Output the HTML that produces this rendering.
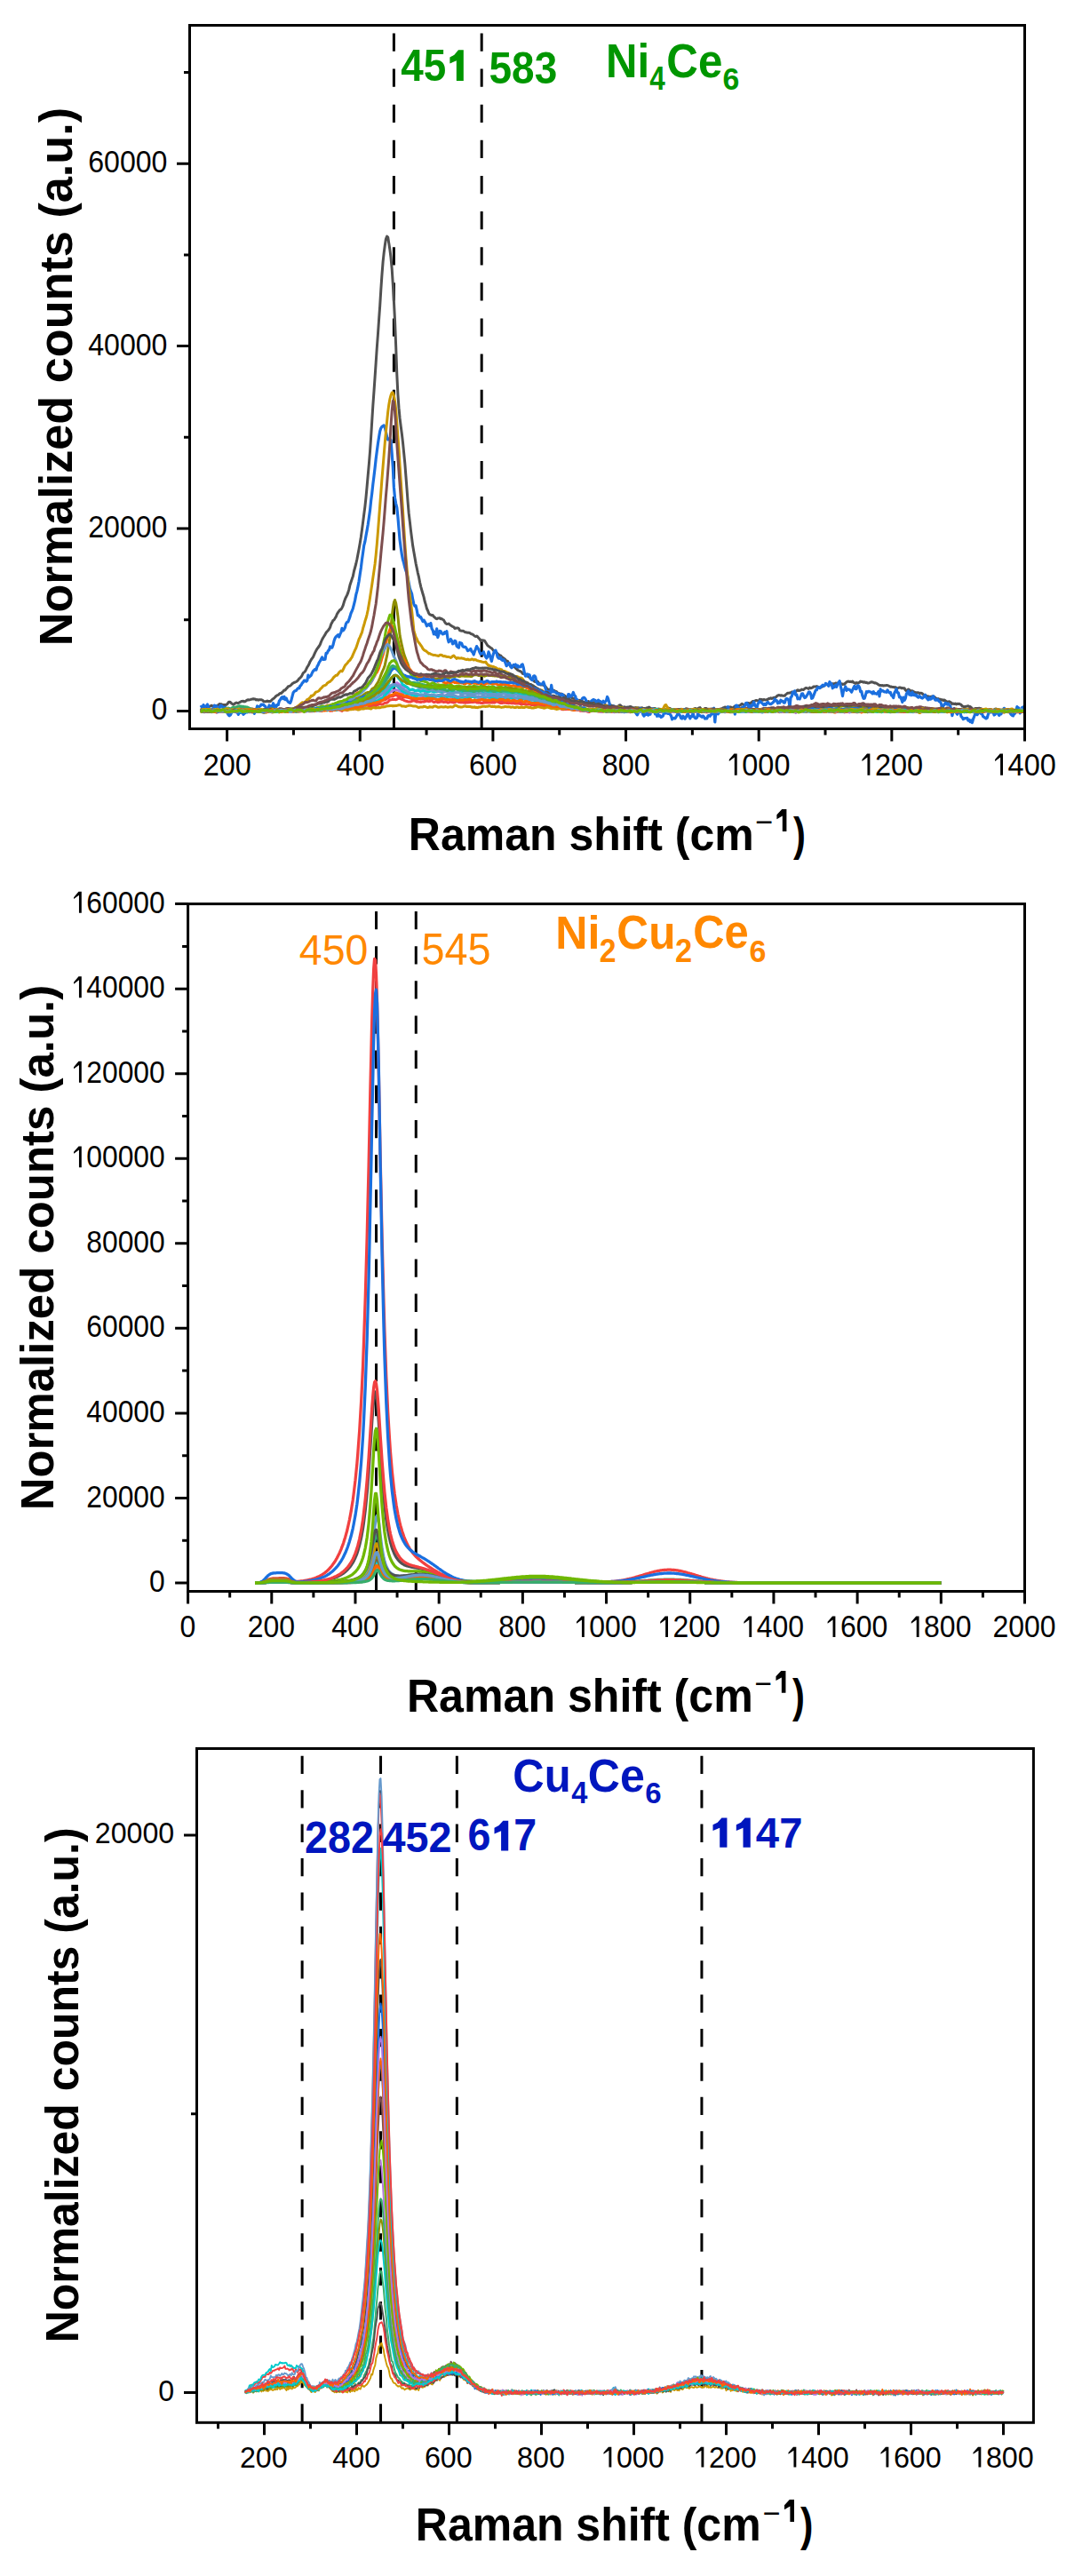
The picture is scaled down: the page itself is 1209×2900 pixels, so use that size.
<!DOCTYPE html><html><head><meta charset="utf-8"><style>html,body{margin:0;padding:0;background:#fff}svg{display:block}text{font-family:"Liberation Sans",sans-serif}</style></head><body>
<svg width="1209" height="2900" viewBox="0 0 1209 2900">
<rect width="1209" height="2900" fill="#fff"/>
<path d="M443.41 820.1V799.8M443.41 779.97V759.67M443.41 739.85V719.55M443.41 699.72V679.42M443.41 659.59V639.29M443.41 619.47V599.17M443.41 579.34V559.04M443.41 539.22V518.92M443.41 499.09V478.79M443.41 458.96V438.66M443.41 418.84V398.54M443.41 378.71V358.41M443.41 338.58V318.28M443.41 298.46V278.16M443.41 258.33V238.03M443.41 218.21V197.91M443.41 178.08V157.78M443.41 137.95V117.65M443.41 97.83V77.53M443.41 57.7V37.4M542.18 820.1V799.8M542.18 779.97V759.67M542.18 739.85V719.55M542.18 699.72V679.42M542.18 659.59V639.29M542.18 619.47V599.17M542.18 579.34V559.04M542.18 539.22V518.92M542.18 499.09V478.79M542.18 458.96V438.66M542.18 418.84V398.54M542.18 378.71V358.41M542.18 338.58V318.28M542.18 298.46V278.16M542.18 258.33V238.03M542.18 218.21V197.91M542.18 178.08V157.78M542.18 137.95V117.65M542.18 97.83V77.53M542.18 57.7V37.4" stroke="#000" stroke-width="3" fill="none"/>
<path d="M423.53 1790.1V1769.8M423.53 1750.95V1730.65M423.53 1711.81V1691.51M423.53 1672.66V1652.36M423.53 1633.51V1613.21M423.53 1594.36V1574.06M423.53 1555.22V1534.92M423.53 1516.07V1495.77M423.53 1476.92V1456.62M423.53 1437.77V1417.47M423.53 1398.63V1378.33M423.53 1359.48V1339.18M423.53 1320.33V1300.03M423.53 1281.18V1260.88M423.53 1242.04V1221.74M423.53 1202.89V1182.59M423.53 1163.74V1143.44M423.53 1124.59V1104.29M423.53 1085.45V1065.15M423.53 1046.3V1026M468.27 1790.1V1769.8M468.27 1750.95V1730.65M468.27 1711.81V1691.51M468.27 1672.66V1652.36M468.27 1633.51V1613.21M468.27 1594.36V1574.06M468.27 1555.22V1534.92M468.27 1516.07V1495.77M468.27 1476.92V1456.62M468.27 1437.77V1417.47M468.27 1398.63V1378.33M468.27 1359.48V1339.18M468.27 1320.33V1300.03M468.27 1281.18V1260.88M468.27 1242.04V1221.74M468.27 1202.89V1182.59M468.27 1163.74V1143.44M468.27 1124.59V1104.29M468.27 1085.45V1065.15M468.27 1046.3V1026" stroke="#000" stroke-width="3" fill="none"/>
<path d="M340.14 2726.6V2706.3M340.14 2688.21V2667.91M340.14 2649.81V2629.51M340.14 2611.42V2591.12M340.14 2573.02V2552.72M340.14 2534.63V2514.33M340.14 2496.23V2475.93M340.14 2457.84V2437.54M340.14 2419.44V2399.14M340.14 2381.05V2360.75M340.14 2342.65V2322.35M340.14 2304.26V2283.96M340.14 2265.86V2245.56M340.14 2227.47V2207.17M340.14 2189.07V2168.77M340.14 2150.68V2130.38M340.14 2112.28V2091.98M340.14 2073.89V2053.59M340.14 2035.49V2015.19M340.14 1997.1V1976.8M428.54 2726.6V2706.3M428.54 2688.21V2667.91M428.54 2649.81V2629.51M428.54 2611.42V2591.12M428.54 2573.02V2552.72M428.54 2534.63V2514.33M428.54 2496.23V2475.93M428.54 2457.84V2437.54M428.54 2419.44V2399.14M428.54 2381.05V2360.75M428.54 2342.65V2322.35M428.54 2304.26V2283.96M428.54 2265.86V2245.56M428.54 2227.47V2207.17M428.54 2189.07V2168.77M428.54 2150.68V2130.38M428.54 2112.28V2091.98M428.54 2073.89V2053.59M428.54 2035.49V2015.19M428.54 1997.1V1976.8M514.34 2726.6V2706.3M514.34 2688.21V2667.91M514.34 2649.81V2629.51M514.34 2611.42V2591.12M514.34 2573.02V2552.72M514.34 2534.63V2514.33M514.34 2496.23V2475.93M514.34 2457.84V2437.54M514.34 2419.44V2399.14M514.34 2381.05V2360.75M514.34 2342.65V2322.35M514.34 2304.26V2283.96M514.34 2265.86V2245.56M514.34 2227.47V2207.17M514.34 2189.07V2168.77M514.34 2150.68V2130.38M514.34 2112.28V2091.98M514.34 2073.89V2053.59M514.34 2035.49V2015.19M514.34 1997.1V1976.8M789.94 2726.6V2706.3M789.94 2688.21V2667.91M789.94 2649.81V2629.51M789.94 2611.42V2591.12M789.94 2573.02V2552.72M789.94 2534.63V2514.33M789.94 2496.23V2475.93M789.94 2457.84V2437.54M789.94 2419.44V2399.14M789.94 2381.05V2360.75M789.94 2342.65V2322.35M789.94 2304.26V2283.96M789.94 2265.86V2245.56M789.94 2227.47V2207.17M789.94 2189.07V2168.77M789.94 2150.68V2130.38M789.94 2112.28V2091.98M789.94 2073.89V2053.59M789.94 2035.49V2015.19M789.94 1997.1V1976.8" stroke="#000" stroke-width="3" fill="none"/>
<path d="M2257 7975l11 2 11-7 11 3 12-2 11 2 11-5 11-6 11 0 12-9 11-4 11-7 11 4 12 4 11-4 11-2 11 2 12-5 11-4 11-12 11 2 11 0 12 11 11-2 11 0 11-2 12-2 11-7 11-18 11-5 11 3 12 13 11 7 11 7 11-7 12-10 11-5 11 5 11 0 11-6 12-7 11-6 11-1 11-3 12 7 11-3 11-9 11-7 11-2 12 1 11-3 11-4 11-2 12-3 11 4 11 0 11 9 11-5 12 7 11-5 11 1 11 0 12 3 11 12 11 5 11 0 11-1 12-6 11 7 11-3 11 3 12-12 11-12 11-8 11-7 11-13 12-12 11-7 11-4 11-10 12-9 11 1 11-13 11-8 11-15 12 0 11-15 11-10 11-17 12-1 11-7 11-8 11-13 12-8 11-6 11-4 11-5 11-7 12-14 11-14 11-9 11-12 12-20 11-22 11-9 11-11 11-21 12-25 11-16 11-22 11-26 12-20 11-16 11-15 11-25 11-24 12-24 11-19 11-14 11-15 12-21 11-29 11-25 11-20 11-17 12-19 11-21 11-14 11-12 12-15 11-19 11-35 11-20 11-23 12-6 11-20 11-17 11-29 12-19 11-15 11-14 11-4 11-19 12-25 11-39 11-31 11-25 12-23 11-28 11-37 11-49 11-32 12-37 11-32 11-54 11-40 12-45 11-50 11-57 11-59 11-62 12-74 11-81 11-83 11-86 12-92 11-103 11-119 11-125 12-133 11-136 11-161 11-178 11-176 12-167 11-159 11-162 11-167 12-160 11-160 11-153 11-179 11-162 12-153 11-102 11-84 11-72 12-29 11 10 11 68 11 72 11 87 12 129 11 172 11 191 11 211 12 302 11 313 11 221 11 155 11 117 12 96 11 83 11 94 11 112 12 123 11 141 11 143 11 147 11 131 12 100 11 97 11 85 11 85 12 69 11 63 11 64 11 52 11 54 12 49 11 58 11 48 11 40 12 42 11 36 11 51 11 34 11 44 12 25 11 29 11 14 11 4 12 6 11-2 11 15 11 9 12 13 11 4 11-8 11 1 11-2 12 9 11-1 11 8 11 7 12 22 11 15 11 8 11-2 11-3 12 11 11 7 11 9 11 6 12 5 11 15 11-1 11-4 11 0 12 6 11 22 11 4 11 1 12 1 11 2 11 10 11 2 11 4 12 2 11-1 11 2 11 9 12 5 11 3 11 10 11 8 11 7 12-5 11 7 11 15 11 11 12 18 11 2 11-2 11-3 11 5 12 19 11 17 11 18 11 7 12 9 11 8 11 6 11 13 11 13 12 16 11 3 11 4 11 13 12 8 11 9 11 2 11 14 11 8 12 10 11 7 11 11 11 13 12 0 11 21 11 13 11 22 12-3 11 5 11 4 11 4 11 12 12 10 11 13 11 6 11 4 12 6 11 6 11 17 11 3 11 3 12-1 11 15 11 10 11 6 12 8 11 10 11 8 11 8 11 7 12 14 11 3 11 1 11-6 12 14 11 12 11 13 11-2 11 1 12 6 11 4 11 11 11 13 12 17 11 4 11-2 11-1 11 2 12 0 11 13 11-1 11 14 12-3 11 16 11 0 11 9 11-2 12 3 11 5 11 6 11 6 12 9 11 6 11 11 11-1 11-9 12-6 11 7 11 15 11 2 12 2 11 7 11 11 11 6 12 0 11-4 11-2 11 5 11 8 12 7 11 2 11 6 11-9 12-1 11-6 11 6 11 3 11 2 12 4 11 0 11-5 11 3 12 4 11 9 11-5 11-3 11 7 12 12 11 10 11 2 11-4 12-6 11 8 11 3 11 9 11-11 12-3 11 0 11 6 11 9 12-4 11 6 11 2 11 5 11-11 12-14 11-2 11 12 11 10 12 5 11-6 11 6 11-2 11 3 12-5 11-1 11-4 11 3 12 8 11 2 11 3 11-4 11-1 12 3 11-2 11 10 11-8 12 2 11-3 11 12 11-6 11 6 12-9 11 2 11-9 11-3 12 11 11 4 11 7 11-6 12-2 11 0 11 6 11 5 11-5 12 1 11 0 11 11 11-10 12 8 11-3 11 6 11-7 11-11 12-7 11 5 11 1 11 11 12 4 11 16 11-6 11-10 11 3 12-1 11 4 11-12 11 4 12-5 11 1 11 3 11-2 11 1 12-8 11 1 11 5 11 4 12 8 11 0 11-1 11-5 11-10 12-4 11 1 11 9 11-8 12-9 11-3 11 16 11 11 11-2 12-9 11-7 11-1 11 6 12 2 11 3 11-2 11 0 11-4 12 8 11 0 11 3 11-4 12-1 11 2 11-3 11 0 11-5 12-2 11-7 11-3 11-6 12 2 11 2 11 3 11-5 12-3 11 1 11 11 11-5 11-6 12-12 11 1 11-4 11-2 12 1 11-4 11-7 11-11 11 5 12 7 11 7 11-9 11-11 12-9 11 4 11 1 11-5 11-8 12-10 11 4 11-9 11-5 12 1 11 3 11 5 11-21 11 3 12-2 11 9 11-8 11 3 12 1 11-3 11-1 11-11 11 0 12-6 11 7 11-6 11-4 12-3 11-3 11-10 11-10 11-3 12 1 11 5 11-5 11 6 12-1 11 1 11-14 11-8 11-9 12 1 11-4 11-2 11-6 12-2 11 3 11 3 11-7 12-13 11-8 11 8 11-3 11-2 12-9 11 3 11 0 11-10 12-9 11 0 11 5 11 4 11-13 12 7 11-4 11-4 11-11 12 2 11 0 11-5 11 3 11 8 12 4 11-1 11-7 11-4 12-8 11-5 11-12 11-3 11 9 12 0 11-1 11-14 11 6 12-4 11 4 11-4 11-6 11 1 12-2 11 2 11-2 11 8 12-1 11 8 11-4 11 3 11-15 12-11 11-6 11-1 11 4 12-2 11 4 11-7 11 14 11 3 12 7 11-9 11 7 11-6 12-3 11-13 11 6 11-1 11 7 12-5 11 7 11-1 11 6 12 1 11-4 11-5 11-4 12 2 11 5 11 5 11-2 11 6 12 7 11 8 11 7 11 0 12 2 11-1 11 4 11-2 11-1 12-1 11 0 11 3 11 7 12 6 11-2 11 5 11-1 11 5 12-3 11 9 11 2 11-3 12-4 11-1 11 8 11-1 11 1 12 1 11 21 11 8 11-9 12-7 11 7 11 8 11 5 11-3 12 7 11 7 11 5 11 1 12-1 11 1 11 8 11-3 11-1 12 7 11 9 11 9 11 1 12 5 11 6 11 2 11 2 11 1 12-2 11-2 11 2 11 2 12 12 11 6 11 8 11-4 11 9 12-3 11 9 11-4 11 8 12-5 11 8 11 8 11 7 12-2 11-3 11 5 11 9 11 12 12-4 11 6 11-6 11 9 12-6 11 2 11-2 11 6 11 5 12 16 11 2 11 8 11-6 12-2 11-2 11-3 11 8 11 1 12 8 11 12 11 6 11 2 12-9 11-1 11 1 11-1 11-1 12 3 11 2 11 12 11 1 12 6 11-13 11 2 11 7 11 6 12-9 11-4 11 2 11 8 12 0 11-6 11-8 11-2 11 7 12 1 11 2 11-1 11 10 12 2 11 0 11 0 11-3 11 1 12-3 11 4 11 1 11 2 12-2 11-1 11-3 11 5 12 8 11 2 11-3 11-13 11 3 12 4 11-3 11-2 11-3 12 9" stroke="#515151" stroke-width="30.0" fill="none" stroke-linejoin="round" transform="scale(.1)"/>
<path d="M2257 8004l11 3 11-4 11-2 12 2 11 3 11 2 11-11 11-4 12 3 11 1 11 4 11-1 12 4 11 2 11-12 11-3 12-5 11 13 11 7 11-1 11-5 12-3 11 1 11-1 11-3 12 5 11-2 11-3 11-11 11 4 12 6 11 5 11-5 11-17 12-14 11-2 11 11 11 9 11-2 12-7 11-2 11-3 11 5 12 9 11 9 11 2 11-14 11-1 12 2 11 8 11-2 11-4 12 3 11 2 11 0 11 5 11 3 12 0 11-3 11 0 11 2 12 3 11 5 11 0 11 2 11-5 12-1 11 5 11 5 11 7 12-5 11-1 11-2 11-4 11-1 12-2 11 5 11 2 11-4 12 6 11-7 11 7 11-13 11 15 12 0 11 1 11-10 11-5 12 6 11 2 11 6 11-5 12-4 11-2 11 3 11 2 11-1 12 3 11-1 11 0 11-1 12 1 11-6 11 0 11-3 11 0 12-5 11 1 11 1 11 7 12 5 11 4 11-4 11-5 11-8 12-7 11-1 11 6 11 9 12-2 11 5 11-8 11 2 11-7 12 9 11-7 11-1 11-12 12 4 11 8 11 9 11 4 11-12 12-1 11-2 11 2 11-4 12-5 11 3 11 8 11 5 11 6 12-13 11-9 11-8 11 2 12-1 11-4 11-1 11-2 11 0 12 9 11 11 11-5 11-12 12-2 11 2 11 4 11-9 11 8 12-8 11-3 11-15 11-3 12-7 11-5 11 1 11 1 12 6 11-4 11-1 11 0 11-6 12-6 11 3 11 7 11 0 12-8 11-14 11-6 11-11 11-3 12-9 11-1 11-4 11-2 12-10 11-6 11-10 11-6 11-2 12-1 11 0 11-6 11-8 12-3 11 7 11 7 11 2 11-3 12 6 11 1 11 7 11-4 12 4 11-3 11 5 11 1 11 2 12 6 11 2 11 4 11-2 12 4 11 3 11 5 11-2 11-6 12-3 11 0 11 4 11-3 12 2 11-3 11 12 11 1 11-1 12-14 11-3 11 7 11 3 12 3 11-7 11-1 11-4 12 9 11 1 11 4 11-1 11 5 12 0 11-2 11-5 11-3 12-10 11 5 11-1 11 15 11 0 12 9 11-7 11-1 11-4 12 5 11-2 11 2 11-1 11-5 12-1 11 4 11 12 11-3 12-2 11-1 11 7 11 0 11 1 12-10 11 1 11-3 11 8 12 6 11 5 11 1 11-6 11-1 12-7 11-1 11-9 11 2 12 2 11-4 11 4 11 6 11 17 12 1 11-10 11-8 11-6 12 4 11-1 11 3 11 3 11 1 12 2 11-8 11-3 11-2 12 7 11 2 11 0 11-3 11 0 12 2 11-4 11 3 11 1 12 4 11 1 11 4 11 2 12 5 11-1 11-3 11-6 11-2 12 3 11-2 11 5 11-2 12 4 11 2 11 6 11 0 11-2 12-2 11-7 11-1 11 1 12 10 11 5 11 3 11 2 11 2 12 1 11 4 11-2 11 8 12-6 11 3 11-7 11 12 11 6 12 4 11-1 11-5 11 5 12 4 11 3 11-4 11-5 11 4 12 3 11 8 11-3 11-1 12-5 11 12 11 3 11 9 11-6 12 3 11-5 11 4 11 5 12 10 11 5 11-2 11 1 11-5 12 5 11 0 11 1 11-3 12 2 11 6 11 4 11-5 12 3 11 3 11 3 11-4 11-3 12 2 11-3 11 2 11 2 12 12 11 4 11 6 11-6 11-3 12-12 11-1 11 8 11 6 12 0 11 2 11 2 11 0 11-7 12 4 11 4 11 0 11-14 12 0 11 3 11 7 11-3 11-5 12-4 11 1 11 7 11 5 12 0 11-8 11-3 11 2 11 1 12 0 11-2 11-1 11 3 12-1 11 4 11-3 11-9 11-2 12 7 11 11 11 3 11-5 12 0 11-11 11-2 11-7 11 12 12 3 11-1 11 4 11-2 12 13 11-11 11 5 11-4 11 6 12 1 11-10 11 0 11-12 12 12 11 4 11 5 11-3 12-15 11 4 11 6 11 13 11-5 12-7 11 0 11 2 11 0 12-6 11 1 11 1 11 14 11 1 12-1 11-10 11-2 11-5 12 1 11 4 11 5 11-2 11 0 12-3 11-5 11-2 11 7 12 6 11-7 11-1 11 3 11 6 12-3 11-3 11-2 11-3 12-7 11 1 11 1 11 7 11-13 12 7 11 2 11 10 11 2 12 0 11-3 11 0 11-1 11-4 12-3 11 4 11 15 11-1 12 2 11-11 11-6 11-8 11 5 12 3 11 4 11 1 11 4 12-2 11-3 11-4 11-7 11-3 12-1 11 10 11-3 11 2 12-6 11 7 11 1 11 11 12-1 11 4 11-5 11-8 11 3 12-3 11 6 11-7 11-4 12 5 11 4 11 6 11-9 11-5 12-1 11 4 11 7 11-3 12-8 11-5 11 4 11 9 11 3 12 4 11-10 11-2 11-5 12-2 11-1 11-6 11 7 11-4 12 5 11 2 11 3 11-3 12-5 11 0 11 4 11 5 11-1 12 1 11 0 11-1 11-4 12-3 11 4 11 7 11 1 11-3 12-4 11 0 11-3 11-1 12-1 11 7 11-1 11 5 11 1 12-2 11 7 11-5 11-2 12-12 11 6 11 1 11 8 12-2 11-5 11-7 11-8 11 9 12 8 11 7 11-9 11-11 12-6 11 5 11 3 11 4 11-11 12 0 11-8 11 11 11-5 12 10 11 1 11 4 11-2 11-1 12 2 11 0 11-7 11-5 12 3 11-1 11 4 11-5 11 7 12-3 11-3 11 1 11 3 12 7 11-8 11 3 11-2 11 9 12-3 11-6 11-2 11 1 12 4 11-6 11-1 11 5 11-1 12 0 11-13 11 7 11 3 12 8 11 3 11-1 11-5 11-7 12 7 11 0 11 1 11-11 12 4 11 1 11 3 11 0 11 4 12-3 11-1 11-5 11 3 12 2 11 2 11 6 11-2 12-1 11-4 11 7 11-3 11 0 12-6 11 6 11 1 11 2 12 3 11 0 11-9 11-8 11-9 12 10 11 11 11 12 11 8 12-11 11-9 11-9 11 2 11 3 12 1 11-1 11 5 11 2 12 3 11 3 11 2 11-2 11-7 12 5 11-1 11 0 11-11 12 3 11 0 11 7 11 1 11 6 12-3 11-5 11-9 11-2 12 6 11 3 11-1 11-8 11 0 12 10 11 7 11 4 11-6 12 0 11-1 11-1 11-5 11-1 12-3 11 5 11-3 11 6 12-4 11 6 11-10 11 0 11-3 12 7 11 4 11 1 11 4 12 2 11 4 11-10 11-7 12 0 11 7 11 11 11-4 11-5 12-11 11 6 11 0 11 7 12-2 11 4 11 3 11-5 11-1 12-7 11 4 11 7 11 7 12-3 11-1 11-1 11 0 11-1 12-5 11 0 11-2 11 3 12 3 11-1 11 1 11-1 11-2 12 2 11 4 11-8 11 1 12-3 11 3 11-7 11 2 11-3 12-2 11-2 11 12 11 4 12-1 11-3 11 5 11 1 11-1 12-6 11 5 11 9 11 0 12-4 11-11 11 3 11-8 11 0 12 1 11 5 11 2 11-4 12 2 11 7 11 2 11-2 12-5 11 4 11-2 11 5 11-2 12-2 11-2 11-3 11 3 12-4" stroke="#F14040" stroke-width="30.0" fill="none" stroke-linejoin="round" transform="scale(.1)"/>
<path d="M2257 7962l11-9 11 11 11-28 12 16 11 4 11-9 11-17 11 29 12 30 11 23 11 3 11-37 12 7 11-44 11 17 11-11 12 22 11 8 11-6 11-28 11 0 12 12 11 23 11-14 11-1 12 17 11 49 11 19 11 10 11-8 12-25 11-22 11-8 11 16 12-14 11 21 11-1 11 27 11-22 12 2 11-2 11-10 11 31 12-12 11-5 11-23 11 16 11-23 12-4 11-13 11 38 11-6 12 3 11 19 11-46 11 0 11-38 12 37 11-32 11-5 11-19 12 3 11-3 11 16 11 4 11 36 12-14 11 1 11-34 11 27 12-17 11 7 11-39 11 40 11-15 12 13 11-22 11 2 11-42 12-16 11-19 11-10 11 18 11-23 12 34 11-17 11 25 11 17 12 8 11 4 11-27 11-44 12-45 11-14 11-7 11-3 11-16 12-12 11 2 11-27 11-7 12-24 11-10 11-19 11-1 11 12 12-9 11-62 11 22 11-11 12-10 11-27 11-20 11-10 11-11 12 8 11-38 11-17 11-28 12-17 11-21 11-22 11 26 11-2 12-1 11-69 11 0 11-25 12-10 11-39 11 12 11 1 11-29 12-49 11-30 11-17 11-9 12-12 11 24 11-29 11-22 11-45 12 24 11-12 11-21 11-44 12-18 11-1 11-30 11-31 11-39 12-24 11-31 11-43 11-45 12-65 11-41 11-52 11-58 11-76 12-78 11-90 11-77 11-81 12-46 11-64 11-60 11-63 12-82 11-78 11-108 11-85 11-102 12-94 11-93 11-101 11-85 12-90 11-71 11-65 11-33 11-17 12-8 11-7 11 23 11 49 12 57 11 32 11-9 11 1 11 13 12 151 11 152 11 226 11 118 12 69 11 43 11 105 11 132 11 130 12 90 11 73 11 57 11 38 12 49 11 37 11 29 11 52 11 57 12 63 11 31 11 28 11 64 12 53 11 22 11-4 11 49 11 60 12-2 11 22 11-2 11 24 12 26 11-16 11 18 11 19 11 30 12-14 11-7 11 17 11-28 12 62 11 17 11 43 11-23 12 30 11-66 11 97 11-33 11-39 12 4 11 20 11 12 11-4 12-19 11 11 11-21 11 82 11 39 12-16 11-17 11 19 11 35 12-8 11-28 11 6 11 55 11 10 12 7 11-57 11 5 11 3 12 36 11 5 11-1 11 4 11 15 12 26 11-6 11-5 11-11 12 28 11 10 11 27 11-35 11-27 12-32 11 20 11 14 11 32 12 22 11-7 11-3 11-15 11 32 12 25 11 14 11-19 11-53 12 32 11 41 11 33 11-50 11-38 12-29 11-6 11 30 11 44 12 16 11 2 11-11 11 25 11 7 12-8 11 15 11 26 11 30 12-12 11-16 11-3 11 38 12 14 11-12 11-22 11 4 11-9 12 27 11-15 11 21 11-7 12 3 11-23 11-5 11 38 11 60 12 33 11-2 11-19 11 4 12 3 11 43 11 13 11 3 11-43 12-5 11 15 11 52 11 20 12 9 11-8 11 6 11 0 11 0 12-24 11 32 11 39 11 36 12 12 11-12 11 15 11 1 11-87 12 75 11-9 11 9 11 2 12 12 11 5 11 0 11 13 11 19 12-22 11-2 11 17 11 21 12 46 11-24 11-2 11-59 11 2 12 24 11-6 11-11 11-30 12 35 11 8 11 49 11-10 12 43 11-9 11 31 11-48 11-28 12-12 11 1 11 14 11 23 12 27 11 29 11-30 11-10 11-14 12-9 11-9 11 4 11 5 12 20 11-8 11-15 11 11 11 3 12 30 11-18 11-14 11 16 12-9 11-13 11-42 11 23 11 40 12 51 11 2 11-3 11-11 12 45 11 12 11 7 11-2 11-24 12 21 11 6 11 1 11 1 12-9 11 3 11-15 11 9 11 6 12 6 11 0 11-15 11-14 12 11 11 1 11-4 11 20 11 18 12 18 11-21 11-34 11-18 12 2 11 30 11 40 11 13 11-22 12 5 11-24 11 32 11-22 12 12 11-39 11-9 11-16 12 21 11 40 11-19 11 43 11-22 12 20 11-5 11 18 11-6 12-12 11-39 11 12 11 0 11-9 12 13 11-32 11 42 11 13 12 43 11-15 11 3 11 2 11-18 12-19 11-27 11 17 11 14 12 30 11 4 11-28 11 17 11 13 12-20 11-23 11-13 11 29 12 23 11-25 11 4 11-41 11 42 12 14 11 5 11-9 11-46 12 24 11 1 11 7 11 9 11-14 12 13 11 19 11-4 11 1 12-29 11-6 11 9 11-16 11-8 12-56 11-9 11 157 11-123 12 9 11 23 11-19 11 0 11-19 12 4 11-13 11-11 11 16 12-16 11 1 11-25 11 18 12 13 11-1 11 4 11-3 11 0 12 52 11-96 11-3 11 19 12 12 11 3 11 11 11-19 11-6 12-4 11-12 11-30 11-2 12 24 11 40 11-33 11 16 11-22 12 4 11-40 11 35 11 16 12 18 11-46 11-15 11-16 11 6 12 13 11 11 11 11 11-11 12 11 11-20 11-11 11 13 11 8 12 2 11-8 11-9 11-10 12-30 11 19 11-2 11 31 11-15 12 9 11-30 11 11 11 1 12 18 11-1 11-36 11-11 11 5 12 16 11 78 11-113 11-8 12-49 11 14 11-29 11 45 12-2 11 47 11-5 11 6 11-29 12-29 11-3 11 28 11 19 12-5 11-18 11-16 11-24 11-1 12 20 11 52 11-5 11-29 12-30 11-29 11-2 11-28 11-1 12 7 11-11 11-11 11-11 12 11 11-7 11-22 11 6 11 4 12 19 11-48 11 15 11 9 12 48 11-20 11 7 11-24 11 23 12-34 11-12 11-22 11 55 12 51 11 64 11-66 11-9 11-31 12 44 11-15 11 2 11 2 12 12 11 17 11-25 11-24 11-19 12 32 11 0 11-36 11-1 12 22 11 45 11-3 11 50 11 30 12-1 11-35 11-40 11 7 12-11 11 3 11 5 11 3 12 15 11-23 11 22 11-3 11 8 12-8 11-21 11 55 11-80 12 22 11-6 11 6 11 8 11-1 12 5 11-24 11 18 11 11 12-4 11 34 11 7 11 21 11-53 12-24 11-23 11 40 11 2 12 50 11-2 11 24 11 35 11-54 12 32 11-18 11-51 11-19 12-15 11 42 11-15 11 20 11-35 12 33 11-10 11 15 11-8 12 23 11 7 11-16 11 8 11 12 12 5 11-10 11-18 11-10 12 31 11 12 11 13 11-26 11 19 12-4 11-22 11-10 11 27 12 18 11 1 11-10 11 12 11 12 12 7 11 20 11 66 11-46 12-8 11-22 11 3 11 15 12-11 11 16 11 10 11 45 11 66 12-54 11-28 11 38 11 11 12 18 11-25 11 0 11 3 11 46 12 11 11 19 11-7 11-3 12 0 11-3 11 28 11-8 11 24 12-17 11 25 11-39 11-29 12-32 11 4 11 7 11-13 11-17 12-6 11 25 11 4 11 28 12 7 11 7 11 8 11-7 11-38 12-26 11-2 11 4 11-14 12 10 11 34 11-7 11-22 11-16 12 32 11 17 11-18 11 2 12-28 11-14 11-23 11 9 11 17 12-3 11 1 11 3 11 25 12 18 11 10 11 6 11-20 12-9 11-32 11-42 11 10 11 8 12 55 11-22 11-41 11 2 12-18" stroke="#1A6FDF" stroke-width="32.0" fill="none" stroke-linejoin="round" transform="scale(.1)"/>
<path d="M2257 8007l11 0 11-5 11-2 12 2 11-3 11 6 11-7 11 2 12-2 11 3 11 0 11-1 12 2 11-2 11 0 11 1 12-1 11-1 11 0 11 2 11 5 12-5 11-5 11-15 11-3 12-3 11 0 11-4 11 5 11 3 12-2 11-10 11-5 11 1 12 3 11-3 11-8 11-5 11-2 12 5 11-1 11 4 11-2 12 4 11 0 11 3 11 0 11 7 12 5 11 4 11 3 11 5 12 3 11-2 11 3 11 1 11 2 12 6 11-1 11 3 11-2 12 4 11-3 11 0 11 2 11 0 12-7 11-7 11 4 11 7 12 9 11 1 11 0 11-4 11-5 12 1 11-4 11 7 11-2 12 9 11-5 11-2 11-4 11 10 12 1 11-1 11 0 11-8 12 0 11-12 11 7 11-2 12-1 11-9 11 5 11-2 11 10 12-4 11 7 11-3 11 5 12 0 11 2 11-5 11-3 11-4 12-1 11-4 11-1 11-3 12 0 11 0 11 1 11 1 11 0 12-4 11 3 11-1 11 3 12-2 11-2 11 0 11 5 11-4 12-2 11-10 11 5 11-4 12 5 11-9 11 0 11-4 11 12 12 4 11-1 11-8 11-7 12-2 11-6 11-3 11-3 11 3 12 0 11-5 11-3 11-5 12-2 11-4 11-7 11-4 11 1 12 1 11-4 11-6 11-8 12 2 11 2 11 5 11-5 11-10 12-18 11-9 11-8 11-1 12 2 11-3 11-3 11-16 12-4 11-2 11-1 11-8 11-11 12-8 11-9 11-6 11-7 12-15 11-10 11-14 11-2 11-9 12-15 11-19 11-25 11-18 12-20 11-14 11-23 11-21 11-29 12-15 11-17 11-5 11-4 12 5 11 2 11 16 11 17 11 21 12 15 11 7 11 16 11 6 12 14 11 12 11 13 11 5 11 6 12 7 11 8 11 1 11-2 12 1 11 1 11 7 11-2 11-2 12 3 11 6 11 8 11-1 12 3 11 2 11 6 11 2 11-1 12-6 11-3 11 2 11 6 12 7 11-3 11-1 11-6 12 1 11-1 11 3 11 3 11 6 12 2 11-2 11-9 11 0 12 1 11-2 11-1 11 2 11 10 12 1 11 6 11-2 11 5 12-4 11 4 11-6 11 0 11 0 12 4 11-1 11 0 11 0 12 5 11 2 11-2 11 1 11-3 12 1 11-8 11 3 11 3 12 4 11-1 11 5 11-3 11-2 12-8 11 6 11 0 11 1 12-7 11-1 11-5 11 9 11 5 12 5 11-1 11-8 11-2 12 2 11 5 11-4 11-2 11-2 12 11 11 1 11 2 11-3 12-2 11-1 11-3 11 5 11 2 12 2 11-5 11-3 11 3 12 3 11 7 11-2 11 3 12 0 11 4 11-4 11 1 11 4 12 2 11 4 11 1 11 10 12-2 11-1 11 2 11 3 11 1 12 0 11 6 11 5 11-1 12 3 11 1 11 5 11-5 11 8 12 1 11 5 11-2 11 7 12 1 11 7 11 5 11 10 11 8 12 3 11 2 11 0 11 6 12 2 11 4 11 5 11 4 11-2 12 6 11 8 11 9 11 4 12 0 11 8 11 6 11 10 11-1 12 7 11 1 11 13 11-4 12 3 11-4 11 0 11 5 11 2 12 8 11 0 11 8 11 2 12 7 11-4 11 3 11 2 12 5 11 3 11 2 11-4 11 6 12 6 11 14 11 0 11-2 12-5 11-2 11 0 11 3 11 6 12-1 11-3 11-1 11 1 12 7 11 0 11 3 11-4 11 4 12 1 11 0 11-5 11-1 12 10 11 4 11 3 11-5 11 5 12-4 11-3 11-1 11 5 12 0 11-8 11-4 11 4 11 4 12 2 11-6 11-1 11 3 12 1 11-1 11-6 11 0 11-3 12 10 11 6 11 7 11-3 12-5 11-4 11-4 11 4 11-4 12-1 11 3 11 6 11 5 12-8 11-5 11-8 11 7 11 2 12 5 11-3 11 1 11 6 12-2 11 1 11-2 11-3 12 0 11-4 11 6 11 3 11 2 12-3 11-2 11-3 11-4 12-6 11 2 11 7 11 1 11 3 12 1 11-2 11-6 11-4 12 6 11-8 11-8 11 0 11 5 12 11 11-2 11-2 11-5 12 2 11 3 11-5 11-3 11-3 12 6 11 3 11 8 11 5 12 4 11 0 11 0 11-7 11 1 12-3 11 8 11-13 11 3 12-7 11 3 11-1 11 0 11 5 12-3 11 2 11-5 11-2 12-2 11 2 11 3 11 2 11 4 12-1 11 3 11 0 11 0 12-1 11-2 11 4 11-4 11 2 12-5 11 3 11 6 11 8 12-13 11-2 11-5 11 16 12-9 11-5 11-7 11 7 11-1 12 5 11-7 11 3 11 5 12 4 11 2 11-15 11 4 11-2 12 8 11-1 11 1 11-1 12-4 11-1 11 1 11 1 11 1 12 0 11 0 11-6 11-3 12-2 11 0 11 4 11-2 11 4 12-2 11 5 11-4 11 2 12-4 11 3 11 0 11 0 11 1 12-5 11 3 11-1 11 0 12 2 11-4 11 3 11-5 11 2 12 3 11-5 11-2 11-4 12 2 11-2 11 1 11 5 11 7 12 5 11-2 11-7 11 0 12-1 11 1 11-3 11 0 12 5 11-2 11 1 11-2 11 2 12-3 11-5 11 2 11-1 12 6 11 2 11 4 11-4 11-6 12-3 11 6 11-4 11-2 12-8 11 9 11 1 11 3 11-4 12 2 11 3 11-5 11-3 12-8 11-1 11 8 11 4 11 5 12-2 11-3 11-9 11-1 12 1 11 7 11-3 11 1 11-2 12 2 11 2 11-3 11-2 12-1 11 10 11-2 11-1 11-6 12-4 11 8 11-2 11 10 12-3 11 9 11-7 11-3 11-5 12 3 11 6 11 0 11 0 12-4 11-2 11 6 11-3 11 1 12-5 11-4 11-1 11 3 12 3 11 4 11-7 11 2 12-4 11 4 11 4 11 0 11 3 12-10 11-5 11-6 11 7 12 4 11 2 11 3 11 3 11-1 12-3 11-4 11 10 11 3 12 3 11-3 11-2 11 1 11 2 12-5 11-4 11 0 11 0 12 0 11-4 11 14 11-3 11 1 12-11 11-1 11 4 11-1 12 3 11-5 11 13 11-3 11-1 12-8 11 9 11 0 11 0 12-8 11 5 11 8 11 7 11 0 12-7 11-1 11-3 11-3 12-5 11 0 11 9 11 5 11 1 12-4 11 1 11-1 11 7 12-2 11-1 11-8 11 2 11-1 12 7 11 0 11 1 11-4 12 1 11-2 11 0 11 2 12 5 11-2 11 1 11-1 11 2 12-3 11-2 11-3 11 0 12 1 11 0 11 3 11 0 11 6 12-6 11 0 11 1 11 5 12-2 11-4 11 3 11-3 11 1 12-6 11 6 11 3 11 5 12-1 11-2 11-4 11-1 11-1 12 2 11 3 11-2 11 1 12-7 11 5 11-12 11 5 11 3 12 6 11 2 11-4 11 1 12 0 11 9 11-2 11 1 11-10 12 0 11 0 11 3 11 0 12 1 11-4 11 4 11 0 11 3 12-6 11 2 11-5 11 10 12-4 11 4 11-9 11 0 12-7 11-6 11 2 11 5 11 11 12 2 11 2 11-6 11-4 12-1" stroke="#37AD6B" stroke-width="32.0" fill="none" stroke-linejoin="round" transform="scale(.1)"/>
<path d="M2257 8001l11 4 11 2 11 3 12 2 11-7 11 1 11-5 11 3 12 3 11 0 11 6 11-3 12-1 11-10 11 0 11-4 12 5 11 4 11 2 11 0 11-3 12-1 11 4 11-1 11 1 12-6 11 1 11 1 11 2 11-3 12 1 11 7 11 3 11-6 12-3 11-1 11 2 11-2 11 3 12 2 11 0 11 0 11 0 12 4 11 2 11 3 11-4 11-5 12-1 11-4 11-2 11-2 12 0 11-3 11-2 11 5 11 2 12-1 11-3 11 3 11 2 12 1 11 5 11-4 11 1 11-12 12 5 11 2 11 4 11-1 12-5 11 4 11 2 11 4 11 1 12-3 11 2 11-3 11-2 12-1 11 2 11 5 11-2 11-1 12-4 11-4 11 2 11 0 12 5 11 1 11 5 11 4 12-4 11 2 11-6 11-8 11-3 12 7 11 6 11 1 11-7 12 1 11-4 11-7 11-1 11-1 12 7 11 3 11 2 11 3 12-5 11-2 11-6 11 2 11-8 12 2 11-2 11 8 11-4 12 2 11-3 11 7 11-3 11-5 12-9 11 4 11 2 11 5 12 1 11 5 11-6 11-5 11-1 12 1 11-3 11-4 11-1 12 1 11-6 11-2 11-3 11 1 12-2 11-1 11-2 11 1 12-1 11 5 11 1 11 0 11-8 12-14 11-2 11-1 11 9 12-5 11-3 11-9 11 0 11-5 12-2 11-7 11 2 11 0 12-4 11-9 11-7 11-3 12-3 11-2 11-9 11-12 11-7 12-6 11 7 11-8 11-4 12-13 11-6 11-9 11 0 11-7 12-4 11-13 11-9 11-16 12-9 11-14 11-8 11-19 11-7 12-12 11-4 11 1 11-3 12-4 11-14 11 8 11 8 11 7 12 7 11 8 11 8 11 1 12-1 11 4 11 5 11 11 11 9 12 3 11-1 11 0 11-1 12 5 11 3 11 8 11-7 11 0 12-6 11 3 11-1 11 4 12 6 11 3 11 5 11 0 11-2 12-6 11-3 11 0 11-1 12 3 11 2 11 0 11 2 12 5 11 1 11-1 11-7 11 5 12 5 11 5 11 0 11-2 12-4 11-3 11 1 11 10 11 2 12-5 11-6 11-3 11 1 12 0 11 9 11-2 11 3 11-8 12 9 11 1 11-1 11 0 12-3 11 5 11-9 11-1 11-4 12 5 11 6 11-2 11 2 12-5 11 6 11 3 11-1 11 1 12 0 11 7 11 6 11-3 12-4 11-3 11-2 11 0 11-4 12 0 11 0 11 4 11 3 12 3 11-4 11-2 11-6 11-2 12 3 11 4 11-1 11-2 12-2 11 6 11-6 11 2 11-1 12 10 11 3 11 2 11-5 12 3 11-3 11 3 11-4 12 0 11-1 11 1 11 0 11 5 12 1 11 4 11-7 11 4 12-1 11 12 11-3 11 3 11-4 12 3 11 7 11 4 11 4 12 0 11 3 11 0 11 1 11 2 12 5 11-1 11-4 11 0 12 5 11 13 11 8 11 7 11 2 12-2 11 2 11-3 11 6 12 2 11 8 11 8 11 5 11 0 12-3 11 2 11 4 11 5 12 3 11-2 11 3 11 10 11 17 12 6 11-3 11-6 11 1 12 4 11 4 11 6 11 3 11 4 12 0 11 5 11 2 11-2 12 0 11 11 11 8 11 3 12-6 11 1 11 1 11 0 11-3 12 0 11 7 11 9 11 0 12 0 11-3 11 4 11-2 11 0 12 3 11 3 11 1 11-2 12 2 11-4 11 4 11-7 11 11 12-6 11 8 11-7 11 3 12-8 11 5 11 0 11 2 11-3 12 3 11-3 11 6 11 3 12 8 11-10 11-1 11-3 11 7 12-2 11-1 11-1 11 4 12-2 11-2 11-9 11 0 11 0 12 9 11 1 11-2 11-9 12-1 11-1 11 4 11-4 11-1 12 1 11 10 11-2 11 0 12-2 11 9 11 6 11-3 11-4 12-6 11-3 11 1 11 0 12 5 11 1 11 8 11 1 12-6 11-5 11-4 11 3 11-7 12-4 11 2 11 8 11 1 12-3 11-2 11 0 11-1 11 0 12-6 11 1 11 4 11 8 12 1 11-9 11 0 11 2 11 4 12 5 11-1 11 0 11-1 12 5 11 4 11 0 11-7 11-2 12-2 11 4 11-1 11 1 12-4 11 0 11-7 11 0 11 2 12 7 11 1 11-3 11-7 12 2 11 6 11 10 11 2 11-4 12-4 11-2 11-1 11-1 12 4 11 0 11 1 11-4 11 1 12 5 11-2 11 0 11-5 12 1 11-2 11-1 11-1 11 3 12 5 11-1 11-1 11-10 12 6 11-3 11 7 11-4 12 3 11-1 11-5 11-1 11 7 12 4 11-3 11-8 11 4 12 0 11 0 11-1 11 1 11 1 12-4 11 1 11 1 11-4 12-7 11 4 11 0 11 7 11-7 12 11 11-1 11 5 11-6 12-1 11-3 11 1 11 0 11-1 12 0 11 1 11 5 11 3 12 1 11-3 11-5 11-2 11-4 12-1 11-1 11 5 11 4 12 6 11-2 11 0 11-1 11 0 12 2 11-4 11 8 11-2 12-2 11-4 11 0 11 7 11-3 12 1 11-6 11 0 11-4 12 1 11-1 11-3 11 4 12 2 11 10 11-4 11-4 11-4 12 4 11 6 11-2 11 1 12 3 11 0 11-1 11-4 11 4 12 1 11-2 11-6 11-3 12-4 11 2 11-3 11 6 11 3 12-1 11 0 11-5 11 3 12 1 11-5 11-1 11-1 11 5 12 5 11-1 11-7 11-1 12-1 11 12 11-2 11-2 11 0 12 2 11 0 11-4 11-4 12 2 11 4 11 7 11 8 11-6 12-1 11 0 11 3 11-4 12-6 11 4 11-4 11 3 11-5 12 4 11 0 11-1 11-1 12-7 11-4 11-6 11 1 11 4 12 7 11 7 11 1 11 1 12-4 11 3 11-3 11 0 12-8 11-2 11 1 11 6 11-2 12 2 11 0 11 6 11-3 12 2 11-3 11-1 11-3 11 5 12-1 11 2 11-3 11 3 12-5 11-2 11 3 11 3 11 0 12-5 11 1 11-5 11 4 12 2 11 1 11-7 11-2 11 0 12 4 11 0 11 9 11-5 12-4 11 2 11 4 11 6 11-4 12 4 11-4 11-3 11-1 12 3 11 1 11-3 11 6 11 3 12 2 11-2 11-5 11 1 12-5 11 1 11-3 11 1 11-3 12 3 11 5 11 3 11-2 12-3 11-3 11-2 11-6 11 4 12 3 11 3 11-6 11 1 12 0 11 4 11-1 11-1 12-3 11-3 11 5 11 2 11 8 12-4 11 4 11-4 11-1 12-3 11-2 11 5 11-9 11 4 12 0 11 8 11-11 11 0 12-1 11 5 11 5 11-3 11 2 12-11 11-2 11-1 11 1 12 7 11 5 11 4 11-3 11-2 12-2 11-2 11-6 11 2 12 3 11 4 11-1 11-4 11-3 12 3 11-1 11 1 11-6 12 7 11 5 11 0 11-5 11-2 12 4 11-4 11 1 11 0 12 4 11-3 11-2 11 5 11 10 12-1 11 1 11-7 11 4 12-5 11 3 11 5 11-4 12-2 11-6 11-1 11-2 11-4 12 6 11 2 11 1 11 2 12 0" stroke="#B177DE" stroke-width="30.0" fill="none" stroke-linejoin="round" transform="scale(.1)"/>
<path d="M2257 7998l11 1 11 5 11-2 12-1 11-4 11 2 11 0 11 15 12-1 11-4 11-11 11 4 12-1 11 2 11-8 11 1 12-10 11 5 11 2 11 4 11 6 12 4 11-3 11-4 11 0 12 4 11-9 11-4 11 3 11 6 12-2 11 6 11-1 11 0 12-10 11-2 11-1 11-3 11 5 12 3 11 3 11 0 11 3 12 9 11 1 11 4 11-5 11-1 12-10 11 9 11 3 11 8 12-6 11-2 11-6 11 0 11 6 12 3 11 2 11-4 11-1 12 8 11 3 11 3 11-5 11 2 12-5 11-8 11-12 11 7 12 13 11 4 11-3 11-5 11 0 12-2 11 2 11 1 11 6 12-11 11 5 11-1 11-2 11-10 12-7 11 7 11 0 11-3 12-7 11 3 11 4 11 0 12-12 11-9 11-7 11-1 11-14 12-9 11-7 11-12 11-8 12-12 11 2 11-1 11-8 11-9 12-16 11 3 11-17 11-7 12-21 11 2 11-9 11-7 11-18 12-12 11-1 11-6 11-7 12-16 11-10 11-11 11-15 11-4 12-4 11-5 11-17 11-8 12-9 11-2 11-13 11-9 11-17 12-15 11-8 11-10 11 1 12-15 11-17 11-12 11-8 11 8 12-20 11-24 11-22 11-13 12-11 11-15 11-15 11-7 11-19 12-17 11-27 11-25 11-25 12-24 11-33 11-33 11-34 11-21 12-30 11-26 11-45 11-35 12-45 11-32 11-43 11-50 12-70 11-69 11-73 11-72 11-76 12-82 11-76 11-104 11-120 12-146 11-144 11-144 11-143 11-150 12-146 11-133 11-135 11-122 12-118 11-109 11-82 11-61 11-43 12-30 11 1 11 33 11 60 12 101 11 149 11 146 11 154 11 174 12 177 11 167 11 167 11 180 12 189 11 151 11 128 11 111 11 110 12 91 11 79 11 89 11 100 12 121 11 40 11 34 11 19 11 28 12 17 11 12 11 17 11 14 12 23 11 13 11 9 11 3 11 10 12 9 11 13 11-3 11 8 12 4 11 4 11 3 11-1 12 3 11 2 11 4 11 2 11-10 12-2 11 1 11 10 11 4 12-2 11 4 11 4 11 1 11 1 12 3 11 5 11-6 11-12 12-6 11 14 11 9 11 12 11-10 12 4 11 0 11 2 11-3 12 5 11 1 11 6 11 2 11 4 12-6 11 7 11 0 11 0 12-7 11 3 11 7 11-4 11 1 12 6 11 5 11 3 11 3 12 2 11 5 11 2 11 1 11 0 12-3 11 18 11 11 11 14 12-2 11 7 11 0 11 7 11-1 12 6 11 3 11 8 11 6 12 9 11-6 11 6 11 1 11 13 12 3 11 2 11 3 11 10 12 1 11 5 11 9 11 19 12 10 11 2 11 4 11 4 11 0 12-7 11 2 11 6 11 7 12-2 11 4 11 9 11 17 11 16 12 8 11 2 11 1 11 12 12 9 11 9 11 7 11 18 11 4 12 6 11-7 11 11 11 3 12 12 11-4 11 0 11 3 11 6 12 16 11 2 11 14 11 0 12 9 11 0 11 11 11 5 11 1 12 6 11 3 11 16 11 5 12 1 11 1 11-13 11 12 11 0 12 2 11 3 11 2 11 7 12-6 11 0 11 3 11 6 11 12 12 6 11-7 11 0 11-2 12 10 11-1 11 4 11-4 12-3 11 7 11 12 11 10 11 0 12-4 11-3 11 4 11 3 12 6 11-5 11 3 11-3 11-2 12 1 11 1 11 7 11 1 12-1 11-2 11 3 11 7 11 10 12 6 11-1 11-2 11-11 12 5 11 0 11 8 11 2 11 5 12 2 11 9 11 6 11 6 12-4 11-6 11-4 11-7 11-9 12 10 11 0 11 7 11-6 12 6 11 13 11-1 11-5 11-2 12 2 11 7 11-7 11-2 12 4 11 1 11 3 11-11 11-2 12-2 11 14 11 9 11 4 12-1 11-3 11 3 11-2 11 3 12-1 11-4 11-2 11-4 12 8 11 5 11 2 11 4 12-4 11 5 11-6 11-1 11-3 12 3 11 5 11-3 11-2 12-17 11-27 11-19 11-1 11 21 12 22 11 18 11 14 11-6 12 5 11-5 11 5 11-9 11 3 12-1 11 2 11 0 11-10 12-6 11 1 11 14 11 2 11-10 12-3 11-1 11 5 11-5 12 5 11 4 11 4 11-4 11-3 12-4 11-2 11 0 11 10 12 0 11-3 11-2 11 3 11 8 12-3 11 1 11 3 11 0 12 1 11-6 11-5 11-3 11-5 12 6 11-4 11 7 11-5 12 12 11-4 11 8 11-1 11-1 12-5 11-9 11 3 11 0 12 2 11 1 11 0 11-9 12 3 11 7 11 13 11-1 11-8 12-9 11-7 11 3 11 1 12-3 11-3 11-3 11 12 11-1 12 2 11 1 11 3 11 1 12-1 11-4 11-1 11-5 11 4 12 5 11 0 11-5 11 5 12 0 11 4 11-2 11 6 11 2 12 4 11-6 11 0 11-3 12 1 11 3 11-2 11-4 11-1 12 8 11 4 11 1 11-7 12-5 11-4 11-7 11 12 11 4 12 7 11-9 11-1 11 4 12 0 11 0 11-9 11 0 11-11 12 1 11-4 11 15 11-1 12 6 11 3 11 5 11 4 12-11 11-2 11-1 11 5 11-4 12-2 11-2 11 3 11-4 12 3 11-1 11 3 11-5 11-4 12-1 11 7 11 0 11-4 12-11 11 1 11 11 11 6 11 0 12-10 11 0 11 3 11 8 12-3 11 10 11-4 11-2 11-4 12-6 11-4 11-8 11 8 12 10 11 7 11-5 11 3 11-6 12 7 11-6 11 6 11-4 12 5 11-10 11 1 11-2 11 0 12 3 11 4 11 5 11 0 12-12 11-1 11-5 11 8 11 14 12-4 11-1 11-5 11 10 12 0 11-14 11-6 11-1 11 3 12 6 11 4 11 1 11 2 12-3 11-2 11 4 11 1 12 4 11-10 11-9 11 5 11-8 12 5 11-16 11 9 11 2 12 11 11-4 11 5 11 3 11 3 12-7 11 3 11 0 11 6 12-7 11-5 11 4 11 5 11 5 12-2 11-10 11-8 11-8 12 4 11 12 11 7 11 0 11-10 12-3 11 1 11-1 11-9 12 6 11 5 11 5 11 2 11 3 12 3 11-5 11-4 11 2 12 5 11 8 11 7 11-1 11-8 12-10 11-7 11-3 11 6 12 4 11 5 11-12 11-3 11 1 12 6 11 4 11 8 11-1 12-2 11-10 11 7 11 2 11-1 12-6 11-7 11 6 11 0 12 1 11-6 11 0 11 2 12 4 11 0 11 2 11-2 11 4 12 0 11 7 11-6 11 1 12-5 11 1 11 0 11 7 11-7 12 5 11 2 11 4 11-8 12-7 11 3 11 7 11-8 11 6 12-15 11 15 11-3 11 10 12-4 11-7 11 3 11 0 11 8 12-8 11-1 11-3 11 5 12-5 11-5 11 3 11 3 11 0 12-5 11 2 11-1 11 6 12-2 11 6 11-5 11 3 11-6 12 2 11-7 11 6 11-6 12 9 11 6 11 9 11-8 11-11 12-6 11 5 11 0 11 6 12-9 11-5 11-6 11 9 12 10 11-1 11-4 11 1 11-1 12-2 11-6 11 1 11 3 12 2" stroke="#CC9900" stroke-width="30.0" fill="none" stroke-linejoin="round" transform="scale(.1)"/>
<path d="M2257 8004l11 2 11-4 11 4 12-2 11 1 11-11 11 1 11-2 12 3 11-4 11-1 11 9 12-1 11 6 11-6 11 3 12 2 11 7 11-2 11-1 11-2 12 2 11 2 11-1 11-1 12-5 11 3 11 1 11 0 11-2 12 1 11 1 11-7 11 3 12 6 11 4 11-2 11-4 11-2 12 4 11-2 11 5 11-7 12 1 11-6 11 0 11 0 11 4 12 3 11-5 11-7 11-7 12 4 11 9 11-1 11 3 11-5 12 4 11 1 11-4 11 9 12-5 11 2 11-5 11 2 11-2 12-5 11-1 11 5 11-1 12-1 11-4 11 1 11 8 11 2 12 6 11-2 11 2 11-5 12-1 11-2 11-1 11-1 11 1 12 0 11-1 11 2 11 6 12-1 11-3 11 2 11 0 12-3 11-2 11 7 11 5 11-2 12-2 11-2 11-6 11 5 12-1 11 0 11-1 11-1 11 4 12-6 11-2 11-5 11-5 12-4 11 5 11 9 11 8 11-4 12-10 11-4 11 2 11-1 12 0 11-4 11 4 11 0 11-2 12-2 11 8 11 3 11-2 12-13 11-7 11-3 11-2 11 0 12-2 11 1 11 0 11 5 12 7 11-3 11 0 11-7 11-2 12-4 11-5 11 0 11-2 12-1 11-4 11-4 11-2 11 3 12-5 11-2 11-3 11-3 12-7 11-4 11 0 11 6 11-3 12-4 11-3 11-7 11-8 12-6 11-4 11-6 11-9 12-5 11-4 11-2 11-7 11-9 12-6 11 3 11 2 11-6 12-14 11-13 11-13 11-14 11-7 12-10 11-1 11-13 11-13 12-20 11-17 11-26 11-25 11-22 12-10 11-11 11-10 11-10 12 1 11 7 11 19 11 15 11 10 12 17 11 21 11 21 11 4 12 6 11 8 11 5 11 10 11 12 12 13 11-2 11-5 11-1 12 9 11 8 11-1 11-5 11 0 12 5 11 7 11 1 11-3 12-3 11-2 11 3 11 1 11 5 12 4 11 1 11-5 11-6 12 2 11 4 11 4 11 1 12-3 11 0 11-2 11 0 11-1 12 0 11 5 11-2 11-3 12-5 11-1 11 4 11 4 11 3 12 2 11-1 11-3 11 3 12-4 11 7 11 3 11 1 11-2 12-6 11 2 11-3 11 0 12 1 11 4 11 0 11 1 11-2 12 8 11-1 11 1 11-8 12 3 11 1 11 0 11-11 11-1 12-1 11 10 11-5 11 2 12-1 11 7 11 3 11 2 11 2 12-1 11-6 11 0 11-8 12 2 11 1 11 6 11-1 11-2 12-1 11 3 11 3 11 2 12-5 11-1 11 0 11 10 11 1 12 0 11-3 11-5 11-1 12 1 11 4 11 2 11-1 12 1 11 8 11-2 11 0 11-4 12 7 11-3 11 2 11-1 12 12 11 2 11 3 11-6 11-1 12 2 11 0 11 5 11 2 12 5 11 7 11 8 11-3 11 3 12-2 11 6 11 0 11-2 12 10 11 1 11 4 11-9 11-1 12 8 11 7 11 6 11 5 12 8 11 1 11 1 11 4 11 9 12 6 11 5 11 1 11-2 12-4 11 9 11 8 11 6 11-2 12 1 11 8 11 4 11 7 12-5 11 0 11 2 11 4 11 7 12-1 11 5 11 1 11 0 12 8 11 2 11 7 11 2 12 6 11 0 11-4 11 0 11 1 12 0 11-3 11 3 11 3 12 2 11 2 11 3 11 6 11-2 12-6 11 3 11 3 11 2 12-10 11-1 11 5 11 2 11-5 12-4 11 1 11 1 11 6 12 0 11 1 11-7 11 1 11 6 12 4 11 5 11 0 11 2 12-3 11-1 11-2 11 1 11-1 12 2 11-3 11 0 11-5 12 2 11 2 11 1 11-1 11 0 12 1 11 2 11 0 11 1 12 1 11 2 11-6 11 0 11-3 12 7 11-3 11-3 11-1 12 0 11 4 11-5 11 1 11 0 12 3 11 5 11-3 11-5 12-4 11 1 11 5 11-7 12 4 11-1 11 0 11-3 11 0 12 4 11 3 11 1 11 2 12-6 11-1 11-3 11 9 11-1 12-5 11-5 11 0 11 2 12 1 11 3 11 2 11-3 11 0 12 5 11 3 11-2 11-4 12 0 11 4 11 2 11 2 11-4 12-3 11-3 11-1 11 2 12 4 11 2 11 4 11 0 11-3 12-6 11 1 11-2 11 8 12-4 11 3 11-6 11 1 11 1 12-7 11 3 11-1 11 6 12 4 11-1 11 5 11-9 11 1 12-4 11 9 11-6 11 4 12-1 11 8 11 1 11 0 11-1 12-9 11-7 11 2 11 5 12 1 11-7 11 1 11 3 12 3 11-3 11 0 11-5 11 1 12-4 11 4 11-11 11-1 12 7 11 8 11 10 11-9 11 3 12 0 11 6 11 1 11-10 12-3 11-3 11 6 11 2 11 6 12-1 11-1 11-4 11 2 12 0 11 1 11-3 11 1 11 1 12 3 11 0 11-1 11 1 12-6 11-3 11-4 11 1 11 7 12 2 11 4 11-4 11-4 12-4 11 5 11 2 11-1 11-3 12-2 11 8 11 0 11 2 12 1 11-3 11-4 11-8 11 3 12 4 11 4 11-2 11-2 12-6 11 2 11-2 11 5 12 2 11 3 11 2 11 0 11-2 12-5 11 0 11 5 11 3 12-1 11-4 11 0 11 2 11 4 12-2 11-9 11-4 11 5 12 8 11 1 11-3 11-3 11-5 12 2 11 4 11 5 11-3 12-3 11-3 11 1 11-3 11 2 12-1 11 8 11 3 11 2 12-7 11-1 11 2 11 4 11-7 12 2 11-3 11 5 11-9 12-1 11 1 11 2 11-2 11 0 12 7 11 7 11-1 11-2 12-3 11-4 11-3 11-6 11 4 12 4 11 5 11-3 11 1 12-1 11-2 11-5 11-3 11 8 12-1 11 10 11 1 11 6 12-8 11-6 11-8 11 6 12 5 11 2 11-1 11 0 11 0 12-5 11-2 11 2 11 1 12 1 11 3 11 0 11-7 11 0 12-1 11 3 11-4 11 3 12 4 11-1 11 0 11 4 11 1 12 2 11-6 11-5 11-4 12 6 11 7 11 4 11-8 11 8 12-5 11 3 11-9 11 1 12-6 11 5 11 3 11 5 11-6 12 0 11-2 11 0 11 0 12 7 11-2 11-5 11-9 11 0 12 1 11 8 11-1 11 2 12-4 11-1 11 1 11 1 11 7 12 5 11 0 11-8 11-11 12 0 11 5 11 1 11 1 11 2 12 9 11-8 11 0 11-3 12 5 11 1 11-9 11-3 12-9 11 13 11 2 11 6 11-2 12 2 11-6 11-7 11 2 12-5 11 0 11 0 11 13 11 5 12-2 11-1 11 0 11-3 12 0 11-2 11 5 11-2 11-3 12-2 11-3 11 4 11-3 12 2 11-4 11 8 11-4 11 2 12-1 11 5 11 8 11-2 12-3 11-4 11-4 11 7 11-1 12 7 11-5 11-3 11-3 12-6 11 3 11 2 11 6 11 3 12 1 11-1 11-7 11 0 12 3 11 8 11 1 11-2 11-5 12-5 11 0 11-3 11 7 12-1 11 1 11-4 11-1 12 2 11 0 11 1 11 1 11-1 12-1 11 1 11-2 11-2 12-3" stroke="#00CBCC" stroke-width="30.0" fill="none" stroke-linejoin="round" transform="scale(.1)"/>
<path d="M2257 7999l11-4 11 12 11 4 12 4 11-3 11-1 11 4 11-3 12-1 11 0 11-1 11-1 12-3 11-1 11-4 11 1 12 2 11 4 11 3 11-3 11-2 12-7 11 0 11 2 11 1 12 2 11-2 11 2 11-2 11 2 12-1 11 0 11-3 11 3 12 1 11 5 11-5 11 9 11-1 12 8 11-10 11-4 11-5 12 6 11-4 11-2 11 3 11 4 12 10 11-6 11-1 11-7 12 3 11 4 11-3 11-6 11-4 12 9 11-1 11 2 11-3 12-3 11 1 11-7 11 7 11-2 12 1 11-2 11 0 11 0 12 0 11 4 11-1 11-1 11-6 12 3 11-6 11-4 11-8 12-3 11-1 11 4 11 10 11-2 12-3 11-9 11-2 11 0 12 5 11 1 11 0 11-2 12-2 11-3 11-8 11 1 11-5 12-3 11-10 11-5 11-9 12-2 11-9 11-7 11-10 11-2 12 2 11-4 11-5 11-6 12-4 11-3 11-3 11 4 11 3 12-2 11-16 11-11 11-3 12 4 11 2 11-6 11-3 11-6 12 1 11-4 11-1 11-5 12-5 11-13 11-9 11-10 11-1 12-5 11-1 11-7 11-6 12-3 11-8 11-5 11-15 11-6 12-8 11-4 11-10 11-21 12-11 11-13 11-9 11-16 11-15 12-17 11-13 11-23 11-21 12-23 11-20 11-19 11-22 11-17 12-23 11-31 11-33 11-37 12-34 11-34 11-29 11-37 12-35 11-33 11-37 11-48 11-62 12-62 11-67 11-64 11-92 12-106 11-128 11-111 11-125 11-115 12-121 11-127 11-140 11-146 12-138 11-145 11-146 11-167 11-194 12-172 11-110 11 9 11 105 12 177 11 189 11 160 11 148 11 149 12 156 11 145 11 160 11 146 12 151 11 133 11 146 11 136 11 124 12 103 11 94 11 84 11 67 12 58 11 63 11 60 11 56 11 34 12 43 11 28 11 22 11 8 12 14 11 13 11 5 11 9 11 8 12 17 11 3 11 2 11-1 12-1 11 8 11 2 11 5 12 7 11-2 11 0 11-6 11 1 12 0 11 7 11 3 11-6 12-8 11-1 11 15 11 7 11 9 12-10 11-8 11 4 11 1 12 10 11-4 11 4 11-5 11-5 12-2 11-7 11 1 11 3 12 6 11-10 11-7 11-8 11 6 12 3 11-2 11 2 11 6 12 10 11-10 11-2 11-3 11 9 12-8 11 1 11 0 11 2 12 1 11-1 11-2 11-5 11 1 12 3 11 2 11 3 11 6 12-2 11 6 11 5 11 2 11-7 12-2 11 8 11 13 11 1 12-1 11-4 11 4 11 7 11 7 12 5 11 0 11 6 11 8 12 3 11-7 11-9 11 3 12 10 11 12 11 6 11 7 11 17 12 5 11 4 11-6 11 10 12 4 11 5 11 6 11 7 11 3 12-2 11 9 11 4 11 3 12-2 11 6 11 10 11 5 11 9 12 2 11 7 11 9 11 8 12 3 11-1 11 11 11 6 11 17 12-4 11 5 11 1 11 18 12-2 11-3 11-1 11 11 11 6 12 2 11 3 11 2 11 7 12 4 11 3 11 4 11 1 11 2 12 3 11 0 11 3 11-6 12 12 11 7 11 7 11 2 11 2 12 8 11-7 11 0 11-7 12 4 11 4 11 0 11 17 12 3 11 12 11-6 11 5 11-3 12-5 11-3 11 3 11 17 12 5 11 2 11-3 11-2 11 4 12-2 11 8 11-2 11-2 12-6 11-5 11 7 11 1 11 14 12-3 11 3 11-2 11 0 12 8 11 1 11 4 11 1 11 4 12-2 11-1 11 2 11 6 12 2 11 0 11-2 11 3 11 3 12 2 11-2 11-9 11 6 12 2 11 2 11-6 11 1 11 7 12 0 11-2 11 1 11 5 12 2 11-6 11 8 11 1 11 0 12-3 11 0 11 2 11-1 12 2 11 6 11-4 11 1 11 1 12 1 11-3 11-7 11 2 12 2 11 7 11-5 11-5 12 1 11 13 11-3 11 5 11-1 12 9 11-13 11-10 11 0 12 4 11 5 11-4 11 4 11-6 12 3 11 0 11 12 11-1 12-4 11-2 11 7 11 4 11-2 12-2 11-2 11-1 11 2 12-7 11 1 11 1 11 5 11 2 12-4 11 2 11-7 11 5 12 8 11-1 11-3 11-13 11 2 12 1 11 5 11 6 11 2 12 1 11-4 11 2 11-3 11-2 12-9 11 7 11 0 11 6 12-4 11-2 11-3 11-4 11 1 12-4 11 5 11 6 11 2 12-5 11-1 11-1 11 5 11-2 12 1 11-4 11-4 11 0 12 0 11 5 11-4 11-2 12-2 11-4 11 1 11-1 11 7 12-2 11-2 11 1 11-1 12-4 11-8 11 0 11 4 11 7 12-1 11-6 11-10 11 2 12 8 11 10 11-3 11-6 11-1 12 5 11 8 11-5 11 1 12-9 11 3 11 1 11 6 11-4 12-8 11-3 11-2 11 0 12-2 11 4 11-2 11-4 11 2 12-4 11-2 11-1 11 1 12 9 11-3 11-4 11-8 11 1 12 1 11 1 11-3 11 1 12-6 11 9 11 1 11 3 11-10 12-4 11 1 11 0 11 0 12 3 11-2 11-4 11-7 12-3 11 3 11 4 11 7 11-2 12 1 11-4 11 0 11-5 12-4 11-2 11 3 11 2 11-4 12-4 11-4 11 1 11-6 12-5 11-10 11 6 11 2 11 12 12-4 11 0 11-4 11-3 12 0 11 4 11-1 11 0 11-9 12 7 11 2 11 6 11 1 12-5 11-7 11 2 11 2 11 2 12-4 11-1 11 3 11-6 12 2 11-4 11 16 11 0 11 1 12-9 11-1 11 3 11-4 12 3 11-2 11-2 11-7 11-1 12 10 11 11 11-1 11-5 12-5 11 3 11-6 11-4 11 0 12 8 11 5 11 0 11 0 12-1 11 4 11-3 11 0 12 3 11-6 11 0 11-1 11 14 12 2 11 1 11-9 11-1 12 1 11 13 11 0 11 4 11-7 12 3 11 5 11 3 11-4 12-5 11 7 11 13 11-2 11-8 12-8 11 0 11 5 11 5 12 3 11-2 11 4 11-3 11-3 12-3 11 2 11 9 11 0 12 4 11-1 11-1 11-2 11-1 12 9 11 1 11-7 11-6 12 0 11 2 11-6 11-1 11 2 12 7 11 0 11 3 11-3 12 4 11 0 11 4 11-1 11 3 12-1 11 1 11 4 11 1 12 4 11-8 11 12 11-5 11-3 12-8 11-3 11 8 11 2 12 5 11-4 11-7 11-5 12 0 11 5 11 13 11 6 11-5 12-1 11-4 11 4 11 1 12 1 11 3 11-6 11 2 11 0 12 4 11 7 11-7 11 1 12-6 11 8 11-2 11 2 11-3 12-1 11 0 11 4 11-1 12 2 11-4 11-3 11-6 11 0 12 11 11 1 11 1 11-10 12 5 11 2 11 0 11 1 11-5 12 4 11 6 11 6 11 3 12-3 11 5 11-1 11-1 11-4 12 4 11-3 11-4 11-6 12-2 11 3 11 4 11 0 11-6 12 0 11 7 11 4 11-3 12-2 11-3 11 4 11-2 12 3 11-7 11 4 11 0 11 3 12-4 11-1 11 5 11 4 12 4" stroke="#7D4E4E" stroke-width="30.0" fill="none" stroke-linejoin="round" transform="scale(.1)"/>
<path d="M2257 8009l11 3 11-5 11-2 12 1 11-3 11-1 11 0 11 10 12 1 11-9 11-5 11-3 12-1 11-3 11 4 11 9 12 4 11-6 11-4 11 1 11 5 12 1 11-7 11 1 11-7 12 3 11-3 11 9 11-1 11 0 12-5 11 3 11 0 11 6 12 1 11-6 11-4 11-1 11 5 12-1 11-11 11 3 11-3 12 8 11-3 11 2 11-9 11 5 12-1 11 5 11 1 11 3 12 5 11 1 11-3 11 7 11-2 12 5 11-10 11-4 11-6 12-3 11-2 11 6 11 2 11 2 12-2 11 2 11-7 11-9 12-4 11 5 11 5 11 0 11 1 12 2 11 6 11-1 11 0 12-3 11 0 11 0 11 4 11-2 12 0 11-3 11 4 11 3 12-3 11-8 11-5 11-2 12-3 11 4 11 0 11 7 11-7 12 1 11 0 11 3 11 0 12-1 11 1 11 0 11-8 11 2 12-2 11 8 11 1 11 0 12-6 11 0 11-1 11 0 11-4 12 5 11 8 11 0 11-5 12-9 11-4 11 2 11-6 11 9 12-4 11 5 11-11 11-3 12-8 11-4 11-4 11 4 11-1 12 8 11-7 11 3 11-12 12-3 11-6 11 2 11-3 11-2 12 0 11-4 11-3 11-9 12 1 11-3 11-9 11-9 11-11 12 3 11-3 11-1 11-11 12-7 11-5 11 0 11-3 11-8 12-6 11-6 11-7 11-9 12-8 11-9 11-4 11-2 12 2 11-9 11-13 11-18 11-7 12-7 11-9 11-19 11-17 12-18 11-24 11-26 11-32 11-27 12-27 11-24 11-32 11-55 12-52 11-63 11-63 11-74 11-111 12-130 11-90 11-67 11-29 12 34 11 69 11 81 11 113 11 102 12 60 11 53 11 47 11 44 12 36 11 28 11 29 11 26 11 36 12 29 11 31 11 25 11 11 12-1 11-2 11 5 11 10 11 5 12-1 11-7 11-1 11 5 12 6 11 3 11 5 11 7 11 2 12-1 11 5 11 5 11-3 12-10 11-7 11 3 11 4 12 3 11-3 11-1 11-4 11 2 12 5 11 0 11-6 11-8 12-2 11-3 11 6 11 1 11 5 12-11 11-1 11-7 11 1 12 2 11 0 11-9 11-4 11 3 12 6 11 2 11-8 11-1 12-1 11 3 11 2 11-3 11 3 12-2 11 1 11 0 11 2 12 2 11-9 11-7 11-3 11 1 12 0 11 2 11 6 11-1 12 0 11-6 11 9 11-2 11 6 12-6 11-2 11-5 11 0 12 5 11 1 11 1 11 2 11 0 12 2 11-3 11 3 11 3 12 1 11 0 11-1 11 7 11-1 12 5 11-5 11 8 11 2 12 5 11-2 11 3 11 8 12 4 11 1 11 5 11 12 11 11 12 4 11 8 11 8 11 4 12 4 11 6 11 3 11 1 11-2 12 10 11 9 11 11 11 9 12 10 11 4 11 2 11-3 11 1 12 7 11 10 11 7 11-5 12-5 11 7 11 9 11 4 11 4 12 7 11 5 11 3 11 5 12 3 11 3 11 1 11 7 11-2 12 0 11 4 11 7 11 5 12 3 11 10 11 4 11 8 11 1 12 4 11-1 11 0 11 4 12 1 11-2 11 7 11 1 11 2 12 1 11 7 11 8 11 0 12 4 11 3 11 4 11 0 12-3 11 4 11 0 11 4 11 0 12 4 11 7 11 4 11 2 12-2 11 1 11-1 11 2 11 0 12 6 11-2 11 0 11 0 12 8 11-2 11 7 11-4 11 10 12 1 11 12 11-2 11-5 12-7 11 3 11 6 11 0 11 1 12 1 11 3 11 1 11 0 12-4 11 4 11-9 11 1 11-1 12 1 11 1 11-4 11 5 12 7 11 11 11 0 11-1 11-4 12-5 11-1 11 4 11 7 12 1 11 0 11 0 11 3 11 2 12 0 11-2 11 4 11 1 12 4 11-6 11 7 11 2 11-6 12-6 11-2 11 6 11 5 12 0 11 3 11-2 11 3 12-3 11-1 11-2 11 0 11 1 12 1 11 5 11-2 11-2 12-4 11 0 11 2 11 1 11 6 12 0 11-1 11 0 11-7 12 1 11-5 11 6 11-1 11 4 12 0 11-3 11 2 11-1 12 0 11 0 11-4 11-1 11-4 12-3 11 4 11-1 11 6 12 3 11 4 11-7 11-2 11-6 12 10 11-6 11 4 11-3 12 9 11 0 11-4 11-8 11-1 12 4 11-4 11 0 11 0 12-1 11 3 11-4 11 4 11 2 12 4 11 3 11 1 11-3 12-4 11 0 11-1 11 5 11-6 12 4 11 1 11 3 11-9 12-1 11 5 11 9 11-5 12-8 11-3 11 1 11 7 11-2 12 1 11-2 11-2 11-4 12 0 11 2 11 9 11 1 11-3 12-3 11 0 11 0 11 4 12-1 11 1 11-6 11 0 11 6 12-3 11 1 11-5 11 1 12-3 11-2 11 0 11 3 11 3 12-2 11-3 11 5 11-2 12 5 11 0 11-1 11-10 11-6 12 5 11 0 11 3 11-3 12 5 11-6 11-1 11 0 11-3 12-1 11-3 11 3 11 2 12 3 11-1 11 0 11-6 11 0 12-1 11 1 11-4 11-4 12 0 11 4 11-3 11-1 12 1 11 3 11 5 11-3 11-2 12-5 11-2 11-1 11-4 12 1 11 5 11 5 11 0 11-6 12-5 11-3 11 4 11 6 12 0 11-2 11-6 11 2 11-1 12 2 11-7 11-5 11-3 12 2 11 0 11 6 11-2 11 2 12-10 11-1 11-4 11 6 12-6 11 1 11-3 11 10 11 0 12 7 11-6 11 0 11-7 12 0 11 0 11-2 11 6 11 0 12 5 11 2 11 1 11-2 12 1 11 1 11 4 11-9 11 3 12-3 11 0 11 2 11 4 12 5 11-3 11-9 11 0 11 5 12 3 11 0 11-8 11 0 12 3 11 6 11 1 11-1 12-2 11-1 11 3 11 0 11-1 12 1 11 5 11 1 11-5 12-7 11-2 11 2 11 7 11 5 12 2 11-4 11-1 11-2 12 0 11 3 11 0 11 6 11-5 12 4 11-2 11 8 11-1 12 0 11 5 11-5 11-2 11-5 12 6 11-2 11-3 11 0 12 1 11 10 11-1 11 4 11-5 12 6 11 0 11 3 11-4 12 3 11-7 11 7 11-3 11 4 12-2 11-2 11-4 11 0 12 4 11 0 11-3 11 1 11 8 12 2 11-3 11-5 11-1 12 5 11 6 11 4 11-4 11-2 12-8 11-5 11-4 11 5 12 8 11 8 11 5 11-6 12-5 11-1 11 4 11 7 11-3 12 2 11-4 11 1 11-2 12 0 11-5 11 8 11 0 11-1 12-2 11 2 11 5 11-2 12-3 11-3 11-3 11 1 11 4 12 1 11-1 11 1 11 2 12 7 11-3 11-1 11-2 11 4 12 3 11-4 11-1 11-5 12 4 11 1 11 0 11 1 11-6 12 9 11-2 11 5 11-5 12 0 11 4 11-7 11 2 11-13 12 4 11-2 11 12 11-2 12-1 11-9 11 10 11 8 11 5 12-6 11-8 11-5 11 5 12 6 11 2 11 0 11-3 12-4 11-2 11-1 11 6 11-2 12 0 11 0 11 0 11-4 12 2" stroke="#8E8E00" stroke-width="30.0" fill="none" stroke-linejoin="round" transform="scale(.1)"/>
<path d="M2257 8003l11-5 11 3 11-3 12 8 11-2 11-1 11 0 11 5 12-4 11-1 11-2 11-4 12-2 11-4 11 8 11 1 12 5 11-2 11-1 11 0 11 2 12-4 11-4 11-1 11 8 12 3 11-2 11-5 11-2 11-1 12 5 11 2 11 2 11-7 12 1 11-3 11 8 11-5 11-2 12-2 11 2 11 2 11 1 12 3 11 3 11-4 11-4 11 1 12 5 11 0 11-1 11-1 12-1 11-2 11-4 11 2 11 0 12 6 11 8 11 0 11 4 12-10 11-4 11-7 11-2 11-4 12 7 11 4 11 4 11-5 12 0 11-1 11-3 11 4 11-1 12 4 11-5 11 2 11 3 12-5 11 0 11-7 11 2 11 3 12-1 11 0 11 6 11 6 12-1 11-4 11-7 11 4 12-6 11 7 11-2 11 2 11-7 12-1 11-1 11-1 11-1 12 1 11-4 11 0 11 0 11 1 12 4 11-6 11 2 11-6 12 2 11-4 11 1 11 0 11-1 12-1 11-3 11 0 11-3 12 0 11 1 11-2 11 0 11-2 12-12 11-7 11-9 11 5 12-5 11 0 11-5 11-2 11-3 12 3 11-6 11-2 11-7 12-2 11-5 11-5 11-7 11 0 12 2 11 0 11 0 11-11 12-11 11-17 11-3 11-2 11 3 12-11 11-9 11-9 11-10 12-4 11-17 11-1 11-4 11-4 12-13 11-13 11-2 11-7 12-7 11-17 11-13 11-11 12-4 11-6 11-14 11-18 11-22 12-22 11-17 11-23 11-12 12-26 11-25 11-34 11-34 11-36 12-38 11-42 11-45 11-44 12-50 11-40 11-39 11-30 11-24 12-14 11 5 11 17 11 26 12 36 11 38 11 40 11 41 11 48 12 44 11 35 11 21 11 21 12 18 11 24 11 19 11 24 11 13 12 19 11 10 11 16 11 7 12 7 11 5 11 4 11 11 11 13 12 11 11 12 11 5 11-1 12-9 11 3 11 1 11 1 11-4 12 2 11 8 11 8 11 7 12-1 11-1 11 2 11 3 12 6 11 0 11 10 11-6 11 0 12-13 11 9 11 8 11 12 12 3 11 7 11-5 11-3 11-6 12 9 11 0 11-6 11-6 12-1 11 11 11-2 11 3 11-3 12 3 11 1 11-1 11 2 12 1 11 6 11 4 11-4 11-7 12-3 11 4 11 6 11-1 12-5 11-2 11 3 11 1 11-1 12 4 11 5 11-1 11-7 12-1 11 3 11 5 11 4 11 2 12-4 11-9 11 0 11 0 12 0 11 2 11 2 11 6 11-3 12-1 11-2 11 6 11 5 12 3 11 2 11-9 11 3 11-2 12 4 11-3 11-3 11 3 12 7 11 3 11 3 11 3 12 2 11-4 11-1 11 3 11 7 12-4 11 7 11-2 11 4 12-4 11 7 11 3 11-4 11-1 12 3 11 7 11 7 11-1 12 6 11-9 11 0 11 1 11 10 12 13 11 4 11 3 11 7 12 11 11 5 11 2 11-1 11 6 12 2 11 6 11 4 11 0 12-1 11 8 11 10 11 10 11 8 12 11 11 6 11-2 11-2 12 7 11 4 11 8 11 4 11 4 12 10 11 11 11 2 11-1 12-6 11 11 11 6 11 11 11 10 12 1 11 3 11-2 11 3 12 1 11 2 11-1 11 2 12 3 11 8 11-2 11-1 11 4 12 6 11 6 11 2 11 6 12-5 11-2 11 6 11 3 11-3 12-6 11 5 11 6 11-2 12 3 11-1 11 9 11-5 11 5 12-3 11 3 11-6 11 1 12 4 11-2 11 0 11 1 11 7 12-4 11-5 11-5 11 1 12 4 11 2 11-1 11 2 11 4 12 2 11-9 11-1 11 0 12 5 11-2 11-2 11 3 11 11 12 0 11 3 11-10 11 1 12-9 11 4 11 1 11 0 11-6 12-3 11 5 11 4 11 5 12-3 11-5 11-3 11-1 11-2 12 0 11 5 11 1 11 6 12 1 11 5 11-2 11-4 12-1 11 1 11 2 11-2 11-4 12-2 11 5 11 1 11 3 12 1 11-3 11-5 11-4 11-2 12 3 11-3 11 3 11 0 12 1 11-3 11-3 11 7 11 3 12 10 11-3 11 1 11-4 12-7 11 2 11-5 11 3 11-4 12-2 11 5 11 3 11 4 12-8 11-2 11 1 11 8 11 7 12 2 11-5 11-6 11-7 12-1 11-2 11 10 11 0 11 4 12-3 11-3 11-1 11-2 12 4 11 4 11 5 11-6 11-4 12-6 11 6 11 1 11 1 12 4 11-3 11 0 11-6 11-4 12 3 11 1 11 6 11-10 12 1 11-4 11 8 11-3 12 6 11 2 11 12 11-2 11-3 12-8 11 3 11-2 11 1 12 1 11-7 11-7 11-5 11 5 12 5 11-1 11 4 11 1 12-3 11-3 11 2 11 9 11 1 12 6 11-3 11-5 11-8 12-1 11 4 11 1 11 4 11 6 12-6 11-5 11 1 11 1 12 3 11-11 11 6 11 1 11 0 12 1 11 6 11 1 11-1 12-8 11 3 11-2 11-5 11-4 12 0 11 5 11 6 11-5 12 7 11 0 11 7 11-7 11-4 12 1 11-6 11-3 11 4 12 10 11 8 11-11 11-1 12 0 11 6 11 3 11-5 11-4 12 0 11-1 11 1 11-1 12-1 11 3 11-4 11 2 11-1 12-2 11-4 11 0 11 15 12 2 11 1 11-12 11 1 11-1 12 3 11-5 11-6 11-5 12 8 11 6 11 4 11 3 11-5 12 5 11-10 11 5 11-5 12 9 11 7 11 4 11-1 11-4 12-1 11-5 11-7 11 1 12 6 11 4 11 0 11-1 11 2 12-8 11-5 11 6 11-3 12 6 11-8 11 9 11-7 11-1 12-7 11 3 11 1 11 0 12 7 11 4 11 9 11-6 11-2 12-2 11-3 11-4 11-1 12 7 11-5 11-3 11-3 12 7 11 0 11 0 11-2 11 0 12 0 11-2 11 2 11-6 12 3 11 0 11 0 11 2 11-3 12 0 11 0 11 3 11 2 12-4 11 5 11 1 11-1 11-5 12-2 11 5 11 0 11 5 12-4 11-1 11 1 11 2 11-4 12 5 11-3 11-2 11-3 12 3 11 4 11-4 11-7 11 1 12 3 11 7 11 0 11 0 12 1 11 3 11-8 11-4 11 2 12 4 11 11 11-4 11-1 12-10 11-2 11 2 11 3 11 2 12 2 11 2 11 0 11 2 12-7 11-7 11-11 11-7 11 9 12 9 11 6 11 2 11-4 12 4 11-4 11 4 11-7 12-3 11-4 11 9 11 0 11 4 12 0 11 3 11-5 11 1 12-2 11 4 11-4 11 1 11 0 12 2 11-2 11 7 11-5 12 7 11-12 11 7 11-8 11 9 12-10 11 4 11-5 11 7 12-3 11 0 11-3 11 3 11 3 12-3 11 1 11-5 11 5 12-1 11-5 11 0 11 1 11 5 12 3 11 2 11-3 11 2 12-8 11 4 11-6 11 4 11 1 12-5 11 2 11 2 11 6 12-6 11 1 11 3 11 2 11-7 12-4 11 4 11 3 11 4 12-3 11 1 11-4 11 3 12-3 11 1 11 2 11-2 11-1 12-2 11 6 11-4 11-2 12 0" stroke="#FB6501" stroke-width="30.0" fill="none" stroke-linejoin="round" transform="scale(.1)"/>
<path d="M2257 8002l11 1 11 2 11 0 12 3 11-1 11 1 11-5 11-3 12-1 11 1 11 4 11-4 12 0 11 3 11 9 11 0 12-7 11-7 11 3 11 4 11 7 12-5 11 4 11-8 11 5 12-8 11 4 11 2 11 0 11 0 12-3 11 5 11-4 11-1 12-4 11-1 11 5 11 1 11 3 12-8 11 0 11-1 11 1 12-2 11-3 11 7 11-3 11 3 12-5 11 1 11 6 11-2 12 3 11-9 11 4 11-2 11 8 12 2 11-2 11-2 11-4 12 3 11 0 11 2 11 0 11-5 12 0 11 1 11-2 11-6 12-2 11 7 11 3 11 1 11-7 12 1 11 0 11 5 11 2 12-2 11 3 11-4 11-3 11-5 12 3 11 1 11 2 11 1 12 1 11-4 11-5 11 0 12 4 11 0 11-3 11-3 11-4 12-1 11-3 11 3 11 0 12 2 11-3 11 0 11-8 11 4 12-2 11 8 11-6 11-1 12-7 11 1 11 1 11 2 11-2 12 3 11-6 11 2 11-13 12 1 11-9 11 2 11 5 11 4 12-5 11-3 11-6 11 3 12-2 11-4 11-1 11-3 11 1 12-6 11-3 11-1 11-1 12-2 11-12 11-7 11-4 11 2 12-1 11-9 11-3 11-2 12-11 11-3 11-6 11 10 11-9 12-5 11-6 11-8 11-12 12-10 11-1 11-4 11-5 11-12 12-8 11-8 11-12 11-9 12-15 11-6 11-16 11-12 12-19 11-10 11-17 11-15 11-19 12-26 11-32 11-34 11-27 12-24 11-33 11-38 11-35 11-27 12-27 11-20 11-21 11-23 12-20 11-2 11 11 11 17 11 20 12 30 11 30 11 27 11 22 12 26 11 28 11 31 11 21 11 17 12 19 11 23 11 21 11 14 12 10 11 10 11 16 11 14 11 13 12 5 11 10 11 12 11 8 12 4 11 2 11 6 11 6 11 3 12 7 11 5 11 2 11 1 12-3 11 4 11 4 11 7 11 7 12 0 11-1 11 0 11 1 12 6 11-1 11 1 11-4 12 8 11 4 11 7 11-6 11 1 12-7 11 4 11 3 11 4 12-3 11 0 11 6 11 7 11 4 12 2 11 7 11-1 11 2 12-6 11-2 11-6 11 1 11 2 12 0 11 3 11 6 11 8 12 0 11-7 11-6 11 2 11-1 12 2 11-4 11 6 11 2 12 8 11-2 11 0 11-8 11-2 12 2 11-1 11 1 11-2 12-2 11 5 11 4 11 5 11-7 12-5 11 5 11 7 11-2 12-3 11 0 11 6 11-7 11-5 12 1 11 11 11 3 11-4 12-5 11 2 11 2 11-2 11-2 12-4 11 1 11 5 11 5 12 4 11-1 11 1 11 3 12 2 11 0 11-1 11-4 11-4 12 2 11 5 11 6 11 3 12 0 11 6 11-1 11 4 11-1 12 1 11-1 11-3 11 3 12 7 11 1 11 0 11 3 11-3 12 12 11-4 11 11 11-3 12 5 11 1 11 0 11 4 11 2 12 3 11 2 11 10 11 8 12 4 11 0 11-1 11 2 11 2 12 7 11 8 11 2 11-4 12 4 11-4 11 9 11-1 11 10 12 6 11 1 11 2 11 1 12 5 11-3 11 2 11 3 11 3 12 4 11 0 11-1 11-1 12 10 11 6 11 3 11-7 12 3 11 0 11 8 11-1 11 1 12-2 11 3 11 1 11 2 12 2 11 7 11 3 11 2 11-7 12-4 11 2 11 5 11 6 12-4 11-1 11-4 11 4 11 2 12-4 11 1 11-5 11 4 12-6 11 4 11 3 11 0 11 1 12 0 11 3 11-1 11 0 12 0 11 0 11-1 11 3 11 2 12-4 11-5 11-4 11 9 12 0 11 10 11-7 11 3 11-5 12 1 11 0 11 2 11 2 12-4 11-6 11 1 11 5 11 4 12 1 11 1 11-1 11-2 12-8 11 4 11-6 11 1 11-2 12 4 11 11 11-2 11 1 12-5 11-4 11 7 11-4 12 4 11-8 11 7 11-2 11 2 12-5 11 0 11 1 11 8 12 2 11-3 11-8 11 3 11 3 12-1 11-3 11-2 11-3 12 2 11-3 11 4 11-1 11-1 12-2 11-4 11 0 11 1 12 2 11 1 11-1 11 0 11 1 12 1 11 1 11 3 11-2 12-2 11 4 11 0 11 5 11-4 12 1 11 0 11-3 11 4 12 1 11-4 11 0 11 0 11 6 12-7 11 1 11-4 11 7 12-5 11 3 11-5 11 3 11-6 12 4 11 2 11 5 11-3 12-6 11-3 11 3 11-2 11 0 12 2 11 6 11 4 11-2 12-1 11-1 11-1 11-1 12-4 11-4 11 11 11 4 11 6 12-7 11 0 11 1 11-4 12-6 11 1 11 0 11 10 11-5 12-3 11-9 11 4 11 7 12 4 11-6 11-3 11-2 11 2 12 4 11 7 11 3 11-1 12-7 11-2 11-11 11 2 11 2 12 5 11-1 11-7 11-2 12-2 11 3 11 10 11-1 11 1 12-6 11 1 11 0 11 5 12 4 11 3 11-5 11-2 11-3 12 4 11 1 11 3 11-1 12 2 11-4 11 1 11-4 11-2 12-2 11 0 11 1 11 3 12 0 11 2 11 2 11 2 12-5 11-5 11-2 11 4 11 1 12 2 11 3 11-4 11-6 12 1 11 3 11 4 11 1 11 0 12-2 11-7 11-6 11 4 12 3 11 4 11-2 11-3 11 2 12 6 11 6 11 5 11-5 12-6 11-7 11 2 11 9 11 2 12 1 11-4 11 0 11-9 12 0 11 2 11 11 11-4 11 1 12 1 11 4 11-3 11-2 12-1 11 5 11-7 11 4 11-5 12 6 11-1 11-2 11-1 12-1 11-2 11-10 11-2 11 3 12 7 11 6 11 3 11 4 12-5 11-3 11-2 11-6 11 0 12-3 11 5 11 0 11 1 12 6 11 0 11-2 11-9 12 1 11-1 11 2 11 0 11 9 12 2 11 1 11-9 11 0 12 3 11 4 11 0 11-8 11 6 12 0 11 8 11-7 11 4 12-6 11-2 11-8 11-1 11 3 12 12 11 4 11 0 11-7 12 1 11 1 11-2 11-3 11 0 12 1 11 4 11-3 11-1 12-1 11 4 11 2 11 0 11-9 12 0 11 1 11 9 11 6 12 1 11-4 11-4 11-3 11-3 12-5 11 4 11 5 11-1 12 0 11 0 11 4 11-6 11 4 12-5 11 1 11-10 11 2 12-4 11 2 11 4 11 11 11 2 12-4 11-5 11-3 11-2 12 8 11 3 11 4 11-9 12 2 11-3 11 1 11-6 11 5 12 1 11 8 11 1 11 0 12-2 11-4 11-2 11-2 11 1 12 5 11 1 11 1 11-1 12-4 11-2 11 0 11 4 11 2 12-3 11-6 11 1 11 2 12 3 11-2 11-5 11 3 11 3 12 3 11-3 11 4 11-1 12-4 11-6 11 2 11 7 11 5 12-1 11-1 11 0 11 4 12-3 11-5 11-4 11-1 11 2 12-5 11 3 11 0 11 8 12 0 11 1 11-2 11-4 11-4 12-4 11 3 11 5 11 3 12-2 11 0 11 0 11 3 12-5 11-1 11-2 11 1 11 1 12 1 11 6 11 1 11-1 12-4" stroke="#6699CC" stroke-width="30.0" fill="none" stroke-linejoin="round" transform="scale(.1)"/>
<path d="M2257 8000l11 0 11-2 11 0 12-1 11 7 11-7 11-6 11-3 12 5 11 7 11-6 11 7 12-1 11 5 11-4 11-3 12-2 11 9 11 2 11 4 11-12 12 2 11 3 11 5 11 3 12-8 11 3 11-5 11 6 11-7 12 1 11-7 11 5 11-7 12 3 11-2 11 6 11-4 11 6 12 4 11 2 11-2 11-2 12 1 11-3 11 5 11 1 11 1 12-4 11-2 11-3 11-7 12 3 11 5 11-4 11-4 11-5 12 10 11 4 11 0 11 6 12 2 11 2 11-3 11-6 11 1 12 0 11 2 11-1 11-5 12-2 11 5 11 1 11 0 11-5 12-3 11-7 11 2 11 2 12 6 11 0 11-5 11 2 11-6 12 4 11 0 11 2 11-2 12-4 11 0 11-3 11 6 12-1 11 2 11-5 11 4 11-2 12-2 11-4 11-1 11 1 12 1 11-1 11 1 11-2 11-1 12-4 11-7 11-3 11 2 12 6 11 1 11 2 11-1 11 5 12-8 11-8 11-4 11 1 12 1 11-10 11-6 11 1 11 2 12 6 11-5 11-1 11-7 12 0 11-1 11-10 11-5 11-4 12 0 11-8 11-2 11-6 12-5 11-6 11-1 11 0 11-5 12-4 11-9 11 2 11-7 12-1 11-15 11-6 11-6 11-2 12-1 11-4 11-5 11-11 12-9 11-4 11-5 11-6 11-12 12-11 11-15 11-12 11-6 12 0 11-8 11-13 11-23 12-15 11-15 11-14 11-18 11-17 12-14 11-22 11-27 11-33 12-34 11-35 11-38 11-40 11-54 12-51 11-58 11-50 11-65 12-53 11-53 11-39 11-32 11-1 12 16 11 40 11 34 11 51 12 55 11 57 11 51 11 48 11 45 12 42 11 33 11 38 11 27 12 26 11 21 11 11 11 15 11 12 12 26 11 18 11 12 11 6 12 13 11 11 11 5 11 7 11-3 12 10 11 5 11 13 11 0 12-1 11 4 11 5 11 2 11 2 12 11 11 8 11 1 11-2 12-7 11-2 11 0 11 11 12 8 11 4 11-2 11-1 11 5 12 0 11-1 11-1 11 5 12 6 11 6 11 2 11-4 11-2 12-11 11 2 11-1 11 10 12 5 11 0 11 0 11-6 11 0 12-4 11 5 11 6 11 0 12 3 11-3 11 2 11 0 11 2 12 6 11-4 11-6 11-1 12 0 11 0 11-8 11 1 11 8 12 9 11 6 11-3 11-9 12-6 11 2 11 3 11 6 11 5 12 4 11-5 11-7 11-2 12 3 11-4 11-1 11 1 11 12 12 3 11-1 11-2 11-3 12 3 11-9 11 3 11-4 11 11 12-1 11 1 11-2 11 6 12 0 11-1 11-1 11 7 12 1 11 1 11-2 11 8 11-2 12 1 11 0 11 1 11 3 12-3 11-2 11 3 11 6 11 7 12 4 11 5 11 3 11-1 12 2 11 4 11 8 11 3 11-1 12 3 11 6 11 4 11-1 12 4 11 6 11 12 11-7 11 6 12 2 11 11 11 2 11-2 12 8 11 3 11 6 11 0 11-1 12 5 11 9 11 8 11 7 12-1 11 4 11 2 11 12 11 10 12 6 11-1 11 6 11 4 12 3 11-1 11 0 11 3 11-3 12 8 11 3 11 16 11 3 12 2 11-4 11 2 11 9 12-4 11-3 11-2 11 6 11 6 12 6 11 2 11 3 11 0 12-1 11 0 11 2 11 2 11 2 12-4 11 3 11 0 11 1 12 3 11-5 11 1 11 5 11 4 12 5 11-8 11-1 11-4 12 2 11 1 11-2 11-2 11 4 12 2 11 8 11 0 11 1 12-7 11-3 11 3 11 5 11 8 12-3 11-7 11-7 11 2 12 4 11 1 11 2 11 3 11 0 12-6 11-1 11 1 11 7 12-2 11 2 11-10 11 0 11 6 12 1 11-1 11-9 11 4 12 3 11 3 11 2 11-1 11-4 12-8 11-2 11-1 11 3 12 3 11 6 11 5 11-7 12 1 11-4 11 7 11-12 11 6 12 1 11 9 11 0 11-6 12-4 11-7 11-4 11 6 11 2 12 7 11 0 11-1 11-7 12 0 11-6 11 6 11-1 11 10 12-2 11-2 11-3 11 5 12 0 11 1 11-2 11 5 11-2 12-2 11-8 11 4 11 3 12 2 11-8 11-2 11-2 11 3 12 1 11 3 11 1 11 7 12-2 11 0 11 0 11-3 11 1 12-6 11 3 11-1 11 1 12-2 11 2 11 4 11 0 11-4 12-2 11 0 11 5 11-2 12 2 11-4 11-1 11 3 11 4 12 4 11-4 11-5 11-1 12 2 11-3 11 2 11-2 12 2 11 2 11-2 11 0 11-5 12 6 11-2 11 3 11-4 12 3 11-4 11 1 11 1 11 2 12-1 11 1 11 3 11 0 12-4 11 0 11 5 11-1 11 1 12-3 11 6 11-5 11 0 12-3 11 2 11 2 11-5 11-2 12-5 11 11 11 2 11 3 12-6 11 0 11-3 11 4 11-1 12 0 11-2 11 1 11 0 12 5 11-5 11 2 11-10 11 0 12-7 11 5 11 3 11 4 12 6 11 2 11 3 11-9 11-6 12 3 11 11 11 2 11 1 12-3 11 3 11-2 11-1 12-1 11-6 11 0 11-1 11 2 12-4 11 1 11 3 11 2 12 4 11-2 11-4 11-6 11 9 12 2 11 0 11-8 11-1 12 0 11 0 11 2 11 6 11-4 12 6 11-4 11 4 11-7 12 2 11-1 11 3 11 2 11-5 12-2 11-7 11 3 11-2 12 3 11 3 11-3 11 2 11 1 12 1 11-1 11-2 11 3 12 1 11-2 11-4 11 3 11 3 12 6 11-6 11 3 11 2 12 6 11 0 11-12 11-2 11-5 12 9 11-3 11-1 11-5 12-3 11 1 11 3 11 3 11 2 12 1 11-5 11 3 11 2 12 8 11-6 11-2 11-3 12 6 11-5 11 0 11-3 11 0 12 3 11-4 11 2 11 1 12 4 11 2 11-1 11 2 11-3 12-11 11-7 11 2 11 8 12 8 11-1 11 2 11-3 11 2 12-4 11-2 11 7 11 4 12-1 11-10 11-4 11 0 11 7 12 2 11 3 11-6 11-1 12 2 11 0 11 0 11-3 11 7 12 0 11 0 11-9 11 0 12 7 11 8 11-3 11-8 11-3 12 6 11 0 11 0 11-2 12 8 11 6 11-1 11-10 11-6 12 4 11 1 11 2 11 3 12 5 11-3 11-4 11-1 11 0 12-2 11-5 11 0 11-2 12 1 11 1 11-1 11 6 12-1 11 3 11-5 11-2 11 1 12 6 11 6 11 1 11-1 12-3 11-1 11-7 11-4 11-8 12 4 11 1 11 7 11-2 12 0 11 0 11 2 11-4 11-5 12 1 11 11 11 13 11 1 12-6 11-8 11-1 11-2 11 2 12 3 11-3 11-9 11-2 12 4 11 4 11-1 11 0 11 3 12-4 11 3 11-2 11 8 12-4 11 1 11-4 11 1 11 6 12 2 11 2 11-5 11-2 12 1 11 0 11-1 11-10 11 0 12 0 11 6 11 2 11 2 12-1 11-1 11 1 11 2 12-6 11 2 11 1 11 4 11-5 12-6 11-5 11 4 11 2 12 7" stroke="#6FB802" stroke-width="30.0" fill="none" stroke-linejoin="round" transform="scale(.1)"/>
<path d="M2257 7994l11 2 11 7 11 3 12-5 11 2 11-3 11 5 11-5 12 0 11-3 11-1 11 2 12 0 11-1 11 2 11 2 12 8 11-7 11 1 11-7 11 4 12-3 11 4 11 0 11-2 12-1 11 2 11 4 11 4 11-5 12-3 11-5 11-3 11-2 12 1 11 1 11 5 11-1 11 4 12-1 11 4 11-1 11 4 12-8 11 0 11-3 11 9 11 0 12-2 11 1 11-3 11 3 12-13 11-1 11-4 11 5 11-2 12 6 11-4 11 0 11 1 12 4 11 2 11-10 11 2 11 0 12 2 11 0 11-5 11-1 12 2 11 4 11 1 11-7 11 4 12 4 11-2 11-3 11-9 12 6 11 1 11 1 11-1 11 0 12 7 11-1 11-6 11-10 12 5 11-1 11 7 11-3 12 3 11-5 11 0 11 0 11-2 12-4 11-5 11-4 11-2 12 2 11-2 11-1 11-3 11 7 12-3 11-7 11-12 11 1 12-1 11 6 11-6 11-4 11-5 12-4 11-4 11-9 11 1 12 0 11-3 11-5 11-3 11 1 12-7 11-3 11 1 11-3 12-13 11-10 11-6 11 3 11-2 12 3 11-4 11-5 11-9 12-3 11-6 11 4 11-5 11-4 12-10 11-7 11-2 11-6 12 6 11-7 11-4 11-8 11 4 12 0 11-7 11-17 11-5 12-8 11-3 11-12 11-4 11-8 12-3 11-6 11-10 11-14 12-13 11-19 11-21 11-25 12-11 11-14 11-12 11-22 11-21 12-26 11-29 11-26 11-29 12-22 11-37 11-35 11-27 11-17 12-26 11-35 11-34 11-23 12-14 11-16 11-11 11-7 11 9 12 18 11 23 11 15 11 24 12 32 11 53 11 38 11 43 11 32 12 34 11 19 11 18 11 15 12 12 11 13 11 7 11 9 11 4 12 11 11 2 11 7 11 5 12 14 11 1 11-3 11-6 11 5 12 0 11 1 11-7 11 5 12 4 11 5 11-5 11 0 11-3 12 3 11-2 11 5 11-3 12-5 11-2 11-5 11 2 12-2 11 3 11 2 11 1 11 6 12 2 11 0 11-10 11 3 12-12 11-7 11-4 11 10 11 5 12-3 11-8 11 4 11 1 12-4 11-3 11 0 11-2 11-8 12-7 11 3 11-5 11-2 12-7 11 7 11 1 11 0 11-10 12-3 11 1 11 4 11-9 12-4 11-4 11-1 11-4 11-5 12 5 11 0 11 3 11-1 12 0 11 0 11-2 11 3 11-2 12-2 11 0 11 4 11 4 12 0 11 2 11 3 11 3 11 4 12-1 11 3 11 3 11 4 12 4 11 5 11 6 11-2 11 1 12 0 11 8 11 7 11 4 12 4 11 0 11 2 11-1 12 5 11 3 11 13 11 2 11 8 12 9 11 12 11 7 11-2 12 9 11 5 11 9 11 0 11 7 12 4 11 6 11 7 11 7 12 8 11-1 11 5 11 8 11 5 12 10 11 4 11 11 11 3 12 7 11 7 11 9 11 3 11 7 12 6 11 10 11-3 11 2 12-4 11 12 11 11 11 13 11 6 12-3 11 0 11 1 11 10 12-3 11 6 11 0 11 10 11-1 12 3 11 1 11-5 11-1 12 3 11 14 11 2 11-1 11 1 12 5 11 15 11 4 11 0 12 1 11-3 11 2 11 2 12 4 11 1 11-9 11 1 11 2 12 12 11 4 11 5 11-3 12-1 11 0 11 1 11-2 11 3 12 4 11 5 11 4 11 1 12-1 11-2 11-2 11 2 11 1 12 9 11 5 11 6 11 1 12 8 11-2 11 2 11-4 11 6 12-6 11-3 11-5 11 6 12 0 11 3 11 2 11 3 11 9 12 4 11 1 11 3 11-3 12 1 11-4 11-1 11 0 11-4 12 2 11 1 11 3 11 6 12 3 11 2 11-3 11 1 11-2 12 1 11 3 11 2 11 7 12 3 11-1 11-1 11-4 11 7 12-5 11 0 11-6 11 1 12-2 11 7 11-3 11 5 12-5 11 6 11-5 11 2 11-1 12 1 11 1 11 1 11-2 12-2 11-1 11 6 11-2 11 3 12-1 11 7 11-1 11 0 12-4 11-2 11-3 11 6 11-6 12 1 11-7 11 9 11-2 12 4 11-2 11 2 11-4 11-2 12 3 11 6 11-3 11-5 12-6 11 3 11 1 11 7 11 1 12-1 11-6 11-3 11 2 12 1 11 5 11 1 11-4 11 2 12-3 11 9 11-11 11 3 12-6 11 7 11-3 11 2 11-5 12-4 11-3 11 7 11 4 12 2 11-2 11 2 11-5 11 2 12-2 11 2 11-3 11 0 12 1 11 1 11 7 11 8 12-1 11-8 11-5 11 1 11-2 12-6 11 4 11 3 11 3 12-7 11 2 11 2 11-5 11 8 12 1 11 2 11-7 11-4 12 6 11-2 11 3 11 1 11 5 12-5 11-3 11-6 11 2 12 0 11 6 11 0 11-3 11 0 12 2 11 5 11 2 11-3 12-4 11-7 11 0 11 1 11-4 12-3 11-2 11 5 11 1 12 2 11 0 11 0 11 4 11 0 12-3 11-7 11 1 11 2 12 1 11-6 11 4 11 1 11-4 12-10 11-4 11 4 11 3 12-5 11-2 11 5 11 2 12 0 11-4 11 1 11-2 11-1 12-1 11-4 11-2 11-1 12 1 11 2 11-4 11-1 11-4 12 1 11 1 11 5 11 7 12 1 11-8 11-7 11-4 11 4 12 5 11 2 11 4 11-3 12-2 11-4 11 1 11 0 11-4 12-5 11 6 11-1 11 1 12-7 11-2 11-2 11-3 11 1 12 2 11 6 11-4 11-8 12-1 11 4 11 5 11-3 11 5 12-1 11 2 11-6 11 4 12-4 11 2 11-7 11 0 11 1 12 2 11 2 11 0 11 10 12 4 11-2 11-13 11-4 11-2 12 7 11 1 11 6 11 4 12 7 11 2 11-2 11-9 12 1 11 0 11 6 11 2 11 2 12 7 11-8 11-2 11-3 12 5 11 5 11 0 11-3 11 3 12 0 11 6 11-6 11 0 12-6 11 6 11 9 11 2 11-2 12-10 11 3 11-1 11 1 12 2 11 10 11 1 11-2 11-4 12 6 11-4 11-1 11-3 12 8 11 4 11 0 11 2 11-6 12 3 11-7 11 3 11 2 12-2 11 1 11 0 11 3 11-1 12-1 11 9 11 7 11-2 12-4 11-7 11 6 11-2 11 7 12-2 11-3 11-5 11 0 12 5 11 1 11-6 11-1 11-1 12 8 11-1 11 0 11 1 12 7 11 2 11-5 11-3 12 1 11 0 11-1 11 5 11-1 12-1 11-4 11 6 11-1 12 0 11-5 11 0 11-3 11 5 12 3 11 1 11-4 11 0 12 2 11 4 11 1 11-3 11 5 12-3 11 6 11-3 11 3 12-11 11 1 11-4 11 7 11 1 12 0 11 2 11 3 11 8 12-1 11-5 11 0 11 1 11 1 12-6 11 3 11-1 11 2 12-4 11-2 11-7 11 7 11 2 12 9 11-1 11 6 11 0 12-4 11-4 11-2 11 0 11-2 12 1 11-1 11 1 11 2 12 5 11 5 11-2 11-1 12-7 11 3 11 0 11 3 11-2 12-7 11 0 11 2 11 5 12-2" stroke="#515151" stroke-width="30.0" fill="none" stroke-linejoin="round" transform="scale(.1)"/>
<path d="M2257 8003l11 2 11 1 11-1 12-3 11 5 11-1 11 1 11-7 12 2 11-1 11 4 11-7 12 6 11 2 11 9 11 4 12-1 11-7 11-11 11-5 11 5 12 4 11 4 11 3 11 3 12-3 11-4 11-9 11 7 11 0 12 8 11-8 11-1 11-1 12 8 11-4 11 0 11-2 11 4 12 0 11-6 11-5 11-1 12 4 11 3 11-4 11-1 11 5 12 2 11 6 11-3 11-1 12-7 11 6 11 0 11 7 11-8 12 0 11-5 11-1 11 0 12 3 11 4 11-1 11 3 11 0 12 0 11-2 11-4 11-3 12-4 11 3 11 5 11-1 11-1 12-4 11 4 11-1 11 0 12 0 11 2 11 3 11-2 11-3 12 1 11-3 11 2 11-3 12 2 11 3 11 1 11-1 12-5 11 4 11 1 11 1 11-2 12-2 11 0 11 1 11-1 12 0 11 3 11-3 11 2 11-3 12 3 11 2 11 4 11-1 12 0 11-10 11-5 11 0 11 4 12 1 11-3 11 1 11 4 12 3 11-3 11-3 11-3 11 2 12-4 11-1 11-4 11 8 12 3 11 6 11-6 11-2 11-6 12 1 11-4 11 4 11-3 12 3 11-1 11 5 11 3 11 3 12-5 11-6 11 0 11 4 12 4 11-7 11-2 11-2 11-1 12-2 11-5 11-2 11-1 12 5 11 2 11-9 11-3 11-6 12 6 11-1 11-2 11-3 12 2 11 6 11 0 11-6 12-9 11-7 11-4 11 0 11 2 12 3 11-1 11-3 11-10 12-3 11-7 11 1 11-1 11 2 12-2 11-7 11-6 11-3 12 1 11-9 11-14 11-11 11 1 12-3 11 0 11-1 11 1 12 1 11-4 11-7 11-4 11 1 12 6 11 5 11 2 11 7 12 5 11 4 11 3 11 4 11 1 12 1 11-2 11-5 11-4 12-5 11 6 11 5 11 6 11-5 12 5 11-1 11 5 11-4 12-4 11 4 11-4 11-2 11-4 12 1 11 5 11-2 11-6 12-1 11 9 11 7 11-1 12-3 11 0 11 6 11-1 11-3 12-5 11 2 11 0 11 6 12-6 11 2 11 0 11 8 11 0 12-6 11-5 11 5 11 1 12 5 11-4 11-5 11-4 11 0 12 9 11-1 11 3 11-3 12 2 11 4 11-1 11 2 11-7 12 6 11-5 11 2 11-2 12 0 11 0 11-5 11 1 11-3 12 10 11-2 11 5 11-5 12 7 11 2 11 0 11-4 11-2 12 1 11 0 11-3 11 1 12 2 11 0 11-3 11 1 11 1 12 1 11-9 11-1 11-1 12 7 11 5 11 3 11 1 11-2 12-3 11 2 11-5 11 6 12 2 11 2 11-2 11-1 12 2 11 1 11-2 11 3 11-2 12 4 11-3 11 3 11-2 12 8 11-1 11 2 11-4 11 3 12 1 11 3 11-3 11 1 12-1 11 4 11 2 11-2 11 2 12-2 11 7 11 3 11 7 12-3 11 3 11 2 11 5 11-6 12-1 11-4 11 4 11 0 12 0 11 0 11 2 11 8 11 0 12-3 11 0 11 5 11 2 12 3 11 0 11 4 11 0 11 5 12 9 11 1 11 3 11-6 12 2 11-1 11-2 11-2 11 3 12 3 11 4 11 2 11 3 12 0 11-6 11-1 11-2 12 5 11 4 11 9 11-2 11 1 12 2 11 0 11-2 11-1 12 9 11 3 11-5 11-6 11-4 12-6 11 0 11 5 11 8 12-5 11-1 11-3 11 3 11-2 12 1 11-3 11 1 11 1 12 8 11 3 11 1 11-6 11 0 12 0 11 3 11 6 11 0 12-5 11-4 11-2 11 8 11-3 12 4 11-6 11-1 11-1 12 0 11-3 11 1 11 1 11-1 12-2 11 4 11 4 11 6 12-10 11 0 11 0 11 8 11-1 12-6 11-1 11 2 11 5 12-3 11-5 11-4 11 2 11 4 12 2 11 2 11-1 11-3 12-2 11 4 11-2 11 5 12-6 11 3 11-4 11 5 11 0 12 3 11-2 11 5 11-6 12 0 11-7 11 3 11 0 11 4 12 2 11 3 11 2 11-5 12 0 11-4 11 5 11-3 11-3 12-2 11-2 11 3 11-2 12 8 11 4 11-3 11-8 11-9 12 5 11 1 11 10 11 1 12 5 11-2 11-3 11-7 11-3 12 4 11 0 11 0 11 1 12-1 11 1 11-6 11 5 11 2 12 1 11 3 11-2 11-1 12-6 11 0 11 4 11 3 11-5 12-2 11-2 11 7 11 0 12-2 11 4 11-4 11 0 11-6 12 10 11-4 11-3 11-4 12 12 11-1 11 4 11-5 12 4 11-1 11 2 11 1 11-6 12-4 11-5 11 6 11-3 12 2 11-6 11 4 11 0 11 6 12-4 11 1 11-1 11 4 12 0 11 4 11-1 11 4 11-5 12 0 11-10 11-2 11 5 12 5 11 5 11-1 11 3 11-6 12-8 11-4 11 7 11 4 12 0 11 3 11 2 11-5 11-4 12 2 11 11 11-8 11-6 12-6 11 1 11 5 11 7 11 2 12 3 11-7 11 0 11-6 12-2 11 0 11 5 11 6 11-1 12-2 11-4 11 3 11-3 12 5 11-1 11 6 11-1 12-2 11-3 11 1 11-1 11-4 12 0 11 2 11 1 11-1 12 3 11 2 11-7 11-2 11 0 12 12 11-1 11-3 11-5 12-1 11 2 11-6 11 2 11 1 12-5 11-5 11 3 11 12 12 4 11-4 11-5 11 2 11-3 12 9 11 2 11 3 11-10 12-5 11 4 11-3 11-2 11-4 12 3 11 8 11 4 11 5 12-4 11 3 11-4 11 2 11-4 12 7 11 1 11 0 11-9 12 1 11-2 11-5 11-3 11 4 12 13 11 4 11 0 11-5 12-6 11-7 11 1 11 1 11 1 12-5 11 0 11 4 11 6 12 4 11-1 11-8 11-8 12-1 11-1 11-1 11 4 11 4 12 11 11-4 11 0 11-7 12 0 11 5 11 0 11 5 11-8 12 4 11-1 11 3 11-8 12-2 11 6 11 7 11-1 11-6 12 1 11-2 11 4 11-1 12 4 11 1 11 1 11 0 11 4 12-3 11 3 11-8 11 2 12-6 11 0 11-5 11 2 11 4 12 0 11-1 11-3 11 0 12 1 11 1 11 3 11 0 11-1 12-3 11-3 11 1 11 3 12-2 11-1 11-1 11 8 11-1 12 6 11 0 11 2 11-5 12-2 11-4 11-4 11 2 11 11 12 3 11-5 11-11 11-4 12 1 11 2 11 6 11 4 12 4 11-6 11-4 11-2 11-4 12 4 11 1 11 8 11 5 12-3 11 0 11-8 11 0 11-3 12 7 11 2 11 3 11-6 12 2 11 2 11-2 11 1 11-4 12 7 11-6 11 2 11-3 12 6 11 4 11-6 11-3 11-10 12 3 11 3 11 6 11 0 12-3 11 0 11 1 11-3 11-5 12-4 11 2 11 5 11 6 12 7 11-5 11-5 11 3 11 4 12 6 11-10 11 5 11-1 12 6 11-7 11-3 11-10 11 7 12 6 11 6 11-9 11-3 12-7 11 4 11-3 11 9 12 6 11 4 11-1 11 0 11-4 12-8 11-3 11 2 11 1 12-3" stroke="#F14040" stroke-width="30.0" fill="none" stroke-linejoin="round" transform="scale(.1)"/>
<path d="M2257 8002l11-2 11-4 11-1 12 1 11 7 11 0 11 5 11-4 12 2 11-13 11-2 11-1 12 11 11 3 11 6 11 6 12 0 11-5 11-6 11 1 11 1 12-7 11 1 11-7 11 8 12-2 11 7 11-5 11-5 11-4 12-1 11 3 11 3 11 4 12 5 11-7 11 0 11-2 11 12 12 0 11 1 11-7 11-5 12-1 11-1 11 1 11-3 11 3 12 4 11-2 11 6 11-3 12 3 11 2 11 4 11-1 11-10 12-1 11 3 11 2 11 0 12 7 11 5 11 1 11-8 11-5 12-8 11-2 11 2 11 7 12 3 11 1 11 2 11-5 11 0 12-3 11 0 11 2 11-2 12-4 11-3 11 1 11 1 11-5 12 0 11 4 11 2 11 4 12 2 11 3 11-5 11 1 12-3 11 6 11 0 11 3 11-8 12-9 11 2 11 0 11 6 12-7 11 2 11-4 11 8 11-6 12-2 11-5 11 2 11 7 12-2 11 1 11 4 11-5 11-4 12-16 11 2 11 1 11 1 12 5 11-3 11 4 11-14 11 1 12-6 11 7 11 8 11-2 12-7 11-16 11 4 11-2 11 5 12-1 11-1 11-8 11-11 12 3 11-1 11 2 11-9 11 3 12-1 11 2 11-9 11-12 12-7 11-7 11 4 11 0 11 1 12-2 11-5 11-6 11-6 12-2 11 5 11-1 11-9 11-17 12-8 11-5 11-5 11-9 12-2 11-2 11-5 11-7 12-5 11-4 11-10 11-14 11-7 12-6 11-4 11-14 11-7 12-13 11-12 11-16 11-10 11-6 12-13 11-16 11-24 11-22 12-16 11-8 11-10 11-20 11-13 12-18 11-4 11-11 11 2 12 6 11 10 11 10 11 12 11 10 12 8 11 8 11 9 11 5 12 3 11 8 11 3 11 7 11-4 12 8 11-3 11 5 11 7 12 2 11 5 11 3 11 10 11-3 12-2 11-2 11 7 11-7 12-3 11-7 11 6 11-1 11 5 12-3 11 5 11 0 11 3 12-1 11-3 11 9 11 5 12 6 11-2 11-3 11-1 11-2 12 5 11-2 11-1 11-7 12-7 11 2 11 3 11 2 11 6 12 5 11 2 11-8 11-9 12-3 11-1 11 4 11 6 11 1 12 9 11 1 11 10 11-5 12 9 11-6 11 0 11-13 11 7 12 1 11 1 11 1 11 0 12 10 11-12 11 3 11-7 11 5 12 4 11 2 11 7 11-8 12-7 11 3 11 2 11 10 11-9 12-2 11-7 11-1 11 7 12 8 11 2 11-7 11-1 11 1 12 1 11-2 11-5 11 6 12-1 11 4 11-4 11 3 11 3 12-3 11 2 11-2 11 5 12 1 11 1 11 1 11-6 12 5 11 0 11 5 11-4 11 6 12 3 11 9 11-1 11-1 12-6 11 11 11 7 11 7 11 1 12-6 11 3 11 3 11 1 12 3 11 4 11 17 11 8 11-2 12-4 11 4 11 6 11 10 12 0 11 2 11 9 11 4 11 9 12 4 11 0 11 8 11 3 12 17 11-3 11 4 11 5 11 9 12 9 11 1 11 10 11 2 12 7 11-1 11 8 11 4 11 4 12 3 11 7 11 5 11 3 12 9 11 11 11 9 11 3 11 2 12 4 11-3 11 2 11 3 12 5 11 6 11 5 11 12 12 4 11 0 11-2 11 1 11-1 12-4 11 0 11 10 11 12 12 2 11 3 11-3 11 4 11-2 12 2 11-4 11 1 11-6 12 6 11-5 11 9 11-1 11 7 12 0 11-5 11-1 11 0 12 12 11-1 11-5 11-6 11 5 12 4 11 4 11 0 11 0 12-6 11-4 11 2 11 9 11-3 12-4 11-4 11 5 11 3 12 0 11 8 11-1 11-6 11-11 12 0 11 5 11 0 11-4 12 3 11 3 11 3 11-6 11 0 12-1 11 1 11-2 11 0 12-1 11 4 11 1 11 3 11-11 12 6 11 4 11 12 11-3 12-4 11-1 11-3 11 1 12-3 11-3 11-1 11 2 11 4 12 0 11-1 11-2 11 1 12-1 11 3 11 3 11-2 11 0 12-1 11 2 11-9 11-6 12 1 11 10 11 2 11 1 11-7 12 4 11-6 11-3 11-2 12 2 11 4 11-9 11-6 11 5 12 3 11 5 11-4 11 2 12 7 11 4 11 2 11 1 11-5 12-1 11-9 11 5 11-4 12 3 11-4 11 4 11 1 11 3 12 3 11-4 11 5 11-6 12 2 11-8 11 0 11 1 11 0 12 1 11 0 11-2 11-1 12 0 11 2 11 5 11-1 11 1 12 2 11 1 11-2 11-1 12 4 11 2 11-2 11-1 12 0 11 1 11-4 11-3 11-4 12-1 11 7 11-3 11 1 12-9 11 6 11-1 11 9 11-3 12 5 11-4 11-5 11-7 12 4 11 3 11 6 11-3 11 4 12-3 11 0 11 5 11-4 12 0 11-5 11 3 11-6 11 0 12-1 11 5 11-4 11 4 12-1 11-2 11 3 11 3 11 3 12-3 11 3 11 0 11 2 12-7 11-2 11-5 11 0 11 1 12 4 11-1 11-1 11-1 12-3 11 3 11-5 11 1 11-4 12 4 11 3 11 2 11 4 12-3 11-8 11-2 11 1 12 4 11-4 11-1 11 2 11 1 12 2 11-3 11 7 11-4 12-1 11-12 11 4 11 6 11 1 12-2 11-7 11-1 11 5 12 6 11 3 11-4 11-3 11 0 12 1 11 6 11-2 11 8 12-12 11 6 11-14 11 3 11-10 12 3 11 4 11 4 11-3 12 2 11 1 11 2 11-1 11-7 12 7 11 0 11 6 11-2 12-1 11 0 11-2 11-2 11-1 12-2 11 1 11 1 11 0 12-1 11-2 11-5 11 4 11-4 12 3 11-5 11 7 11 2 12 2 11 0 11-2 11 5 11 2 12 0 11-5 11 3 11 1 12 1 11-8 11 2 11 1 12 6 11 1 11 1 11-4 11 6 12-1 11-1 11 2 11-2 12 2 11-9 11 2 11 3 11-2 12 1 11 4 11 0 11 5 12-2 11 1 11-2 11-4 11 1 12-1 11 0 11 6 11-6 12-1 11-3 11 6 11-1 11 1 12 5 11-2 11-7 11-7 12 2 11 3 11-1 11 3 11 0 12 5 11 2 11 2 11 0 12 5 11 1 11-8 11-4 11-3 12 1 11-5 11 2 11 10 12 11 11 6 11-4 11-7 11-2 12 1 11-2 11 2 11-3 12 1 11 2 11 1 11 2 11-7 12-1 11 7 11-4 11 1 12-10 11 3 11 4 11 4 12 3 11-10 11 5 11-6 11 4 12-4 11 9 11 4 11-3 12 0 11-1 11 0 11-5 11 2 12 0 11 0 11 5 11 6 12 7 11-4 11-6 11-6 11-4 12 5 11-2 11 7 11 3 12 1 11-4 11-9 11 0 11-4 12 6 11 5 11 9 11-3 12-2 11-3 11 1 11-1 11-5 12 1 11 3 11 3 11-3 12-8 11-4 11 10 11 12 11 6 12 0 11-8 11 1 11-4 12 3 11-4 11-3 11-1 11-2 12 3 11 0 11 9 11 0 12-3 11-4 11 0 11 0 12 0 11-7 11-3 11-9 11 4 12 5 11 9 11-6 11-1 12-2" stroke="#1A6FDF" stroke-width="32.0" fill="none" stroke-linejoin="round" transform="scale(.1)"/>
<path d="M2257 7997l11 0 11 17 11 1 12 1 11-10 11-5 11 1 11 2 12 1 11-2 11-3 11-3 12 2 11 1 11 1 11-2 12-4 11 5 11-3 11 3 11-2 12 5 11-3 11 6 11-6 12 4 11-5 11-1 11 5 11-2 12 3 11-3 11 0 11 1 12-7 11 4 11-5 11 1 11-2 12 6 11 5 11 5 11 0 12 1 11-5 11 3 11-4 11 3 12-7 11-1 11 1 11 2 12 1 11 0 11 1 11 1 11 1 12 3 11-1 11 3 11-6 12-1 11-4 11 0 11 4 11-3 12-8 11-4 11 2 11 9 12 6 11 2 11 0 11-2 11-2 12-5 11 2 11 2 11 3 12 0 11 0 11-1 11-5 11-4 12 4 11 0 11-2 11-1 12 1 11 3 11-1 11 1 12-2 11 1 11-7 11-1 11-2 12-2 11 1 11 5 11 3 12-2 11-7 11 2 11 3 11 3 12 3 11-10 11-2 11-5 12 2 11-1 11 0 11 5 11 2 12-3 11-4 11-5 11 1 12-1 11-4 11-8 11-1 11-2 12 7 11 4 11-3 11-1 12-7 11 2 11-2 11-1 11-6 12-8 11 0 11 4 11 7 12 1 11-2 11-8 11-7 11-3 12-6 11 1 11-6 11 4 12-5 11-1 11-8 11-2 11-2 12 0 11-7 11-9 11-6 12-2 11 1 11-6 11-9 11-8 12-1 11 1 11 1 11-6 12-5 11-7 11-12 11-10 12-9 11 2 11-10 11-4 11-11 12-5 11-10 11-8 11-12 12-17 11-13 11-14 11-5 11-18 12-13 11-26 11-18 11-25 12-18 11-21 11-21 11-20 11-23 12-12 11-3 11 4 11 6 12 3 11 12 11 13 11 20 11 16 12 18 11 15 11 21 11 13 12 14 11 4 11 21 11 8 11 10 12 0 11 6 11 8 11 6 12 3 11 1 11-1 11 3 11 5 12 4 11 5 11-2 11-3 12 1 11 5 11 0 11 3 11 2 12 8 11 7 11-5 11-3 12-8 11 3 11 5 11 6 12 5 11-2 11-3 11-4 11 6 12-2 11 5 11-2 11 6 12 0 11 7 11 5 11 1 11-9 12-2 11-2 11 7 11 0 12-2 11-8 11-2 11 3 11 5 12 2 11 2 11-3 11 2 12 4 11 2 11 0 11-4 11 5 12-2 11 2 11-1 11-1 12 1 11 5 11 6 11-1 11-11 12-3 11 3 11 7 11-4 12-5 11-2 11 1 11-3 11 5 12-2 11 3 11-1 11 2 12-2 11-2 11-1 11 10 11 4 12 2 11-6 11-6 11 0 12-2 11 7 11 6 11 0 11-5 12-4 11 4 11-3 11 3 12-1 11 1 11 1 11 4 12 6 11 5 11-4 11-3 11-10 12 5 11 3 11 5 11-4 12 2 11 2 11 9 11 2 11 3 12-3 11 1 11 6 11 8 12 4 11 0 11-1 11 0 11 5 12 3 11 9 11 0 11 4 12 4 11 10 11 4 11 4 11-4 12 2 11-2 11 2 11 10 12 11 11 8 11-1 11-2 11 3 12 3 11 7 11-1 11 6 12 2 11 9 11 2 11-2 11 2 12 1 11 9 11 3 11 4 12-2 11 8 11 8 11 6 11-2 12 3 11 3 11 0 11 5 12 7 11 8 11-5 11-1 12 0 11-1 11 3 11 6 11 2 12 5 11-4 11 2 11-4 12 5 11 4 11 4 11-7 11 0 12-1 11 5 11 1 11-2 12 1 11 4 11 5 11 4 11 2 12-1 11-1 11-4 11 0 12-4 11-1 11 3 11 1 11 3 12-6 11 4 11-6 11 7 12-3 11 2 11-3 11 0 11-1 12 0 11 3 11 0 11 0 12 2 11 4 11 1 11 1 11 3 12-2 11-2 11-12 11 1 12-4 11 5 11 0 11 4 11 7 12 3 11 3 11-1 11 2 12-5 11 2 11-9 11 3 11-7 12 4 11-4 11 2 11 1 12 1 11-3 11-3 11 0 12 7 11 5 11 0 11-8 11-6 12 2 11 2 11 6 11 1 12 1 11-4 11-3 11 7 11-2 12 7 11-10 11 0 11-16 12 8 11 5 11 9 11-6 11 0 12-3 11 3 11-1 11 3 12-4 11-1 11 5 11-1 11 5 12-2 11 4 11-2 11-4 12-4 11 3 11 2 11-1 11-7 12-1 11 5 11 1 11 2 12 2 11 9 11-3 11-7 11-13 12-3 11 3 11 6 11 3 12-1 11 3 11 1 11 3 11-6 12-1 11 5 11 7 11 2 12-8 11-2 11 0 11 1 11-1 12 3 11-1 11-5 11 0 12-1 11 3 11 0 11 3 12 3 11-2 11-3 11-2 11 6 12 1 11 0 11-4 11-3 12 2 11 0 11 2 11-6 11 2 12 0 11 9 11-1 11 2 12-2 11-3 11-2 11-1 11 1 12 3 11-2 11 1 11-6 12 2 11-2 11 0 11-2 11-1 12-2 11 3 11 5 11 4 12-3 11-8 11 4 11-1 11 3 12 4 11-3 11 1 11-3 12 5 11 2 11-6 11 0 11-5 12 6 11-4 11 5 11-2 12-1 11-1 11 1 11 0 11-6 12-1 11 4 11 7 11 3 12 2 11-3 11-2 11-3 12 1 11-4 11-3 11 0 11 6 12 4 11-2 11-9 11 1 12 3 11 8 11-2 11-1 11-5 12-2 11-1 11 1 11 4 12-2 11 6 11 2 11-3 11 1 12 0 11 3 11-1 11-2 12 4 11-7 11-1 11-7 11 4 12 4 11 4 11 6 11-7 12 7 11-9 11 2 11-11 11 2 12 0 11 6 11 3 11 3 12 0 11-1 11-9 11-3 11 2 12 3 11 1 11 0 11 3 12 3 11-4 11 1 11-5 11 5 12-1 11 7 11-9 11 4 12-10 11 6 11-6 11 8 11 0 12-1 11 2 11-3 11 9 12-10 11-2 11 1 11 7 12 0 11-12 11-1 11 9 11 3 12 2 11-5 11 5 11 2 12 6 11-6 11-4 11-7 11 7 12-1 11 3 11 2 11 5 12 2 11-5 11 1 11-10 11 1 12-3 11 7 11-5 11 5 12-1 11 0 11-10 11-1 11 6 12-4 11 3 11-7 11 9 12 4 11 5 11-1 11 2 11 1 12-9 11-7 11-1 11 7 12 0 11 0 11 0 11 0 11-1 12 0 11-1 11 6 11 4 12 3 11-3 11-7 11-5 11 1 12-2 11-1 11 1 11 4 12-1 11-5 11 4 11 2 11 5 12 2 11-1 11 4 11-4 12-1 11-8 11 0 11 2 12 1 11-4 11-1 11-1 11 5 12 2 11 4 11-5 11-3 12-2 11 0 11 3 11 0 11 1 12 0 11-8 11 6 11-3 12 10 11-6 11 6 11 2 11-2 12-3 11-10 11 7 11 2 12 1 11 0 11-3 11 6 11-1 12 7 11-1 11-1 11-9 12-4 11 0 11 3 11 3 11-7 12 2 11-2 11 6 11 1 12 1 11-3 11-5 11 5 11 2 12-1 11-2 11-1 11 6 12 3 11 3 11-4 11-7 11-3 12 2 11-1 11-1 11-5 12 3 11 6 11 5 11 5 12 1 11 2 11-6 11-3 11-5 12 0 11-1 11 2 11 2 12 2" stroke="#37AD6B" stroke-width="32.0" fill="none" stroke-linejoin="round" transform="scale(.1)"/>
<path d="M2257 7998l11 5 11 4 11 5 12-2 11-1 11-1 11-1 11-4 12-2 11-4 11 1 11 0 12 10 11-1 11 5 11-15 12 5 11-4 11 11 11 1 11 0 12-5 11-8 11-2 11-3 12-1 11 7 11-1 11 8 11-5 12 5 11-5 11-2 11-2 12 4 11 8 11 1 11-1 11-6 12-1 11-6 11-3 11 0 12 8 11 6 11-3 11-3 11-4 12 9 11 3 11-2 11-6 12 1 11 1 11 2 11 0 11-4 12-3 11-2 11 6 11-2 12 5 11-2 11 7 11 2 11 2 12 3 11-5 11 3 11-6 12 0 11 1 11 1 11 1 11-9 12-5 11-5 11 2 11-3 12 1 11 2 11 2 11-1 11 3 12 0 11 1 11-7 11 0 12 2 11 4 11 3 11 2 12 3 11 1 11-3 11-1 11 1 12-1 11-1 11 2 11 1 12 1 11 1 11 0 11 3 11-1 12-2 11-3 11-6 11 0 12-7 11 3 11-1 11 3 11 3 12 0 11 1 11-5 11 5 12-3 11 2 11-7 11 0 11-4 12 1 11-6 11 4 11-2 12 1 11-3 11 1 11-2 11 5 12-2 11 5 11-7 11-1 12-4 11 2 11 4 11 4 11 0 12-5 11-1 11-11 11 0 12-3 11 3 11-5 11-5 11 3 12 1 11-4 11-6 11 4 12-1 11-5 11-6 11 6 11 5 12-5 11-8 11-4 11 6 12-1 11-1 11-12 11-9 12-3 11-6 11-5 11-9 11 2 12-4 11 0 11-5 11 3 12-3 11-3 11-14 11-9 11-10 12-1 11-5 11-4 11-7 12-14 11-11 11-16 11-6 11-8 12-6 11-4 11-8 11 3 12-5 11 4 11 1 11 5 11 8 12 12 11 10 11 1 11-6 12 5 11 5 11 6 11 2 11 9 12-1 11-3 11-3 11 5 12 7 11-1 11 3 11-3 11-2 12 1 11-1 11 6 11 3 12 0 11-5 11 4 11 4 11 6 12-7 11-1 11-3 11 9 12 1 11 0 11 1 11-3 12-2 11-9 11-1 11 7 11 4 12 0 11-4 11-6 11 2 12 0 11 6 11-3 11-2 11 1 12 3 11 6 11-4 11 3 12-7 11-1 11-3 11 9 11 6 12 2 11-6 11-2 11-2 12 3 11 5 11 7 11-5 11-6 12-3 11 4 11-1 11-1 12-2 11 2 11-2 11 0 11-1 12 2 11 8 11 4 11 3 12 0 11-2 11-2 11-3 11 2 12-1 11-3 11-5 11 0 12 2 11 14 11 0 11-5 11-8 12-1 11 4 11 1 11-6 12 3 11 1 11 5 11 8 11-3 12-2 11-2 11 10 11 4 12-6 11-12 11 2 11 3 12 6 11-6 11 1 11 2 11 7 12-5 11-5 11-7 11-1 12 2 11 10 11 4 11 0 11-3 12 6 11 6 11 5 11-4 12 0 11 2 11 2 11 2 11 2 12 1 11 3 11 1 11 8 12 2 11 0 11 6 11 5 11 5 12-6 11 5 11-5 11 5 12 1 11 9 11 0 11 0 11 4 12 4 11 2 11 0 11 6 12 3 11-9 11 0 11 3 11 21 12 2 11 2 11-3 11 3 12 6 11-1 11 2 11 2 11 6 12 1 11-2 11-7 11 3 12 2 11 12 11 0 11 4 12-3 11 6 11 1 11 5 11-7 12 2 11-5 11 7 11 1 12 5 11 3 11-4 11-3 11-8 12 3 11 6 11 8 11-1 12 1 11-7 11 0 11-1 11 15 12-1 11 3 11-17 11-1 12-2 11 6 11-4 11-2 11-1 12 12 11 4 11 6 11-7 12 2 11 2 11 2 11-3 11-7 12-6 11-5 11 1 11 5 12 9 11-3 11 3 11-4 11 4 12 0 11 0 11-3 11-8 12-6 11 0 11 6 11 4 11 6 12 6 11 0 11-2 11-6 12 5 11-7 11-2 11-7 11 5 12 0 11 3 11-4 11 7 12 1 11 7 11-7 11 1 12-3 11 4 11 1 11-1 11-5 12-4 11 6 11 5 11-1 12-3 11-5 11 2 11-6 11 6 12-1 11 2 11-4 11 4 12 5 11 3 11 0 11-1 11 0 12-2 11 0 11 0 11-3 12-5 11-2 11-1 11-1 11 1 12-2 11-1 11-4 11 7 12 3 11 4 11-3 11 2 11 2 12 6 11 0 11 0 11-5 12-4 11-3 11 2 11 3 11 2 12 2 11-2 11 0 11-4 12 4 11 2 11 1 11-12 11-3 12 3 11 4 11 0 11-2 12 9 11-3 11 1 11-1 11 3 12-5 11-5 11 3 11 9 12-2 11-4 11-12 11 3 12-1 11 6 11 2 11 0 11 0 12-5 11 2 11 1 11 1 12 2 11 0 11 4 11 2 11-3 12 1 11-7 11 0 11 4 12 7 11 3 11-3 11-4 11-1 12-3 11 4 11 1 11-3 12-4 11-2 11 2 11 4 11-1 12 2 11-1 11 0 11-5 12-3 11 1 11 0 11-1 11-7 12 1 11 1 11 8 11 5 12-3 11 2 11-8 11 11 11-5 12 4 11-5 11 8 11 5 12-1 11-9 11-2 11-2 11 3 12-4 11 2 11 0 11 4 12-11 11 10 11 7 11 11 12-7 11-6 11-5 11-5 11 1 12 4 11 3 11 1 11-8 12-4 11-2 11 3 11 6 11-1 12 2 11 2 11 0 11 2 12-5 11 3 11 0 11 0 11-8 12-4 11 1 11 9 11 4 12 0 11-4 11-2 11-3 11-5 12 2 11 6 11 9 11-1 12-5 11-9 11 3 11 3 11 6 12-9 11-6 11-2 11 6 12 8 11 0 11-6 11-2 11 0 12 6 11 4 11 4 11 7 12-8 11-2 11-5 11 0 11 2 12-1 11 5 11-4 11-1 12 3 11-2 11-5 11-6 11 4 12 4 11 5 11 0 11-3 12-5 11 3 11 8 11 2 12-8 11-6 11-1 11 1 11 4 12-1 11 3 11 2 11-1 12 3 11-3 11-2 11 0 11-4 12-1 11-7 11 5 11 5 12 3 11 0 11 2 11-2 11-5 12 2 11-4 11 8 11-2 12 6 11-3 11-3 11-6 11-2 12-4 11 7 11 0 11 9 12 3 11-6 11-5 11-6 11 5 12-3 11 7 11 2 11-5 12-8 11 2 11 7 11 5 11-2 12 0 11-2 11 3 11 6 12-1 11-3 11-8 11-2 11 2 12-2 11 4 11-4 11 1 12 2 11 0 11 1 11-3 11 3 12 1 11 3 11 4 11 0 12-5 11-3 11-3 11 8 12-6 11 1 11-3 11 5 11-1 12-1 11-1 11 5 11-1 12 1 11 0 11-1 11-1 11-8 12 5 11-5 11 4 11 0 12 1 11 0 11-5 11 5 11 9 12 4 11-2 11-10 11-5 12-4 11 1 11 3 11 5 11 1 12 2 11-3 11 3 11-4 12 2 11 1 11 4 11-3 11 0 12-6 11 5 11-2 11 5 12 0 11 1 11-2 11-5 11 0 12 5 11 4 11 1 11-9 12 1 11-1 11-1 11 0 11-6 12 3 11-6 11 3 11 10 12 3 11 2 11-9 11-4 12 3 11 11 11 6 11-9 11-8 12-3 11 4 11 1 11-1 12 3" stroke="#B177DE" stroke-width="30.0" fill="none" stroke-linejoin="round" transform="scale(.1)"/>
<path d="M2257 7992l11-1 11-3 11-3 12 1 11-2 11 1 11-1 11 0 12 0 11 4 11 5 11 1 12-6 11 0 11 0 11-1 12-5 11 3 11 6 11 4 11-4 12-1 11 3 11-5 11-2 12-8 11 4 11-1 11 8 11 1 12 1 11-5 11 3 11 3 12 1 11-4 11-5 11-1 11 6 12 4 11 1 11-2 11 2 12-3 11 0 11-3 11 0 11 0 12 1 11 3 11-4 11 1 12 2 11 0 11 4 11-7 11 1 12-7 11 3 11 1 11-1 12 8 11 1 11 4 11-1 11 2 12-2 11-5 11-1 11 1 12-3 11-3 11 0 11 5 11 2 12-4 11-1 11 0 11 0 12 3 11-1 11 3 11-1 11 0 12-3 11-2 11 2 11-1 12-1 11 0 11 3 11-1 12-2 11 5 11 3 11 2 11-8 12 1 11-7 11 3 11-2 12 4 11-4 11 3 11 1 11 5 12-4 11 1 11-1 11-1 12-1 11-3 11 2 11 0 11 1 12 1 11-2 11 3 11 2 12 1 11-3 11-3 11-1 11 2 12-5 11 3 11-3 11 5 12 0 11 3 11-3 11 0 11-1 12 1 11-3 11 0 11 1 12-1 11-2 11 4 11 3 11 2 12 0 11-1 11-3 11 2 12 1 11 3 11-6 11 0 11 1 12-3 11-1 11-7 11 3 12 1 11 6 11 4 11-2 11-4 12-7 11 1 11 0 11 1 12-7 11-3 11 0 11 1 12 4 11 1 11 4 11-9 11-4 12-3 11 5 11 2 11-3 12-1 11-2 11 2 11-3 11-4 12-1 11-2 11 0 11-6 12-2 11-1 11-1 11-2 11 0 12 0 11 4 11-5 11 3 12-4 11 2 11-5 11-3 11 0 12 5 11 9 11-1 11 1 12 2 11 2 11-6 11-3 11-4 12 1 11 0 11 3 11 3 12 1 11-1 11 1 11 5 11 6 12 4 11-4 11 0 11-2 12 0 11-7 11 2 11 3 11 6 12 1 11-1 11-7 11 5 12-1 11 3 11-11 11-3 12 0 11 8 11 5 11 1 11-2 12-3 11 0 11 1 11 2 12-3 11-2 11 3 11 4 11-2 12-3 11 0 11 2 11-1 12-7 11-8 11-4 11 7 11 5 12 6 11 0 11 2 11-1 12-2 11-4 11-4 11 2 11 4 12 1 11-2 11 0 11 2 12 6 11-2 11 3 11-5 11 8 12-3 11 4 11-6 11 0 12-1 11-5 11-2 11-1 11 0 12 2 11-1 11 0 11-5 12 0 11 3 11 5 11-3 11 3 12-3 11 6 11-1 11 0 12-5 11 5 11 3 11 3 11-3 12 0 11-6 11-1 11 3 12 0 11 1 11-1 11 5 12 0 11-4 11 4 11 2 11 1 12-5 11-1 11 6 11-1 12 1 11-7 11 7 11-1 11 2 12-9 11 1 11 3 11 3 12 2 11-2 11 6 11 0 11 0 12-5 11 0 11-3 11-4 12-2 11 4 11 2 11 2 11 2 12 5 11 1 11-4 11-4 12-3 11 3 11 5 11 3 11 2 12 0 11-1 11 4 11 2 12 6 11-2 11-2 11-4 11-3 12 1 11 4 11 2 11-3 12-2 11-1 11 1 11 0 11 2 12 7 11 3 11 3 11-2 12 0 11-5 11-4 11 2 12 0 11 2 11 2 11 1 11 2 12 0 11 0 11-1 11-6 12 1 11 0 11-1 11-2 11 5 12 1 11 3 11-2 11-1 12-5 11-5 11 10 11 0 11 9 12-8 11 6 11-5 11-1 12-6 11 2 11 9 11 4 11 0 12-6 11-4 11 1 11-2 12 4 11 0 11 1 11-4 11-4 12 2 11 1 11 4 11-6 12 0 11-3 11 7 11 3 11 0 12 0 11-2 11 3 11 0 12-3 11 0 11 0 11 4 11-3 12 1 11-1 11 1 11-2 12-2 11 0 11-1 11 2 11 2 12 2 11 0 11 2 11-5 12-4 11 0 11 4 11 0 12-2 11-5 11 5 11 0 11 9 12-6 11 2 11-6 11 1 12-1 11 1 11 4 11-3 11-5 12-1 11 0 11 5 11 5 12 5 11 0 11-6 11-2 11 0 12 2 11 2 11 4 11-3 12-3 11-6 11 5 11 3 11 2 12-2 11-4 11-1 11 0 12 2 11 3 11-6 11 1 11-4 12 3 11 5 11-1 11-1 12-3 11 3 11 2 11-4 11 0 12-1 11 1 11 1 11 2 12 2 11-6 11-2 11 2 11 3 12 5 11-2 11 0 11-4 12 1 11 0 11 2 11-5 11 3 12-3 11 5 11 1 11 1 12 3 11-1 11 4 11-2 12-6 11-6 11 0 11 2 11 7 12-1 11 2 11-7 11-1 12-1 11 2 11 2 11-4 11 1 12-2 11 2 11-4 11 4 12 2 11 6 11-2 11-2 11 2 12-2 11 2 11-6 11 1 12-1 11 2 11-2 11-1 11-2 12 10 11 1 11 2 11-9 12 0 11-3 11 3 11 0 11 2 12 3 11-1 11 2 11-4 12-1 11-5 11-1 11 1 11 3 12 4 11-1 11-1 11 0 12-1 11 4 11-2 11 3 11-1 12 3 11-1 11 1 11-3 12-1 11-9 11 4 11 1 12 5 11-7 11-1 11-1 11 5 12-2 11 3 11 2 11 2 12-1 11-3 11 2 11 3 11 1 12 0 11-1 11 2 11-2 12-2 11 0 11 2 11 2 11 0 12-2 11-6 11-1 11 4 12 1 11-1 11-4 11 3 11 1 12-5 11 1 11-1 11 5 12-1 11 0 11 0 11 2 11 1 12-3 11-3 11 0 11 3 12 2 11 1 11 1 11-1 11-3 12-2 11 5 11-2 11 0 12-4 11-2 11-2 11 4 11 0 12 3 11-3 11 7 11-5 12 0 11-4 11 1 11-1 11 6 12-1 11 1 11-2 11 5 12 0 11-2 11-1 11-2 12-5 11-3 11 1 11-1 11 2 12-5 11 5 11 4 11 2 12 1 11-4 11 4 11-1 11-2 12 0 11 3 11 1 11-2 12-2 11 0 11 0 11 3 11 6 12 3 11-6 11-1 11-5 12 4 11-5 11 4 11 0 11 2 12 1 11 1 11 1 11-1 12-1 11 1 11 0 11 0 11-5 12-2 11-1 11 1 11 4 12 1 11-1 11-4 11-5 11-3 12-3 11 5 11 6 11 5 12-4 11-2 11-1 11 6 11 1 12 0 11-5 11-7 11 3 12 7 11 4 11-5 11-3 11 2 12 0 11 2 11-1 11 2 12-3 11-2 11 1 11-1 12 1 11-6 11 4 11 1 11 7 12-2 11-2 11-8 11-2 12 6 11 8 11 1 11-1 11-5 12 1 11-2 11-3 11 4 12 0 11 2 11-7 11 2 11 5 12 5 11 2 11 0 11-5 12-2 11 1 11 4 11-2 11-1 12-1 11-2 11-4 11 1 12-1 11-2 11-2 11 7 11 2 12 2 11-7 11 4 11 1 12 4 11-1 11-5 11-1 11 0 12 4 11 2 11 0 11 3 12-5 11 2 11-2 11 2 11-7 12-2 11 0 11 5 11-4 12-3 11-3 11 9 11 5 12 4 11-1 11 1 11 1 11 1 12-1 11-3 11 2 11-1 12-1" stroke="#CC9900" stroke-width="30.0" fill="none" stroke-linejoin="round" transform="scale(.1)"/>
<path d="M2257 8001l11 2 11 7 11-8 12-4 11-4 11 5 11 2 11-3 12 2 11 7 11 4 11-4 12-7 11 0 11 1 11-1 12-4 11-4 11 0 11 5 11 6 12 5 11 5 11 2 11-3 12-3 11-5 11-2 11 6 11 7 12 3 11-14 11-4 11-4 12 7 11 0 11 0 11 7 11 1 12 7 11-7 11-10 11-3 12 5 11 10 11-2 11-3 11-4 12 2 11 1 11-2 11-6 12-4 11 6 11 0 11-8 11 0 12 2 11 10 11-5 11 2 12-2 11 3 11 0 11 4 11-3 12 0 11 1 11 1 11 1 12-3 11-1 11-2 11 8 11 1 12 3 11-5 11-3 11-5 12-2 11-2 11-1 11-1 11 1 12-2 11 4 11 7 11 8 12-2 11-3 11-7 11 0 12-4 11-1 11-6 11 4 11 6 12 1 11-2 11-2 11 1 12 0 11 2 11 1 11 0 11-2 12 0 11 3 11-1 11 3 12-5 11-1 11-1 11-1 11 2 12 1 11-1 11 1 11-7 12 0 11-2 11 6 11-4 11-2 12-2 11 8 11 2 11-8 12-4 11-4 11 7 11 2 11-3 12 4 11 0 11 5 11-4 12-5 11-2 11-9 11-2 11 0 12-1 11 1 11-4 11-2 12-1 11-3 11 6 11-3 11-1 12-10 11 2 11-6 11 2 12-5 11 7 11-2 11 0 11-8 12 1 11 3 11-6 11-6 12-9 11-4 11-1 11-7 12-3 11-6 11 0 11-7 11-5 12-6 11 4 11-5 11 0 12-6 11-6 11-8 11-4 11-3 12-7 11-16 11-11 11-16 12-10 11-11 11-15 11-13 11-15 12-6 11-10 11-6 11-6 12-1 11 4 11 10 11 9 11 11 12 6 11 19 11 4 11 11 12-3 11 13 11 3 11 3 11-4 12 2 11 4 11 12 11 5 12 4 11 1 11 1 11 0 11-7 12 0 11-3 11-4 11 0 12 3 11 6 11-4 11 9 11 1 12 6 11-2 11 6 11 0 12-5 11-1 11 3 11 3 12-6 11-1 11-2 11 1 11-3 12 5 11 7 11-4 11-4 12-2 11 3 11 4 11 1 11-4 12-3 11-2 11 3 11 4 12 0 11 6 11 6 11 1 11-1 12-5 11 4 11 0 11-1 12-1 11 1 11 4 11-1 11-4 12-1 11-4 11 7 11-1 12-7 11 1 11-5 11 11 11-5 12 2 11-5 11 1 11 3 12-4 11-3 11-3 11 9 11 6 12 0 11-7 11-1 11 5 12 2 11 0 11-5 11 6 11-1 12 4 11-2 11 2 11-3 12 1 11-3 11 2 11-4 11 3 12 0 11 1 11-2 11 1 12 6 11 3 11-5 11-1 12-1 11 8 11-2 11-2 11-7 12 7 11 0 11 6 11-3 12 4 11-3 11 6 11 2 11 1 12-8 11 2 11 3 11 3 12 2 11 4 11 5 11-3 11 2 12 1 11 7 11 1 11-3 12-1 11 1 11 9 11 6 11 2 12-3 11 3 11 6 11 7 12 2 11-1 11 4 11-1 11 0 12 4 11 5 11 8 11 2 12-3 11-3 11 2 11 9 11 6 12-2 11-3 11 2 11 10 12 10 11 3 11-2 11-6 11-2 12 4 11 4 11 3 11 2 12-1 11 12 11-2 11 3 12-7 11 3 11 2 11 6 11 6 12-4 11-3 11 0 11 7 12 1 11 3 11 2 11 0 11 1 12 1 11-3 11-1 11-4 12-1 11-5 11 3 11 3 11 6 12 0 11 1 11 2 11 0 12 1 11-2 11-4 11 0 11-2 12 3 11 1 11 1 11 1 12-2 11 0 11-1 11 3 11 2 12-3 11 0 11 1 11 6 12-2 11-3 11-7 11 1 11 0 12-1 11-3 11 1 11 4 12 1 11-1 11 1 11-1 11 1 12-3 11 4 11-4 11 2 12 0 11 6 11-5 11-3 11-5 12 6 11 2 11 4 11-2 12 0 11-2 11 4 11-7 12 4 11-16 11 6 11-7 11 12 12-2 11 3 11 3 11 6 12 5 11-6 11-2 11-3 11 2 12-1 11 0 11 3 11 3 12-1 11-4 11-3 11 0 11-1 12-1 11-2 11 7 11 0 12 11 11-9 11 0 11-7 11 3 12 0 11 1 11 0 11 0 12 5 11-1 11 1 11-9 11 0 12 6 11-2 11 5 11 3 12 3 11-3 11-9 11-1 11-4 12-2 11 6 11 3 11 1 12-3 11 1 11 2 11-3 11 3 12 6 11 3 11 0 11-6 12-2 11 0 11-1 11 6 11-1 12 2 11 0 11-4 11 1 12-2 11 1 11-2 11-2 12-4 11-3 11-1 11 3 11-2 12 1 11 0 11 0 11 5 12 3 11 7 11-3 11 0 11-6 12 5 11-2 11 2 11-5 12 1 11-2 11-1 11-2 11 7 12 0 11 1 11-3 11 2 12 5 11-5 11 4 11-7 11 3 12-2 11 1 11-1 11-2 12 1 11 0 11 1 11 3 11 1 12 3 11 1 11-2 11-7 12-3 11 1 11 2 11 2 11 0 12-1 11-2 11 2 11-6 12-2 11-3 11 7 11 0 11 5 12 0 11 2 11-2 11-6 12 2 11-3 11 4 11-2 12-4 11 2 11 5 11 3 11-3 12 0 11 1 11 5 11-4 12-2 11 0 11 0 11 0 11-2 12 0 11 2 11-3 11-5 12-4 11 8 11 7 11 9 11 0 12-2 11 2 11-7 11-5 12-2 11-5 11-2 11 1 11 7 12 5 11-3 11-3 11-1 12 1 11 1 11-2 11 3 11 0 12 5 11-2 11 1 11-3 12 5 11 4 11-5 11-6 11-2 12 4 11-6 11-5 11 4 12 8 11 9 11 0 11-5 11-10 12-3 11 7 11 11 11 0 12-4 11-6 11 0 11-5 11 0 12-1 11 4 11-5 11 1 12 2 11 3 11-1 11 3 12 2 11 0 11 0 11 4 11 2 12-1 11-7 11-5 11 6 12 2 11 4 11-8 11-2 11 2 12 8 11 1 11-2 11-10 12 0 11 1 11 0 11 2 11-2 12 4 11-2 11 1 11-1 12 1 11-4 11-1 11 4 11 0 12-7 11-4 11 3 11 4 12 1 11-1 11 3 11 6 11 3 12-1 11-12 11-1 11 3 12 5 11 0 11 0 11-4 11-1 12 0 11 4 11-2 11 2 12 5 11 4 11-3 11-2 11 1 12 2 11-8 11-2 11-6 12 7 11 0 11 9 11 0 11 1 12-6 11-2 11 7 11-1 12-1 11-8 11 0 11 3 12-2 11 2 11 0 11 4 11-3 12-3 11 1 11-1 11 0 12 2 11 0 11 4 11-8 11-3 12 1 11 10 11 8 11-3 12-6 11-1 11-5 11-1 11-3 12 9 11 0 11 3 11-6 12 1 11-4 11 4 11-2 11 9 12-5 11 2 11-10 11 1 12-1 11 6 11 0 11 1 11-2 12 1 11 0 11 2 11-1 12-2 11-6 11-1 11 8 11 6 12 6 11-3 11-3 11-6 12 0 11 1 11-1 11-1 11 4 12 2 11 2 11-6 11-2 12-5 11 3 11 3 11 4 12-5 11-3 11-2 11 1 11-1 12 1 11 0 11-1 11 0 12 1" stroke="#00CBCC" stroke-width="30.0" fill="none" stroke-linejoin="round" transform="scale(.1)"/>
<path d="M2257 7999l11 3 11 4 11 5 12-4 11 2 11-4 11 3 11-8 12-3 11-1 11 1 11 4 12-2 11 3 11-3 11 0 12 3 11-4 11 1 11-4 11 4 12 0 11-7 11 1 11 4 12 9 11 8 11-4 11 0 11-8 12 4 11-4 11-6 11 1 12-2 11 4 11-4 11 2 11-1 12-2 11 2 11 10 11 2 12 0 11-11 11 2 11-2 11 11 12-3 11 0 11-11 11 0 12-1 11 2 11 7 11-2 11 1 12-7 11 1 11 2 11 2 12 1 11-3 11-5 11-1 11 0 12 5 11-4 11-3 11-5 12 8 11 2 11 6 11-3 11 3 12 0 11-3 11-7 11-2 12-3 11 5 11-2 11 2 11-2 12 1 11 4 11 2 11 6 12 5 11-1 11-9 11-9 12-2 11 2 11 1 11-2 11-4 12-3 11-3 11-4 11 1 12 3 11-5 11-3 11-5 11-1 12-5 11-8 11-2 11-7 12-1 11-5 11 0 11-1 11-3 12-2 11-10 11-3 11-6 12-4 11-3 11-3 11-1 11-5 12-6 11-3 11-7 11-4 12-7 11-1 11-7 11 0 11-12 12-3 11-14 11 1 11-10 12 0 11-11 11-7 11-2 11-1 12-6 11-12 11-9 11-10 12-12 11-13 11-10 11-4 11-17 12-9 11-14 11-5 11-11 12-12 11-13 11-11 11-16 11-15 12-16 11-9 11-13 11-15 12-27 11-24 11-24 11-15 12-21 11-25 11-29 11-16 11-24 12-16 11-41 11-24 11-34 12-24 11-36 11-31 11-30 11-22 12-23 11-19 11-13 11-16 12-1 11-2 11 13 11 16 11 18 12 20 11 23 11 39 11 44 12 45 11 41 11 46 11 27 11 30 12 18 11 31 11 25 11 20 12 20 11 19 11 14 11 10 11 10 12 9 11 10 11 6 11 12 12 4 11 6 11-2 11 7 11 2 12 11 11-1 11-1 11-4 12-1 11 4 11 0 11 5 11 3 12 2 11-3 11 4 11 3 12 6 11-6 11-1 11-3 12-2 11-2 11 1 11 6 11 5 12 1 11-7 11-1 11-1 12 7 11-5 11-4 11 0 11 0 12 3 11-3 11 2 11-3 12-3 11-9 11 2 11 0 11 6 12-2 11-6 11-7 11-2 12 6 11 2 11-6 11-4 11 0 12 7 11 4 11-6 11-1 12-1 11 10 11-5 11-1 11-11 12 7 11 3 11 8 11-8 12-4 11 1 11 1 11 9 11-7 12 0 11-3 11 7 11 9 12-3 11-2 11-1 11-2 11 5 12-2 11 5 11 0 11 3 12 5 11 6 11 7 11 3 11-2 12-5 11 1 11 5 11 8 12 4 11 6 11 6 11 3 12-3 11-2 11 3 11 9 11 6 12 5 11 4 11 3 11 6 12 1 11 11 11 5 11 8 11 4 12 5 11 4 11 1 11 5 12 8 11 15 11 3 11-3 11 3 12 6 11 5 11 3 11 8 12 7 11 6 11 7 11 8 11 13 12 4 11 2 11-4 11 2 12 7 11 4 11 5 11 5 11 6 12 1 11 3 11-2 11 6 12-2 11 5 11 4 11 5 11 6 12-3 11 0 11 4 11 11 12 8 11-2 11-4 11 7 11 9 12 10 11-1 11 1 11 2 12 3 11-3 11-5 11 5 12 2 11 10 11 0 11 2 11-4 12 4 11 6 11-3 11 1 12 7 11 5 11 4 11-5 11 4 12-3 11 5 11-3 11-1 12-3 11 2 11 2 11 3 11 3 12 0 11 1 11 5 11 10 12-1 11-6 11-7 11 2 11 7 12 2 11-1 11-7 11-2 12 3 11 2 11-1 11 8 11 7 12 11 11 1 11-2 11-4 12-6 11 0 11 0 11-1 11 2 12 3 11-5 11-1 11-1 12 6 11 5 11 0 11 1 11 1 12 4 11-6 11 1 11-6 12 12 11-1 11 3 11 2 11-6 12 0 11-3 11 0 11 5 12-4 11 6 11-3 11 5 12 2 11 3 11-3 11-1 11 0 12 5 11 5 11-4 11-3 12-2 11 5 11 0 11-2 11 0 12 1 11-3 11-1 11-3 12-2 11 0 11 1 11 4 11-2 12-5 11-2 11 1 11 1 12 4 11 2 11 0 11-3 11-3 12 2 11-5 11 1 11 2 12 9 11-1 11 0 11-3 11 6 12 3 11-4 11-1 11-4 12 5 11 2 11 0 11-2 11-6 12-2 11-3 11-2 11 1 12 4 11 2 11-4 11-2 11-1 12 3 11-1 11 9 11 4 12 2 11-8 11 1 11-5 11-1 12-2 11 4 11 6 11-1 12-1 11-2 11 2 11-1 12-5 11-1 11 1 11 8 11-2 12-1 11-3 11 2 11 0 12 6 11 1 11 4 11-8 11 3 12-5 11 3 11 0 11-5 12 2 11-3 11 1 11-6 11-3 12-3 11 2 11 8 11 3 12 3 11-6 11 1 11-5 11 5 12-1 11 4 11-1 11 1 12-1 11-4 11-2 11 3 11-2 12 0 11 1 11-5 11 3 12-7 11 6 11-2 11 1 11 0 12 0 11 3 11-6 11 0 12-8 11-1 11-9 11 3 11 4 12 4 11-1 11-7 11-4 12 0 11 3 11-6 11 2 12-2 11 10 11-8 11 0 11-6 12-2 11 5 11 4 11 10 12-4 11 0 11-5 11-9 11-5 12-5 11-1 11-2 11 1 12 0 11-2 11 2 11 9 11 2 12-4 11-4 11-5 11-6 12-6 11 8 11 6 11 5 11-11 12-4 11-3 11 2 11 2 12 3 11 0 11 1 11-3 11-4 12-3 11-3 11 2 11 1 12 0 11 2 11-4 11 2 11-4 12 0 11 0 11 5 11-4 12 0 11-2 11 6 11 0 11 5 12 2 11 2 11-6 11-8 12 0 11 3 11 5 11 1 11 3 12 5 11-7 11-3 11 1 12 5 11 2 11-2 11 7 12 1 11 0 11-7 11 0 11 3 12 4 11-2 11-9 11 2 12 0 11 6 11-1 11 13 11 2 12 2 11-6 11 1 11 2 12 2 11-1 11-5 11-5 11 2 12 3 11 2 11-1 11-4 12 1 11 1 11 6 11 0 11-3 12-5 11 3 11 12 11 8 12 1 11-2 11 1 11-4 11 1 12 3 11 6 11-3 11-10 12-1 11-1 11 5 11 7 11 7 12 6 11-3 11 0 11-6 12-1 11-6 11 1 11 0 11 7 12 5 11 0 11 0 11-1 12 5 11-6 11-2 11-3 11 0 12-1 11 0 11 1 11 1 12 0 11 1 11 3 11 3 12 2 11-2 11-1 11-1 11-1 12-3 11-1 11 6 11 3 12 0 11-4 11 2 11-3 11 5 12 1 11 4 11-4 11 2 12 2 11 5 11-2 11-7 11-8 12 1 11 6 11 4 11 4 12-2 11-2 11-5 11 8 11 9 12-2 11-4 11-4 11 0 12-1 11 1 11 3 11 6 11-4 12-5 11-4 11 3 11 6 12-3 11 2 11-1 11 4 11-3 12-2 11-3 11 6 11-8 12 1 11 1 11 4 11 5 11-7 12 1 11-9 11 5 11 7 12 5 11-4 11-5 11 1 12-2 11-2 11 3 11 4 11 7 12-2 11 6 11 0 11 2 12-5" stroke="#7D4E4E" stroke-width="30.0" fill="none" stroke-linejoin="round" transform="scale(.1)"/>
<path d="M2257 8009l11-1 11-4 11 4 12-3 11-2 11-3 11 7 11-4 12 2 11-2 11 7 11-6 12 3 11-1 11 1 11-3 12-6 11 0 11-5 11 5 11 1 12 3 11-3 11-3 11-1 12 0 11 0 11 5 11 0 11 6 12-6 11 3 11 1 11 2 12-2 11 1 11 1 11-3 11-4 12 4 11 4 11 4 11-1 12-3 11-5 11-7 11 5 11 2 12 7 11-5 11 3 11-1 12 6 11-4 11-4 11-4 11-2 12 1 11 2 11-3 11 3 12-1 11 2 11-2 11-2 11 8 12 2 11 4 11-6 11-2 12-4 11 4 11 0 11 0 11 1 12 2 11-2 11-2 11-9 12 0 11-3 11 7 11 1 11 1 12 4 11 2 11 2 11-7 12-1 11 6 11 2 11 0 12-9 11 0 11 2 11 6 11 3 12-1 11-5 11 0 11-3 12-2 11-1 11 1 11-1 11-4 12-3 11 6 11 2 11 2 12-8 11 7 11-1 11 2 11-9 12 0 11 1 11 0 11 3 12-2 11 4 11-2 11-3 11-7 12-5 11-1 11-1 11-1 12 4 11 2 11-4 11-1 11-6 12 1 11-8 11 3 11-3 12 5 11-3 11-4 11-8 11-4 12-1 11 1 11-1 11-1 12 3 11 0 11 9 11-7 11-4 12-10 11-3 11-5 11-7 12-3 11-7 11 3 11-7 11-4 12-8 11-6 11-1 11-12 12-5 11-7 11 2 11-3 12-5 11-6 11-6 11-9 11-6 12-3 11-9 11-9 11-12 12-2 11-6 11-11 11-14 11-11 12-6 11-9 11-16 11-14 12-17 11-15 11-15 11-12 11-14 12-16 11-10 11-9 11-1 12-3 11 6 11 6 11 12 11 13 12 11 11 12 11 4 11 4 12 6 11 9 11 9 11-1 11 5 12 0 11 5 11-2 11 0 12 4 11 8 11 4 11-1 11 1 12 3 11 2 11-3 11 1 12 6 11 2 11 4 11-8 11-2 12-1 11 8 11 0 11-1 12-1 11 4 11 4 11 4 12 2 11-3 11-2 11-6 11 2 12 0 11 2 11 1 11-6 12-2 11 2 11 3 11 3 11 2 12 10 11 5 11-6 11-7 12-2 11 3 11 6 11-2 11-3 12-4 11 1 11 5 11 1 12-2 11-1 11 1 11-1 11-1 12 3 11-1 11 1 11 2 12 1 11-5 11-6 11 5 11 7 12 3 11 4 11-4 11-3 12-3 11-3 11-1 11-7 11 3 12-1 11 3 11 5 11 4 12 5 11 0 11 1 11 0 11 1 12-2 11-2 11-3 11 1 12 4 11 0 11 4 11-5 11 0 12-2 11-3 11 1 11 0 12 4 11 1 11-1 11-5 12 1 11 6 11 8 11 2 11-3 12 3 11 5 11 13 11 1 12-2 11-5 11 2 11 2 11 4 12 1 11 6 11 1 11-4 12-2 11 2 11 10 11 4 11 0 12 5 11 3 11 8 11-2 12 2 11 5 11 13 11 3 11-1 12 0 11 2 11 12 11 6 12 14 11-2 11 2 11-3 11 14 12 2 11 6 11-9 11 5 12 9 11 4 11 5 11-4 11 12 12 3 11 5 11-1 11 2 12 10 11 8 11 9 11-1 11 8 12-4 11 6 11-4 11 11 12-6 11-1 11 5 11 14 12 7 11 2 11-2 11 0 11 0 12 3 11 6 11-2 11-3 12-1 11 5 11 8 11 2 11-7 12-1 11 4 11 6 11-1 12-2 11 0 11 0 11 3 11-3 12-2 11-3 11 3 11 5 12 4 11 0 11-1 11-2 11-4 12 0 11-4 11-2 11-4 12 5 11 4 11 4 11-1 11 0 12 4 11 0 11 1 11-6 12-1 11 0 11 3 11-3 11 2 12 1 11 3 11 0 11 2 12-2 11-4 11-5 11 2 11 3 12-2 11 3 11 0 11-1 12 0 11-2 11 9 11-5 11-3 12-8 11 1 11 8 11 5 12 4 11-4 11-2 11-6 12 2 11-3 11 2 11 0 11 3 12 0 11 6 11-8 11 4 12-9 11 1 11 3 11 4 11 3 12 0 11-3 11 4 11-5 12 1 11-3 11 3 11 0 11 6 12-4 11 5 11-5 11 3 12-9 11 0 11-3 11 6 11 0 12-2 11-3 11-4 11 2 12-4 11 9 11 2 11 6 11-3 12-3 11 0 11 3 11 3 12 3 11-4 11-1 11 7 11-3 12 3 11-10 11 2 11-2 12-3 11-4 11 8 11-4 11 5 12-9 11 8 11 2 11 1 12-1 11-3 11-3 11-2 11 2 12-1 11 0 11 0 11 2 12-1 11-1 11 2 11 9 12 6 11 1 11-7 11-8 11 3 12 2 11 3 11-1 11 1 12-3 11-4 11-7 11 6 11-2 12 1 11-9 11 2 11-1 12 3 11 0 11 8 11 5 11 2 12-3 11-4 11-5 11 3 12 0 11 2 11-6 11 5 11 5 12 1 11-3 11-3 11-3 12 2 11 4 11 6 11-6 11-4 12-4 11 3 11-7 11 4 12 0 11 6 11-2 11 0 11 6 12-2 11 5 11-8 11 2 12 1 11 4 11-2 11-3 11 5 12 3 11-2 11-6 11-2 12-3 11-4 11-2 11 4 12-3 11 8 11 4 11 9 11-4 12-5 11 0 11-1 11-2 12-4 11-1 11-1 11-2 11 3 12 4 11 9 11 0 11 2 12-4 11 3 11-2 11-1 11-2 12 1 11-2 11-5 11 1 12 3 11 3 11-4 11-4 11 0 12 3 11 2 11 0 11-2 12 5 11 1 11-4 11-5 11 1 12 2 11 0 11-3 11 3 12-6 11 1 11 3 11 4 11-3 12 0 11 3 11-3 11-5 12-5 11 5 11 2 11 8 11 6 12-3 11 0 11-6 11 5 12-3 11 2 11-8 11 0 11 0 12 5 11 8 11-4 11 3 12-11 11 5 11-6 11 10 12-1 11 1 11-9 11-1 11 1 12 4 11-4 11-2 11-8 12 6 11 0 11 1 11-4 11 3 12 3 11 2 11 2 11 0 12-4 11-1 11 7 11 1 11 6 12-9 11-1 11-3 11 1 12 0 11-2 11 7 11 0 11-2 12-3 11 0 11 3 11-5 12-2 11 0 11 5 11 2 11-2 12 4 11-1 11 1 11-9 12 8 11-3 11 2 11-5 11 3 12 6 11 0 11-6 11-5 12 1 11 5 11 3 11-2 11-7 12-9 11 3 11 7 11 14 12 0 11-6 11-10 11-1 11 6 12-1 11-2 11-12 11 0 12-1 11 13 11 9 11 9 12-8 11-5 11-1 11 6 11-2 12 2 11-4 11 0 11-11 12 1 11 7 11 2 11-1 11-5 12 6 11 0 11 2 11-1 12 3 11-6 11-4 11 3 11 3 12 4 11-5 11-1 11-1 12-3 11-2 11 2 11 4 11 7 12 2 11 4 11 0 11-1 12-6 11-4 11-1 11 4 11 0 12-3 11-7 11 0 11 0 12 9 11 1 11 0 11-2 11 1 12-5 11-5 11-3 11 4 12 2 11 2 11 4 11 1 11-5 12 1 11-1 11 7 11 3 12 0 11-3 11-5 11-2 12-1 11 4 11 0 11 6 11-4 12 0 11-9 11 2 11 1 12 4" stroke="#8E8E00" stroke-width="30.0" fill="none" stroke-linejoin="round" transform="scale(.1)"/>
<path d="M2257 8009l11-3 11 2 11-7 12 6 11-3 11 0 11-3 11-5 12 1 11-3 11 13 11-2 12 7 11-2 11 5 11-3 12-9 11-2 11-2 11 8 11-1 12 6 11-3 11-1 11-1 12 7 11 4 11-5 11-3 11 3 12-1 11 2 11-8 11-2 12 1 11 0 11 2 11-8 11-3 12-3 11 1 11 3 11 5 12 1 11-3 11-2 11-2 11-1 12-3 11-3 11 4 11 4 12-2 11-4 11-1 11 7 11 5 12 2 11-2 11-4 11-2 12 5 11 3 11 1 11-3 11 5 12 3 11-3 11-9 11 0 12-4 11 0 11-3 11 4 11 4 12 5 11 1 11-2 11 2 12 1 11 7 11-4 11-3 11-5 12-2 11 10 11 4 11 2 12-11 11-5 11 3 11 3 12 8 11-6 11-2 11-6 11 2 12 3 11 6 11-6 11 3 12-1 11 1 11-2 11-6 11-1 12-7 11-1 11 3 11 0 12 0 11-1 11 4 11 2 11 5 12-5 11-2 11-10 11 9 12 5 11 6 11-2 11-4 11 0 12-2 11-1 11-7 11-4 12 2 11 4 11 2 11-8 11 5 12 1 11 3 11-5 11-6 12 2 11-3 11 0 11-9 11-5 12 3 11 1 11 5 11-2 12-1 11 0 11-6 11 5 11-7 12 1 11-6 11-1 11 3 12 0 11-3 11-5 11-5 11 4 12 0 11-4 11-7 11-5 12 1 11-6 11 0 11-4 12 1 11-5 11 2 11-7 11-5 12-4 11 1 11 0 11-8 12-1 11-5 11-1 11-9 11-5 12-3 11-8 11-14 11-7 12-3 11-2 11-8 11-11 11-1 12-4 11-2 11-11 11-7 12-3 11 0 11 5 11 7 11 5 12 1 11 1 11 6 11 9 12 3 11 0 11-3 11 7 11 5 12 5 11 6 11-1 11 4 12-2 11 4 11 3 11 1 11-3 12 0 11-1 11 8 11-7 12-4 11 3 11 3 11 5 11-8 12-1 11-1 11 1 11 5 12-4 11 1 11 1 11 7 12 3 11 1 11 1 11 3 11-6 12-7 11-3 11-1 11 8 12 1 11 6 11-5 11 3 11-1 12 3 11 0 11 3 11-2 12 2 11-4 11 7 11 1 11 4 12-1 11-7 11 0 11-1 12 5 11-4 11-4 11 0 11 2 12-1 11-5 11-1 11 3 12 11 11 3 11-4 11-6 11 4 12 5 11 0 11-7 11-1 12-2 11-3 11 1 11 3 11 5 12-2 11 1 11-2 11 6 12 0 11 0 11-9 11-2 11-1 12 5 11 2 11 4 11-2 12-4 11-6 11 1 11-2 11 0 12 5 11 7 11 6 11-6 12-7 11 2 11 5 11 7 12 0 11-7 11-3 11 3 11 10 12 6 11-6 11-1 11-11 12-2 11 4 11 11 11 10 11-4 12-12 11-1 11 5 11 11 12 2 11 6 11 2 11 3 11-3 12 1 11-1 11 0 11 4 12-2 11 1 11-5 11 7 11 4 12 1 11-1 11 6 11 4 12 5 11-2 11 4 11 5 11 4 12 5 11 0 11-1 11-4 12-2 11 1 11 5 11 4 11 7 12-1 11 2 11-2 11 3 12-3 11 5 11 4 11 10 11 1 12-1 11-1 11 6 11 6 12 0 11-5 11 0 11 0 12 2 11-1 11 1 11-1 11 6 12 3 11-1 11-4 11-4 12 6 11-1 11 4 11 0 11 2 12-3 11 2 11 1 11 5 12-1 11 1 11-1 11-1 11-3 12 2 11 6 11-1 11-8 12-2 11 6 11 3 11-3 11 0 12 5 11 5 11-5 11-2 12 0 11 2 11-3 11-6 11 1 12 6 11-1 11 2 11-2 12 3 11-1 11-9 11-2 11 0 12 9 11-1 11-5 11-3 12-6 11 0 11 7 11 3 11 5 12-1 11 8 11 0 11-8 12-7 11-1 11 6 11 3 11 0 12-4 11 1 11 6 11 4 12-2 11-5 11-5 11 0 12 2 11 0 11-1 11 1 11 3 12 0 11-1 11-3 11 4 12-1 11 0 11-3 11-1 11-1 12 2 11 2 11 2 11 5 12-6 11-1 11-1 11 3 11-4 12-5 11 0 11 6 11-4 12-2 11-2 11 7 11 10 11 2 12-3 11-10 11-2 11 5 12 3 11 0 11-2 11-2 11 7 12-1 11 7 11-9 11 3 12 0 11 0 11-4 11-3 11-3 12 3 11 0 11 4 11-1 12 1 11-5 11 0 11-3 11 6 12 1 11 4 11 2 11-5 12 2 11-4 11 2 11 2 11-1 12 4 11-4 11 5 11-5 12 3 11 0 11 1 11-11 12-6 11-3 11 9 11 0 11 4 12-2 11-5 11-5 11-2 12 11 11 4 11-3 11-4 11-3 12 4 11-1 11 1 11-1 12 3 11-1 11-1 11-3 11 7 12-1 11 0 11-3 11 0 12 1 11 1 11 0 11 2 11 1 12-4 11 7 11 3 11 5 12-6 11-12 11-3 11-6 11 10 12 4 11 8 11 0 11-3 12-2 11-5 11 2 11 1 11 6 12 2 11-6 11-1 11 2 12 3 11-3 11-3 11-2 11 5 12 1 11 1 11-10 11-3 12 2 11 4 11 4 11-2 12 4 11 0 11 4 11-3 11-6 12-2 11-4 11 0 11-5 12 2 11 3 11 3 11 0 11 0 12 2 11 0 11-2 11-1 12 4 11 4 11 5 11-6 11 1 12-8 11 1 11 0 11 2 12 8 11 0 11 4 11-9 11 1 12-5 11 4 11 2 11 4 12-5 11-4 11-3 11 3 11 4 12-1 11 2 11-8 11 3 12-2 11 10 11 1 11 5 11-8 12-5 11-9 11 2 11 3 12 7 11 5 11 3 11-2 11-1 12-3 11-5 11 2 11-1 12 7 11-3 11 1 11-6 11 1 12-2 11-2 11-7 11-1 12 3 11 0 11-1 11 3 12 7 11 4 11-1 11-2 11-6 12 2 11-4 11 4 11-3 12 1 11 1 11 0 11 8 11 1 12 4 11-5 11-1 11-2 12 3 11 2 11-5 11-5 11-1 12 0 11 3 11 4 11 5 12 0 11-2 11 1 11-2 11 0 12-1 11-1 11 1 11 1 12 4 11-4 11-6 11-5 11 7 12 2 11 4 11-5 11 6 12-8 11-1 11-2 11 5 11-4 12 4 11-2 11 4 11 1 12 2 11-2 11-4 11 4 11 4 12-1 11-6 11-3 11-2 12 6 11 4 11-1 11-9 11-3 12 4 11 5 11-3 11-2 12 0 11 2 11 8 11-4 12 4 11-3 11 10 11-2 11 1 12-4 11 1 11-4 11-3 12 1 11-1 11 3 11-10 11 3 12-4 11 7 11-2 11-7 12-2 11 1 11 10 11 2 11-2 12-4 11 0 11 3 11 5 12 0 11-1 11 1 11 1 11-8 12 5 11-2 11 7 11-5 12 3 11 1 11-4 11-7 11 6 12 2 11 1 11-11 11-3 12 5 11 5 11 3 11-4 11-2 12-5 11 3 11 0 11 5 12 0 11 5 11 1 11-4 11-4 12 6 11 2 11-1 11-9 12-2 11 2 11 0 11 9 12-1 11 5 11-1 11 5 11-2 12-6 11 2 11-1 11 0 12-7" stroke="#FB6501" stroke-width="30.0" fill="none" stroke-linejoin="round" transform="scale(.1)"/>
<path d="M2257 8004l11 2 11-4 11 2 12-6 11-3 11 5 11 0 11-1 12 2 11-1 11 4 11-3 12 0 11 0 11-1 11 5 12 2 11-2 11-1 11 0 11 3 12 0 11-3 11-5 11 1 12 4 11 7 11-5 11-6 11 0 12 10 11 4 11-2 11-7 12-6 11-3 11 5 11 4 11-4 12-5 11 2 11 4 11 0 12 6 11-1 11 1 11-7 11 8 12-1 11 1 11-5 11 0 12 4 11-3 11 6 11-1 11 0 12-4 11-3 11-1 11 3 12 4 11-2 11-5 11-5 11 3 12 1 11 1 11 3 11 0 12 7 11-4 11-3 11-6 11-1 12 4 11-1 11 2 11-6 12 0 11-5 11 4 11 4 11-2 12 1 11-1 11 4 11 2 12 2 11 5 11 0 11-4 12-10 11-2 11-5 11 4 11 1 12 5 11 0 11-3 11 3 12-2 11 2 11-2 11-8 11-1 12 0 11 4 11 1 11-3 12 5 11 5 11-5 11-3 11-5 12 9 11 3 11-1 11-3 12 4 11 0 11-5 11-9 11-7 12 2 11 3 11 0 11 2 12-3 11 2 11-3 11 5 11-4 12 2 11-8 11 5 11-4 12-2 11 2 11 3 11-1 11-4 12-4 11-3 11-6 11-4 12-2 11 2 11-4 11-2 11-5 12 0 11-3 11-5 11-8 12 2 11 2 11 0 11-4 11-11 12-1 11-3 11 6 11-4 12-3 11-11 11-4 11-7 12-1 11 0 11-3 11-2 11-9 12-4 11-11 11-9 11-7 12-5 11-3 11-9 11-16 11-10 12 0 11-6 11-11 11-17 12-6 11-14 11-10 11-17 11-7 12-7 11-1 11-3 11 0 12 8 11 8 11-2 11 4 11 10 12 18 11 1 11 6 11 3 12 8 11 4 11 9 11 4 11 8 12 3 11 6 11-2 11-1 12 3 11 5 11 1 11 0 11 3 12 6 11 2 11-2 11 3 12 1 11-2 11-10 11-2 11 4 12 7 11 2 11 2 11 1 12-5 11 3 11-2 11 12 12-6 11 4 11-5 11 0 11-4 12-3 11-3 11 6 11 7 12 2 11-4 11-4 11 4 11-1 12 2 11-2 11 1 11-6 12 7 11 5 11 6 11 2 11 1 12 1 11-1 11-10 11 2 12-3 11 8 11 0 11 1 11-5 12-7 11 2 11 0 11 2 12 0 11 1 11 4 11-5 11 6 12 2 11 11 11-4 11-1 12-5 11 0 11-7 11-2 11 6 12 0 11 3 11-5 11 3 12-6 11 0 11-1 11 1 11-1 12 4 11 1 11 4 11 3 12-1 11-8 11 3 11 1 11 5 12-2 11 1 11 0 11 3 12-3 11 2 11-4 11-1 12 1 11 1 11 3 11 7 11 4 12-1 11-4 11-5 11 0 12 4 11-5 11 8 11-4 11 14 12-4 11 6 11 1 11 5 12 2 11 0 11 1 11 2 11 0 12-2 11 3 11 6 11-1 12 4 11 3 11 6 11 3 11-4 12 8 11 2 11 2 11 5 12-2 11 11 11-2 11 5 11-1 12 11 11 5 11 0 11-4 12-3 11 0 11 5 11 9 11 10 12 0 11 0 11-2 11 4 12 0 11 6 11 0 11 0 11 2 12 3 11 13 11-2 11-2 12-6 11 3 11 9 11 0 12 1 11-9 11 6 11 4 11 11 12 4 11 0 11-3 11-2 12 1 11-3 11 0 11 1 11 4 12-2 11-1 11 2 11-1 12 10 11-2 11-5 11-10 11-2 12 10 11 4 11 3 11-2 12 2 11-1 11-5 11 1 11 7 12 4 11-4 11-6 11-3 12 2 11 0 11 0 11-2 11-4 12 6 11 3 11 3 11-4 12 5 11 2 11 0 11-8 11-2 12 5 11-2 11-2 11-6 12 6 11 2 11 2 11-2 11 4 12 1 11 9 11-4 11 3 12-13 11-2 11-7 11 2 11 0 12 4 11 4 11 2 11 1 12 2 11-2 11-8 11-3 12 5 11 13 11 7 11 0 11-8 12-5 11 0 11 2 11 0 12-6 11-1 11-1 11 6 11 5 12 1 11-2 11-7 11-4 12 2 11 0 11 7 11-5 11 2 12 0 11 0 11 3 11-6 12 1 11 2 11 0 11-2 11-5 12 3 11 5 11-1 11-2 12-12 11 4 11 6 11 9 11-1 12 0 11 2 11 1 11-4 12-4 11 1 11-8 11 4 11-3 12 10 11-2 11 0 11 0 12 3 11-6 11-1 11-3 11 10 12-7 11 3 11-4 11 6 12-7 11 3 11-1 11 2 11-2 12 5 11 5 11 0 11-2 12-5 11-4 11-3 11-1 12 7 11 7 11 2 11-5 11-4 12 3 11 4 11-1 11-6 12 0 11-1 11 4 11 6 11-2 12 1 11-14 11-2 11-1 12 6 11 3 11-1 11-6 11-3 12 5 11 11 11 2 11-9 12-6 11 4 11 5 11 1 11 6 12 6 11 1 11-10 11-4 12-2 11 7 11-4 11 6 11-6 12 2 11-6 11 2 11 0 12 2 11-2 11-6 11-3 11 7 12 9 11-1 11-7 11-3 12 2 11 3 11 4 11 4 11-4 12-4 11-12 11-1 11 3 12 4 11-1 11 4 11 2 12 1 11-1 11 2 11 4 11-6 12 0 11-3 11 8 11-5 12-2 11-9 11 3 11 4 11 10 12-3 11-5 11-6 11 3 12 7 11-4 11 1 11-5 11 11 12-2 11 1 11-9 11-3 12 3 11 5 11 2 11-5 11 3 12 5 11-2 11-4 11-2 12 6 11-3 11-2 11 0 11-4 12-3 11-2 11 6 11 7 12-1 11 4 11-1 11 2 11-4 12-1 11-5 11 1 11-4 12 4 11 0 11 1 11 2 11 2 12 4 11-1 11-1 11-4 12 1 11-3 11-1 11 2 11-1 12 1 11-3 11 2 11 2 12 3 11 1 11-1 11 2 12-3 11-1 11-2 11 3 11-4 12-4 11-5 11 4 11 4 12 0 11-4 11-2 11 1 11-1 12 1 11 6 11 3 11 0 12-9 11 1 11 1 11 4 11 2 12 3 11 5 11 1 11-5 12-7 11 3 11 1 11 3 11-8 12-2 11 9 11-3 11 6 12 0 11 1 11-4 11-3 11 11 12 1 11-9 11-10 11 1 12 6 11 1 11-2 11 1 11 2 12 2 11 5 11 0 11 0 12-9 11-1 11 0 11 7 11 3 12-2 11-3 11-5 11-6 12-4 11 8 11 8 11 9 11-3 12-1 11-8 11 2 11 3 12-1 11-1 11-6 11-4 12 1 11-3 11 6 11-2 11 2 12 6 11-1 11 1 11-9 12-3 11 0 11 2 11 1 11-1 12-5 11 4 11-2 11 3 12-5 11 2 11 4 11 8 11 1 12 5 11-4 11 2 11-4 12 0 11-3 11-5 11-3 11 3 12 6 11 2 11-4 11 0 12-1 11-4 11-4 11 5 11 2 12-2 11-3 11 5 11 0 12-2 11 2 11 0 11 7 11-2 12 4 11-5 11-3 11-7 12-3 11 6 11 4 11-1 11-1 12 1 11 0 11-4 11 3 12 4 11 1 11-4 11 4 12-2 11 3 11 1 11 1 11-11 12-7 11-10 11 12 11 2 12 10" stroke="#6699CC" stroke-width="30.0" fill="none" stroke-linejoin="round" transform="scale(.1)"/>
<path d="M2257 8004l11 1 11 0 11-8 12-1 11 5 11 4 11-7 11-4 12 3 11 7 11 3 11 3 12 0 11-6 11-6 11 2 12 3 11-2 11-3 11 1 11 0 12-9 11 1 11 7 11 11 12 3 11 0 11 0 11-3 11-2 12 1 11 3 11-3 11-1 12-3 11 0 11 0 11-2 11-7 12 2 11 4 11 10 11-4 12 2 11-2 11 1 11-7 11 3 12 1 11 0 11-3 11 4 12-1 11 4 11-6 11 7 11-3 12 5 11-8 11 2 11-8 12 2 11-5 11 5 11-2 11-1 12-1 11 3 11 5 11 3 12-4 11 0 11 5 11 5 11 0 12-8 11-6 11 6 11 1 12 4 11-5 11 0 11 0 11 1 12 7 11-7 11-1 11-8 12-3 11-5 11-3 11 6 12 7 11 3 11 1 11-7 11-3 12-3 11 2 11 1 11 0 12 8 11 7 11 6 11-6 11-9 12-6 11-4 11 2 11-2 12 6 11-3 11 4 11-4 11 3 12-4 11 2 11 2 11-5 12 0 11-9 11 3 11-4 11 2 12-5 11-2 11-1 11 0 12 1 11-2 11 0 11-3 11-6 12 1 11-4 11 1 11-4 12-3 11 3 11-7 11-8 11-10 12 0 11 0 11-2 11-1 12 2 11-3 11-5 11-2 11-2 12-7 11-5 11-4 11-1 12 1 11-6 11-10 11-11 11 2 12 0 11-6 11-6 11-2 12-8 11-15 11-10 11-5 12-6 11-5 11-7 11-6 11-12 12-10 11-11 11-14 11-11 12-13 11-12 11-17 11-22 11-19 12-27 11-19 11-22 11-21 12-26 11-35 11-23 11-25 11-8 12-16 11 1 11-7 11 10 12 12 11 22 11 27 11 24 11 26 12 17 11 22 11 10 11 17 12 11 11 10 11 2 11 3 11 22 12 13 11 11 11-2 11 9 12 3 11 4 11-3 11 6 11-2 12 4 11-4 11 8 11 4 12 6 11-3 11 0 11 3 11 3 12 0 11 1 11 0 11 7 12 0 11-2 11-7 11 1 12 6 11 4 11 1 11 3 11-1 12 0 11-5 11-5 11 3 12-1 11 5 11-6 11-2 11 2 12 7 11 8 11 3 11-9 12 3 11-3 11 10 11 1 11 1 12-1 11-4 11 3 11-4 12-3 11 0 11 2 11 7 11 3 12 6 11-7 11-4 11-1 12 5 11 0 11-3 11 1 11 1 12 1 11 0 11-7 11-5 12-1 11 4 11 1 11-2 11-3 12 5 11 8 11 7 11-7 12-9 11-2 11 2 11 6 11 0 12 6 11-3 11 6 11 4 12 7 11-4 11-6 11-6 11 0 12-1 11 4 11 1 11 1 12 4 11 2 11 4 11-1 12 1 11 2 11-1 11 3 11-1 12 2 11-4 11 4 11 0 12 6 11 1 11 7 11-1 11-2 12 1 11 2 11 12 11 3 12 2 11 0 11 0 11 2 11 2 12 0 11 10 11 3 11 8 12-2 11 9 11-2 11 4 11-2 12 6 11 5 11 1 11 6 12 4 11 9 11-1 11 8 11 7 12 10 11 2 11-9 11-3 12 1 11 15 11 7 11 7 11-3 12 5 11-2 11 4 11 4 12 3 11 11 11 3 11 7 11 0 12 5 11-1 11 5 11 1 12 9 11-3 11 1 11 0 12 7 11 5 11 4 11 6 11 7 12-4 11 1 11-7 11 8 12-3 11 2 11 6 11 7 11 3 12-13 11 2 11 1 11 9 12-5 11 1 11 1 11-2 11-3 12-5 11 11 11 1 11 5 12-6 11 0 11-2 11-7 11 8 12-3 11 7 11-6 11 3 12 0 11 5 11 3 11-7 11-3 12-8 11 7 11-4 11 4 12-1 11 6 11-3 11 3 11 1 12-2 11-3 11-3 11 10 12 3 11-3 11-4 11 4 11 1 12 3 11-7 11-5 11-9 12 2 11 9 11 7 11-1 11-2 12-7 11 0 11-3 11 2 12-5 11 11 11 1 11 8 12-6 11 7 11-4 11 3 11-9 12-5 11-8 11 8 11 6 12 1 11-1 11-4 11 0 11-1 12 2 11 3 11-4 11-2 12 1 11-2 11 4 11 2 11 5 12-3 11 1 11-9 11 3 12 1 11 7 11-2 11-5 11-1 12 5 11 2 11-1 11-6 12 3 11-4 11 7 11-2 11 2 12-7 11-2 11 3 11 3 12 2 11-1 11-3 11-7 11 0 12 3 11 4 11-4 11 5 12 0 11 4 11-4 11 1 11 4 12-1 11-1 11-2 11-2 12-3 11-4 11 2 11 5 11 3 12 4 11-1 11-3 11-4 12-1 11 6 11-1 11-1 12-2 11 6 11 3 11 1 11-4 12-3 11-1 11 5 11 3 12 2 11-9 11-3 11-3 11-2 12 2 11 1 11 7 11-3 12 0 11-4 11 9 11-6 11 1 12-9 11 6 11 5 11 2 12 0 11-1 11 2 11-3 11-1 12 2 11 0 11-2 11-5 12 4 11 3 11 2 11-6 11 0 12 3 11 5 11 1 11-8 12 1 11-6 11 7 11-8 11-1 12-4 11 3 11 0 11 5 12 2 11 2 11-8 11 0 11 3 12-1 11 1 11-1 11 9 12-1 11 2 11-3 11 1 12 1 11 4 11 7 11-6 11-3 12-6 11 1 11-3 11-11 12-3 11 1 11 11 11-3 11 5 12 0 11 2 11-2 11-4 12 7 11-2 11 6 11-3 11 7 12-1 11 0 11-6 11-4 12-2 11 0 11 1 11 4 11-1 12 1 11-2 11-5 11 2 12 2 11 0 11-1 11-4 11-5 12-1 11 2 11 7 11 6 12-1 11 3 11-5 11 0 11 2 12 2 11-4 11-6 11-1 12-1 11 4 11 1 11 5 11-4 12 4 11-3 11 3 11-6 12-1 11-2 11-3 11 6 11 2 12 9 11-2 11-4 11-6 12-1 11 3 11 6 11 5 12-2 11 4 11-8 11 3 11-10 12 10 11-6 11 11 11-6 12 4 11-6 11-6 11-5 11 6 12 1 11 9 11-3 11-1 12-1 11 0 11 5 11 0 11-4 12 5 11-7 11 1 11-5 12 0 11 4 11-2 11 3 11-3 12 1 11 2 11 4 11 7 12-4 11-7 11-5 11 2 11 7 12-5 11 0 11-6 11 3 12 1 11 2 11 0 11-2 11 0 12 1 11 6 11-1 11 3 12-7 11 5 11 2 11 1 11-3 12-2 11 1 11-1 11 1 12-7 11-1 11 5 11 10 11-2 12-8 11-3 11 4 11 1 12 4 11-4 11 1 11-7 12 7 11 0 11-2 11-4 11 3 12 6 11-1 11-4 11-4 12-2 11-1 11 2 11 6 11 8 12-1 11-5 11-4 11-5 12 2 11 1 11 10 11 2 11 3 12-4 11-11 11-4 11-2 12 11 11 1 11 4 11-7 11 0 12-6 11 6 11-1 11 1 12-8 11-5 11 4 11 1 11 6 12-2 11 4 11-1 11 5 12-2 11 3 11-7 11 8 11-2 12 2 11-5 11-1 11-3 12-1 11-2 11 5 11 3 11 3 12 0 11-5 11-3 11-4 12 0 11 3 11 6 11-3 12-4 11 2 11-4 11 5 11-9 12 10 11-3 11 3 11-6 12 2" stroke="#6FB802" stroke-width="30.0" fill="none" stroke-linejoin="round" transform="scale(.1)"/>
<path d="M2870 17820l9 0 9 0 10 0 9-1 10 0 9 0 9-1 10-1 9-2 10-1 9-2 10-2 9-3 9-2 10-2 9-2 10-1 9-2 9-1 10 0 9-1 10 0 9-1 10 0 9 0 9 0 10 0 9 0 10 0 9 0 10 0 9 0 9 0 10 0 9 0 10 1 9 0 9 1 10 1 9 2 10 2 9 1 10 3 9 2 9 2 10 1 9 2 10 1 9 1 9 0 10 1 9 0 10 0 9-1 10 0 9 0 9 0 10-1 9 0 10 0 9-1 9 0 10-1 9 0 10-1 9 0 10-1 9 0 9-1 10-1 9 0 10-1 9-1 10-1 9-1 9-1 10-1 9-1 10-2 9-1 9-1 10-2 9-2 10-1 9-2 10-2 9-2 9-2 10-3 9-2 10-3 9-3 9-3 10-3 9-3 10-4 9-4 10-4 9-4 9-5 10-5 9-5 10-5 9-6 10-6 9-7 9-7 10-8 9-8 10-9 9-9 9-11 10-11 9-12 10-13 9-14 10-15 9-17 9-19 10-21 9-22 10-25 9-28 9-31 10-35 9-39 10-43 9-49 10-56 9-63 9-70 10-81 9-90 10-102 9-113 10-125 9-136 9-143 10-147 9-143 10-129 9-104 9-68 10-24 9 26 10 74 9 113 10 138 9 151 9 154 10 147 9 137 10 125 9 111 9 99 10 86 9 76 10 67 9 57 10 51 9 44 9 39 10 34 9 30 10 26 9 23 9 21 10 18 9 16 10 14 9 13 10 11 9 9 9 9 10 8 9 7 10 6 9 5 10 5 9 4 9 3 10 4 9 2 10 3 9 2 9 2 10 2 9 2 10 2 9 1 10 2 9 1 9 2 10 1 9 2 10 1 9 2 9 2 10 2 9 2 10 2 9 2 10 3 9 2 9 3 10 3 9 2 10 3 9 4 10 3 9 3 9 4 10 3 9 4 10 4 9 3 9 4 10 4 9 4 10 4 9 4 10 3 9 4 9 4 10 4 9 3 10 4 9 4 9 3 10 3 9 4 10 3 9 3 10 3 9 2 9 3 10 3 9 2 10 2 9 3 9 2 10 2 9 1 10 2 9 2 10 1 9 2 9 1 10 1 9 1 10 1 9 1 10 1 9 1 9 0 10 1 9 0 10 1 9 0 9 1 10 0 9 0 10 1 9 0 10 0 9 0 9 0 10 0 9 0 10 0 9 0 9 0 10 0 9 0 10 0 9 0 10 0 9 0 9 0 10 0 9 0 10-1 9 0 10 0 9 0 9 0 10 0 9-1 10 0 9 0 9 0 10 0 9-1 10 0 9 0 10 0 9 0 9-1 10 0 9 0 10 0 9 0 9 0 10-1 9 0 10 0 9 0 10 0 9-1 9 0 10 0 9 0 10 0 9 0 10-1 9 0 9 0 10 0 9 0 10 0 9 0 9 0 10-1 9 0 10 0 9 0 10 0 9 0 9 0 10 0 9 0 10 0 9 0 9 0 10 0 9 0 10 0 9 0 10 0 9 0 9 0 10 0 9 0 10 0 9 0 9 0 10 0 9 0 10 0 9 0 10 0 9 0 9 1 10 0 9 0 10 0 9 0 10 0 9 0 9 1 10 0 9 0 10 0 9 0 9 0 10 1 9 0 10 0 9 0 10 0 9 0 9 1 10 0 9 0 10 0 9 0 9 1 10 0 9 0 10 0 9 0 10 1 9 0 9 0 10 0 9 0 10 1 9 0 10 0 9 0 9 0 10 1 9 0 10 0 9 0 9 0 10 0 9 1 10 0 9 0 10 0 9 0 9 0 10 0 9 1 10 0 9 0 9 0 10 0 9 0 10 0 9 0 10 0 9 0 9 0 10 0 9 0 10 1 9 0 10 0 9 0 9 0 10-1 9 0 10 0 9 0 9 0 10 0 9 0 10 0 9 0 10 0 9 0 9-1 10 0 9 0 10 0 9 0 9-1 10 0 9 0 10 0 9-1 10 0 9 0 9 0 10-1 9 0 10 0 9-1 9 0 10-1 9 0 10 0 9-1 10 0 9-1 9 0 10 0 9-1 10 0 9-1 10 0 9-1 9 0 10-1 9 0 10 0 9-1 9 0 10-1 9 0 10-1 9 0 10 0 9-1 9 0 10-1 9 0 10 0 9-1 9 0 10 0 9 0 10-1 9 0 10 0 9 0 9 0 10-1 9 0 10 0 9 0 10 0 9 0 9 0 10 0 9 0 10 0 9 0 9 1 10 0 9 0 10 0 9 0 10 1 9 0 9 0 10 0 9 1 10 0 9 0 9 1 10 0 9 1 10 0 9 0 10 1 9 0 9 1 10 0 9 1 10 0 9 1 9 0 10 1 9 0 10 0 9 1 10 0 9 1 9 0 10 1 9 0 10 1 9 0 10 0 9 1 9 0 10 1 9 0 10 0 9 1 9 0 10 0 9 1 10 0 9 0 10 1 9 0 9 0 10 1 9 0 10 0 9 0 9 1 10 0 9 0 10 0 9 0 10 1 9 0 9 0 10 0 9 0 10 0 9 0 10 1 9 0 9 0 10 0 9 0 10 0 9 0 9 0 10 0 9 0 10 0 9 0 10 0 9 0 9 1 10 0 9 0 10 0 9 0 9 0 10 0 9 0 10 0 9 0 10 0 9 0 9 0 10 0 9 0 10 0 9 0 10 0 9 0 9 0 10 0 9 0 10 0 9 0 9 0 10 0 9 0 10 0 9 0 10 0 9 0 9 0 10 0 9 0 10 0 9 0 9 0 10 0 9 0 10 0 9 0 10 0 9 0 9 0 10 0 9 0 10 0 9 0 9 0 10 0 9 0 10 0 9 0 10 0 9 0 9 0 10 0 9 0 10 0 9 0 10 0 9 0 9 0 10 0 9 0 10 0 9 0 9 0 10 0 9 0 10 0 9 0 10 0 9 0 9 0 10 0 9 0 10 0 9 0 9 0 10 0 9 0 10 0 9 0 10 0 9 0 9 0 10 0 9 0 10 0 9 0 10 0 9 0 9 0 10 0 9 0 10 0 9 0 9 0 10 0 9 0 10 0 9 0 10 0 9 0 9 0 10 0 9 0 10 0 9 0 9 0 10 0 9 0 10 0 9 0 10 0 9 0 9 0 10 0 9 0 10 0 9 0 9 0 10 0 9 0 10 0 9 0 10 0 9 0 9 0 10 0 9 0 10 0 9 0 10 0 9 0 9 0 10 0 9 0 10 0 9 0 9 0 10 0 9 0 10 0 9 0 10 0 9 0 9 0 10 0 9 0 10 0 9 0 9 0 10 0 9 0 10 0 9 0 10 0 9 0 9 0 10 0 9 0 10 0 9 0 10 0 9 0 9 0 10 0 9 0 10 0 9 0 9 0 10 0 9 0 10 0 9 0 10 0 9 0 9 0 10 0 9 0 10 0 9 0 9 0 10 0 9 0 10 0 9 0 10 0 9 0 9 0 10 0 9 0 10 0 9 0 10 0 9 0 9 0 10 0 9 0 10 0 9 0 9 0 10 0 9 0 10 0 9 0 10 0 9 0 9 0 10 0 9 0 10 0 9 0 9 0 10 0 9 0 10 0 9 0 10 0 9 0 9 0 10 0 9 0 10 0 9 0 9 0 10 0 9 0 10 0 9 0 10 0 9 0 9 0 10 0 9 0 10 0 9 0" stroke="#515151" stroke-width="33.0" fill="none" stroke-linejoin="round" transform="scale(.1)"/>
<path d="M2870 17819l9 0 9-1 10 0 9 0 10-1 9-1 9-1 10-2 9-3 10-4 9-4 10-4 9-4 9-5 10-4 9-4 10-3 9-3 9-2 10-1 9-2 10 0 9-1 10 0 9-1 9 0 10 0 9 0 10-1 9 0 10 0 9 0 9 0 10 0 9 0 10 1 9 1 9 2 10 2 9 2 10 4 9 3 10 4 9 4 9 3 10 4 9 2 10 2 9 2 9 0 10 0 9 0 10-1 9-1 10-1 9-1 9-1 10-1 9-2 10-1 9-2 9-2 10-2 9-2 10-2 9-2 10-2 9-3 9-3 10-3 9-3 10-3 9-4 10-3 9-5 9-4 10-4 9-5 10-6 9-5 9-6 10-6 9-7 10-7 9-8 10-8 9-9 9-9 10-9 9-11 10-11 9-11 9-13 10-13 9-13 10-15 9-16 10-16 9-18 9-19 10-19 9-21 10-23 9-24 10-25 9-27 9-30 10-31 9-33 10-36 9-38 9-42 10-45 9-48 10-53 9-58 10-62 9-68 9-75 10-82 9-91 10-99 9-111 9-122 10-136 9-152 10-169 9-188 10-211 9-236 9-262 10-292 9-324 10-354 9-386 10-411 9-429 9-435 10-421 9-383 10-319 9-227 9-113 10 17 9 165 10 296 9 392 10 452 9 477 9 475 10 455 9 422 10 385 9 346 9 309 10 274 9 242 10 213 9 189 10 167 9 148 9 131 10 116 9 104 10 93 9 83 9 74 10 67 9 61 10 55 9 49 10 45 9 42 9 37 10 34 9 32 10 29 9 26 10 25 9 22 9 21 10 20 9 18 10 16 9 16 9 15 10 13 9 13 10 12 9 11 10 11 9 10 9 10 10 9 9 9 10 8 9 9 9 7 10 8 9 7 10 7 9 7 10 7 9 7 9 6 10 7 9 6 10 6 9 6 10 6 9 6 9 6 10 6 9 6 10 5 9 6 9 5 10 6 9 5 10 5 9 6 10 5 9 4 9 5 10 5 9 4 10 5 9 4 9 4 10 4 9 4 10 4 9 3 10 4 9 3 9 3 10 3 9 3 10 2 9 3 9 2 10 3 9 2 10 2 9 1 10 2 9 2 9 1 10 1 9 2 10 1 9 1 10 1 9 1 9 1 10 0 9 1 10 0 9 1 9 0 10 1 9 0 10 0 9 1 10 0 9 0 9 0 10 0 9 0 10 0 9 0 9 0 10 0 9 0 10 0 9 0 10 0 9 0 9 0 10 0 9 0 10-1 9 0 10 0 9 0 9 0 10-1 9 0 10 0 9 0 9 0 10-1 9 0 10 0 9 0 10-1 9 0 9 0 10 0 9-1 10 0 9 0 9 0 10-1 9 0 10 0 9 0 10 0 9-1 9 0 10 0 9 0 10-1 9 0 10 0 9 0 9 0 10-1 9 0 10 0 9 0 9 0 10 0 9 0 10-1 9 0 10 0 9 0 9 0 10 0 9 0 10 0 9 0 9 0 10 0 9 0 10 0 9 0 10 0 9 0 9 0 10 0 9 0 10 0 9 0 9 0 10 0 9 0 10 0 9 1 10 0 9 0 9 0 10 0 9 0 10 1 9 0 10 0 9 0 9 0 10 0 9 1 10 0 9 0 9 0 10 1 9 0 10 0 9 0 10 1 9 0 9 0 10 0 9 1 10 0 9 0 9 0 10 1 9 0 10 0 9 0 10 1 9 0 9 0 10 0 9 1 10 0 9 0 10 0 9 1 9 0 10 0 9 0 10 0 9 0 9 1 10 0 9 0 10 0 9 0 10 0 9 0 9 0 10 0 9 0 10 0 9 0 9 0 10 0 9 0 10 0 9 0 10 0 9-1 9 0 10 0 9-1 10 0 9 0 10-1 9 0 9-1 10-1 9 0 10-1 9-1 9 0 10-1 9-1 10-1 9-1 10-1 9-2 9-1 10-1 9-2 10-1 9-1 9-2 10-2 9-1 10-2 9-2 10-2 9-2 9-2 10-2 9-3 10-2 9-2 9-3 10-2 9-3 10-2 9-3 10-3 9-2 9-3 10-3 9-3 10-2 9-3 10-3 9-3 9-3 10-3 9-3 10-3 9-2 9-3 10-3 9-3 10-2 9-3 10-2 9-3 9-2 10-3 9-2 10-2 9-2 9-2 10-1 9-2 10-2 9-1 10-1 9-1 9-1 10-1 9-1 10 0 9-1 10 0 9 0 9 0 10 0 9 1 10 0 9 1 9 1 10 1 9 1 10 1 9 1 10 2 9 2 9 1 10 2 9 2 10 2 9 3 9 2 10 2 9 3 10 2 9 3 10 3 9 2 9 3 10 3 9 3 10 3 9 2 9 3 10 3 9 3 10 3 9 3 10 3 9 3 9 2 10 3 9 3 10 3 9 2 10 3 9 2 9 3 10 2 9 3 10 2 9 2 9 3 10 2 9 2 10 2 9 2 10 2 9 1 9 2 10 2 9 1 10 2 9 1 9 2 10 1 9 1 10 1 9 2 10 1 9 1 9 1 10 1 9 0 10 1 9 1 10 1 9 0 9 1 10 1 9 0 10 1 9 0 9 1 10 0 9 1 10 0 9 0 10 1 9 0 9 0 10 0 9 1 10 0 9 0 9 0 10 0 9 1 10 0 9 0 10 0 9 0 9 0 10 0 9 0 10 0 9 0 10 0 9 1 9 0 10 0 9 0 10 0 9 0 9 0 10 0 9 0 10 0 9 0 10 0 9 0 9 0 10 0 9 0 10 0 9 0 9 0 10 0 9 0 10 0 9 0 10 0 9 0 9 0 10 0 9 0 10 0 9 0 9 0 10 0 9 0 10 0 9 0 10 0 9 0 9 0 10 0 9 0 10 0 9 0 10 0 9 0 9 0 10 0 9 0 10 0 9 0 9 0 10 0 9 0 10 0 9 0 10 0 9 0 9 0 10 0 9 0 10 0 9 0 9 0 10 0 9 0 10 0 9 0 10 0 9 0 9 0 10 0 9 0 10 0 9 0 10 0 9 0 9 0 10 0 9 0 10 0 9 0 9 0 10 0 9 0 10 0 9 0 10 0 9 0 9 0 10 0 9 0 10 0 9 0 9 0 10 0 9 0 10 0 9 0 10 0 9 0 9 0 10 0 9 0 10 0 9 0 9 0 10 0 9 0 10 0 9 0 10 0 9 0 9 0 10 0 9 0 10 0 9 0 10 0 9 0 9 0 10 0 9 0 10 0 9 0 9 0 10 0 9 0 10 0 9 0 10 0 9 0 9 0 10 0 9 0 10 0 9 0 9 0 10 0 9 0 10 0 9 0 10 0 9 0 9 0 10 0 9 0 10 0 9 0 10 0 9 0 9 0 10 0 9 0 10 0 9 0 9 0 10 0 9 0 10 0 9 0 10 0 9 0 9 0 10 0 9 0 10 0 9 0 9 0 10 0 9 0 10 0 9 0 10 0 9 0 9 0 10 0 9 0 10 0 9 0 10 0 9 0 9 0 10 0 9 0 10 0 9 0 9 0 10 0 9 0 10 0 9 0 10 0 9 0 9 0 10 0 9 0 10 0 9 0 9 0 10 0 9 0 10 0 9 0 10 0 9 0 9 0 10 0 9 0 10 0 9 0 9 0 10 0 9 0 10 0 9 0 10 0 9 0 9 0 10 0 9 0 10 0 9 0" stroke="#F14040" stroke-width="33.0" fill="none" stroke-linejoin="round" transform="scale(.1)"/>
<path d="M2870 17819l9 0 9 0 10-1 9 0 10-2 9-2 9-3 10-5 9-6 10-8 9-9 10-10 9-10 9-10 10-9 9-9 10-7 9-6 9-5 10-3 9-3 10-1 9-1 10-1 9 0 9-1 10 0 9 0 10 0 9 0 10 0 9 0 9 0 10 1 9 1 10 3 9 3 9 4 10 6 9 6 10 8 9 9 10 10 9 10 9 9 10 9 9 7 10 6 9 4 9 3 10 1 9 1 10 0 9 0 10-1 9 0 9-1 10-1 9-1 10-1 9-1 9-1 10-1 9-2 10-1 9-1 10-2 9-2 9-1 10-2 9-2 10-2 9-3 10-2 9-3 9-3 10-3 9-3 10-3 9-4 9-4 10-4 9-4 10-5 9-5 10-5 9-6 9-5 10-7 9-7 10-7 9-7 9-8 10-9 9-9 10-10 9-10 10-11 9-11 9-12 10-14 9-13 10-15 9-16 10-17 9-18 9-19 10-20 9-22 10-24 9-25 9-28 10-30 9-32 10-34 9-38 10-42 9-45 9-50 10-54 9-60 10-67 9-74 9-83 10-92 9-104 10-116 9-132 10-149 9-169 9-192 10-219 9-249 10-284 9-321 10-361 9-402 9-440 10-469 9-482 10-467 9-418 9-328 10-198 9-41 10 152 9 329 10 454 9 523 9 538 10 519 9 479 10 428 9 377 9 327 10 283 9 244 10 210 9 182 10 156 9 136 9 118 10 103 9 90 10 79 9 69 9 62 10 54 9 48 10 42 9 38 10 34 9 31 9 27 10 24 9 22 10 20 9 17 10 16 9 15 9 13 10 12 9 11 10 10 9 9 9 8 10 8 9 7 10 7 9 6 10 6 9 6 9 6 10 5 9 6 10 5 9 5 9 5 10 6 9 5 10 5 9 6 10 5 9 6 9 6 10 6 9 6 10 6 9 6 10 7 9 6 9 7 10 6 9 7 10 7 9 6 9 7 10 7 9 7 10 7 9 6 10 7 9 7 9 6 10 7 9 6 10 6 9 6 9 6 10 5 9 6 10 5 9 5 10 5 9 5 9 4 10 5 9 4 10 3 9 4 9 3 10 3 9 3 10 3 9 3 10 2 9 2 9 2 10 2 9 2 10 2 9 1 10 1 9 1 9 1 10 1 9 1 10 1 9 0 9 1 10 0 9 0 10 1 9 0 10 0 9 0 9 0 10 0 9-1 10 0 9 0 9 0 10-1 9 0 10 0 9-1 10 0 9-1 9 0 10-1 9 0 10-1 9 0 10-1 9 0 9-1 10 0 9-1 10-1 9 0 9-1 10-1 9 0 10-1 9-1 10 0 9-1 9-1 10 0 9-1 10 0 9-1 9-1 10 0 9-1 10-1 9 0 10-1 9 0 9-1 10-1 9 0 10-1 9 0 10-1 9 0 9-1 10 0 9-1 10 0 9-1 9 0 10 0 9-1 10 0 9 0 10-1 9 0 9 0 10 0 9 0 10-1 9 0 9 0 10 0 9 0 10 0 9 0 10 0 9 0 9 0 10 0 9 1 10 0 9 0 9 0 10 0 9 1 10 0 9 0 10 0 9 1 9 0 10 1 9 0 10 0 9 1 10 0 9 1 9 0 10 1 9 0 10 1 9 1 9 0 10 1 9 0 10 1 9 1 10 0 9 1 9 1 10 0 9 1 10 1 9 0 9 1 10 1 9 0 10 1 9 1 10 0 9 1 9 1 10 0 9 1 10 0 9 1 10 1 9 0 9 1 10 1 9 0 10 1 9 0 9 1 10 0 9 1 10 0 9 1 10 0 9 1 9 0 10 0 9 1 10 0 9 0 9 1 10 0 9 0 10 0 9 1 10 0 9 0 9 0 10 0 9 0 10 0 9 0 10 0 9 0 9-1 10 0 9 0 10 0 9-1 9 0 10-1 9 0 10-1 9 0 10-1 9-1 9 0 10-1 9-1 10-1 9-1 9-1 10-1 9-2 10-1 9-1 10-1 9-2 9-1 10-2 9-1 10-2 9-2 9-1 10-2 9-2 10-2 9-2 10-2 9-2 9-2 10-2 9-2 10-2 9-2 10-2 9-2 9-2 10-2 9-3 10-2 9-2 9-2 10-2 9-2 10-2 9-2 10-1 9-2 9-2 10-2 9-1 10-2 9-1 9-2 10-1 9-1 10-1 9-1 10-1 9-1 9-1 10-1 9 0 10 0 9-1 10 0 9 0 9 0 10 0 9 1 10 0 9 1 9 0 10 1 9 1 10 1 9 1 10 1 9 1 9 1 10 2 9 1 10 2 9 1 9 2 10 2 9 2 10 2 9 2 10 2 9 2 9 2 10 2 9 2 10 2 9 2 9 2 10 2 9 2 10 3 9 2 10 2 9 2 9 2 10 2 9 2 10 2 9 2 10 2 9 2 9 2 10 2 9 1 10 2 9 2 9 1 10 2 9 2 10 1 9 2 10 1 9 1 9 2 10 1 9 1 10 1 9 1 9 1 10 1 9 1 10 1 9 1 10 1 9 0 9 1 10 1 9 0 10 1 9 1 10 0 9 1 9 0 10 1 9 0 10 0 9 1 9 0 10 0 9 1 10 0 9 0 10 0 9 1 9 0 10 0 9 0 10 0 9 1 9 0 10 0 9 0 10 0 9 0 10 0 9 0 9 0 10 0 9 0 10 1 9 0 10 0 9 0 9 0 10 0 9 0 10 0 9 0 9 0 10 0 9 0 10 0 9 0 10 0 9 0 9 0 10 0 9 0 10 0 9 0 9 0 10 0 9 0 10 0 9 0 10 0 9 0 9 0 10 0 9 0 10 0 9 0 9 0 10 0 9 0 10 0 9 0 10 0 9 0 9 0 10 0 9 0 10 0 9 0 10 0 9 0 9 0 10 0 9 0 10 0 9 0 9 0 10 0 9 0 10 0 9 0 10 0 9 0 9 0 10 0 9 0 10 0 9 0 9 0 10 0 9 0 10 0 9 0 10 0 9 0 9 0 10 0 9 0 10 0 9 0 10 0 9 0 9 0 10 0 9 0 10 0 9 0 9 0 10 0 9 0 10 0 9 0 10 0 9 0 9 0 10 0 9 0 10 0 9 0 9 0 10 0 9 0 10 0 9 0 10 0 9 0 9 0 10 0 9 0 10 0 9 0 9 0 10 0 9 0 10 0 9 0 10 0 9 0 9 0 10 0 9 0 10 0 9 0 10 0 9 0 9 0 10 0 9 0 10 0 9 0 9 0 10 0 9 0 10 0 9 0 10 0 9 0 9 0 10 0 9 0 10 0 9 0 9 0 10 0 9 0 10 0 9 0 10 0 9 0 9 0 10 0 9 0 10 0 9 0 10 0 9 0 9 0 10 0 9 0 10 0 9 0 9 0 10 0 9 0 10 0 9 0 10 0 9 0 9 0 10 0 9 0 10 0 9 0 9 0 10 0 9 0 10 0 9 0 10 0 9 0 9 0 10 0 9 0 10 0 9 0 10 0 9 0 9 0 10 0 9 0 10 0 9 0 9 0 10 0 9 0 10 0 9 0 10 0 9 0 9 0 10 0 9 0 10 0 9 0 9 0 10 0 9 0 10 0 9 0 10 0 9 0 9 0 10 0 9 0 10 0 9 0 9 0 10 0 9 0 10 0 9 0 10 0 9 0 9 0 10 0 9 0 10 0 9 0" stroke="#1A6FDF" stroke-width="33.0" fill="none" stroke-linejoin="round" transform="scale(.1)"/>
<path d="M2870 17820l9 0 9 0 10 0 9 0 10 0 9-1 9 0 10-1 9-1 10-2 9-1 10-2 9-2 9-1 10-2 9-2 10-1 9-1 9-1 10 0 9-1 10 0 9 0 10 0 9 0 9 0 10 0 9 0 10 0 9 0 10 0 9 0 9 0 10 0 9 0 10 1 9 0 9 1 10 1 9 1 10 2 9 1 10 2 9 2 9 2 10 1 9 1 10 1 9 1 9 1 10 0 9 0 10 1 9 0 10 0 9 0 9 0 10-1 9 0 10 0 9 0 9 0 10 0 9 0 10 0 9 0 10 0 9 0 9 0 10 0 9 0 10 0 9 0 10 0 9 0 9-1 10 0 9 0 10 0 9 0 9 0 10 0 9 0 10-1 9 0 10 0 9 0 9 0 10-1 9 0 10 0 9 0 9-1 10 0 9 0 10-1 9 0 10 0 9-1 9 0 10-1 9 0 10-1 9 0 10-1 9-1 9 0 10-1 9-1 10-1 9-1 9-1 10-1 9-1 10-1 9-2 10-1 9-2 9-2 10-2 9-2 10-3 9-3 9-3 10-4 9-4 10-5 9-5 10-6 9-8 9-9 10-10 9-12 10-15 9-17 10-22 9-26 9-31 10-38 9-46 10-52 9-58 9-58 10-48 9-29 10 0 9 27 10 48 9 57 9 57 10 51 9 45 10 37 9 30 9 25 10 20 9 17 10 13 9 11 10 9 9 8 9 6 10 5 9 4 10 3 9 2 9 2 10 2 9 1 10 1 9 0 10 0 9 0 9 0 10-1 9 0 10-1 9-1 10-1 9-1 9-1 10-1 9-1 10-2 9-1 9-1 10-1 9-1 10-1 9-1 10-1 9-1 9 0 10-1 9 0 10-1 9 0 9 0 10 0 9 0 10 1 9 0 10 1 9 0 9 1 10 1 9 1 10 2 9 1 10 1 9 2 9 2 10 1 9 2 10 2 9 2 9 2 10 2 9 2 10 2 9 2 10 2 9 2 9 2 10 2 9 3 10 2 9 2 9 1 10 2 9 2 10 2 9 2 10 1 9 2 9 1 10 2 9 1 10 2 9 1 9 1 10 1 9 1 10 1 9 1 10 1 9 1 9 0 10 1 9 1 10 0 9 1 10 0 9 0 9 1 10 0 9 0 10 1 9 0 9 0 10 0 9 0 10 0 9 0 10 0 9 0 9 0 10 0 9 0 10 0 9 0 9 0 10 0 9 0 10 0 9 0 10 0 9-1 9 0 10 0 9 0 10 0 9 0 10-1 9 0 9 0 10 0 9 0 10-1 9 0 9 0 10 0 9 0 10-1 9 0 10 0 9 0 9 0 10-1 9 0 10 0 9 0 9 0 10-1 9 0 10 0 9 0 10 0 9 0 9-1 10 0 9 0 10 0 9 0 10 0 9-1 9 0 10 0 9 0 10 0 9 0 9 0 10-1 9 0 10 0 9 0 10 0 9 0 9 0 10 0 9 0 10 0 9 0 9 0 10 0 9 0 10 0 9 0 10 0 9 0 9 0 10 0 9 0 10 0 9 0 9 0 10 0 9 0 10 0 9 0 10 0 9 0 9 1 10 0 9 0 10 0 9 0 10 0 9 0 9 1 10 0 9 0 10 0 9 0 9 0 10 1 9 0 10 0 9 0 10 0 9 0 9 1 10 0 9 0 10 0 9 0 9 1 10 0 9 0 10 0 9 0 10 1 9 0 9 0 10 0 9 0 10 1 9 0 10 0 9 0 9 0 10 1 9 0 10 0 9 0 9 0 10 0 9 1 10 0 9 0 10 0 9 0 9 0 10 0 9 0 10 0 9 1 9 0 10 0 9 0 10 0 9 0 10 0 9 0 9 0 10 0 9 0 10 0 9 0 10 0 9 0 9 0 10 0 9-1 10 0 9 0 9 0 10 0 9 0 10-1 9 0 10 0 9 0 9-1 10 0 9 0 10-1 9 0 9 0 10-1 9 0 10-1 9 0 10 0 9-1 9-1 10 0 9-1 10 0 9-1 9 0 10-1 9-1 10 0 9-1 10-1 9 0 9-1 10-1 9 0 10-1 9-1 10-1 9 0 9-1 10-1 9-1 10 0 9-1 9-1 10 0 9-1 10-1 9 0 10-1 9-1 9 0 10-1 9-1 10 0 9-1 9 0 10-1 9 0 10 0 9-1 10 0 9 0 9-1 10 0 9 0 10 0 9 0 10 0 9 0 9 0 10 0 9 0 10 0 9 0 9 0 10 1 9 0 10 0 9 1 10 0 9 1 9 0 10 0 9 1 10 1 9 0 9 1 10 0 9 1 10 1 9 0 10 1 9 1 9 0 10 1 9 1 10 1 9 0 9 1 10 1 9 1 10 0 9 1 10 1 9 1 9 0 10 1 9 1 10 0 9 1 10 1 9 0 9 1 10 1 9 0 10 1 9 0 9 1 10 1 9 0 10 1 9 0 10 1 9 0 9 1 10 0 9 0 10 1 9 0 9 0 10 1 9 0 10 0 9 1 10 0 9 0 9 1 10 0 9 0 10 0 9 0 10 1 9 0 9 0 10 0 9 0 10 0 9 1 9 0 10 0 9 0 10 0 9 0 10 0 9 0 9 0 10 0 9 0 10 0 9 0 9 1 10 0 9 0 10 0 9 0 10 0 9 0 9 0 10 0 9 0 10 0 9 0 10 0 9 0 9 0 10 0 9 0 10 0 9 0 9 0 10 0 9 0 10 0 9 0 10 0 9 0 9 0 10 0 9 0 10 0 9 0 9 0 10 0 9 0 10 0 9 0 10 0 9 0 9 0 10 0 9 0 10 0 9 0 9 0 10 0 9 0 10 0 9 0 10 0 9 0 9 0 10 0 9 0 10 0 9 0 10 0 9 0 9 0 10 0 9 0 10 0 9 0 9 0 10 0 9 0 10 0 9 0 10 0 9 0 9 0 10 0 9 0 10 0 9 0 9 0 10 0 9 0 10 0 9 0 10 0 9 0 9 0 10 0 9 0 10 0 9 0 10 0 9 0 9 0 10 0 9 0 10 0 9 0 9 0 10 0 9 0 10 0 9 0 10 0 9 0 9 0 10 0 9 0 10 0 9 0 9 0 10 0 9 0 10 0 9 0 10 0 9 0 9 0 10 0 9 0 10 0 9 0 9 0 10 0 9 0 10 0 9 0 10 0 9 0 9 0 10 0 9 0 10 0 9 0 10 0 9 0 9 0 10 0 9 0 10 0 9 0 9 0 10 0 9 0 10 0 9 0 10 0 9 0 9 0 10 0 9 0 10 0 9 0 9 0 10 0 9 0 10 0 9 0 10 0 9 0 9 0 10 0 9 0 10 0 9 0 10 0 9 0 9 0 10 0 9 0 10 0 9 0 9 0 10 0 9 0 10 0 9 0 10 0 9 0 9 0 10 0 9 0 10 0 9 0 9 0 10 0 9 0 10 0 9 0 10 0 9 0 9 0 10 0 9 0 10 0 9 0 10 0 9 0 9 0 10 0 9 0 10 0 9 0 9 0 10 0 9 0 10 0 9 0 10 0 9 0 9 0 10 0 9 0 10 0 9 0 9 0 10 0 9 0 10 0 9 0 10 0 9 0 9 0 10 0 9 0 10 0 9 0 9 0 10 0 9 0 10 0 9 0 10 0 9 0 9 0 10 0 9 0 10 0 9 0" stroke="#37AD6B" stroke-width="33.0" fill="none" stroke-linejoin="round" transform="scale(.1)"/>
<path d="M2870 17820l9 0 9 0 10 0 9 0 10 0 9 0 9-1 10 0 9-1 10 0 9-1 10-1 9-1 9-1 10-1 9 0 10-1 9 0 9-1 10 0 9 0 10 0 9 0 10-1 9 0 9 0 10 0 9 0 10 0 9 0 10 0 9 0 9 0 10 1 9 0 10 0 9 0 9 1 10 0 9 1 10 0 9 1 10 1 9 1 9 1 10 1 9 0 10 1 9 0 9 1 10 0 9 0 10 0 9 0 10 0 9 0 9 0 10 0 9 0 10 0 9 0 9 0 10 0 9 0 10 0 9 0 10 0 9 0 9 0 10 0 9 0 10 0 9 0 10 0 9 0 9 0 10 0 9 0 10 0 9-1 9 0 10 0 9 0 10 0 9 0 10 0 9 0 9 0 10 0 9 0 10 0 9 0 9 0 10 0 9 0 10 0 9-1 10 0 9 0 9 0 10 0 9 0 10 0 9 0 10-1 9 0 9 0 10 0 9 0 10-1 9 0 9 0 10 0 9-1 10 0 9 0 10-1 9 0 9-1 10 0 9-1 10 0 9-1 9-1 10-1 9-1 10-1 9-2 10-2 9-1 9-3 10-3 9-3 10-4 9-4 10-6 9-7 9-9 10-11 9-13 10-16 9-19 9-20 10-18 9-13 10-3 9 8 10 15 9 19 9 19 10 17 9 14 10 12 9 9 9 7 10 6 9 4 10 4 9 2 10 3 9 1 9 1 10 1 9 1 10 0 9 0 9 0 10 0 9 0 10-1 9 0 10-1 9-1 9 0 10-1 9-1 10-1 9-1 10-1 9-1 9-1 10-1 9-1 10-1 9-1 9-1 10-1 9-1 10-1 9 0 10-1 9-1 9 0 10-1 9 0 10 0 9-1 9 0 10 0 9 0 10 0 9 0 10 1 9 0 9 1 10 0 9 1 10 0 9 1 10 1 9 1 9 1 10 1 9 1 10 1 9 1 9 2 10 1 9 1 10 1 9 2 10 1 9 1 9 1 10 2 9 1 10 1 9 1 9 2 10 1 9 1 10 1 9 1 10 1 9 1 9 1 10 1 9 1 10 1 9 0 9 1 10 1 9 0 10 1 9 1 10 0 9 1 9 0 10 0 9 1 10 0 9 0 10 1 9 0 9 0 10 0 9 0 10 1 9 0 9 0 10 0 9 0 10 0 9 0 10 0 9 0 9 0 10 0 9 0 10 0 9 0 9 0 10 0 9 0 10 0 9-1 10 0 9 0 9 0 10 0 9 0 10 0 9 0 10 0 9-1 9 0 10 0 9 0 10 0 9 0 9 0 10 0 9-1 10 0 9 0 10 0 9 0 9 0 10 0 9 0 10-1 9 0 9 0 10 0 9 0 10 0 9 0 10-1 9 0 9 0 10 0 9 0 10 0 9 0 10 0 9 0 9-1 10 0 9 0 10 0 9 0 9 0 10 0 9 0 10 0 9 0 10 0 9 0 9 0 10 0 9 0 10 0 9-1 9 0 10 0 9 0 10 0 9 0 10 0 9 0 9 0 10 0 9 1 10 0 9 0 9 0 10 0 9 0 10 0 9 0 10 0 9 0 9 0 10 0 9 0 10 0 9 0 10 0 9 1 9 0 10 0 9 0 10 0 9 0 9 0 10 0 9 0 10 1 9 0 10 0 9 0 9 0 10 0 9 0 10 1 9 0 9 0 10 0 9 0 10 0 9 0 10 0 9 1 9 0 10 0 9 0 10 0 9 0 10 0 9 0 9 1 10 0 9 0 10 0 9 0 9 0 10 0 9 0 10 1 9 0 10 0 9 0 9 0 10 0 9 0 10 0 9 0 9 0 10 0 9 0 10 0 9 1 10 0 9 0 9 0 10 0 9 0 10 0 9 0 10 0 9 0 9 0 10 0 9 0 10 0 9 0 9 0 10 0 9 0 10 0 9-1 10 0 9 0 9 0 10 0 9 0 10 0 9 0 9 0 10 0 9-1 10 0 9 0 10 0 9 0 9 0 10-1 9 0 10 0 9 0 9-1 10 0 9 0 10 0 9 0 10-1 9 0 9 0 10 0 9-1 10 0 9 0 10-1 9 0 9 0 10 0 9-1 10 0 9 0 9 0 10-1 9 0 10 0 9 0 10-1 9 0 9 0 10 0 9-1 10 0 9 0 9 0 10 0 9 0 10-1 9 0 10 0 9 0 9 0 10 0 9 0 10 0 9 0 10 0 9 0 9 0 10 0 9 0 10 0 9 0 9 0 10 0 9 0 10 0 9 0 10 1 9 0 9 0 10 0 9 0 10 0 9 1 9 0 10 0 9 0 10 1 9 0 10 0 9 0 9 1 10 0 9 0 10 0 9 1 9 0 10 0 9 1 10 0 9 0 10 0 9 1 9 0 10 0 9 1 10 0 9 0 10 0 9 1 9 0 10 0 9 0 10 0 9 1 9 0 10 0 9 0 10 0 9 1 10 0 9 0 9 0 10 0 9 1 10 0 9 0 9 0 10 0 9 0 10 0 9 0 10 1 9 0 9 0 10 0 9 0 10 0 9 0 10 0 9 0 9 0 10 0 9 0 10 0 9 0 9 0 10 1 9 0 10 0 9 0 10 0 9 0 9 0 10 0 9 0 10 0 9 0 9 0 10 0 9 0 10 0 9 0 10 0 9 0 9 0 10 0 9 0 10 0 9 0 10 0 9 0 9 0 10 0 9 0 10 0 9 0 9 0 10 0 9 0 10 0 9 0 10 0 9 0 9 0 10 0 9 0 10 0 9 0 9 0 10 0 9 0 10 0 9 0 10 0 9 0 9 0 10 0 9 0 10 0 9 0 9 0 10 0 9 0 10 0 9 0 10 0 9 0 9 0 10 0 9 0 10 0 9 0 10 0 9 0 9 0 10 0 9 0 10 0 9 0 9 0 10 0 9 0 10 0 9 0 10 0 9 0 9 0 10 0 9 0 10 0 9 0 9 0 10 0 9 0 10 0 9 0 10 0 9 0 9 0 10 0 9 0 10 0 9 0 10 0 9 0 9 0 10 0 9 0 10 0 9 0 9 0 10 0 9 0 10 0 9 0 10 0 9 0 9 0 10 0 9 0 10 0 9 0 9 0 10 0 9 0 10 0 9 0 10 0 9 0 9 0 10 0 9 0 10 0 9 0 9 0 10 0 9 0 10 0 9 0 10 0 9 0 9 0 10 0 9 0 10 0 9 0 10 0 9 0 9 0 10 0 9 0 10 0 9 0 9 0 10 0 9 0 10 0 9 0 10 0 9 0 9 0 10 0 9 0 10 0 9 0 9 0 10 0 9 0 10 0 9 0 10 0 9 0 9 0 10 0 9 0 10 0 9 0 10 0 9 0 9 0 10 0 9 0 10 0 9 0 9 0 10 0 9 0 10 0 9 0 10 0 9 0 9 0 10 0 9 0 10 0 9 0 9 0 10 0 9 0 10 0 9 0 10 0 9 0 9 0 10 0 9 0 10 0 9 0 10 0 9 0 9 0 10 0 9 0 10 0 9 0 9 0 10 0 9 0 10 0 9 0 10 0 9 0 9 0 10 0 9 0 10 0 9 0 9 0 10 0 9 0 10 0 9 0 10 0 9 0 9 0 10 0 9 0 10 0 9 0 9 0 10 0 9 0 10 0 9 0 10 0 9 0 9 0 10 0 9 0 10 0 9 0" stroke="#B177DE" stroke-width="33.0" fill="none" stroke-linejoin="round" transform="scale(.1)"/>
<path d="M2870 17820l9 0 9 0 10 0 9 0 10 0 9 0 9-1 10 0 9-1 10 0 9-1 10-1 9-1 9-1 10-1 9 0 10-1 9 0 9-1 10 0 9 0 10 0 9-1 10 0 9 0 9 0 10 0 9 0 10 0 9 0 10 0 9 0 9 0 10 0 9 1 10 0 9 0 9 1 10 0 9 1 10 0 9 1 10 1 9 1 9 1 10 0 9 1 10 1 9 0 9 0 10 0 9 1 10 0 9 0 10 0 9 0 9 0 10 0 9 0 10 0 9-1 9 0 10 0 9 0 10 0 9 0 10 0 9 0 9 0 10 0 9 0 10 0 9 0 10 0 9 0 9 0 10 0 9 0 10-1 9 0 9 0 10 0 9 0 10 0 9 0 10 0 9-1 9 0 10 0 9 0 10 0 9-1 9 0 10 0 9 0 10-1 9 0 10 0 9-1 9 0 10 0 9-1 10 0 9-1 10 0 9-1 9 0 10-1 9 0 10-1 9-1 9-1 10-1 9-1 10-1 9-1 10-1 9-1 9-2 10-2 9-2 10-2 9-2 9-3 10-3 9-3 10-4 9-5 10-5 9-6 9-7 10-8 9-10 10-12 9-15 10-17 9-21 9-26 10-31 9-37 10-43 9-47 9-47 10-39 9-24 10 0 9 23 10 38 9 47 9 46 10 42 9 36 10 30 9 25 9 20 10 16 9 13 10 11 9 9 10 7 9 6 9 5 10 3 9 3 10 3 9 2 9 1 10 1 9 1 10 0 9 0 10 0 9 0 9-1 10 0 9-1 10-1 9-1 10-1 9-1 9-1 10-1 9-2 10-1 9-1 9-1 10-1 9-1 10-1 9-1 10-1 9-1 9 0 10-1 9-1 10 0 9 0 9 0 10 0 9 0 10 0 9 1 10 0 9 1 9 1 10 0 9 1 10 2 9 1 10 1 9 2 9 1 10 2 9 1 10 2 9 2 9 2 10 2 9 2 10 2 9 2 10 1 9 2 9 2 10 2 9 2 10 2 9 2 9 2 10 2 9 1 10 2 9 2 10 1 9 2 9 1 10 2 9 1 10 1 9 1 9 1 10 1 9 1 10 1 9 1 10 1 9 1 9 0 10 1 9 1 10 0 9 1 10 0 9 0 9 1 10 0 9 0 10 1 9 0 9 0 10 0 9 0 10 0 9 1 10 0 9 0 9 0 10 0 9 0 10 0 9 0 9 0 10 0 9-1 10 0 9 0 10 0 9 0 9 0 10 0 9 0 10 0 9 0 10 0 9-1 9 0 10 0 9 0 10 0 9 0 9 0 10 0 9-1 10 0 9 0 10 0 9 0 9 0 10 0 9 0 10-1 9 0 9 0 10 0 9 0 10 0 9 0 10-1 9 0 9 0 10 0 9 0 10 0 9 0 10 0 9 0 9-1 10 0 9 0 10 0 9 0 9 0 10 0 9 0 10 0 9 0 10 0 9 0 9 0 10 0 9 0 10 0 9-1 9 0 10 0 9 0 10 0 9 0 10 0 9 0 9 0 10 0 9 1 10 0 9 0 9 0 10 0 9 0 10 0 9 0 10 0 9 0 9 0 10 0 9 0 10 0 9 0 10 0 9 1 9 0 10 0 9 0 10 0 9 0 9 0 10 0 9 0 10 1 9 0 10 0 9 0 9 0 10 0 9 0 10 1 9 0 9 0 10 0 9 0 10 0 9 0 10 0 9 1 9 0 10 0 9 0 10 0 9 0 10 0 9 0 9 1 10 0 9 0 10 0 9 0 9 0 10 0 9 0 10 1 9 0 10 0 9 0 9 0 10 0 9 0 10 0 9 0 9 0 10 0 9 0 10 0 9 1 10 0 9 0 9 0 10 0 9 0 10 0 9 0 10 0 9 0 9 0 10 0 9 0 10 0 9 0 9 0 10 0 9 0 10 0 9-1 10 0 9 0 9 0 10 0 9 0 10 0 9 0 9 0 10 0 9-1 10 0 9 0 10 0 9 0 9 0 10-1 9 0 10 0 9 0 9-1 10 0 9 0 10 0 9 0 10-1 9 0 9 0 10 0 9-1 10 0 9 0 10-1 9 0 9 0 10 0 9-1 10 0 9 0 9 0 10-1 9 0 10 0 9 0 10-1 9 0 9 0 10 0 9-1 10 0 9 0 9 0 10 0 9 0 10-1 9 0 10 0 9 0 9 0 10 0 9 0 10 0 9 0 10 0 9 0 9 0 10 0 9 0 10 0 9 0 9 0 10 0 9 0 10 0 9 0 10 1 9 0 9 0 10 0 9 0 10 0 9 1 9 0 10 0 9 0 10 1 9 0 10 0 9 0 9 1 10 0 9 0 10 0 9 1 9 0 10 0 9 1 10 0 9 0 10 0 9 1 9 0 10 0 9 1 10 0 9 0 10 0 9 1 9 0 10 0 9 0 10 0 9 1 9 0 10 0 9 0 10 0 9 1 10 0 9 0 9 0 10 0 9 1 10 0 9 0 9 0 10 0 9 0 10 0 9 0 10 1 9 0 9 0 10 0 9 0 10 0 9 0 10 0 9 0 9 0 10 0 9 0 10 0 9 0 9 0 10 1 9 0 10 0 9 0 10 0 9 0 9 0 10 0 9 0 10 0 9 0 9 0 10 0 9 0 10 0 9 0 10 0 9 0 9 0 10 0 9 0 10 0 9 0 10 0 9 0 9 0 10 0 9 0 10 0 9 0 9 0 10 0 9 0 10 0 9 0 10 0 9 0 9 0 10 0 9 0 10 0 9 0 9 0 10 0 9 0 10 0 9 0 10 0 9 0 9 0 10 0 9 0 10 0 9 0 9 0 10 0 9 0 10 0 9 0 10 0 9 0 9 0 10 0 9 0 10 0 9 0 10 0 9 0 9 0 10 0 9 0 10 0 9 0 9 0 10 0 9 0 10 0 9 0 10 0 9 0 9 0 10 0 9 0 10 0 9 0 9 0 10 0 9 0 10 0 9 0 10 0 9 0 9 0 10 0 9 0 10 0 9 0 10 0 9 0 9 0 10 0 9 0 10 0 9 0 9 0 10 0 9 0 10 0 9 0 10 0 9 0 9 0 10 0 9 0 10 0 9 0 9 0 10 0 9 0 10 0 9 0 10 0 9 0 9 0 10 0 9 0 10 0 9 0 9 0 10 0 9 0 10 0 9 0 10 0 9 0 9 0 10 0 9 0 10 0 9 0 10 0 9 0 9 0 10 0 9 0 10 0 9 0 9 0 10 0 9 0 10 0 9 0 10 0 9 0 9 0 10 0 9 0 10 0 9 0 9 0 10 0 9 0 10 0 9 0 10 0 9 0 9 0 10 0 9 0 10 0 9 0 10 0 9 0 9 0 10 0 9 0 10 0 9 0 9 0 10 0 9 0 10 0 9 0 10 0 9 0 9 0 10 0 9 0 10 0 9 0 9 0 10 0 9 0 10 0 9 0 10 0 9 0 9 0 10 0 9 0 10 0 9 0 10 0 9 0 9 0 10 0 9 0 10 0 9 0 9 0 10 0 9 0 10 0 9 0 10 0 9 0 9 0 10 0 9 0 10 0 9 0 9 0 10 0 9 0 10 0 9 0 10 0 9 0 9 0 10 0 9 0 10 0 9 0 9 0 10 0 9 0 10 0 9 0 10 0 9 0 9 0 10 0 9 0 10 0 9 0" stroke="#CC9900" stroke-width="33.0" fill="none" stroke-linejoin="round" transform="scale(.1)"/>
<path d="M2870 17820l9 0 9 0 10 0 9 0 10 0 9 0 9-1 10 0 9-1 10 0 9-1 10-1 9-1 9-1 10-1 9 0 10-1 9 0 9-1 10 0 9 0 10 0 9-1 10 0 9 0 9 0 10 0 9 0 10 0 9 0 10 0 9 0 9 0 10 1 9 0 10 0 9 0 9 1 10 0 9 1 10 0 9 1 10 1 9 1 9 1 10 1 9 0 10 1 9 0 9 0 10 1 9 0 10 0 9 0 10 0 9 0 9 0 10 0 9 0 10 0 9 0 9 0 10 0 9 0 10 0 9 0 10 0 9 0 9 0 10 0 9 0 10 0 9 0 10-1 9 0 9 0 10 0 9 0 10 0 9 0 9 0 10 0 9 0 10 0 9 0 10 0 9 0 9 0 10 0 9 0 10-1 9 0 9 0 10 0 9 0 10 0 9 0 10 0 9 0 9-1 10 0 9 0 10 0 9 0 10-1 9 0 9 0 10 0 9-1 10 0 9 0 9-1 10 0 9-1 10 0 9-1 10 0 9-1 9 0 10-1 9-1 10-1 9-1 9-1 10-2 9-1 10-2 9-2 10-3 9-2 9-4 10-4 9-4 10-6 9-7 10-8 9-10 9-13 10-15 9-19 10-23 9-27 9-28 10-26 9-18 10-5 9 11 10 23 9 27 9 27 10 24 9 20 10 17 9 13 9 11 10 8 9 7 10 5 9 4 10 3 9 3 9 2 10 1 9 1 10 1 9 0 9 1 10 0 9-1 10 0 9-1 10 0 9-1 9-1 10-1 9-1 10-1 9-1 10-1 9-1 9-1 10-1 9-2 10-1 9-1 9-1 10-1 9-1 10-1 9-1 10-1 9 0 9-1 10-1 9 0 10 0 9-1 9 0 10 0 9 0 10 0 9 0 10 1 9 0 9 1 10 1 9 0 10 1 9 1 10 1 9 1 9 1 10 2 9 1 10 1 9 2 9 1 10 2 9 1 10 2 9 1 10 2 9 1 9 2 10 1 9 2 10 1 9 2 9 1 10 2 9 1 10 1 9 2 10 1 9 1 9 1 10 1 9 1 10 1 9 1 9 1 10 1 9 1 10 1 9 0 10 1 9 0 9 1 10 0 9 1 10 0 9 1 10 0 9 0 9 1 10 0 9 0 10 0 9 0 9 1 10 0 9 0 10 0 9 0 10 0 9 0 9 0 10 0 9 0 10 0 9 0 9 0 10 0 9 0 10 0 9-1 10 0 9 0 9 0 10 0 9 0 10 0 9 0 10 0 9-1 9 0 10 0 9 0 10 0 9 0 9 0 10 0 9-1 10 0 9 0 10 0 9 0 9 0 10 0 9 0 10-1 9 0 9 0 10 0 9 0 10 0 9 0 10-1 9 0 9 0 10 0 9 0 10 0 9 0 10 0 9 0 9-1 10 0 9 0 10 0 9 0 9 0 10 0 9 0 10 0 9 0 10 0 9 0 9 0 10 0 9 0 10 0 9-1 9 0 10 0 9 0 10 0 9 0 10 0 9 0 9 0 10 0 9 1 10 0 9 0 9 0 10 0 9 0 10 0 9 0 10 0 9 0 9 0 10 0 9 0 10 0 9 0 10 0 9 1 9 0 10 0 9 0 10 0 9 0 9 0 10 0 9 0 10 1 9 0 10 0 9 0 9 0 10 0 9 0 10 1 9 0 9 0 10 0 9 0 10 0 9 0 10 0 9 1 9 0 10 0 9 0 10 0 9 0 10 0 9 0 9 1 10 0 9 0 10 0 9 0 9 0 10 0 9 0 10 1 9 0 10 0 9 0 9 0 10 0 9 0 10 0 9 0 9 0 10 0 9 0 10 0 9 1 10 0 9 0 9 0 10 0 9 0 10 0 9 0 10 0 9 0 9 0 10 0 9 0 10 0 9 0 9 0 10 0 9 0 10 0 9-1 10 0 9 0 9 0 10 0 9 0 10 0 9 0 9 0 10 0 9-1 10 0 9 0 10 0 9 0 9 0 10-1 9 0 10 0 9 0 9-1 10 0 9 0 10 0 9 0 10-1 9 0 9 0 10 0 9-1 10 0 9 0 10-1 9 0 9 0 10 0 9-1 10 0 9 0 9 0 10-1 9 0 10 0 9 0 10-1 9 0 9 0 10 0 9-1 10 0 9 0 9 0 10 0 9 0 10-1 9 0 10 0 9 0 9 0 10 0 9 0 10 0 9 0 10 0 9 0 9 0 10 0 9 0 10 0 9 0 9 0 10 0 9 0 10 0 9 0 10 1 9 0 9 0 10 0 9 0 10 0 9 1 9 0 10 0 9 0 10 1 9 0 10 0 9 0 9 1 10 0 9 0 10 0 9 1 9 0 10 0 9 1 10 0 9 0 10 0 9 1 9 0 10 0 9 1 10 0 9 0 10 0 9 1 9 0 10 0 9 0 10 0 9 1 9 0 10 0 9 0 10 0 9 1 10 0 9 0 9 0 10 0 9 1 10 0 9 0 9 0 10 0 9 0 10 0 9 0 10 1 9 0 9 0 10 0 9 0 10 0 9 0 10 0 9 0 9 0 10 0 9 0 10 0 9 0 9 0 10 1 9 0 10 0 9 0 10 0 9 0 9 0 10 0 9 0 10 0 9 0 9 0 10 0 9 0 10 0 9 0 10 0 9 0 9 0 10 0 9 0 10 0 9 0 10 0 9 0 9 0 10 0 9 0 10 0 9 0 9 0 10 0 9 0 10 0 9 0 10 0 9 0 9 0 10 0 9 0 10 0 9 0 9 0 10 0 9 0 10 0 9 0 10 0 9 0 9 0 10 0 9 0 10 0 9 0 9 0 10 0 9 0 10 0 9 0 10 0 9 0 9 0 10 0 9 0 10 0 9 0 10 0 9 0 9 0 10 0 9 0 10 0 9 0 9 0 10 0 9 0 10 0 9 0 10 0 9 0 9 0 10 0 9 0 10 0 9 0 9 0 10 0 9 0 10 0 9 0 10 0 9 0 9 0 10 0 9 0 10 0 9 0 10 0 9 0 9 0 10 0 9 0 10 0 9 0 9 0 10 0 9 0 10 0 9 0 10 0 9 0 9 0 10 0 9 0 10 0 9 0 9 0 10 0 9 0 10 0 9 0 10 0 9 0 9 0 10 0 9 0 10 0 9 0 9 0 10 0 9 0 10 0 9 0 10 0 9 0 9 0 10 0 9 0 10 0 9 0 10 0 9 0 9 0 10 0 9 0 10 0 9 0 9 0 10 0 9 0 10 0 9 0 10 0 9 0 9 0 10 0 9 0 10 0 9 0 9 0 10 0 9 0 10 0 9 0 10 0 9 0 9 0 10 0 9 0 10 0 9 0 10 0 9 0 9 0 10 0 9 0 10 0 9 0 9 0 10 0 9 0 10 0 9 0 10 0 9 0 9 0 10 0 9 0 10 0 9 0 9 0 10 0 9 0 10 0 9 0 10 0 9 0 9 0 10 0 9 0 10 0 9 0 10 0 9 0 9 0 10 0 9 0 10 0 9 0 9 0 10 0 9 0 10 0 9 0 10 0 9 0 9 0 10 0 9 0 10 0 9 0 9 0 10 0 9 0 10 0 9 0 10 0 9 0 9 0 10 0 9 0 10 0 9 0 9 0 10 0 9 0 10 0 9 0 10 0 9 0 9 0 10 0 9 0 10 0 9 0" stroke="#00CBCC" stroke-width="33.0" fill="none" stroke-linejoin="round" transform="scale(.1)"/>
<path d="M2870 17820l9 0 9 0 10 0 9 0 10 0 9 0 9-1 10 0 9-1 10 0 9-1 10-1 9-1 9-1 10-1 9 0 10-1 9 0 9-1 10 0 9 0 10 0 9-1 10 0 9 0 9 0 10 0 9 0 10 0 9 0 10 0 9 0 9 0 10 1 9 0 10 0 9 0 9 1 10 0 9 1 10 0 9 1 10 1 9 1 9 1 10 1 9 0 10 1 9 0 9 0 10 1 9 0 10 0 9 0 10 0 9 0 9 0 10 0 9 0 10 0 9 0 9 0 10 0 9 0 10 0 9 0 10 0 9 0 9-1 10 0 9 0 10 0 9 0 10 0 9 0 9 0 10 0 9 0 10 0 9 0 9 0 10 0 9 0 10 0 9 0 10 0 9-1 9 0 10 0 9 0 10 0 9 0 9 0 10 0 9-1 10 0 9 0 10 0 9 0 9-1 10 0 9 0 10 0 9-1 10 0 9 0 9-1 10 0 9 0 10-1 9 0 9-1 10 0 9-1 10-1 9 0 10-1 9-1 9-1 10-1 9-1 10-1 9-2 9-1 10-2 9-2 10-3 9-3 10-3 9-4 9-4 10-5 9-6 10-8 9-8 10-11 9-13 9-16 10-19 9-23 10-26 9-29 9-29 10-24 9-14 10-1 9 14 10 23 9 28 9 29 10 25 9 22 10 18 9 15 9 12 10 10 9 8 10 6 9 5 10 4 9 3 9 3 10 1 9 2 10 1 9 1 9 0 10 0 9 0 10 0 9-1 10-1 9 0 9-1 10-1 9-1 10-2 9-1 10-1 9-1 9-2 10-1 9-1 10-2 9-1 9-1 10-1 9-1 10-1 9-1 10-1 9-1 9-1 10-1 9 0 10-1 9 0 9 0 10 0 9 0 10 0 9 1 10 0 9 1 9 0 10 1 9 1 10 1 9 1 10 1 9 2 9 1 10 1 9 2 10 2 9 1 9 2 10 2 9 1 10 2 9 2 10 2 9 2 9 1 10 2 9 2 10 2 9 1 9 2 10 2 9 1 10 2 9 1 10 2 9 1 9 2 10 1 9 1 10 1 9 1 9 1 10 1 9 1 10 1 9 1 10 1 9 0 9 1 10 1 9 0 10 1 9 0 10 0 9 1 9 0 10 0 9 1 10 0 9 0 9 0 10 0 9 0 10 1 9 0 10 0 9 0 9 0 10 0 9 0 10 0 9 0 9 0 10 0 9 0 10-1 9 0 10 0 9 0 9 0 10 0 9 0 10 0 9 0 10 0 9-1 9 0 10 0 9 0 10 0 9 0 9 0 10 0 9-1 10 0 9 0 10 0 9 0 9 0 10 0 9 0 10-1 9 0 9 0 10 0 9 0 10 0 9 0 10-1 9 0 9 0 10 0 9 0 10 0 9 0 10 0 9 0 9-1 10 0 9 0 10 0 9 0 9 0 10 0 9 0 10 0 9 0 10 0 9 0 9 0 10 0 9 0 10 0 9-1 9 0 10 0 9 0 10 0 9 0 10 0 9 0 9 0 10 0 9 1 10 0 9 0 9 0 10 0 9 0 10 0 9 0 10 0 9 0 9 0 10 0 9 0 10 0 9 0 10 0 9 1 9 0 10 0 9 0 10 0 9 0 9 0 10 0 9 0 10 1 9 0 10 0 9 0 9 0 10 0 9 0 10 1 9 0 9 0 10 0 9 0 10 0 9 0 10 0 9 1 9 0 10 0 9 0 10 0 9 0 10 0 9 0 9 1 10 0 9 0 10 0 9 0 9 0 10 0 9 0 10 1 9 0 10 0 9 0 9 0 10 0 9 0 10 0 9 0 9 0 10 0 9 0 10 0 9 1 10 0 9 0 9 0 10 0 9 0 10 0 9 0 10 0 9 0 9 0 10 0 9 0 10 0 9 0 9 0 10 0 9 0 10 0 9-1 10 0 9 0 9 0 10 0 9 0 10 0 9 0 9 0 10 0 9-1 10 0 9 0 10 0 9 0 9 0 10-1 9 0 10 0 9 0 9-1 10 0 9 0 10 0 9 0 10-1 9 0 9 0 10 0 9-1 10 0 9 0 10-1 9 0 9 0 10 0 9-1 10 0 9 0 9 0 10-1 9 0 10 0 9 0 10-1 9 0 9 0 10 0 9-1 10 0 9 0 9 0 10 0 9 0 10-1 9 0 10 0 9 0 9 0 10 0 9 0 10 0 9 0 10 0 9 0 9 0 10 0 9 0 10 0 9 0 9 0 10 0 9 0 10 0 9 0 10 1 9 0 9 0 10 0 9 0 10 0 9 1 9 0 10 0 9 0 10 1 9 0 10 0 9 0 9 1 10 0 9 0 10 0 9 1 9 0 10 0 9 1 10 0 9 0 10 0 9 1 9 0 10 0 9 1 10 0 9 0 10 0 9 1 9 0 10 0 9 0 10 0 9 1 9 0 10 0 9 0 10 0 9 1 10 0 9 0 9 0 10 0 9 1 10 0 9 0 9 0 10 0 9 0 10 0 9 0 10 1 9 0 9 0 10 0 9 0 10 0 9 0 10 0 9 0 9 0 10 0 9 0 10 0 9 0 9 0 10 1 9 0 10 0 9 0 10 0 9 0 9 0 10 0 9 0 10 0 9 0 9 0 10 0 9 0 10 0 9 0 10 0 9 0 9 0 10 0 9 0 10 0 9 0 10 0 9 0 9 0 10 0 9 0 10 0 9 0 9 0 10 0 9 0 10 0 9 0 10 0 9 0 9 0 10 0 9 0 10 0 9 0 9 0 10 0 9 0 10 0 9 0 10 0 9 0 9 0 10 0 9 0 10 0 9 0 9 0 10 0 9 0 10 0 9 0 10 0 9 0 9 0 10 0 9 0 10 0 9 0 10 0 9 0 9 0 10 0 9 0 10 0 9 0 9 0 10 0 9 0 10 0 9 0 10 0 9 0 9 0 10 0 9 0 10 0 9 0 9 0 10 0 9 0 10 0 9 0 10 0 9 0 9 0 10 0 9 0 10 0 9 0 10 0 9 0 9 0 10 0 9 0 10 0 9 0 9 0 10 0 9 0 10 0 9 0 10 0 9 0 9 0 10 0 9 0 10 0 9 0 9 0 10 0 9 0 10 0 9 0 10 0 9 0 9 0 10 0 9 0 10 0 9 0 9 0 10 0 9 0 10 0 9 0 10 0 9 0 9 0 10 0 9 0 10 0 9 0 10 0 9 0 9 0 10 0 9 0 10 0 9 0 9 0 10 0 9 0 10 0 9 0 10 0 9 0 9 0 10 0 9 0 10 0 9 0 9 0 10 0 9 0 10 0 9 0 10 0 9 0 9 0 10 0 9 0 10 0 9 0 10 0 9 0 9 0 10 0 9 0 10 0 9 0 9 0 10 0 9 0 10 0 9 0 10 0 9 0 9 0 10 0 9 0 10 0 9 0 9 0 10 0 9 0 10 0 9 0 10 0 9 0 9 0 10 0 9 0 10 0 9 0 10 0 9 0 9 0 10 0 9 0 10 0 9 0 9 0 10 0 9 0 10 0 9 0 10 0 9 0 9 0 10 0 9 0 10 0 9 0 9 0 10 0 9 0 10 0 9 0 10 0 9 0 9 0 10 0 9 0 10 0 9 0 9 0 10 0 9 0 10 0 9 0 10 0 9 0 9 0 10 0 9 0 10 0 9 0" stroke="#7D4E4E" stroke-width="33.0" fill="none" stroke-linejoin="round" transform="scale(.1)"/>
<path d="M2870 17820l9 0 9 0 10 0 9 0 10 0 9 0 9-1 10 0 9-1 10 0 9-1 10-1 9-1 9-1 10-1 9 0 10-1 9 0 9-1 10 0 9 0 10 0 9-1 10 0 9 0 9 0 10 0 9 0 10 0 9 0 10 0 9 0 9 0 10 1 9 0 10 0 9 0 9 1 10 0 9 1 10 0 9 1 10 1 9 1 9 1 10 1 9 0 10 1 9 0 9 0 10 1 9 0 10 0 9 0 10 0 9 0 9 0 10 0 9 0 10 0 9 0 9 0 10 0 9 0 10 0 9 0 10-1 9 0 9 0 10 0 9 0 10 0 9 0 10 0 9 0 9 0 10 0 9 0 10 0 9 0 9 0 10 0 9 0 10 0 9-1 10 0 9 0 9 0 10 0 9 0 10 0 9 0 9-1 10 0 9 0 10 0 9 0 10-1 9 0 9 0 10 0 9-1 10 0 9 0 10-1 9 0 9 0 10-1 9 0 10-1 9 0 9-1 10 0 9-1 10-1 9 0 10-1 9-1 9-1 10-1 9-2 10-1 9-2 9-2 10-2 9-2 10-3 9-3 10-3 9-5 9-5 10-5 9-7 10-8 9-10 10-12 9-14 9-18 10-21 9-26 10-29 9-32 9-32 10-28 9-16 10 0 9 15 10 27 9 31 9 31 10 29 9 24 10 20 9 17 9 14 10 10 9 9 10 7 9 6 10 4 9 4 9 3 10 2 9 2 10 1 9 1 9 0 10 0 9 0 10 0 9-1 10 0 9-1 9-1 10-1 9-1 10-1 9-2 10-1 9-1 9-2 10-1 9-2 10-1 9-1 9-2 10-1 9-1 10-1 9-1 10-1 9-1 9-1 10-1 9 0 10-1 9 0 9 0 10 0 9 0 10 0 9 1 10 0 9 1 9 0 10 1 9 1 10 1 9 1 10 2 9 1 9 2 10 1 9 2 10 2 9 1 9 2 10 2 9 2 10 2 9 2 10 2 9 2 9 2 10 2 9 1 10 2 9 2 9 2 10 2 9 2 10 1 9 2 10 1 9 2 9 1 10 2 9 1 10 1 9 1 9 1 10 2 9 0 10 1 9 1 10 1 9 1 9 0 10 1 9 1 10 0 9 1 10 0 9 0 9 1 10 0 9 0 10 1 9 0 9 0 10 0 9 0 10 0 9 1 10 0 9 0 9 0 10 0 9 0 10 0 9 0 9 0 10 0 9 0 10-1 9 0 10 0 9 0 9 0 10 0 9 0 10 0 9 0 10 0 9-1 9 0 10 0 9 0 10 0 9 0 9 0 10 0 9-1 10 0 9 0 10 0 9 0 9 0 10 0 9 0 10-1 9 0 9 0 10 0 9 0 10 0 9 0 10-1 9 0 9 0 10 0 9 0 10 0 9 0 10 0 9 0 9-1 10 0 9 0 10 0 9 0 9 0 10 0 9 0 10 0 9 0 10 0 9 0 9 0 10 0 9 0 10 0 9-1 9 0 10 0 9 0 10 0 9 0 10 0 9 0 9 0 10 0 9 1 10 0 9 0 9 0 10 0 9 0 10 0 9 0 10 0 9 0 9 0 10 0 9 0 10 0 9 0 10 0 9 1 9 0 10 0 9 0 10 0 9 0 9 0 10 0 9 0 10 1 9 0 10 0 9 0 9 0 10 0 9 0 10 1 9 0 9 0 10 0 9 0 10 0 9 0 10 0 9 1 9 0 10 0 9 0 10 0 9 0 10 0 9 0 9 1 10 0 9 0 10 0 9 0 9 0 10 0 9 0 10 1 9 0 10 0 9 0 9 0 10 0 9 0 10 0 9 0 9 0 10 0 9 0 10 0 9 1 10 0 9 0 9 0 10 0 9 0 10 0 9 0 10 0 9 0 9 0 10 0 9 0 10 0 9 0 9 0 10 0 9 0 10 0 9-1 10 0 9 0 9 0 10 0 9 0 10 0 9 0 9 0 10 0 9-1 10 0 9 0 10 0 9 0 9 0 10-1 9 0 10 0 9 0 9-1 10 0 9 0 10 0 9 0 10-1 9 0 9 0 10 0 9-1 10 0 9 0 10-1 9 0 9 0 10 0 9-1 10 0 9 0 9 0 10-1 9 0 10 0 9 0 10-1 9 0 9 0 10 0 9-1 10 0 9 0 9 0 10 0 9 0 10-1 9 0 10 0 9 0 9 0 10 0 9 0 10 0 9 0 10 0 9 0 9 0 10 0 9 0 10 0 9 0 9 0 10 0 9 0 10 0 9 0 10 1 9 0 9 0 10 0 9 0 10 0 9 1 9 0 10 0 9 0 10 1 9 0 10 0 9 0 9 1 10 0 9 0 10 0 9 1 9 0 10 0 9 1 10 0 9 0 10 0 9 1 9 0 10 0 9 1 10 0 9 0 10 0 9 1 9 0 10 0 9 0 10 0 9 1 9 0 10 0 9 0 10 0 9 1 10 0 9 0 9 0 10 0 9 1 10 0 9 0 9 0 10 0 9 0 10 0 9 0 10 1 9 0 9 0 10 0 9 0 10 0 9 0 10 0 9 0 9 0 10 0 9 0 10 0 9 0 9 0 10 1 9 0 10 0 9 0 10 0 9 0 9 0 10 0 9 0 10 0 9 0 9 0 10 0 9 0 10 0 9 0 10 0 9 0 9 0 10 0 9 0 10 0 9 0 10 0 9 0 9 0 10 0 9 0 10 0 9 0 9 0 10 0 9 0 10 0 9 0 10 0 9 0 9 0 10 0 9 0 10 0 9 0 9 0 10 0 9 0 10 0 9 0 10 0 9 0 9 0 10 0 9 0 10 0 9 0 9 0 10 0 9 0 10 0 9 0 10 0 9 0 9 0 10 0 9 0 10 0 9 0 10 0 9 0 9 0 10 0 9 0 10 0 9 0 9 0 10 0 9 0 10 0 9 0 10 0 9 0 9 0 10 0 9 0 10 0 9 0 9 0 10 0 9 0 10 0 9 0 10 0 9 0 9 0 10 0 9 0 10 0 9 0 10 0 9 0 9 0 10 0 9 0 10 0 9 0 9 0 10 0 9 0 10 0 9 0 10 0 9 0 9 0 10 0 9 0 10 0 9 0 9 0 10 0 9 0 10 0 9 0 10 0 9 0 9 0 10 0 9 0 10 0 9 0 9 0 10 0 9 0 10 0 9 0 10 0 9 0 9 0 10 0 9 0 10 0 9 0 10 0 9 0 9 0 10 0 9 0 10 0 9 0 9 0 10 0 9 0 10 0 9 0 10 0 9 0 9 0 10 0 9 0 10 0 9 0 9 0 10 0 9 0 10 0 9 0 10 0 9 0 9 0 10 0 9 0 10 0 9 0 10 0 9 0 9 0 10 0 9 0 10 0 9 0 9 0 10 0 9 0 10 0 9 0 10 0 9 0 9 0 10 0 9 0 10 0 9 0 9 0 10 0 9 0 10 0 9 0 10 0 9 0 9 0 10 0 9 0 10 0 9 0 10 0 9 0 9 0 10 0 9 0 10 0 9 0 9 0 10 0 9 0 10 0 9 0 10 0 9 0 9 0 10 0 9 0 10 0 9 0 9 0 10 0 9 0 10 0 9 0 10 0 9 0 9 0 10 0 9 0 10 0 9 0 9 0 10 0 9 0 10 0 9 0 10 0 9 0 9 0 10 0 9 0 10 0 9 0" stroke="#8E8E00" stroke-width="33.0" fill="none" stroke-linejoin="round" transform="scale(.1)"/>
<path d="M2870 17820l9 0 9 0 10 0 9 0 10 0 9 0 9-1 10 0 9-1 10 0 9-1 10-1 9-1 9-1 10-1 9 0 10-1 9 0 9-1 10 0 9 0 10 0 9 0 10-1 9 0 9 0 10 0 9 0 10 0 9 0 10 0 9 0 9 0 10 1 9 0 10 0 9 0 9 1 10 0 9 1 10 0 9 1 10 1 9 1 9 1 10 1 9 0 10 1 9 0 9 0 10 1 9 0 10 0 9 0 10 0 9 0 9 0 10 0 9 0 10 0 9 0 9 0 10 0 9 0 10 0 9 0 10 0 9 0 9 0 10 0 9 0 10 0 9 0 10 0 9 0 9 0 10 0 9-1 10 0 9 0 9 0 10 0 9 0 10 0 9 0 10 0 9 0 9 0 10 0 9 0 10 0 9 0 9 0 10 0 9-1 10 0 9 0 10 0 9 0 9 0 10 0 9 0 10-1 9 0 10 0 9 0 9 0 10-1 9 0 10 0 9 0 9-1 10 0 9 0 10-1 9 0 10-1 9 0 9-1 10 0 9-1 10-1 9-1 9-1 10-1 9-1 10-1 9-2 10-2 9-2 9-3 10-3 9-4 10-4 9-5 10-7 9-8 9-10 10-13 9-15 10-18 9-22 9-22 10-21 9-15 10-3 9 9 10 17 9 22 9 21 10 20 9 16 10 13 9 10 9 8 10 7 9 5 10 4 9 3 10 2 9 2 9 2 10 1 9 0 10 1 9 0 9 0 10-1 9 0 10-1 9 0 10-1 9-1 9-1 10-1 9-1 10-1 9-2 10-1 9-1 9-1 10-2 9-1 10-1 9-1 9-1 10-1 9-1 10-1 9-1 10-1 9-1 9-1 10 0 9-1 10 0 9 0 9-1 10 0 9 0 10 1 9 0 10 0 9 1 9 0 10 1 9 0 10 1 9 1 10 1 9 1 9 2 10 1 9 1 10 1 9 2 9 1 10 2 9 1 10 2 9 1 10 2 9 1 9 2 10 2 9 1 10 2 9 1 9 1 10 2 9 1 10 2 9 1 10 1 9 1 9 1 10 1 9 1 10 1 9 1 9 1 10 1 9 1 10 1 9 0 10 1 9 0 9 1 10 0 9 1 10 0 9 1 10 0 9 0 9 1 10 0 9 0 10 0 9 0 9 1 10 0 9 0 10 0 9 0 10 0 9 0 9 0 10 0 9 0 10 0 9 0 9 0 10 0 9 0 10 0 9-1 10 0 9 0 9 0 10 0 9 0 10 0 9 0 10 0 9-1 9 0 10 0 9 0 10 0 9 0 9 0 10 0 9-1 10 0 9 0 10 0 9 0 9 0 10 0 9 0 10-1 9 0 9 0 10 0 9 0 10 0 9 0 10-1 9 0 9 0 10 0 9 0 10 0 9 0 10 0 9 0 9-1 10 0 9 0 10 0 9 0 9 0 10 0 9 0 10 0 9 0 10 0 9 0 9 0 10 0 9 0 10 0 9-1 9 0 10 0 9 0 10 0 9 0 10 0 9 0 9 0 10 0 9 1 10 0 9 0 9 0 10 0 9 0 10 0 9 0 10 0 9 0 9 0 10 0 9 0 10 0 9 0 10 0 9 1 9 0 10 0 9 0 10 0 9 0 9 0 10 0 9 0 10 1 9 0 10 0 9 0 9 0 10 0 9 0 10 1 9 0 9 0 10 0 9 0 10 0 9 0 10 0 9 1 9 0 10 0 9 0 10 0 9 0 10 0 9 0 9 1 10 0 9 0 10 0 9 0 9 0 10 0 9 0 10 1 9 0 10 0 9 0 9 0 10 0 9 0 10 0 9 0 9 0 10 0 9 0 10 0 9 1 10 0 9 0 9 0 10 0 9 0 10 0 9 0 10 0 9 0 9 0 10 0 9 0 10 0 9 0 9 0 10 0 9 0 10 0 9-1 10 0 9 0 9 0 10 0 9 0 10 0 9 0 9 0 10 0 9-1 10 0 9 0 10 0 9 0 9 0 10-1 9 0 10 0 9 0 9-1 10 0 9 0 10 0 9 0 10-1 9 0 9 0 10 0 9-1 10 0 9 0 10-1 9 0 9 0 10 0 9-1 10 0 9 0 9 0 10-1 9 0 10 0 9 0 10-1 9 0 9 0 10 0 9-1 10 0 9 0 9 0 10 0 9 0 10-1 9 0 10 0 9 0 9 0 10 0 9 0 10 0 9 0 10 0 9 0 9 0 10 0 9 0 10 0 9 0 9 0 10 0 9 0 10 0 9 0 10 1 9 0 9 0 10 0 9 0 10 0 9 1 9 0 10 0 9 0 10 1 9 0 10 0 9 0 9 1 10 0 9 0 10 0 9 1 9 0 10 0 9 1 10 0 9 0 10 0 9 1 9 0 10 0 9 1 10 0 9 0 10 0 9 1 9 0 10 0 9 0 10 0 9 1 9 0 10 0 9 0 10 0 9 1 10 0 9 0 9 0 10 0 9 1 10 0 9 0 9 0 10 0 9 0 10 0 9 0 10 1 9 0 9 0 10 0 9 0 10 0 9 0 10 0 9 0 9 0 10 0 9 0 10 0 9 0 9 0 10 1 9 0 10 0 9 0 10 0 9 0 9 0 10 0 9 0 10 0 9 0 9 0 10 0 9 0 10 0 9 0 10 0 9 0 9 0 10 0 9 0 10 0 9 0 10 0 9 0 9 0 10 0 9 0 10 0 9 0 9 0 10 0 9 0 10 0 9 0 10 0 9 0 9 0 10 0 9 0 10 0 9 0 9 0 10 0 9 0 10 0 9 0 10 0 9 0 9 0 10 0 9 0 10 0 9 0 9 0 10 0 9 0 10 0 9 0 10 0 9 0 9 0 10 0 9 0 10 0 9 0 10 0 9 0 9 0 10 0 9 0 10 0 9 0 9 0 10 0 9 0 10 0 9 0 10 0 9 0 9 0 10 0 9 0 10 0 9 0 9 0 10 0 9 0 10 0 9 0 10 0 9 0 9 0 10 0 9 0 10 0 9 0 10 0 9 0 9 0 10 0 9 0 10 0 9 0 9 0 10 0 9 0 10 0 9 0 10 0 9 0 9 0 10 0 9 0 10 0 9 0 9 0 10 0 9 0 10 0 9 0 10 0 9 0 9 0 10 0 9 0 10 0 9 0 9 0 10 0 9 0 10 0 9 0 10 0 9 0 9 0 10 0 9 0 10 0 9 0 10 0 9 0 9 0 10 0 9 0 10 0 9 0 9 0 10 0 9 0 10 0 9 0 10 0 9 0 9 0 10 0 9 0 10 0 9 0 9 0 10 0 9 0 10 0 9 0 10 0 9 0 9 0 10 0 9 0 10 0 9 0 10 0 9 0 9 0 10 0 9 0 10 0 9 0 9 0 10 0 9 0 10 0 9 0 10 0 9 0 9 0 10 0 9 0 10 0 9 0 9 0 10 0 9 0 10 0 9 0 10 0 9 0 9 0 10 0 9 0 10 0 9 0 10 0 9 0 9 0 10 0 9 0 10 0 9 0 9 0 10 0 9 0 10 0 9 0 10 0 9 0 9 0 10 0 9 0 10 0 9 0 9 0 10 0 9 0 10 0 9 0 10 0 9 0 9 0 10 0 9 0 10 0 9 0 9 0 10 0 9 0 10 0 9 0 10 0 9 0 9 0 10 0 9 0 10 0 9 0" stroke="#FB6501" stroke-width="33.0" fill="none" stroke-linejoin="round" transform="scale(.1)"/>
<path d="M2870 17820l9 0 9 0 10 0 9 0 10 0 9-1 9 0 10-1 9-1 10-1 9-1 10-1 9-1 9-2 10-1 9-1 10-1 9-1 9 0 10-1 9 0 10 0 9 0 10 0 9 0 9 0 10 0 9 0 10 0 9 0 10 0 9 0 9 0 10 0 9 0 10 0 9 1 9 0 10 1 9 1 10 1 9 1 10 1 9 2 9 1 10 1 9 1 10 1 9 1 9 0 10 0 9 0 10 0 9 0 10 0 9 0 9 0 10 0 9 0 10 0 9 0 9 0 10 0 9 0 10 0 9 0 10 0 9 0 9 0 10 0 9-1 10 0 9 0 10 0 9 0 9 0 10 0 9 0 10-1 9 0 9 0 10 0 9 0 10-1 9 0 10 0 9 0 9-1 10 0 9 0 10-1 9 0 9 0 10-1 9 0 10-1 9 0 10-1 9 0 9-1 10 0 9-1 10-1 9-1 10 0 9-1 9-1 10-1 9-1 10-1 9-2 9-1 10-1 9-2 10-2 9-2 10-2 9-2 9-2 10-3 9-3 10-4 9-3 9-5 10-5 9-5 10-6 9-7 10-9 9-9 9-12 10-13 9-15 10-19 9-22 10-27 9-33 9-40 10-48 9-58 10-68 9-78 9-81 10-76 9-56 10-20 9 19 10 55 9 75 9 80 10 76 9 68 10 56 9 47 9 39 10 31 9 26 10 20 9 18 10 14 9 11 9 10 10 7 9 7 10 5 9 4 9 4 10 3 9 2 10 1 9 1 10 1 9 1 9 0 10-1 9 0 10-1 9 0 10-1 9-1 9-1 10-1 9-1 10-2 9-1 9-1 10-1 9-1 10-1 9-1 10-1 9-1 9-1 10 0 9-1 10 0 9 0 9 0 10 0 9 0 10 1 9 0 10 1 9 1 9 1 10 1 9 2 10 1 9 2 10 1 9 2 9 2 10 2 9 3 10 2 9 2 9 3 10 2 9 2 10 3 9 2 10 3 9 2 9 3 10 2 9 3 10 2 9 3 9 2 10 2 9 2 10 3 9 2 10 2 9 1 9 2 10 2 9 2 10 1 9 2 9 1 10 2 9 1 10 1 9 1 10 1 9 1 9 1 10 1 9 0 10 1 9 1 10 0 9 1 9 0 10 0 9 1 10 0 9 0 9 1 10 0 9 0 10 0 9 0 10 0 9 0 9 0 10 0 9 0 10 0 9 0 9 0 10 0 9 0 10 0 9 0 10-1 9 0 9 0 10 0 9 0 10 0 9 0 10-1 9 0 9 0 10 0 9 0 10-1 9 0 9 0 10 0 9 0 10-1 9 0 10 0 9 0 9 0 10-1 9 0 10 0 9 0 9 0 10-1 9 0 10 0 9 0 10 0 9 0 9-1 10 0 9 0 10 0 9 0 10 0 9-1 9 0 10 0 9 0 10 0 9 0 9 0 10-1 9 0 10 0 9 0 10 0 9 0 9 0 10 0 9 0 10 0 9 0 9 0 10 0 9 0 10 0 9 0 10 0 9 0 9 0 10 0 9 0 10 0 9 0 9 0 10 0 9 0 10 0 9 0 10 0 9 0 9 1 10 0 9 0 10 0 9 0 10 0 9 0 9 1 10 0 9 0 10 0 9 0 9 0 10 1 9 0 10 0 9 0 10 0 9 0 9 1 10 0 9 0 10 0 9 0 9 1 10 0 9 0 10 0 9 0 10 1 9 0 9 0 10 0 9 0 10 1 9 0 10 0 9 0 9 0 10 1 9 0 10 0 9 0 9 0 10 0 9 1 10 0 9 0 10 0 9 0 9 0 10 1 9 0 10 0 9 0 9 0 10 0 9 0 10 0 9 0 10 0 9 1 9 0 10 0 9 0 10 0 9 0 10 0 9 0 9 0 10 0 9 0 10 0 9 0 9 0 10 0 9 0 10 0 9-1 10 0 9 0 9 0 10 0 9 0 10 0 9 0 9-1 10 0 9 0 10 0 9 0 10-1 9 0 9 0 10 0 9-1 10 0 9 0 9 0 10-1 9 0 10 0 9-1 10 0 9 0 9-1 10 0 9 0 10-1 9 0 10 0 9-1 9 0 10 0 9-1 10 0 9-1 9 0 10 0 9-1 10 0 9 0 10-1 9 0 9 0 10-1 9 0 10 0 9 0 9-1 10 0 9 0 10 0 9 0 10-1 9 0 9 0 10 0 9 0 10 0 9 0 10 0 9 0 9 0 10 0 9 0 10 0 9 0 9 0 10 0 9 1 10 0 9 0 10 0 9 0 9 0 10 1 9 0 10 0 9 1 9 0 10 0 9 0 10 1 9 0 10 0 9 1 9 0 10 1 9 0 10 0 9 1 9 0 10 0 9 1 10 0 9 1 10 0 9 0 9 1 10 0 9 0 10 1 9 0 10 0 9 1 9 0 10 0 9 1 10 0 9 0 9 1 10 0 9 0 10 0 9 1 10 0 9 0 9 0 10 0 9 1 10 0 9 0 9 0 10 0 9 1 10 0 9 0 10 0 9 0 9 0 10 0 9 1 10 0 9 0 10 0 9 0 9 0 10 0 9 0 10 0 9 0 9 0 10 0 9 0 10 0 9 1 10 0 9 0 9 0 10 0 9 0 10 0 9 0 9 0 10 0 9 0 10 0 9 0 10 0 9 0 9 0 10 0 9 0 10 0 9 0 10 0 9 0 9 0 10 0 9 0 10 0 9 0 9 0 10 0 9 0 10 0 9 0 10 0 9 0 9 0 10 0 9 0 10 0 9 0 9 0 10 0 9 0 10 0 9 0 10 0 9 0 9 0 10 0 9 0 10 0 9 0 9 0 10 0 9 0 10 0 9 0 10 0 9 0 9 0 10 0 9 0 10 0 9 0 10 0 9 0 9 0 10 0 9 0 10 0 9 0 9 0 10 0 9 0 10 0 9 0 10 0 9 0 9 0 10 0 9 0 10 0 9 0 9 0 10 0 9 0 10 0 9 0 10 0 9 0 9 0 10 0 9 0 10 0 9 0 10 0 9 0 9 0 10 0 9 0 10 0 9 0 9 0 10 0 9 0 10 0 9 0 10 0 9 0 9 0 10 0 9 0 10 0 9 0 9 0 10 0 9 0 10 0 9 0 10 0 9 0 9 0 10 0 9 0 10 0 9 0 9 0 10 0 9 0 10 0 9 0 10 0 9 0 9 0 10 0 9 0 10 0 9 0 10 0 9 0 9 0 10 0 9 0 10 0 9 0 9 0 10 0 9 0 10 0 9 0 10 0 9 0 9 0 10 0 9 0 10 0 9 0 9 0 10 0 9 0 10 0 9 0 10 0 9 0 9 0 10 0 9 0 10 0 9 0 10 0 9 0 9 0 10 0 9 0 10 0 9 0 9 0 10 0 9 0 10 0 9 0 10 0 9 0 9 0 10 0 9 0 10 0 9 0 9 0 10 0 9 0 10 0 9 0 10 0 9 0 9 0 10 0 9 0 10 0 9 0 10 0 9 0 9 0 10 0 9 0 10 0 9 0 9 0 10 0 9 0 10 0 9 0 10 0 9 0 9 0 10 0 9 0 10 0 9 0 9 0 10 0 9 0 10 0 9 0 10 0 9 0 9 0 10 0 9 0 10 0 9 0 9 0 10 0 9 0 10 0 9 0 10 0 9 0 9 0 10 0 9 0 10 0 9 0" stroke="#6699CC" stroke-width="33.0" fill="none" stroke-linejoin="round" transform="scale(.1)"/>
<path d="M2870 17820l9 0 9 0 10 0 9-1 10 0 9-1 9-1 10-2 9-2 10-2 9-4 10-3 9-4 9-3 10-3 9-3 10-3 9-2 9-1 10-1 9-1 10-1 9 0 10 0 9-1 9 0 10 0 9 0 10 0 9 0 10 0 9 0 9 1 10 0 9 0 10 1 9 1 9 2 10 2 9 2 10 3 9 3 10 4 9 3 9 3 10 4 9 2 10 2 9 2 9 1 10 1 9 0 10 0 9 0 10 0 9 0 9 0 10 0 9-1 10 0 9 0 9 0 10 0 9 0 10-1 9 0 10 0 9 0 9-1 10 0 9 0 10-1 9 0 10 0 9-1 9 0 10-1 9 0 10-1 9 0 9-1 10 0 9-1 10-1 9-1 10-1 9 0 9-1 10-1 9-1 10-2 9-1 9-1 10-1 9-2 10-1 9-2 10-2 9-2 9-2 10-2 9-2 10-2 9-3 10-3 9-2 9-4 10-3 9-3 10-4 9-4 9-5 10-5 9-5 10-6 9-6 10-7 9-8 9-8 10-9 9-11 10-11 9-13 9-15 10-16 9-19 10-21 9-24 10-28 9-33 9-38 10-44 9-52 10-61 9-73 10-86 9-101 9-118 10-135 9-151 10-160 9-156 9-134 10-89 9-25 10 45 9 103 10 141 9 158 9 157 10 146 9 129 10 111 9 95 9 80 10 67 9 57 10 48 9 40 10 35 9 29 9 25 10 21 9 18 10 16 9 13 9 12 10 10 9 8 10 7 9 7 10 5 9 5 9 3 10 4 9 2 10 2 9 2 10 2 9 1 9 1 10 0 9 1 10 0 9 0 9 0 10 0 9 0 10 0 9 0 10 0 9 0 9 1 10 0 9 0 10 1 9 0 9 1 10 1 9 1 10 1 9 1 10 1 9 2 9 2 10 2 9 2 10 2 9 2 10 3 9 2 9 3 10 2 9 3 10 3 9 3 9 3 10 3 9 3 10 3 9 4 10 3 9 3 9 3 10 3 9 3 10 3 9 3 9 2 10 3 9 3 10 2 9 3 10 2 9 2 9 2 10 2 9 2 10 2 9 1 9 2 10 1 9 2 10 1 9 1 10 1 9 1 9 0 10 1 9 1 10 0 9 1 10 0 9 0 9 0 10 0 9 0 10 0 9 0 9 0 10 0 9-1 10 0 9 0 10-1 9 0 9-1 10-1 9 0 10-1 9-1 9 0 10-1 9-1 10-1 9 0 10-1 9-1 9-1 10-1 9-1 10-1 9-1 10-1 9-1 9-1 10-1 9-1 10-1 9-1 9-1 10-1 9-1 10-1 9-1 10-2 9-1 9-1 10-1 9-1 10-1 9-1 9-1 10-1 9-1 10-1 9-1 10-1 9-1 9-1 10-1 9-1 10-1 9-1 10 0 9-1 9-1 10-1 9-1 10 0 9-1 9-1 10 0 9-1 10 0 9-1 10 0 9-1 9 0 10 0 9-1 10 0 9 0 9 0 10 0 9 0 10 0 9 0 10 0 9 0 9 0 10 0 9 0 10 0 9 1 9 0 10 0 9 1 10 0 9 1 10 0 9 1 9 0 10 1 9 1 10 0 9 1 10 1 9 1 9 1 10 0 9 1 10 1 9 1 9 1 10 1 9 1 10 1 9 1 10 1 9 1 9 1 10 1 9 1 10 1 9 1 9 1 10 1 9 2 10 1 9 1 10 1 9 1 9 1 10 1 9 1 10 1 9 1 10 1 9 1 9 1 10 1 9 1 10 1 9 1 9 1 10 1 9 1 10 1 9 1 10 1 9 1 9 1 10 0 9 1 10 1 9 1 9 0 10 1 9 1 10 0 9 1 10 1 9 0 9 1 10 1 9 0 10 1 9 0 10 1 9 0 9 1 10 0 9 0 10 1 9 0 9 0 10 1 9 0 10 0 9 0 10 1 9 0 9 0 10 0 9 0 10 1 9 0 9 0 10 0 9 0 10 0 9 0 10 0 9 0 9 0 10 0 9 0 10 0 9 0 9 0 10-1 9 0 10 0 9 0 10 0 9 0 9 0 10-1 9 0 10 0 9 0 10 0 9-1 9 0 10 0 9 0 10 0 9-1 9 0 10 0 9 0 10-1 9 0 10 0 9 0 9 0 10-1 9 0 10 0 9 0 9 0 10-1 9 0 10 0 9 0 10 0 9 0 9 0 10 0 9 0 10 0 9 0 10 0 9 0 9 0 10 0 9 0 10 0 9 0 9 0 10 0 9 0 10 0 9 0 10 1 9 0 9 0 10 0 9 0 10 0 9 1 9 0 10 0 9 0 10 1 9 0 10 0 9 0 9 1 10 0 9 0 10 0 9 1 9 0 10 0 9 1 10 0 9 0 10 0 9 1 9 0 10 0 9 1 10 0 9 0 10 0 9 1 9 0 10 0 9 0 10 0 9 1 9 0 10 0 9 0 10 0 9 1 10 0 9 0 9 0 10 0 9 1 10 0 9 0 9 0 10 0 9 0 10 0 9 0 10 1 9 0 9 0 10 0 9 0 10 0 9 0 10 0 9 0 9 0 10 0 9 0 10 0 9 0 9 0 10 1 9 0 10 0 9 0 10 0 9 0 9 0 10 0 9 0 10 0 9 0 9 0 10 0 9 0 10 0 9 0 10 0 9 0 9 0 10 0 9 0 10 0 9 0 10 0 9 0 9 0 10 0 9 0 10 0 9 0 9 0 10 0 9 0 10 0 9 0 10 0 9 0 9 0 10 0 9 0 10 0 9 0 9 0 10 0 9 0 10 0 9 0 10 0 9 0 9 0 10 0 9 0 10 0 9 0 9 0 10 0 9 0 10 0 9 0 10 0 9 0 9 0 10 0 9 0 10 0 9 0 10 0 9 0 9 0 10 0 9 0 10 0 9 0 9 0 10 0 9 0 10 0 9 0 10 0 9 0 9 0 10 0 9 0 10 0 9 0 9 0 10 0 9 0 10 0 9 0 10 0 9 0 9 0 10 0 9 0 10 0 9 0 10 0 9 0 9 0 10 0 9 0 10 0 9 0 9 0 10 0 9 0 10 0 9 0 10 0 9 0 9 0 10 0 9 0 10 0 9 0 9 0 10 0 9 0 10 0 9 0 10 0 9 0 9 0 10 0 9 0 10 0 9 0 9 0 10 0 9 0 10 0 9 0 10 0 9 0 9 0 10 0 9 0 10 0 9 0 10 0 9 0 9 0 10 0 9 0 10 0 9 0 9 0 10 0 9 0 10 0 9 0 10 0 9 0 9 0 10 0 9 0 10 0 9 0 9 0 10 0 9 0 10 0 9 0 10 0 9 0 9 0 10 0 9 0 10 0 9 0 10 0 9 0 9 0 10 0 9 0 10 0 9 0 9 0 10 0 9 0 10 0 9 0 10 0 9 0 9 0 10 0 9 0 10 0 9 0 9 0 10 0 9 0 10 0 9 0 10 0 9 0 9 0 10 0 9 0 10 0 9 0 10 0 9 0 9 0 10 0 9 0 10 0 9 0 9 0 10 0 9 0 10 0 9 0 10 0 9 0 9 0 10 0 9 0 10 0 9 0 9 0 10 0 9 0 10 0 9 0 10 0 9 0 9 0 10 0 9 0 10 0 9 0 9 0 10 0 9 0 10 0 9 0 10 0 9 0 9 0 10 0 9 0 10 0 9 0" stroke="#6FB802" stroke-width="33.0" fill="none" stroke-linejoin="round" transform="scale(.1)"/>
<path d="M2870 17820l9 0 9 0 10 0 9 0 10 0 9-1 9 0 10-1 9-1 10-1 9-1 10-1 9-1 9-2 10-1 9-1 10-1 9-1 9 0 10-1 9 0 10 0 9 0 10 0 9 0 9 0 10 0 9 0 10-1 9 0 10 0 9 1 9 0 10 0 9 0 10 0 9 1 9 0 10 1 9 1 10 1 9 1 10 1 9 2 9 1 10 1 9 1 10 1 9 0 9 1 10 0 9 0 10 0 9 0 10 0 9 0 9 0 10 0 9 0 10 0 9 0 9 0 10 0 9 0 10 0 9 0 10 0 9 0 9-1 10 0 9 0 10 0 9 0 10 0 9 0 9 0 10-1 9 0 10 0 9 0 9 0 10-1 9 0 10 0 9 0 10-1 9 0 9 0 10-1 9 0 10 0 9-1 9 0 10-1 9 0 10-1 9 0 10-1 9-1 9 0 10-1 9-1 10-1 9 0 10-1 9-1 9-1 10-2 9-1 10-1 9-2 9-1 10-2 9-2 10-2 9-2 10-2 9-3 9-3 10-3 9-4 10-4 9-4 9-5 10-6 9-6 10-8 9-8 10-10 9-11 9-14 10-15 9-18 10-22 9-25 10-30 9-35 9-41 10-47 9-53 10-55 9-53 9-45 10-28 9-7 10 17 9 37 10 49 9 54 9 53 10 49 9 43 10 37 9 31 9 26 10 22 9 19 10 15 9 13 10 10 9 9 9 8 10 6 9 5 10 4 9 4 9 2 10 3 9 1 10 1 9 1 10 1 9 0 9 0 10-1 9 0 10-1 9-1 10-1 9-1 9-1 10-1 9-1 10-1 9-2 9-1 10-1 9-1 10-1 9-1 10-1 9-1 9-1 10 0 9-1 10 0 9 0 9 0 10 0 9 0 10 1 9 0 10 1 9 1 9 1 10 1 9 2 10 1 9 2 10 2 9 1 9 2 10 3 9 2 10 2 9 2 9 3 10 2 9 3 10 2 9 3 10 2 9 3 9 2 10 3 9 2 10 2 9 3 9 2 10 2 9 3 10 2 9 2 10 2 9 2 9 2 10 1 9 2 10 2 9 1 9 2 10 1 9 1 10 1 9 1 10 1 9 1 9 1 10 1 9 1 10 1 9 0 10 1 9 0 9 1 10 0 9 1 10 0 9 0 9 0 10 1 9 0 10 0 9 0 10 0 9 0 9 0 10 0 9 0 10 0 9 0 9 0 10 0 9 0 10 0 9 0 10 0 9 0 9 0 10 0 9 0 10 0 9 0 10 0 9-1 9 0 10 0 9 0 10 0 9 0 9 0 10 0 9-1 10 0 9 0 10 0 9 0 9 0 10 0 9-1 10 0 9 0 9 0 10 0 9 0 10 0 9 0 10-1 9 0 9 0 10 0 9 0 10 0 9 0 10 0 9 0 9-1 10 0 9 0 10 0 9 0 9 0 10 0 9 0 10 0 9 0 10 0 9 0 9 0 10 0 9 0 10 0 9-1 9 0 10 0 9 0 10 0 9 0 10 0 9 0 9 0 10 0 9 1 10 0 9 0 9 0 10 0 9 0 10 0 9 0 10 0 9 0 9 0 10 0 9 0 10 0 9 0 10 0 9 1 9 0 10 0 9 0 10 0 9 0 9 0 10 0 9 0 10 1 9 0 10 0 9 0 9 0 10 0 9 0 10 1 9 0 9 0 10 0 9 0 10 0 9 0 10 0 9 1 9 0 10 0 9 0 10 0 9 0 10 0 9 0 9 1 10 0 9 0 10 0 9 0 9 0 10 0 9 0 10 1 9 0 10 0 9 0 9 0 10 0 9 0 10 0 9 0 9 0 10 0 9 0 10 0 9 1 10 0 9 0 9 0 10 0 9 0 10 0 9 0 10 0 9 0 9 0 10 0 9 0 10 0 9 0 9 0 10 0 9 0 10 0 9-1 10 0 9 0 9 0 10 0 9 0 10 0 9 0 9 0 10 0 9-1 10 0 9 0 10 0 9 0 9 0 10-1 9 0 10 0 9 0 9-1 10 0 9 0 10 0 9 0 10-1 9 0 9 0 10 0 9-1 10 0 9 0 10-1 9 0 9 0 10 0 9-1 10 0 9 0 9 0 10-1 9 0 10 0 9 0 10-1 9 0 9 0 10 0 9-1 10 0 9 0 9 0 10 0 9 0 10-1 9 0 10 0 9 0 9 0 10 0 9 0 10 0 9 0 10 0 9 0 9 0 10 0 9 0 10 0 9 0 9 0 10 0 9 0 10 0 9 0 10 1 9 0 9 0 10 0 9 0 10 0 9 1 9 0 10 0 9 0 10 1 9 0 10 0 9 0 9 1 10 0 9 0 10 0 9 1 9 0 10 0 9 1 10 0 9 0 10 0 9 1 9 0 10 0 9 1 10 0 9 0 10 0 9 1 9 0 10 0 9 0 10 0 9 1 9 0 10 0 9 0 10 0 9 1 10 0 9 0 9 0 10 0 9 1 10 0 9 0 9 0 10 0 9 0 10 0 9 0 10 1 9 0 9 0 10 0 9 0 10 0 9 0 10 0 9 0 9 0 10 0 9 0 10 0 9 0 9 0 10 1 9 0 10 0 9 0 10 0 9 0 9 0 10 0 9 0 10 0 9 0 9 0 10 0 9 0 10 0 9 0 10 0 9 0 9 0 10 0 9 0 10 0 9 0 10 0 9 0 9 0 10 0 9 0 10 0 9 0 9 0 10 0 9 0 10 0 9 0 10 0 9 0 9 0 10 0 9 0 10 0 9 0 9 0 10 0 9 0 10 0 9 0 10 0 9 0 9 0 10 0 9 0 10 0 9 0 9 0 10 0 9 0 10 0 9 0 10 0 9 0 9 0 10 0 9 0 10 0 9 0 10 0 9 0 9 0 10 0 9 0 10 0 9 0 9 0 10 0 9 0 10 0 9 0 10 0 9 0 9 0 10 0 9 0 10 0 9 0 9 0 10 0 9 0 10 0 9 0 10 0 9 0 9 0 10 0 9 0 10 0 9 0 10 0 9 0 9 0 10 0 9 0 10 0 9 0 9 0 10 0 9 0 10 0 9 0 10 0 9 0 9 0 10 0 9 0 10 0 9 0 9 0 10 0 9 0 10 0 9 0 10 0 9 0 9 0 10 0 9 0 10 0 9 0 9 0 10 0 9 0 10 0 9 0 10 0 9 0 9 0 10 0 9 0 10 0 9 0 10 0 9 0 9 0 10 0 9 0 10 0 9 0 9 0 10 0 9 0 10 0 9 0 10 0 9 0 9 0 10 0 9 0 10 0 9 0 9 0 10 0 9 0 10 0 9 0 10 0 9 0 9 0 10 0 9 0 10 0 9 0 10 0 9 0 9 0 10 0 9 0 10 0 9 0 9 0 10 0 9 0 10 0 9 0 10 0 9 0 9 0 10 0 9 0 10 0 9 0 9 0 10 0 9 0 10 0 9 0 10 0 9 0 9 0 10 0 9 0 10 0 9 0 10 0 9 0 9 0 10 0 9 0 10 0 9 0 9 0 10 0 9 0 10 0 9 0 10 0 9 0 9 0 10 0 9 0 10 0 9 0 9 0 10 0 9 0 10 0 9 0 10 0 9 0 9 0 10 0 9 0 10 0 9 0 9 0 10 0 9 0 10 0 9 0 10 0 9 0 9 0 10 0 9 0 10 0 9 0" stroke="#515151" stroke-width="33.0" fill="none" stroke-linejoin="round" transform="scale(.1)"/>
<path d="M2870 17820l9 0 9 0 10-1 9 0 10 0 9-1 9-1 10-1 9-1 10-3 9-2 10-2 9-3 9-3 10-2 9-2 10-2 9-2 9-1 10-1 9-1 10 0 9 0 10-1 9 0 9 0 10 0 9 0 10 0 9 0 10 0 9 0 9 0 10 0 9 0 10 1 9 1 9 1 10 1 9 2 10 2 9 2 10 3 9 2 9 3 10 2 9 2 10 1 9 1 9 1 10 0 9 0 10 0 9 0 10-1 9 0 9 0 10-1 9 0 10-1 9 0 9 0 10-1 9-1 10 0 9-1 10-1 9 0 9-1 10-1 9-1 10-1 9-1 10-1 9-1 9-1 10-2 9-1 10-1 9-2 9-2 10-2 9-2 10-2 9-2 10-2 9-3 9-2 10-3 9-3 10-3 9-3 9-4 10-4 9-4 10-4 9-4 10-5 9-5 9-6 10-5 9-6 10-7 9-7 10-7 9-8 9-8 10-9 9-10 10-10 9-11 9-12 10-13 9-14 10-16 9-16 10-18 9-20 9-22 10-24 9-26 10-29 9-32 9-36 10-40 9-44 10-50 9-56 10-62 9-71 9-79 10-89 9-99 10-111 9-122 10-132 9-141 9-147 10-146 9-139 10-122 9-94 9-57 10-15 9 31 10 72 9 105 10 129 9 141 9 146 10 144 9 137 10 126 9 116 9 104 10 94 9 83 10 73 9 66 10 58 9 51 9 45 10 40 9 36 10 32 9 28 9 25 10 22 9 20 10 18 9 16 10 14 9 13 9 12 10 10 9 9 10 9 9 7 10 7 9 6 9 5 10 5 9 5 10 4 9 3 9 4 10 3 9 3 10 3 9 2 10 3 9 2 9 3 10 2 9 2 10 3 9 2 9 2 10 3 9 3 10 2 9 3 10 3 9 3 9 3 10 3 9 3 10 4 9 3 10 4 9 4 9 3 10 4 9 4 10 4 9 4 9 4 10 4 9 4 10 4 9 4 10 4 9 4 9 4 10 4 9 3 10 4 9 4 9 3 10 4 9 3 10 3 9 3 10 3 9 3 9 3 10 2 9 3 10 2 9 2 9 2 10 2 9 2 10 2 9 2 10 1 9 2 9 1 10 1 9 1 10 1 9 1 10 1 9 1 9 0 10 1 9 0 10 1 9 0 9 1 10 0 9 0 10 0 9 0 10 1 9 0 9 0 10 0 9 0 10 0 9 0 9 0 10 0 9 0 10-1 9 0 10 0 9 0 9 0 10 0 9-1 10 0 9 0 10 0 9 0 9-1 10 0 9 0 10 0 9-1 9 0 10 0 9 0 10-1 9 0 10 0 9 0 9-1 10 0 9 0 10 0 9-1 9 0 10 0 9 0 10-1 9 0 10 0 9 0 9-1 10 0 9 0 10 0 9-1 10 0 9 0 9 0 10 0 9-1 10 0 9 0 9 0 10 0 9 0 10 0 9-1 10 0 9 0 9 0 10 0 9 0 10 0 9 0 9 0 10 0 9 0 10 0 9 0 10 0 9 0 9 0 10 0 9 0 10 0 9 0 9 0 10 0 9 0 10 1 9 0 10 0 9 0 9 0 10 0 9 0 10 1 9 0 10 0 9 0 9 0 10 1 9 0 10 0 9 0 9 0 10 1 9 0 10 0 9 0 10 1 9 0 9 0 10 0 9 1 10 0 9 0 9 1 10 0 9 0 10 0 9 1 10 0 9 0 9 0 10 1 9 0 10 0 9 0 10 1 9 0 9 0 10 0 9 1 10 0 9 0 9 0 10 1 9 0 10 0 9 0 10 0 9 1 9 0 10 0 9 0 10 0 9 0 9 1 10 0 9 0 10 0 9 0 10 0 9 0 9 0 10 0 9 0 10 0 9 0 10 0 9 0 9 0 10 0 9 0 10 0 9 0 9 0 10 0 9 0 10-1 9 0 10 0 9 0 9 0 10-1 9 0 10 0 9 0 9-1 10 0 9 0 10-1 9 0 10 0 9-1 9 0 10-1 9 0 10-1 9 0 9-1 10 0 9-1 10 0 9-1 10-1 9 0 9-1 10 0 9-1 10-1 9 0 10-1 9-1 9 0 10-1 9 0 10-1 9-1 9 0 10-1 9-1 10 0 9-1 10 0 9-1 9 0 10-1 9 0 10-1 9 0 9-1 10 0 9 0 10-1 9 0 10 0 9-1 9 0 10 0 9 0 10 0 9 0 10 0 9 0 9 0 10 0 9 0 10 0 9 0 9 0 10 0 9 1 10 0 9 0 10 1 9 0 9 0 10 1 9 0 10 1 9 0 9 1 10 0 9 1 10 0 9 1 10 1 9 0 9 1 10 0 9 1 10 1 9 0 9 1 10 1 9 0 10 1 9 1 10 0 9 1 9 1 10 0 9 1 10 0 9 1 10 1 9 0 9 1 10 0 9 1 10 0 9 1 9 0 10 1 9 0 10 1 9 0 10 1 9 0 9 0 10 1 9 0 10 1 9 0 9 0 10 0 9 1 10 0 9 0 10 1 9 0 9 0 10 0 9 0 10 1 9 0 10 0 9 0 9 0 10 0 9 0 10 1 9 0 9 0 10 0 9 0 10 0 9 0 10 0 9 0 9 0 10 0 9 0 10 1 9 0 9 0 10 0 9 0 10 0 9 0 10 0 9 0 9 0 10 0 9 0 10 0 9 0 10 0 9 0 9 0 10 0 9 0 10 0 9 0 9 0 10 0 9 0 10 0 9 0 10 0 9 0 9 0 10 0 9 0 10 0 9 0 9 0 10 0 9 0 10 0 9 0 10 0 9 0 9 0 10 0 9 0 10 0 9 0 9 0 10 0 9 0 10 0 9 0 10 0 9 0 9 0 10 0 9 0 10 0 9 0 10 0 9 0 9 0 10 0 9 0 10 0 9 0 9 0 10 0 9 0 10 0 9 0 10 0 9 0 9 0 10 0 9 0 10 0 9 0 9 0 10 0 9 0 10 0 9 0 10 0 9 0 9 0 10 0 9 0 10 0 9 0 10 0 9 0 9 0 10 0 9 0 10 0 9 0 9 0 10 0 9 0 10 0 9 0 10 0 9 0 9 0 10 0 9 0 10 0 9 0 9 0 10 0 9 0 10 0 9 0 10 0 9 0 9 0 10 0 9 0 10 0 9 0 9 0 10 0 9 0 10 0 9 0 10 0 9 0 9 0 10 0 9 0 10 0 9 0 10 0 9 0 9 0 10 0 9 0 10 0 9 0 9 0 10 0 9 0 10 0 9 0 10 0 9 0 9 0 10 0 9 0 10 0 9 0 9 0 10 0 9 0 10 0 9 0 10 0 9 0 9 0 10 0 9 0 10 0 9 0 10 0 9 0 9 0 10 0 9 0 10 0 9 0 9 0 10 0 9 0 10 0 9 0 10 0 9 0 9 0 10 0 9 0 10 0 9 0 9 0 10 0 9 0 10 0 9 0 10 0 9 0 9 0 10 0 9 0 10 0 9 0 10 0 9 0 9 0 10 0 9 0 10 0 9 0 9 0 10 0 9 0 10 0 9 0 10 0 9 0 9 0 10 0 9 0 10 0 9 0 9 0 10 0 9 0 10 0 9 0 10 0 9 0 9 0 10 0 9 0 10 0 9 0 9 0 10 0 9 0 10 0 9 0 10 0 9 0 9 0 10 0 9 0 10 0 9 0" stroke="#F14040" stroke-width="33.0" fill="none" stroke-linejoin="round" transform="scale(.1)"/>
<path d="M2870 17820l9 0 9 0 10 0 9 0 10 0 9 0 9-1 10 0 9-1 10 0 9-1 10-1 9-1 9-1 10-1 9 0 10-1 9 0 9-1 10 0 9 0 10 0 9-1 10 0 9 0 9 0 10 0 9 0 10 0 9 0 10 0 9 0 9 0 10 1 9 0 10 0 9 0 9 1 10 0 9 1 10 0 9 1 10 1 9 1 9 1 10 1 9 0 10 1 9 0 9 0 10 1 9 0 10 0 9 0 10 0 9 0 9 0 10 0 9 0 10 0 9 0 9 0 10 0 9 0 10-1 9 0 10 0 9 0 9 0 10 0 9 0 10 0 9 0 10 0 9 0 9 0 10 0 9 0 10 0 9 0 9 0 10 0 9-1 10 0 9 0 10 0 9 0 9 0 10 0 9 0 10-1 9 0 9 0 10 0 9 0 10-1 9 0 10 0 9 0 9-1 10 0 9 0 10 0 9-1 10 0 9-1 9 0 10-1 9 0 10-1 9 0 9-1 10 0 9-1 10-1 9-1 10-1 9-1 9-1 10-2 9-1 10-2 9-1 9-3 10-2 9-3 10-3 9-3 10-4 9-5 9-5 10-7 9-8 10-9 9-11 10-13 9-17 9-20 10-24 9-28 10-33 9-37 9-36 10-31 9-18 10-1 9 17 10 30 9 36 9 35 10 32 9 28 10 23 9 18 9 15 10 13 9 9 10 8 9 7 10 5 9 4 9 3 10 2 9 2 10 1 9 1 9 0 10 1 9-1 10 0 9-1 10-1 9-1 9-1 10-1 9-2 10-1 9-2 10-1 9-2 9-2 10-1 9-2 10-2 9-1 9-2 10-2 9-1 10-1 9-2 10-1 9-1 9-1 10-1 9 0 10-1 9 0 9-1 10 0 9 0 10 1 9 0 10 1 9 0 9 1 10 1 9 1 10 2 9 1 10 2 9 1 9 2 10 2 9 2 10 2 9 2 9 2 10 3 9 2 10 2 9 2 10 3 9 2 9 2 10 3 9 2 10 2 9 3 9 2 10 2 9 2 10 2 9 2 10 2 9 2 9 1 10 2 9 1 10 2 9 1 9 2 10 1 9 1 10 1 9 1 10 1 9 1 9 1 10 1 9 0 10 1 9 1 10 0 9 1 9 0 10 1 9 0 10 0 9 0 9 1 10 0 9 0 10 0 9 0 10 0 9 0 9 1 10 0 9 0 10 0 9 0 9 0 10-1 9 0 10 0 9 0 10 0 9 0 9 0 10 0 9 0 10 0 9 0 10 0 9-1 9 0 10 0 9 0 10 0 9 0 9 0 10 0 9-1 10 0 9 0 10 0 9 0 9 0 10 0 9 0 10-1 9 0 9 0 10 0 9 0 10 0 9 0 10-1 9 0 9 0 10 0 9 0 10 0 9 0 10 0 9 0 9-1 10 0 9 0 10 0 9 0 9 0 10 0 9 0 10 0 9 0 10 0 9 0 9 0 10 0 9 0 10 0 9-1 9 0 10 0 9 0 10 0 9 0 10 0 9 0 9 0 10 0 9 1 10 0 9 0 9 0 10 0 9 0 10 0 9 0 10 0 9 0 9 0 10 0 9 0 10 0 9 0 10 0 9 1 9 0 10 0 9 0 10 0 9 0 9 0 10 0 9 0 10 1 9 0 10 0 9 0 9 0 10 0 9 0 10 1 9 0 9 0 10 0 9 0 10 0 9 0 10 0 9 1 9 0 10 0 9 0 10 0 9 0 10 0 9 0 9 1 10 0 9 0 10 0 9 0 9 0 10 0 9 0 10 1 9 0 10 0 9 0 9 0 10 0 9 0 10 0 9 0 9 0 10 0 9 0 10 0 9 1 10 0 9 0 9 0 10 0 9 0 10 0 9 0 10 0 9 0 9 0 10 0 9 0 10 0 9 0 9 0 10 0 9 0 10 0 9-1 10 0 9 0 9 0 10 0 9 0 10 0 9 0 9 0 10 0 9-1 10 0 9 0 10 0 9 0 9 0 10-1 9 0 10 0 9 0 9-1 10 0 9 0 10 0 9 0 10-1 9 0 9 0 10 0 9-1 10 0 9 0 10-1 9 0 9 0 10 0 9-1 10 0 9 0 9 0 10-1 9 0 10 0 9 0 10-1 9 0 9 0 10 0 9-1 10 0 9 0 9 0 10 0 9 0 10-1 9 0 10 0 9 0 9 0 10 0 9 0 10 0 9 0 10 0 9 0 9 0 10 0 9 0 10 0 9 0 9 0 10 0 9 0 10 0 9 0 10 1 9 0 9 0 10 0 9 0 10 0 9 1 9 0 10 0 9 0 10 1 9 0 10 0 9 0 9 1 10 0 9 0 10 0 9 1 9 0 10 0 9 1 10 0 9 0 10 0 9 1 9 0 10 0 9 1 10 0 9 0 10 0 9 1 9 0 10 0 9 0 10 0 9 1 9 0 10 0 9 0 10 0 9 1 10 0 9 0 9 0 10 0 9 1 10 0 9 0 9 0 10 0 9 0 10 0 9 0 10 1 9 0 9 0 10 0 9 0 10 0 9 0 10 0 9 0 9 0 10 0 9 0 10 0 9 0 9 0 10 1 9 0 10 0 9 0 10 0 9 0 9 0 10 0 9 0 10 0 9 0 9 0 10 0 9 0 10 0 9 0 10 0 9 0 9 0 10 0 9 0 10 0 9 0 10 0 9 0 9 0 10 0 9 0 10 0 9 0 9 0 10 0 9 0 10 0 9 0 10 0 9 0 9 0 10 0 9 0 10 0 9 0 9 0 10 0 9 0 10 0 9 0 10 0 9 0 9 0 10 0 9 0 10 0 9 0 9 0 10 0 9 0 10 0 9 0 10 0 9 0 9 0 10 0 9 0 10 0 9 0 10 0 9 0 9 0 10 0 9 0 10 0 9 0 9 0 10 0 9 0 10 0 9 0 10 0 9 0 9 0 10 0 9 0 10 0 9 0 9 0 10 0 9 0 10 0 9 0 10 0 9 0 9 0 10 0 9 0 10 0 9 0 10 0 9 0 9 0 10 0 9 0 10 0 9 0 9 0 10 0 9 0 10 0 9 0 10 0 9 0 9 0 10 0 9 0 10 0 9 0 9 0 10 0 9 0 10 0 9 0 10 0 9 0 9 0 10 0 9 0 10 0 9 0 9 0 10 0 9 0 10 0 9 0 10 0 9 0 9 0 10 0 9 0 10 0 9 0 10 0 9 0 9 0 10 0 9 0 10 0 9 0 9 0 10 0 9 0 10 0 9 0 10 0 9 0 9 0 10 0 9 0 10 0 9 0 9 0 10 0 9 0 10 0 9 0 10 0 9 0 9 0 10 0 9 0 10 0 9 0 10 0 9 0 9 0 10 0 9 0 10 0 9 0 9 0 10 0 9 0 10 0 9 0 10 0 9 0 9 0 10 0 9 0 10 0 9 0 9 0 10 0 9 0 10 0 9 0 10 0 9 0 9 0 10 0 9 0 10 0 9 0 10 0 9 0 9 0 10 0 9 0 10 0 9 0 9 0 10 0 9 0 10 0 9 0 10 0 9 0 9 0 10 0 9 0 10 0 9 0 9 0 10 0 9 0 10 0 9 0 10 0 9 0 9 0 10 0 9 0 10 0 9 0 9 0 10 0 9 0 10 0 9 0 10 0 9 0 9 0 10 0 9 0 10 0 9 0" stroke="#6699CC" stroke-width="33.0" fill="none" stroke-linejoin="round" transform="scale(.1)"/>
<path d="M2870 17820l9 0 9 0 10 0 9 0 10 0 9 0 9-1 10 0 9 0 10-1 9 0 10-1 9-1 9 0 10-1 9 0 10-1 9 0 9-1 10 0 9 0 10 0 9 0 10 0 9 0 9 0 10 0 9 0 10 0 9 0 10 0 9 0 9 0 10 0 9 0 10 0 9 0 9 1 10 0 9 1 10 0 9 1 10 0 9 1 9 1 10 0 9 1 10 0 9 0 9 1 10 0 9 0 10 0 9 0 10 0 9 0 9 0 10 0 9 0 10 0 9 0 9 0 10 0 9 0 10 0 9 0 10 0 9 0 9 0 10 0 9 0 10 0 9 0 10 0 9 0 9 0 10 0 9 0 10 0 9 0 9 0 10 0 9 0 10 0 9 0 10-1 9 0 9 0 10 0 9 0 10 0 9 0 9 0 10 0 9 0 10 0 9 0 10 0 9 0 9 0 10 0 9 0 10-1 9 0 10 0 9 0 9 0 10 0 9 0 10 0 9-1 9 0 10 0 9 0 10 0 9-1 10 0 9 0 9-1 10 0 9 0 10-1 9 0 9-1 10-1 9 0 10-1 9-1 10-1 9-2 9-1 10-2 9-2 10-3 9-3 10-4 9-5 9-6 10-8 9-10 10-13 9-15 9-17 10-19 9-16 10-8 9 2 10 12 9 18 9 18 10 16 9 13 10 10 9 9 9 6 10 5 9 4 10 3 9 2 10 1 9 2 9 1 10 0 9 1 10 0 9 0 9 0 10-1 9 0 10-1 9 0 10-1 9-1 9 0 10-1 9-1 10-1 9-1 10-1 9-1 9-1 10-1 9-1 10-1 9 0 9-1 10-1 9-1 10-1 9 0 10-1 9-1 9 0 10-1 9 0 10 0 9-1 9 0 10 0 9 0 10 0 9 0 10 1 9 0 9 0 10 1 9 0 10 1 9 1 10 1 9 0 9 1 10 1 9 1 10 1 9 1 9 1 10 1 9 1 10 2 9 1 10 1 9 1 9 1 10 1 9 1 10 2 9 1 9 1 10 1 9 1 10 1 9 1 10 1 9 1 9 0 10 1 9 1 10 1 9 0 9 1 10 1 9 0 10 1 9 0 10 1 9 0 9 0 10 1 9 0 10 0 9 1 10 0 9 0 9 0 10 1 9 0 10 0 9 0 9 0 10 0 9 0 10 0 9 0 10 0 9 0 9 0 10 0 9 0 10 0 9 0 9 0 10 0 9 0 10 0 9-1 10 0 9 0 9 0 10 0 9 0 10 0 9 0 10 0 9 0 9-1 10 0 9 0 10 0 9 0 9 0 10 0 9-1 10 0 9 0 10 0 9 0 9 0 10 0 9 0 10-1 9 0 9 0 10 0 9 0 10 0 9 0 10-1 9 0 9 0 10 0 9 0 10 0 9 0 10 0 9 0 9-1 10 0 9 0 10 0 9 0 9 0 10 0 9 0 10 0 9 0 10 0 9 0 9 0 10 0 9 0 10 0 9-1 9 0 10 0 9 0 10 0 9 0 10 0 9 0 9 0 10 0 9 1 10 0 9 0 9 0 10 0 9 0 10 0 9 0 10 0 9 0 9 0 10 0 9 0 10 0 9 0 10 0 9 1 9 0 10 0 9 0 10 0 9 0 9 0 10 0 9 0 10 1 9 0 10 0 9 0 9 0 10 0 9 0 10 1 9 0 9 0 10 0 9 0 10 0 9 0 10 0 9 1 9 0 10 0 9 0 10 0 9 0 10 0 9 0 9 1 10 0 9 0 10 0 9 0 9 0 10 0 9 0 10 1 9 0 10 0 9 0 9 0 10 0 9 0 10 0 9 0 9 0 10 0 9 0 10 0 9 1 10 0 9 0 9 0 10 0 9 0 10 0 9 0 10 0 9 0 9 0 10 0 9 0 10 0 9 0 9 0 10 0 9 0 10 0 9-1 10 0 9 0 9 0 10 0 9 0 10 0 9 0 9 0 10 0 9-1 10 0 9 0 10 0 9 0 9 0 10-1 9 0 10 0 9 0 9-1 10 0 9 0 10 0 9 0 10-1 9 0 9 0 10 0 9-1 10 0 9 0 10-1 9 0 9 0 10 0 9-1 10 0 9 0 9 0 10-1 9 0 10 0 9 0 10-1 9 0 9 0 10 0 9-1 10 0 9 0 9 0 10 0 9 0 10-1 9 0 10 0 9 0 9 0 10 0 9 0 10 0 9 0 10 0 9 0 9 0 10 0 9 0 10 0 9 0 9 0 10 0 9 0 10 0 9 0 10 1 9 0 9 0 10 0 9 0 10 0 9 1 9 0 10 0 9 0 10 1 9 0 10 0 9 0 9 1 10 0 9 0 10 0 9 1 9 0 10 0 9 1 10 0 9 0 10 0 9 1 9 0 10 0 9 1 10 0 9 0 10 0 9 1 9 0 10 0 9 0 10 0 9 1 9 0 10 0 9 0 10 0 9 1 10 0 9 0 9 0 10 0 9 1 10 0 9 0 9 0 10 0 9 0 10 0 9 0 10 1 9 0 9 0 10 0 9 0 10 0 9 0 10 0 9 0 9 0 10 0 9 0 10 0 9 0 9 0 10 1 9 0 10 0 9 0 10 0 9 0 9 0 10 0 9 0 10 0 9 0 9 0 10 0 9 0 10 0 9 0 10 0 9 0 9 0 10 0 9 0 10 0 9 0 10 0 9 0 9 0 10 0 9 0 10 0 9 0 9 0 10 0 9 0 10 0 9 0 10 0 9 0 9 0 10 0 9 0 10 0 9 0 9 0 10 0 9 0 10 0 9 0 10 0 9 0 9 0 10 0 9 0 10 0 9 0 9 0 10 0 9 0 10 0 9 0 10 0 9 0 9 0 10 0 9 0 10 0 9 0 10 0 9 0 9 0 10 0 9 0 10 0 9 0 9 0 10 0 9 0 10 0 9 0 10 0 9 0 9 0 10 0 9 0 10 0 9 0 9 0 10 0 9 0 10 0 9 0 10 0 9 0 9 0 10 0 9 0 10 0 9 0 10 0 9 0 9 0 10 0 9 0 10 0 9 0 9 0 10 0 9 0 10 0 9 0 10 0 9 0 9 0 10 0 9 0 10 0 9 0 9 0 10 0 9 0 10 0 9 0 10 0 9 0 9 0 10 0 9 0 10 0 9 0 9 0 10 0 9 0 10 0 9 0 10 0 9 0 9 0 10 0 9 0 10 0 9 0 10 0 9 0 9 0 10 0 9 0 10 0 9 0 9 0 10 0 9 0 10 0 9 0 10 0 9 0 9 0 10 0 9 0 10 0 9 0 9 0 10 0 9 0 10 0 9 0 10 0 9 0 9 0 10 0 9 0 10 0 9 0 10 0 9 0 9 0 10 0 9 0 10 0 9 0 9 0 10 0 9 0 10 0 9 0 10 0 9 0 9 0 10 0 9 0 10 0 9 0 9 0 10 0 9 0 10 0 9 0 10 0 9 0 9 0 10 0 9 0 10 0 9 0 10 0 9 0 9 0 10 0 9 0 10 0 9 0 9 0 10 0 9 0 10 0 9 0 10 0 9 0 9 0 10 0 9 0 10 0 9 0 9 0 10 0 9 0 10 0 9 0 10 0 9 0 9 0 10 0 9 0 10 0 9 0 9 0 10 0 9 0 10 0 9 0 10 0 9 0 9 0 10 0 9 0 10 0 9 0" stroke="#37AD6B" stroke-width="33.0" fill="none" stroke-linejoin="round" transform="scale(.1)"/>
<path d="M2870 17820l9 0 9 0 10 0 9 0 10-1 9 0 9-1 10-1 9-1 10-2 9-2 10-2 9-2 9-2 10-2 9-2 10-2 9-1 9-1 10-1 9 0 10-1 9 0 10 0 9 0 9 0 10 0 9 0 10 0 9 0 10 0 9 0 9 0 10 0 9 1 10 0 9 1 9 1 10 1 9 2 10 1 9 2 10 3 9 2 9 2 10 2 9 1 10 2 9 1 9 1 10 0 9 0 10 0 9 0 10 0 9 0 9 0 10 0 9 0 10 0 9 0 9 0 10 0 9 0 10 0 9 0 10 0 9 0 9 0 10-1 9 0 10 0 9 0 10 0 9 0 9 0 10 0 9-1 10 0 9 0 9 0 10 0 9 0 10-1 9 0 10 0 9 0 9-1 10 0 9 0 10-1 9 0 9 0 10-1 9 0 10-1 9 0 10-1 9 0 9-1 10-1 9 0 10-1 9-1 10-1 9-1 9-1 10-1 9-1 10-1 9-1 9-2 10-1 9-2 10-2 9-2 10-2 9-3 9-3 10-3 9-3 10-4 9-4 9-5 10-6 9-7 10-7 9-9 10-10 9-13 9-14 10-18 9-21 10-27 9-32 10-41 9-52 9-65 10-82 9-102 10-120 9-131 9-120 10-73 9 0 10 73 9 120 10 131 9 120 9 102 10 82 9 65 10 51 9 41 9 32 10 27 9 21 10 17 9 15 10 12 9 10 9 9 10 7 9 7 10 5 9 5 9 5 10 3 9 4 10 2 9 3 10 2 9 2 9 2 10 2 9 1 10 2 9 1 10 1 9 1 9 1 10 1 9 1 10 1 9 0 9 1 10 0 9 1 10 0 9 1 10 0 9 1 9 0 10 1 9 0 10 0 9 1 9 0 10 0 9 0 10 1 9 0 10 0 9 1 9 0 10 0 9 0 10 1 9 0 10 0 9 0 9 1 10 0 9 0 10 0 9 1 9 0 10 0 9 0 10 0 9 1 10 0 9 0 9 0 10 0 9 0 10 0 9 1 9 0 10 0 9 0 10 0 9 0 10 0 9 0 9 0 10 0 9 0 10 0 9 0 9 0 10-1 9 0 10 0 9 0 10 0 9-1 9 0 10 0 9 0 10-1 9 0 10 0 9-1 9 0 10 0 9-1 10 0 9-1 9 0 10-1 9 0 10-1 9 0 10-1 9 0 9-1 10 0 9-1 10-1 9 0 9-1 10-1 9 0 10-1 9-1 10-1 9 0 9-1 10-1 9-1 10-1 9 0 10-1 9-1 9-1 10-1 9-1 10 0 9-1 9-1 10-1 9-1 10-1 9-1 10-1 9 0 9-1 10-1 9-1 10-1 9-1 9-1 10-1 9 0 10-1 9-1 10-1 9-1 9 0 10-1 9-1 10-1 9 0 10-1 9-1 9 0 10-1 9-1 10 0 9-1 9 0 10-1 9 0 10 0 9-1 10 0 9-1 9 0 10 0 9 0 10-1 9 0 9 0 10 0 9 0 10 0 9 0 10 0 9 0 9 0 10 0 9 0 10 1 9 0 9 0 10 0 9 1 10 0 9 1 10 0 9 0 9 1 10 0 9 1 10 1 9 0 10 1 9 0 9 1 10 1 9 0 10 1 9 1 9 1 10 0 9 1 10 1 9 1 10 1 9 0 9 1 10 1 9 1 10 1 9 1 9 1 10 1 9 0 10 1 9 1 10 1 9 1 9 1 10 1 9 1 10 0 9 1 10 1 9 1 9 1 10 1 9 0 10 1 9 1 9 1 10 1 9 0 10 1 9 1 10 1 9 0 9 1 10 1 9 0 10 1 9 1 9 0 10 1 9 0 10 1 9 0 10 1 9 0 9 1 10 0 9 1 10 0 9 1 10 0 9 0 9 1 10 0 9 0 10 1 9 0 9 0 10 1 9 0 10 0 9 0 10 1 9 0 9 0 10 0 9 0 10 0 9 0 9 1 10 0 9 0 10 0 9 0 10 0 9 0 9 0 10 0 9 0 10 0 9 0 9 0 10 0 9 0 10 0 9-1 10 0 9 0 9 0 10 0 9 0 10 0 9 0 10 0 9-1 9 0 10 0 9 0 10 0 9 0 9 0 10-1 9 0 10 0 9 0 10 0 9 0 9 0 10 0 9-1 10 0 9 0 9 0 10 0 9 0 10 0 9 0 10 0 9 0 9 0 10-1 9 0 10 0 9 0 10 0 9 0 9 0 10 0 9 0 10 0 9 1 9 0 10 0 9 0 10 0 9 0 10 0 9 0 9 0 10 0 9 0 10 1 9 0 9 0 10 0 9 0 10 0 9 1 10 0 9 0 9 0 10 0 9 0 10 1 9 0 9 0 10 0 9 0 10 1 9 0 10 0 9 0 9 0 10 0 9 1 10 0 9 0 10 0 9 0 9 1 10 0 9 0 10 0 9 0 9 0 10 0 9 1 10 0 9 0 10 0 9 0 9 0 10 0 9 0 10 0 9 1 9 0 10 0 9 0 10 0 9 0 10 0 9 0 9 0 10 0 9 0 10 0 9 0 10 0 9 0 9 0 10 1 9 0 10 0 9 0 9 0 10 0 9 0 10 0 9 0 10 0 9 0 9 0 10 0 9 0 10 0 9 0 9 0 10 0 9 0 10 0 9 0 10 0 9 0 9 0 10 0 9 0 10 0 9 0 10 0 9 0 9 0 10 0 9 0 10 0 9 0 9 0 10 0 9 0 10 0 9 0 10 0 9 0 9 0 10 0 9 0 10 0 9 0 9 0 10 0 9 0 10 0 9 0 10 0 9 0 9 0 10 0 9 0 10 0 9 0 9 0 10 0 9 0 10 0 9 0 10 0 9 0 9 0 10 0 9 0 10 0 9 0 10 0 9 0 9 0 10 0 9 0 10 0 9 0 9 0 10 0 9 0 10 0 9 0 10 0 9 0 9 0 10 0 9 0 10 0 9 0 9 0 10 0 9 0 10 0 9 0 10 0 9 0 9 0 10 0 9 0 10 0 9 0 10 0 9 0 9 0 10 0 9 0 10 0 9 0 9 0 10 0 9 0 10 0 9 0 10 0 9 0 9 0 10 0 9 0 10 0 9 0 9 0 10 0 9 0 10 0 9 0 10 0 9 0 9 0 10 0 9 0 10 0 9 0 9 0 10 0 9 0 10 0 9 0 10 0 9 0 9 0 10 0 9 0 10 0 9 0 10 0 9 0 9 0 10 0 9 0 10 0 9 0 9 0 10 0 9 0 10 0 9 0 10 0 9 0 9 0 10 0 9 0 10 0 9 0 9 0 10 0 9 0 10 0 9 0 10 0 9 0 9 0 10 0 9 0 10 0 9 0 10 0 9 0 9 0 10 0 9 0 10 0 9 0 9 0 10 0 9 0 10 0 9 0 10 0 9 0 9 0 10 0 9 0 10 0 9 0 9 0 10 0 9 0 10 0 9 0 10 0 9 0 9 0 10 0 9 0 10 0 9 0 10 0 9 0 9 0 10 0 9 0 10 0 9 0 9 0 10 0 9 0 10 0 9 0 10 0 9 0 9 0 10 0 9 0 10 0 9 0 9 0 10 0 9 0 10 0 9 0 10 0 9 0 9 0 10 0 9 0 10 0 9 0 9 0 10 0 9 0 10 0 9 0 10 0 9 0 9 0 10 0 9 0 10 0 9 0" stroke="#6FB802" stroke-width="33.0" fill="none" stroke-linejoin="round" transform="scale(.1)"/>
<path d="M2757 26921l10 12 10-6 11 3 10-24 11-2 10 3 10-22 11 6 10 7 11-6 10-5 10-1 11-15 10 2 11-1 10-7 10 5 11-16 10-9 11 5 10 4 10-8 11 2 10-22 11-3 10 12 10-10 11 5 10-10 11 3 10-22 10 18 11-21 10 14 11-12 10 3 10 4 11 0 10-11 11-5 10 1 10-2 11 8 10-14 11 14 10-1 10 0 11-5 10 19 11-22 10 1 10-4 11-32 10 29 11 9 10-10 10-26 11-2 10-23 11-13 10-1 10 19 11 4 10 22 11 18 10 36 10 12 11 0 10 41 11 21 10 7 10-15 11 9 10-24 11 36 10 6 10-19 11-12 10-15 11-10 10 0 10 2 11-5 10-5 11-20 10-1 10 10 11-10 10 10 11-11 10 4 10 4 11 21 10 2 11-1 10 16 10-11 11-4 10-6 11 4 10-26 10 3 11 7 10-5 11-12 10-16 10-11 11-9 10-7 11-10 10 3 10-19 11-19 10-19 11 0 10-38 10-23 11 6 10-23 11-32 10-32 10-45 11-45 10-42 11-30 10-48 10-80 11-57 10-71 11-77 10-96 10-123 11-123 10-147 11-171 10-207 10-234 11-261 10-297 11-321 10-395 10-390 11-374 10-378 11-284 10-184 10-32 11 112 10 235 11 371 10 361 10 420 11 362 10 362 11 319 10 313 10 207 11 208 10 188 11 151 10 127 10 132 11 101 10 93 11 89 10 44 10 64 11 68 10 46 11 31 10 43 10 43 11 28 10 5 11 43 10 19 10 11 11 15 10 14 11 25 10 11 10 7 11 19 10-21 11 29 10-7 10 24 11 3 10 3 11 2 10 11 10-8 11-11 10-8 11 2 10-2 10-9 11 13 10-11 11-5 10 12 10-9 11-12 10-12 11 22 10-31 10 15 11 2 10-7 11 5 10-21 10-8 11-18 10 2 11-11 10-14 10 3 11 18 10 0 11-11 10 1 10-10 11 9 10 2 11-17 10 6 10-7 11 2 10 23 11-11 10 8 10 6 11 7 10 21 11 7 10 15 10 13 11 5 10 17 11-14 10 15 10 14 11 3 10 35 11-28 10 40 10-3 11 11 10 14 11-3 10 15 10-4 11 6 10 16 11-15 10 16 10 17 11 5 10-10 11 35 10-11 10-9 11-3 10 7 11 2 10 11 10 3 11-25 10 20 11-5 10 4 10-14 11 33 10-18 11 8 10-6 10-5 11 13 10-22 11 18 10-13 10 9 11-2 10-7 11 8 10-5 10 5 11-5 10 17 11 0 10-15 10 4 11 1 10 3 11 12 10-21 10-2 11 10 10 13 11-1 10-22 10 10 11-4 10 6 11-13 10 7 10 12 11 6 10-10 11 4 10 1 10-23 11 1 10 5 11 4 10-21 10 30 11-8 10 5 11 4 10-20 10 12 11 7 10 1 11-7 10 4 10 7 11-5 10-11 11 18 10-9 10-28 11 18 10 9 11-7 10 5 10 0 11-14 10 9 11-5 10 11 10-1 11-10 10-8 11 10 10 10 10-14 11 4 10 8 11 1 10-5 10 14 11-10 10 12 11-28 10 9 10-3 11 16 10-18 11 3 10 12 10-19 11 14 10-3 11-2 10 11 10-5 11-2 10-1 11 4 10-10 10 13 11 6 10-14 11 5 10-6 10-15 11 7 10-1 11 10 10 0 10 3 11-3 10-5 11-2 10 7 10 8 11-16 10 27 11-12 10-8 10-16 11 10 10-8 11 12 10 17 10-11 11 5 10-7 11 4 10-1 10-10 11 0 10-12 11 20 10-3 10-6 11 5 10 7 11-3 10 14 10-8 11-10 10 1 11 8 10-5 10-28 11 13 10 10 11 12 10-20 10 19 11 13 10-28 11-14 10 34 10 3 11-13 10-13 11 9 10 0 10 2 11-13 10-6 11 12 10-16 10 15 11-8 10 3 11 3 10-3 10 19 11-25 10-18 11 2 10 5 10 2 11 14 10-19 11 16 10-19 10-8 11 25 10-15 11-15 10 3 10 1 11-17 10-4 11 17 10 9 10-15 11-10 10-24 11 8 10 14 10-21 11 15 10-2 11-3 10-11 10-10 11-1 10 10 11-12 10 20 10-18 11 11 10-22 11-24 10 9 10 15 11-19 10-1 11 9 10-7 10 9 11-28 10 14 11 10 10 3 10-31 11 28 10-12 11 4 10-2 10-8 11-4 10 12 11 0 10-9 10 4 11-6 10 25 11-23 10 1 10 26 11-10 10-2 11 4 10-5 10-1 11 4 10 26 11-23 10 9 10 20 11 5 10-12 11 15 10 3 10 8 11-18 10 18 11-12 10 27 10-2 11-6 10-3 11-9 10 22 10 7 11 12 10-24 11 16 10 0 10 4 11 2 10 6 11-1 10 1 10 3 11-5 10 7 11 20 10 0 10-3 11-7 10-5 11 0 10 5 10 6 11 12 10-13 11 0 10 14 10-13 11 2 10 12 11-10 10 0 10 10 11-4 10-2 11 4 10 15 10-19 11 18 10-22 11 4 10-7 10 10 11 6 10-4 11 11 10-19 10 4 11 4 10-13 11 27 10-15 10 11 11 7 10-13 11 5 10-23 10 20 11 10 10-32 11 11 10-3 10 5 11-1 10-8 11 1 10 16 10-16 11 36 10-21 11 0 10-1 10-6 11 3 10-14 11 34 10-12 10-12 11 1 10 15 11-8 10 2 10-4 11 1 10 11 11-5 10 5 10-12 11-11 10-4 11 5 10 7 10 20 11-19 10 17 11-5 10-3 10-8 11 0 10 14 11 6 10-22 10 4 11 15 10-20 11 15 10-18 10-3 11-8 10 16 11 15 10-33 10 37 11-15 10 6 11-9 10-7 10-3 11 23 10 14 11-34 10-2 10 7 11-7 10 15 11-1 10 13 10-21 11 12 10-13 11 13 10 4 10 10 11-18 10 3 11-9 10 15 10-14 11 9 10-4 11 7 10-4 10-9 11-9 10 18 11-6 10-9 10 13 11-19 10 19 11-4 10-7 10 5 11-7 10-2 11 3 10 6 10 14 11-11 10-6 11 11 10-12 10 4 11 0 10 5 11-4 10-2 10 5 11-6 10 16 11-12 10-5 10 20 11-13 10-2 11 6 10-13 10-10 11 4 10 10 11-5 10-11 10 20 11-4 10-4 11-3 10 14 10-10 11 24 10-23 11 9 10-4 10-24 11 25 10 15 11-20 10-3 10 9 11-2 10-5 11 1 10 15 10-4 11-11 10 0 11 3 10-11 10 3 11 13 10-11 11-3 10 22 10-8 11-5 10 17 11-28 10-1 10 37 11-15 10-22 11-6 10 14 10-12 11 11 10 3 11-14 10 23 10-1 11-4 10 1 11 9 10-2 10-27 11 17 10 6 11 8 10-4 10-7 11 11 10-23 11 15 10-10 10 12 11-6 10 16 11-8 10-3 10-12 11 16 10-21 11 20 10-8 10-3 11 5 10 6 11 0 10-10 10 10 11-25 10 10 11 10 10 10 10-23 11-10 10 28 11 8 10-24 10-10 11 12 10 16 11-6 10-11 10 16 11-12 10-3 11-5 10 20 10-11 11-5 10 8 11-9 10 10 10 7 11 4 10-10 11-2 10-11 10 7 11 13 10-15 11-13 10 25" stroke="#515151" stroke-width="19.0" fill="none" stroke-linejoin="round" transform="scale(.1)"/>
<path d="M2757 26911l10 4 10-3 11-8 10-15 11-11 10-1 10-29 11 1 10 10 11-9 10-11 10-10 11-20 10 25 11-16 10 4 10-21 11-14 10-25 11-1 10-7 10 4 11-32 10 0 11 7 10-6 10-19 11 10 10-10 11-19 10-1 10-1 11-9 10-3 11-4 10-8 10 16 11-26 10 8 11-1 10-3 10-5 11-17 10 32 11 2 10-4 10 5 11 14 10-9 11 5 10-17 10 10 11 29 10 5 11-36 10 20 10 16 11-14 10-21 11 9 10-12 10 18 11 41 10 16 11 53 10 9 10 23 11 18 10 11 11-7 10 36 10 1 11-4 10 5 11-11 10 6 10 11 11-21 10 2 11 1 10-30 10 6 11-13 10-20 11 5 10-5 10-7 11-9 10 4 11-9 10 22 10-15 11 10 10 2 11 8 10 14 10-12 11-13 10-8 11 10 10-11 10-13 11-12 10-4 11 3 10-12 10-24 11-6 10-43 11 20 10-30 10-10 11-31 10-35 11 13 10-43 10-26 11-41 10-24 11-46 10-31 10-67 11-53 10-44 11-50 10-92 10-87 11-87 10-133 11-95 10-178 10-147 11-195 10-203 11-252 10-310 10-356 11-369 10-459 11-484 10-522 10-565 11-538 10-452 11-339 10-145 10 50 11 275 10 412 11 499 10 573 10 530 11 517 10 465 11 400 10 368 10 316 11 261 10 255 11 183 10 188 10 141 11 120 10 130 11 109 10 95 10 70 11 70 10 65 11 55 10 44 10 44 11 34 10 37 11 14 10 45 10 25 11 17 10 20 11 28 10 18 10 10 11 15 10-5 11 30 10 4 10 2 11 3 10-4 11 22 10 2 10-13 11 3 10 15 11 9 10-15 10 17 11-28 10 4 11 16 10-23 10 14 11-9 10-19 11 19 10 3 10-13 11-19 10-3 11 4 10 7 10-20 11 2 10-22 11 22 10-30 10 6 11-7 10-5 11-3 10 13 10-19 11 18 10-20 11 7 10 6 10-3 11 0 10 4 11-2 10 12 10 11 11-18 10 39 11 12 10-6 10 4 11 11 10 11 11 9 10 30 10-4 11 30 10-3 11 23 10-1 10 7 11 10 10 16 11 12 10-9 10 4 11 24 10 21 11-13 10-4 10 17 11 6 10-8 11-2 10 24 10 5 11-5 10 12 11-16 10 19 10-24 11 18 10 0 11-11 10 3 10 3 11-2 10 13 11-25 10 33 10-8 11 4 10 1 11-21 10-2 10 1 11 9 10 20 11-1 10-5 10-2 11-12 10 0 11 5 10 15 10-22 11 6 10 17 11-21 10 12 10-27 11 32 10-19 11 10 10 17 10-7 11 0 10-10 11-15 10 7 10-11 11 8 10-5 11 11 10-5 10 0 11 10 10-5 11 8 10-4 10 6 11-6 10 1 11-13 10 16 10 1 11-10 10 7 11 1 10-7 10-2 11 3 10-10 11-6 10 6 10 13 11 10 10-1 11-12 10 15 10-17 11 8 10-4 11-6 10 3 10 22 11-4 10-30 11 16 10-15 10 15 11-5 10 9 11-11 10-3 10 6 11-6 10 6 11 22 10-26 10-2 11 16 10-17 11 21 10-10 10-6 11 28 10-29 11 5 10-8 10 13 11-4 10-1 11 0 10 9 10-21 11 25 10-9 11-7 10 11 10-17 11 14 10 2 11-11 10-14 10 19 11-12 10 17 11-5 10-1 10-7 11 2 10 13 11-2 10-4 10-7 11-20 10 25 11-17 10-3 10 24 11 4 10-19 11 25 10-28 10 14 11-8 10 4 11 20 10-26 10 6 11 26 10-5 11-20 10 1 10 2 11-2 10 11 11-5 10-18 10 35 11 3 10-38 11 7 10-11 10 8 11-4 10 8 11 16 10-5 10-19 11 7 10-6 11-9 10 16 10-22 11 25 10-6 11-8 10-2 10 10 11-13 10 24 11-21 10-7 10 7 11 0 10-4 11 9 10-29 10 15 11 2 10-4 11-6 10 7 10 5 11-25 10 13 11-4 10 11 10-25 11-7 10 0 11-2 10 19 10-37 11 7 10 7 11-16 10 2 10-4 11 5 10-10 11 1 10-12 10 4 11-9 10 0 11-10 10-5 10 3 11-12 10 7 11-32 10 14 10-3 11 24 10-13 11-7 10-6 10-1 11-3 10 14 11-32 10 16 10-4 11 4 10 0 11 0 10-16 10 20 11-9 10-6 11 26 10-3 10 3 11-14 10 23 11-11 10-1 10 5 11 16 10-31 11 27 10 2 10-15 11 19 10 4 11 7 10-2 10-3 11-6 10 16 11 1 10 24 10-17 11-3 10 2 11 30 10-4 10 11 11-12 10-10 11 31 10-16 10 13 11-14 10 20 11 15 10-10 10 0 11 5 10 6 11-11 10 3 10 10 11-7 10 5 11-9 10-3 10 1 11 24 10-9 11 10 10-5 10-1 11 8 10 2 11-9 10 14 10 3 11 5 10 3 11-19 10-3 10 13 11 6 10-21 11 18 10 4 10-2 11-11 10 7 11-14 10 6 10 7 11 20 10-8 11-24 10 2 10 6 11 0 10 6 11 1 10 10 10-17 11 3 10 16 11 1 10-16 10 10 11-22 10 15 11 12 10-6 10 2 11 0 10-14 11 15 10 3 10 12 11-28 10 3 11 23 10-32 10 15 11-21 10 16 11 7 10-12 10-5 11 23 10-14 11-4 10 9 10 8 11-5 10-16 11 1 10 6 10-15 11 11 10-3 11 2 10 5 10 3 11-7 10 11 11-4 10 25 10-14 11 2 10-31 11 38 10-22 10-7 11 13 10-2 11-4 10 22 10-19 11-13 10 4 11 8 10 0 10-10 11 18 10-11 11-8 10 23 10-10 11-10 10-12 11 30 10-20 10-8 11 11 10 6 11 1 10 12 10-26 11 28 10-13 11 4 10-9 10 9 11-18 10 31 11 3 10-20 10 13 11-20 10 0 11-1 10 18 10-3 11-3 10-6 11 2 10-8 10 13 11-25 10 17 11-2 10 28 10-14 11-19 10 15 11 0 10 6 10-9 11-10 10 7 11-11 10 20 10-15 11 5 10 0 11 16 10-15 10-2 11 18 10-33 11 18 10 12 10-24 11 22 10-14 11 20 10-28 10 8 11 4 10 8 11 3 10-26 10 17 11-14 10 21 11-10 10 12 10-16 11 24 10-27 11 20 10-17 10 3 11 2 10 0 11-17 10 27 10-3 11-18 10 4 11-7 10 10 10 8 11-4 10-5 11-3 10 5 10 10 11-5 10-19 11 24 10-21 10 27 11-4 10 6 11-25 10 14 10-3 11-15 10 9 11 18 10-3 10 6 11-24 10 9 11 8 10-9 10-6 11-4 10-13 11 29 10-15 10-2 11 7 10 30 11-13 10-33 10 28 11-11 10 11 11-29 10 11 10 17 11 4 10-19 11-4 10 14 10-11 11 6 10 0 11-1 10 17 10-7 11-11 10 4 11-15 10 28 10-17 11-20 10 18 11-3 10 13 10-1 11-8 10 13 11 4 10 2 10-1 11-24 10 3 11-3 10 9 10-1 11 15 10-11 11-8 10 14 10 10 11-22 10 17 11-19 10 11 10 3 11-1 10-1 11-11 10 0 10-3 11 6 10 3 11-5 10 9" stroke="#F14040" stroke-width="19.0" fill="none" stroke-linejoin="round" transform="scale(.1)"/>
<path d="M2757 26931l10 4 10-3 11-11 10-2 11-2 10-8 10-3 11-10 10 2 11 4 10-5 10-2 11 18 10-38 11 25 10-20 10 9 11 0 10-23 11 18 10-7 10 17 11-33 10 8 11 0 10-20 10 8 11 22 10-34 11 14 10-5 10-2 11 7 10-13 11-6 10-12 10-5 11 18 10-25 11 19 10-17 10 11 11 1 10 24 11-35 10 27 10-22 11 23 10 2 11-4 10-3 10-4 11-17 10-5 11-5 10-12 10-4 11-9 10-8 11-25 10 6 10 20 11 1 10-2 11 37 10 24 10 1 11 24 10 11 11 9 10-8 10 16 11 4 10 1 11 8 10-4 10-22 11 14 10-17 11 12 10-11 10-4 11-17 10-18 11 8 10-6 10 8 11-22 10 3 11 11 10-4 10 11 11 15 10 20 11-10 10 10 10-11 11-5 10 12 11 11 10-31 10 0 11-5 10 17 11-13 10-18 10-8 11-5 10 22 11-44 10 15 10-9 11-24 10 2 11-11 10-19 10-11 11-16 10-13 11-13 10-25 10-25 11-25 10-37 11-45 10-5 10-54 11-49 10-38 11-65 10-69 10-81 11-90 10-105 11-134 10-121 10-186 11-195 10-220 11-234 10-282 10-316 11-310 10-295 11-268 10-141 10-65 11 69 10 182 11 255 10 312 10 322 11 317 10 265 11 248 10 195 10 196 11 168 10 151 11 117 10 94 10 82 11 69 10 71 11 61 10 43 10 64 11 34 10 34 11 23 10 23 10 32 11 35 10 1 11 29 10-1 10 40 11-29 10 39 11-17 10 18 10 0 11 9 10 23 11 3 10 5 10 6 11-20 10 22 11-4 10 15 10-22 11 17 10-40 11 23 10-2 10-9 11 9 10-7 11-8 10-6 10-9 11 2 10 15 11-21 10-1 10-10 11-10 10-3 11-26 10 19 10 0 11-13 10-6 11-17 10 17 10-17 11-1 10-1 11-2 10-3 10 13 11-8 10-9 11-13 10 6 10 7 11 2 10 3 11 2 10 1 10 29 11-5 10-18 11 22 10 18 10 13 11 3 10 23 11 3 10-5 10 9 11 15 10 11 11 14 10 18 10 5 11 5 10 3 11 17 10 6 10-16 11 21 10-6 11 14 10 12 10 0 11 13 10-18 11 4 10 3 10 7 11 9 10 5 11-14 10 11 10 4 11 0 10-3 11 7 10-6 10-7 11-1 10 16 11-10 10 6 10 9 11 5 10-21 11-13 10 13 10-8 11-6 10 5 11 23 10-11 10 7 11 13 10-26 11 15 10-19 10 16 11-3 10 5 11-4 10-10 10 7 11-1 10 5 11-8 10 16 10-12 11-3 10 11 11-18 10 11 10 15 11-11 10-9 11 5 10 18 10-22 11 12 10-7 11 22 10-38 10 0 11 17 10 15 11-19 10-17 10 8 11-11 10 37 11-27 10 17 10 0 11-11 10 6 11 12 10 10 10-17 11 4 10-31 11 32 10-23 10 20 11-20 10 6 11-7 10 11 10-5 11 11 10 8 11-26 10-3 10 13 11-16 10 32 11-10 10 6 10-12 11 17 10-14 11-4 10-8 10 13 11-20 10 32 11-16 10-12 10 31 11-12 10-3 11-11 10 4 10 19 11-5 10-2 11-13 10-6 10 16 11 10 10 3 11-20 10-5 10 16 11 7 10-1 11-12 10 20 10-11 11-6 10 17 11-21 10 13 10-19 11 30 10-31 11 25 10-16 10-6 11 11 10-6 11 2 10 2 10-14 11 23 10-18 11-10 10 9 10 17 11-13 10-3 11-1 10 27 10 1 11-35 10 8 11 4 10 5 10-11 11-6 10 6 11 15 10-10 10-17 11 20 10 8 11-20 10 16 10-6 11-17 10 5 11 21 10-19 10-3 11-3 10 13 11-1 10-18 10 35 11-8 10-1 11-18 10 0 10 5 11-10 10 16 11 1 10-7 10 16 11-7 10-17 11 3 10 4 10-19 11 3 10 3 11-1 10-13 10-14 11 30 10-9 11 2 10-12 10 13 11-12 10-20 11 16 10 5 10-18 11-5 10 11 11-22 10 9 10-15 11 3 10 4 11 1 10-14 10 13 11 2 10-33 11 26 10-10 10-3 11-7 10 10 11-5 10-19 10 1 11 20 10-29 11 0 10 6 10 10 11-30 10-12 11 30 10 13 10-42 11 19 10-4 11 1 10 12 10-4 11 1 10-7 11 8 10-17 10 16 11-13 10 26 11-11 10 0 10 12 11-11 10 8 11-15 10 6 10 13 11 9 10-3 11-10 10 13 10 8 11 5 10 18 11-26 10 19 10-5 11 1 10 14 11-1 10-4 10-9 11 19 10 4 11 1 10 6 10-10 11 23 10-8 11 1 10-6 10 5 11 15 10-1 11 10 10-9 10 2 11 15 10-15 11-19 10 21 10 10 11 2 10-17 11 14 10 7 10 10 11-24 10 34 11-26 10 12 10-18 11 13 10 5 11-17 10 26 10-21 11 1 10 32 11-13 10 0 10-5 11-5 10 3 11-8 10 11 10 11 11 9 10-12 11-4 10 1 10-14 11 7 10 16 11-9 10-3 10-29 11 18 10 10 11-8 10-6 10 22 11-29 10 26 11-17 10-9 10 16 11-6 10 17 11-24 10 5 10-12 11 11 10 16 11 3 10 0 10-1 11-21 10 30 11-3 10-4 10 7 11-6 10-20 11 15 10-6 10 4 11-8 10-6 11 6 10 3 10 9 11 6 10-16 11-2 10-4 10 7 11 10 10 0 11-14 10 11 10 5 11 5 10-6 11-16 10 2 10-10 11 10 10 2 11-8 10-2 10 15 11 26 10-26 11 6 10-21 10 11 11 10 10 6 11-18 10-7 10 27 11-19 10 11 11-10 10-19 10 36 11-19 10-13 11 19 10 11 10 15 11-18 10-12 11 13 10-24 10 38 11-10 10-19 11 5 10-6 10 2 11 12 10-3 11-19 10 12 10-9 11 8 10-9 11 7 10 9 10 8 11-23 10 16 11 12 10-30 10 10 11 1 10 15 11-20 10 8 10 12 11-6 10 5 11-28 10 21 10-9 11-8 10-8 11 26 10 5 10-21 11 2 10-18 11 29 10-20 10 5 11 9 10 33 11-32 10 4 10 18 11-29 10 16 11 3 10-8 10-14 11-9 10 10 11 5 10 2 10 20 11-6 10-9 11-1 10 6 10-24 11 4 10 21 11-19 10 9 10-24 11 14 10 2 11 3 10-4 10 10 11-19 10 20 11 16 10-16 10-8 11 22 10 2 11-14 10-16 10 6 11 35 10-34 11 11 10 4 10-9 11-24 10 38 11-11 10 20 10-28 11 2 10 1 11-2 10 17 10-11 11 1 10 7 11-17 10 1 10 17 11-11 10-4 11 2 10-3 10 6 11 3 10 11 11-5 10-10 10 0 11 14 10-11 11-7 10-8 10 7 11 7 10-9 11 24 10-19 10 11 11-26 10 30 11-19 10-13 10 25 11 2 10-7 11 3 10 7 10-3 11-15 10 2 11 16 10 1 10-12 11-3 10 3 11 0 10-19 10 8 11 5 10 13 11-24 10 19 10-4 11 28 10-34 11 26 10-11 10-17 11 13 10 6 11-16 10-3 10 8 11-5 10 18 11-12 10 6" stroke="#1A6FDF" stroke-width="19.0" fill="none" stroke-linejoin="round" transform="scale(.1)"/>
<path d="M2757 26933l10-1 10-2 11-1 10-12 11 9 10-13 10 10 11-12 10 4 11-10 10-18 10 22 11-8 10 15 11-7 10-10 10-11 11 22 10-11 11-17 10 28 10-24 11 5 10-23 11 19 10 6 10-27 11-2 10 8 11-15 10 21 10-7 11 8 10 0 11-13 10 5 10-22 11 25 10-10 11 24 10-25 10 7 11 0 10-8 11 4 10 8 10-18 11 5 10 7 11-23 10 15 10-12 11-2 10 9 11-12 10-2 10-1 11-15 10-34 11 5 10-24 10 9 11 31 10 3 11 10 10 25 10 12 11 13 10 20 11-9 10-5 10 28 11 2 10-3 11-6 10 11 10-16 11 11 10-1 11 6 10-31 10-12 11 9 10-16 11 2 10-3 10-26 11 7 10 34 11-23 10 13 10-8 11 23 10 8 11 17 10-1 10 4 11 15 10-22 11 14 10-8 10-5 11 25 10-16 11 2 10-3 10 5 11-16 10 13 11-10 10-3 10-3 11-6 10-6 11-7 10-22 10 23 11-9 10-1 11-31 10 29 10-14 11-29 10-4 11 8 10-38 10 8 11-16 10-41 11-20 10-19 10-19 11-36 10-20 11-70 10-11 10-82 11-75 10-55 11-98 10-110 10-129 11-113 10-121 11-91 10-79 10-30 11 11 10 95 11 84 10 120 10 124 11 93 10 132 11 80 10 85 10 64 11 73 10 55 11 9 10 47 10 43 11 33 10 14 11 22 10 21 10 3 11 18 10 16 11 5 10 18 10-5 11 9 10 29 11-23 10 16 10 0 11-6 10 9 11-3 10 18 10-25 11 14 10-15 11 9 10-3 10-11 11 1 10 4 11-8 10-19 10 15 11-1 10-15 11 15 10-23 10 0 11-12 10 21 11-40 10 0 10 3 11-25 10 8 11 1 10-9 10-17 11-6 10-11 11-2 10-17 10-10 11 10 10-28 11 15 10-22 10-7 11 5 10 0 11 2 10-34 10 33 11-16 10-2 11-13 10 4 10 10 11 7 10-25 11 28 10 11 10-18 11 27 10 17 11-8 10 20 10 29 11-8 10 4 11 31 10-3 10-2 11 27 10 19 11 8 10-6 10 24 11-1 10 15 11 16 10-10 10-1 11 36 10-7 11 5 10 6 10 6 11-11 10-5 11 26 10 7 10-8 11 19 10 2 11-11 10-3 10 9 11-2 10 29 11-12 10-7 10-8 11 19 10-16 11 6 10-5 10 8 11-14 10 18 11-22 10 20 10-10 11 17 10-4 11-11 10 26 10-23 11 0 10-32 11 33 10-18 10 18 11 5 10-18 11 7 10-12 10 29 11 3 10-26 11-2 10 1 10 13 11-13 10 11 11 6 10-5 10 17 11-26 10 0 11 17 10 7 10-19 11-9 10 36 11-21 10 4 10-21 11-2 10 30 11-7 10 13 10-19 11-3 10-9 11 32 10-2 10-21 11 1 10 10 11-7 10-5 10 6 11-19 10-1 11 14 10 6 10 11 11-9 10 1 11 27 10-30 10-4 11 3 10 16 11 0 10-21 10-4 11 18 10 7 11-9 10-7 10-20 11 12 10 4 11 10 10-5 10 10 11-20 10 7 11 11 10-10 10-17 11 25 10 4 11-8 10-3 10-4 11 4 10-9 11 8 10-3 10-14 11 30 10-2 11-12 10 12 10-4 11-32 10 36 11-2 10-14 10 5 11 18 10-21 11-11 10 16 10-6 11 6 10 9 11-1 10-16 10 2 11 22 10-27 11 6 10-2 10-4 11 27 10-13 11 3 10 1 10-7 11-6 10 7 11-23 10 32 10-40 11 26 10-17 11 14 10 14 10-7 11 4 10-14 11 5 10 15 10-36 11 13 10 27 11-8 10-5 10-5 11-1 10 6 11-22 10 32 10-21 11 4 10-12 11 17 10-4 10-22 11 17 10 3 11 1 10 1 10 10 11-1 10-10 11-6 10-9 10 11 11 0 10-6 11 5 10-7 10-13 11 19 10 3 11-9 10-7 10 9 11-20 10-16 11 9 10-6 10-4 11 5 10 5 11-3 10 16 10-5 11-8 10 2 11-6 10-15 10 3 11-1 10-25 11 22 10-6 10-14 11 10 10-17 11 18 10-26 10 9 11 19 10-18 11-10 10 8 10-10 11 6 10-12 11 7 10-16 10 5 11-7 10 0 11 13 10-3 10-7 11-9 10 6 11 18 10-25 10 8 11-9 10 23 11-3 10 2 10 6 11-25 10 18 11 7 10 7 10-5 11-13 10-3 11 8 10 12 10-3 11 22 10-2 11-10 10-2 10 7 11-1 10 10 11 0 10-1 10 7 11 4 10 0 11-17 10 29 10-29 11 33 10-15 11-1 10 0 10 20 11 27 10-17 11-10 10-19 10 29 11-6 10 2 11-12 10 12 10-8 11 25 10 11 11-14 10 10 10-16 11 10 10-10 11 22 10-4 10 0 11-15 10 15 11-1 10-16 10 22 11 0 10-21 11 41 10-35 10 15 11-1 10-2 11-1 10 3 10-15 11 37 10 2 11-25 10 17 10-12 11 2 10-2 11-7 10 30 10-15 11-25 10 21 11 1 10-33 10 24 11 13 10-15 11-1 10 18 10-20 11 11 10 17 11-28 10 1 10 2 11 1 10 11 11-2 10 5 10-20 11 5 10-13 11 14 10 9 10 2 11 3 10 0 11-39 10 50 10-9 11 5 10-26 11 7 10 4 10-11 11 14 10-9 11-13 10 18 10 1 11-7 10-3 11 0 10 11 10-7 11 3 10-10 11 14 10 0 10 7 11-5 10 2 11-11 10-9 10 18 11-26 10 23 11-15 10 6 10 13 11-5 10 15 11-21 10-14 10 16 11-16 10 19 11 2 10-4 10 6 11-8 10-16 11 18 10 7 10-6 11-9 10 11 11 17 10-9 10-26 11 18 10-14 11 13 10 7 10-10 11-8 10 13 11 11 10-10 10 4 11-19 10 21 11 2 10 4 10-15 11 5 10-1 11-8 10 6 10-27 11 7 10 24 11-26 10 19 10-4 11 15 10-16 11-6 10 5 10 2 11-6 10 3 11 23 10-14 10-7 11 12 10-29 11 16 10 6 10-2 11-3 10 9 11 3 10 10 10-27 11 8 10 15 11-23 10 9 10 6 11 4 10-29 11 9 10 5 10 0 11 6 10 0 11-17 10 22 10 1 11-17 10 29 11-13 10 2 10-7 11 14 10-10 11 0 10-6 10-6 11-6 10 11 11 7 10 2 10-2 11-26 10 6 11 3 10 5 10 18 11-23 10 14 11 8 10 0 10-13 11 10 10-24 11 4 10 5 10 3 11-4 10 30 11-7 10-15 10 5 11 18 10-25 11 8 10 6 10-19 11-4 10 20 11-7 10-4 10 7 11-5 10 14 11-4 10-12 10 4 11-20 10 25 11-3 10-5 10-3 11 2 10-10 11 10 10-6 10 15 11-16 10 6 11 19 10-26 10 2 11 18 10-11 11-11 10 15 10-16 11 17 10-15 11 10 10 30 10-27 11 3 10-7 11 10 10-17 10 8 11 3 10 1 11 0 10 7 10-11 11 13 10-4 11 6 10-24 10-1 11 21 10-4 11 12 10 0 10-21 11-17 10 29 11-15 10 23 10-33 11-5 10 22 11-4 10-15" stroke="#37AD6B" stroke-width="19.0" fill="none" stroke-linejoin="round" transform="scale(.1)"/>
<path d="M2757 26926l10 7 10-10 11-3 10-13 11 0 10-4 10 7 11-11 10 5 11 1 10-34 10 44 11-24 10 6 11-4 10-9 10-4 11-12 10 26 11-26 10 4 10-16 11 19 10 11 11-26 10 1 10 0 11-5 10-17 11 11 10-18 10 3 11 14 10 13 11-32 10 18 10-1 11-20 10-7 11-1 10 16 10-2 11 9 10-12 11-3 10-16 10 20 11 9 10-21 11 18 10 3 10-15 11-3 10-1 11 7 10-16 10 2 11-6 10-34 11-20 10 2 10-9 11 19 10 3 11 51 10 16 10 18 11 6 10 8 11 24 10 12 10 11 11 5 10-26 11 20 10-23 10 11 11-14 10-6 11-5 10-11 10 6 11-18 10 2 11-1 10-12 10-8 11 11 10-17 11 29 10 9 10 2 11-12 10 19 11-2 10 3 10 21 11-11 10-11 11-1 10 7 10-8 11 0 10-9 11 20 10-9 10-29 11 8 10 6 11-21 10-5 10 5 11-19 10-5 11-19 10-2 10-14 11-18 10-8 11-6 10-11 10-21 11-21 10-29 11-24 10-27 10-29 11-57 10-27 11-35 10-68 10-71 11-61 10-87 11-81 10-128 10-125 11-149 10-158 11-201 10-190 10-211 11-208 10-162 11-162 10-83 10-5 11 85 10 143 11 179 10 212 10 194 11 213 10 177 11 168 10 150 10 134 11 111 10 77 11 111 10 54 10 75 11 52 10 43 11 19 10 52 10 30 11 27 10 22 11 29 10 9 10 29 11 23 10 9 11 12 10-5 10 41 11 0 10 0 11 6 10 8 10 11 11-4 10-1 11 18 10-9 10-1 11 0 10-17 11 29 10-18 10-2 11 16 10-26 11 17 10-17 10 7 11-9 10-14 11-10 10 4 10-6 11-2 10-17 11-1 10 21 10-46 11 20 10 3 11-13 10-13 10-3 11 4 10-25 11 7 10-11 10-21 11 11 10 20 11-12 10-9 10-11 11-9 10 17 11-4 10-6 10-2 11-3 10 3 11 25 10-11 10 21 11-3 10 1 11 9 10 16 10 17 11-7 10 13 11 36 10-23 10 13 11 38 10-21 11 16 10 12 10 24 11 6 10-2 11 2 10 11 10-5 11 27 10 16 11 0 10-12 10 4 11 0 10 8 11 1 10 9 10-2 11-1 10 5 11 14 10 7 10-9 11-25 10 23 11 13 10 0 10-1 11-15 10-2 11 24 10-5 10-1 11 18 10-22 11 1 10-5 10 12 11-4 10-8 11 6 10-14 10 0 11 11 10-2 11 3 10-24 10 29 11 7 10 5 11-3 10-16 10 3 11 1 10 27 11-44 10 9 10 25 11-22 10 12 11-34 10 22 10 10 11 7 10-27 11 20 10-1 10-7 11 3 10 12 11-22 10 11 10-17 11 14 10-8 11-8 10 9 10 9 11 11 10-12 11 13 10-10 10 0 11-4 10-10 11 2 10 0 10 7 11 0 10 11 11-24 10 17 10-9 11 2 10 18 11-22 10 11 10-11 11-9 10 20 11-8 10 10 10-9 11 2 10 5 11-5 10-5 10 2 11-3 10 4 11 7 10 9 10-17 11 3 10-9 11 12 10-6 10 5 11 7 10-2 11 27 10-34 10 11 11-15 10-4 11 16 10-1 10-7 11-1 10-7 11 19 10-8 10-19 11 17 10-17 11 13 10 11 10-14 11-1 10 16 11-30 10 9 10 1 11 28 10-7 11 1 10-7 10-9 11-5 10 2 11 15 10-25 10 25 11 1 10-5 11-17 10 41 10-38 11 17 10 2 11 19 10-24 10 4 11-3 10 8 11-9 10 10 10-13 11-10 10-11 11 26 10-20 10 9 11-9 10 27 11 4 10-11 10-10 11-4 10 32 11-28 10-14 10 20 11-14 10 19 11-14 10 12 10-5 11 12 10-28 11-11 10 26 10-9 11 7 10-4 11-5 10-1 10 1 11-4 10-6 11-17 10 14 10 0 11 11 10-2 11-9 10-1 10-4 11 6 10-7 11 0 10-7 10 0 11-9 10-3 11 8 10-17 10 3 11-13 10 34 11-19 10-3 10-25 11 9 10-5 11 2 10 2 10-4 11-6 10 17 11-17 10 0 10-9 11 0 10 6 11-8 10 5 10-10 11-18 10 14 11-24 10 29 10-26 11 13 10-16 11 17 10-16 10-11 11 23 10-16 11-4 10 25 10-15 11 3 10 10 11-16 10 1 10 4 11 11 10-5 11 2 10-2 10-5 11 16 10 4 11-19 10 11 10 21 11-21 10-1 11 3 10 8 10 18 11 0 10-6 11 2 10 14 10-7 11 4 10 20 11-6 10-23 10 34 11-8 10 14 11-5 10 0 10 11 11-12 10-5 11 10 10 27 10-15 11 5 10-2 11-9 10 25 10-17 11 14 10-9 11 6 10 1 10-6 11-4 10 29 11-14 10 26 10-18 11-16 10 25 11-5 10 3 10-2 11-9 10 0 11 14 10 4 10-10 11-8 10 4 11-7 10 6 10 8 11-6 10 15 11-23 10 17 10 2 11-2 10-9 11 10 10 13 10-34 11 21 10 14 11 2 10-18 10 16 11-10 10 9 11-12 10-5 10 18 11-32 10 25 11-12 10-14 10 10 11-1 10 23 11 1 10-17 10-2 11-6 10 4 11 4 10 3 10 1 11-3 10 13 11-8 10-7 10-3 11 7 10-10 11 0 10 0 10 5 11 7 10-15 11 4 10 10 10-11 11-2 10 9 11 0 10 13 10-8 11-8 10-1 11 14 10-25 10 16 11 1 10 9 11-15 10 15 10-16 11 11 10-10 11 21 10-18 10-7 11 9 10-7 11 9 10-19 10 18 11 9 10 9 11-35 10 23 10-17 11 21 10-3 11-23 10 24 10-14 11 16 10 1 11-10 10 4 10 4 11-14 10 18 11-21 10 5 10 17 11-20 10 3 11-19 10 13 10 1 11-8 10 34 11-6 10-3 10 3 11-19 10 3 11-21 10 34 10-1 11-15 10 3 11 0 10 9 10-13 11 4 10 7 11-12 10 25 10-25 11-9 10 23 11-28 10 13 10 13 11-16 10 24 11-1 10-7 10-9 11 13 10 0 11 1 10-26 10 10 11 21 10-2 11-15 10-10 10 15 11-17 10 7 11 17 10-2 10-14 11 0 10 11 11-4 10 11 10-18 11-4 10 10 11-7 10-4 10 18 11-20 10 19 11-14 10 6 10 2 11-4 10-14 11 20 10-8 10-7 11 1 10 8 11 7 10-10 10 6 11 5 10-13 11-6 10 9 10 7 11 4 10-15 11 4 10 1 10 7 11 2 10 10 11-21 10 12 10 10 11-6 10 5 11 0 10-23 10 11 11 6 10-2 11 7 10-1 10-15 11 8 10-2 11 16 10-8 10-21 11 14 10-9 11 12 10-16 10 2 11-2 10 6 11 11 10-4 10-3 11 1 10 4 11 2 10-5 10 1 11-12 10 7 11-19 10 14 10 15 11-7 10-9 11-12 10 25 10-4 11-4 10 0 11 15 10-18 10 3 11-13 10 17 11-18 10 10 10 0 11 6 10 11 11 10 10-16 10 16 11-22 10 13 11 4 10-30 10 1 11-3 10 21 11 1 10-6 10-2 11-9 10 12 11 4 10-3" stroke="#B177DE" stroke-width="19.0" fill="none" stroke-linejoin="round" transform="scale(.1)"/>
<path d="M2757 26933l10-9 10 9 11-5 10 5 11-17 10-11 10-5 11 27 10-19 11 3 10-4 10 9 11-2 10 0 11 10 10-11 10-16 11 27 10-22 11 16 10-11 10-16 11 26 10-26 11 30 10-35 10 21 11-41 10 36 11 7 10-2 10-10 11 5 10-9 11 8 10-19 10-10 11 27 10-17 11 8 10-7 10-3 11 8 10 4 11 19 10-46 10 36 11-26 10 14 11-10 10 16 10-21 11 10 10-3 11-6 10-13 10 2 11-18 10-1 11-33 10 11 10-17 11 19 10 17 11 12 10 8 10 9 11 5 10 19 11-1 10 20 10 17 11-30 10 13 11-4 10 21 10-20 11-4 10-14 11 14 10-20 10-3 11-11 10-17 11 5 10-9 10 2 11 4 10 5 11 8 10 5 10 8 11 8 10 16 11 13 10-3 10 15 11-29 10 29 11-5 10-11 10 11 11-5 10-10 11 17 10-25 10 25 11-17 10 15 11-3 10 9 10-28 11 5 10 18 11-32 10 22 10-7 11 2 10 8 11-44 10 30 10-3 11-24 10 10 11 5 10-26 10-22 11 14 10 8 11-9 10-10 10-7 11-15 10-19 11-19 10-23 10-40 11 6 10-48 11-35 10-25 10-77 11-40 10-17 11-78 10 1 10-31 11-4 10 42 11 24 10 67 10 43 11 45 10 36 11 19 10 34 10 57 11 28 10 4 11 29 10 18 10 3 11 4 10 18 11 8 10 8 10-5 11 1 10 13 11 13 10-6 10 9 11 12 10-11 11-1 10-5 10 1 11 11 10 4 11-11 10-10 10 10 11-2 10 12 11 3 10-16 10 5 11 15 10-30 11-10 10-13 10 23 11-3 10-9 11 1 10-25 10 3 11 10 10-22 11 2 10-8 10 12 11 4 10-35 11 5 10-11 10-8 11-1 10-25 11 5 10 24 10-27 11-11 10-3 11-3 10 5 10-10 11-4 10-12 11 5 10-1 10-5 11 5 10-16 11 13 10-21 10 22 11-7 10 8 11-9 10 7 10 21 11-22 10 10 11 14 10 15 10 19 11-14 10 21 11 0 10 33 10-8 11-8 10 8 11 17 10 1 10 24 11-19 10 29 11 11 10 2 10-5 11 2 10 25 11-13 10 0 10 1 11 15 10-2 11 21 10 2 10-31 11 19 10 6 11-15 10 16 10 3 11-10 10-2 11 32 10-1 10-27 11-1 10 24 11-15 10-11 10 4 11 6 10-14 11 23 10-8 10 0 11 8 10-1 11-12 10 2 10 1 11 21 10-31 11 10 10 2 10 1 11-10 10 16 11-4 10 5 10-19 11-1 10 17 11-25 10 29 10-5 11-4 10 11 11-7 10 8 10-3 11-9 10-9 11 20 10 10 10-8 11 5 10-13 11-8 10-3 10 23 11-34 10 32 11-12 10-2 10 11 11-16 10 16 11-8 10 9 10-2 11-8 10 5 11-2 10-7 10 16 11-9 10 14 11-24 10 9 10-10 11 12 10-3 11 2 10 2 10 3 11-21 10 10 11 4 10-3 10 3 11-21 10 7 11 13 10 9 10-26 11 32 10-15 11-6 10-2 10 21 11-12 10 6 11-6 10 9 10-12 11 8 10-7 11 11 10-3 10 4 11-21 10 13 11-7 10 15 10-14 11 8 10-9 11 9 10 17 10-29 11 27 10-25 11 4 10-17 10 26 11-26 10 5 11 8 10-11 10 22 11 0 10 3 11-11 10 11 10-30 11 9 10-2 11 19 10 5 10 4 11-3 10-21 11 13 10-6 10 6 11 12 10-28 11 19 10-7 10 1 11 5 10-10 11 16 10-22 10 8 11 4 10 0 11 4 10-10 10-10 11 3 10 12 11 2 10-17 10 7 11-3 10-2 11 9 10-5 10 14 11-1 10-8 11 12 10-3 10-12 11 10 10-2 11-23 10 29 10-18 11-2 10-2 11-6 10 3 10 3 11 19 10-5 11-15 10 28 10-32 11-1 10-7 11 18 10-15 10 25 11-8 10-8 11-18 10 19 10-9 11-6 10 18 11-7 10 12 10-44 11 11 10 12 11 3 10-10 10-18 11 29 10-6 11 8 10-26 10-2 11 13 10 3 11-17 10-10 10 3 11 5 10 1 11-14 10 21 10-12 11-5 10-1 11 7 10 2 10-11 11-1 10 9 11-2 10-5 10-4 11 4 10-3 11 13 10-10 10 7 11-15 10-9 11 22 10-25 10 27 11-5 10 5 11-1 10-5 10-4 11 6 10 5 11-12 10 10 10 1 11 1 10-10 11 16 10 4 10 0 11-6 10-6 11 1 10 35 10-24 11 8 10-3 11-1 10 25 10-17 11 11 10-27 11 25 10 3 10 4 11-5 10-13 11 12 10-6 10 11 11-11 10 23 11-18 10 11 10-22 11 27 10-13 11 23 10-11 10 2 11 8 10 3 11-6 10 4 10 4 11-24 10 21 11 8 10-9 10-15 11 24 10-20 11 31 10-22 10 3 11-7 10-6 11 5 10 23 10-21 11 8 10-3 11 5 10-2 10-15 11 2 10 10 11 12 10-6 10-7 11 4 10-15 11 15 10 4 10-14 11 6 10 18 11-15 10-6 10-8 11 31 10-21 11 5 10-2 10 9 11-16 10 4 11 13 10-6 10-28 11 35 10 3 11-12 10-14 10 7 11 9 10-11 11 8 10-7 10-10 11 25 10-12 11 14 10 3 10-6 11-18 10-14 11 3 10 23 10-14 11 7 10-14 11 13 10 4 10-6 11-7 10 19 11-12 10 15 10-27 11 26 10-8 11-9 10-1 10 13 11-4 10 11 11 21 10-11 10-20 11-5 10 27 11-15 10-2 10 15 11-18 10-4 11-4 10 5 10 6 11-18 10 18 11 6 10-9 10 4 11-11 10 7 11-20 10 8 10 13 11 0 10 3 11-11 10 4 10-6 11 10 10-5 11 0 10 12 10-31 11 23 10-2 11-2 10 14 10-25 11 17 10-12 11-4 10 12 10-11 11 4 10 14 11-16 10 13 10-12 11 15 10-9 11 10 10-15 10 1 11 7 10 10 11 10 10-34 10 15 11 11 10-13 11 1 10-5 10 25 11-19 10-9 11-5 10 8 10 4 11-7 10 6 11 19 10-20 10 14 11-32 10 16 11-8 10-2 10 20 11-1 10-15 11 6 10 11 10 0 11-15 10-10 11 15 10 5 10-1 11 15 10-20 11-5 10 21 10-15 11-3 10-1 11 5 10 6 10-14 11 18 10-19 11 11 10-4 10-3 11 9 10-14 11 22 10-15 10 15 11-23 10 16 11-12 10 23 10-29 11 31 10 3 11-1 10-23 10 4 11 5 10 5 11-10 10-10 10 11 11 14 10-29 11 9 10-1 10 14 11 2 10-12 11 13 10-21 10 14 11-21 10 9 11 11 10-12 10-4 11 30 10-26 11 4 10 28 10-17 11-5 10-13 11 13 10 5 10 12 11-11 10-7 11 9 10-1 10-13 11 2 10-1 11 5 10-10 10 22 11 4 10-41 11 16 10 21 10 8 11-40 10 24 11-7 10-29 10 38 11 13 10-28 11 16 10-35 10 35 11-4 10 0 11-3 10 3 10 4 11-9 10 15 11 1 10-12 10 3 11-16 10-2 11-5 10-7" stroke="#CC9900" stroke-width="19.0" fill="none" stroke-linejoin="round" transform="scale(.1)"/>
<path d="M2757 26913l10-2 10-5 11-5 10-11 11-36 10-3 10 11 11-17 10 1 11-23 10-3 10-4 11 1 10-9 11-23 10 11 10-13 11-30 10-12 11-4 10 2 10-4 11-24 10-5 11-5 10-22 10-8 11 21 10-62 11 20 10-2 10-7 11-21 10 2 11 3 10-2 10-13 11-18 10 12 11-5 10 7 10-5 11 3 10-6 11 4 10 25 10 5 11-10 10 20 11-14 10 13 10 8 11 11 10-1 11 3 10-32 10 16 11-7 10 11 11 0 10 10 10 6 11 33 10 39 11 40 10 39 10 23 11-3 10 30 11-8 10 39 10-17 11-6 10 32 11-2 10-17 10-5 11-4 10 5 11-19 10-11 10 24 11-23 10-16 11-4 10-8 10-11 11 18 10-13 11-16 10 16 10 12 11 6 10-10 11 7 10 0 10 18 11-7 10-3 11-4 10-11 10-8 11-13 10 7 11-1 10-26 10 0 11-9 10-8 11-7 10-25 10-5 11-23 10-23 11-33 10-4 10-19 11-35 10-36 11-12 10-42 10-43 11-23 10-43 11-70 10-43 10-58 11-88 10-99 11-97 10-98 10-152 11-135 10-184 11-187 10-255 10-290 11-293 10-364 11-432 10-477 10-516 11-511 10-496 11-403 10-251 10-92 11 150 10 297 11 470 10 505 10 510 11 495 10 451 11 403 10 357 10 330 11 222 10 245 11 205 10 155 10 156 11 100 10 116 11 92 10 90 10 59 11 68 10 68 11 44 10 39 10 56 11 10 10 49 11 19 10 25 10 40 11 4 10 36 11-2 10 25 10 1 11 24 10 15 11-8 10 33 10-7 11 1 10-5 11 4 10 10 10 10 11 4 10 5 11-15 10 24 10-16 11-17 10-1 11-10 10 2 10 13 11-13 10 29 11-29 10-11 10 8 11-14 10-13 11 10 10-18 10 13 11-24 10 3 11 15 10-14 10-11 11 16 10-14 11-30 10 22 10-19 11 32 10 2 11-16 10 6 10-16 11 38 10-18 11-2 10 1 10 9 11 18 10-1 11 13 10 10 10 1 11 16 10 15 11 5 10 2 10 1 11 17 10 29 11 3 10-20 10 30 11 0 10 14 11 23 10-4 10 12 11-8 10 8 11 24 10-12 10 4 11 4 10-5 11 5 10-7 10 36 11-24 10-8 11 24 10-8 10 8 11 16 10-28 11 21 10-8 10 4 11 0 10 7 11 8 10-22 10 6 11-14 10 19 11-17 10 16 10 21 11-24 10-6 11 4 10-14 10 12 11 9 10 12 11-4 10-18 10 18 11-11 10-10 11-4 10 0 10 17 11-10 10-6 11 14 10 3 10 0 11-4 10 5 11-33 10 28 10-8 11 10 10-12 11-22 10 25 10-18 11 19 10-2 11-2 10-8 10 21 11 1 10-11 11-5 10 13 10-6 11-3 10-3 11 5 10 24 10-25 11-6 10 19 11-20 10 13 10-3 11 13 10-33 11-7 10 26 10 17 11-3 10-7 11-3 10 2 10-13 11 15 10-7 11-3 10-2 10 15 11-19 10 24 11-18 10 16 10-8 11-9 10 8 11-19 10 27 10 6 11-3 10-25 11 21 10-26 10 20 11 13 10-6 11-13 10 9 10 7 11-17 10-5 11 16 10-2 10-15 11 6 10 6 11-4 10-15 10 6 11 6 10 23 11-17 10 7 10-4 11-19 10 12 11 11 10-18 10 30 11-38 10 17 11-7 10 5 10-13 11 21 10-4 11 10 10-7 10-34 11 3 10-29 11 19 10-6 10 30 11-16 10 25 11-3 10-8 10 6 11-6 10 6 11 5 10 14 10-7 11-12 10 13 11-6 10 7 10-22 11 13 10 8 11-22 10 19 10-11 11-19 10 11 11 20 10 5 10-13 11-1 10 4 11-11 10 3 10 1 11 16 10-3 11-23 10 18 10-38 11 32 10-9 11-8 10-10 10 8 11-1 10 24 11-10 10-14 10 8 11-20 10 13 11-5 10-9 10-9 11 17 10-6 11 15 10-16 10-16 11-2 10-11 11 14 10-12 10 23 11-20 10-24 11 33 10-14 10-12 11 4 10 1 11-23 10 4 10-20 11 7 10-3 11 2 10-15 10 9 11-7 10-11 11 6 10-24 10 30 11-16 10-23 11 1 10 8 10-11 11 20 10-7 11 16 10-18 10-7 11-7 10 20 11-25 10 8 10 3 11 13 10-11 11 10 10-11 10-8 11 15 10 13 11-11 10 4 10-8 11 8 10-10 11 41 10-17 10 6 11-1 10 23 11-26 10 14 10 13 11-9 10-4 11 11 10 2 10 11 11-22 10 35 11-10 10 14 10 1 11-12 10 15 11-5 10 16 10-2 11-8 10 25 11 12 10-18 10 6 11-11 10 13 11 21 10-12 10 18 11-13 10 8 11-7 10 13 10-18 11 6 10 11 11-4 10-6 10 21 11 3 10-30 11 31 10 0 10 2 11-3 10-18 11-4 10 4 10 4 11 12 10-12 11 12 10-6 10 11 11-1 10-15 11 11 10-5 10 5 11 8 10-23 11 14 10 6 10-13 11-5 10 9 11 20 10-18 10 5 11 5 10-2 11-7 10-1 10 9 11-7 10 20 11-4 10-22 10-5 11 19 10-2 11-4 10 2 10 2 11 2 10-5 11-7 10 12 10-5 11-3 10 1 11 8 10-16 10 21 11-6 10-10 11 3 10 2 10 5 11-11 10-3 11-19 10 39 10-6 11-18 10 8 11 1 10-7 10-2 11 12 10 0 11 14 10-21 10-2 11 2 10 16 11 8 10-24 10 14 11 0 10-23 11 16 10 4 10-14 11 11 10-12 11-9 10 21 10 11 11-14 10-14 11-3 10 4 10 6 11-1 10 17 11 14 10-23 10 7 11-2 10 6 11-18 10 24 10-7 11-20 10 16 11-1 10-8 10 7 11-10 10-3 11 7 10-3 10 7 11 3 10 8 11-26 10 7 10 24 11-21 10 3 11-10 10 5 10 4 11 4 10 5 11-18 10 7 10-3 11 4 10-2 11 10 10 2 10-5 11-3 10-1 11 6 10-3 10-16 11 38 10-10 11-21 10 24 10-30 11 1 10 21 11-4 10-6 10 9 11-16 10 5 11 23 10-4 10-25 11 21 10-11 11 3 10-3 10 7 11-11 10-11 11 15 10-2 10 2 11-1 10 1 11-8 10 15 10 9 11-31 10 16 11-5 10-1 10-5 11 25 10-7 11-9 10-1 10 8 11-13 10 21 11 1 10-5 10-12 11-23 10 29 11 0 10 10 10-29 11 22 10-9 11-12 10 26 10 0 11-16 10 2 11 7 10-12 10 13 11 2 10 5 11 0 10-4 10-17 11 8 10 5 11 1 10 9 10-14 11-2 10-8 11 22 10-26 10 13 11 0 10 1 11 17 10-23 10 2 11 13 10 4 11-16 10 7 10 12 11-11 10-3 11 13 10-17 10-8 11 15 10-5 11 8 10 2 10-21 11 21 10-26 11 22 10-1 10 12 11-10 10-13 11 6 10-3 10-7 11 15 10-7 11-22 10 31 10-18 11 25 10-15 11-9 10 24 10-10 11 14 10-19 11 10 10-12 10-8 11 16 10 4 11-14 10 26 10-17 11 6 10 10 11-27 10 11" stroke="#00CBCC" stroke-width="19.0" fill="none" stroke-linejoin="round" transform="scale(.1)"/>
<path d="M2757 26933l10 1 10-5 11-3 10-6 11-4 10 6 10-24 11 9 10-5 11 22 10-13 10-2 11-17 10 13 11 1 10-7 10 7 11-9 10-10 11-11 10 23 10-45 11 24 10-9 11 13 10-12 10-4 11-5 10 7 11 2 10-7 10-10 11-21 10 32 11-2 10 2 10-2 11-23 10 13 11-5 10-17 10 9 11 0 10 6 11-3 10 1 10-7 11-6 10 13 11-2 10-5 10-2 11-11 10-5 11 8 10-6 10-2 11-15 10-26 11-12 10 24 10-25 11 16 10 11 11 13 10 39 10 23 11-1 10 13 11-4 10 22 10 9 11-2 10 9 11-8 10-9 10 8 11 11 10-15 11-24 10-11 10-9 11 4 10 2 11-18 10-12 10 2 11 12 10-11 11 3 10 36 10-5 11-13 10 9 11 7 10-1 10 11 11 2 10-11 11 19 10-8 10-32 11 20 10-18 11-3 10-4 10 0 11 24 10-43 11 0 10-12 10-10 11-24 10 27 11-24 10-34 10 20 11-31 10-11 11-12 10 1 10-37 11-16 10-24 11-30 10-34 10-45 11-23 10-60 11-53 10-52 10-77 11-85 10-90 11-100 10-147 10-145 11-177 10-182 11-256 10-231 10-289 11-274 10-255 11-229 10-166 10-35 11 67 10 175 11 233 10 292 10 251 11 272 10 261 11 218 10 199 10 156 11 141 10 113 11 120 10 93 10 73 11 77 10 58 11 48 10 32 10 40 11 45 10 22 11 35 10 32 10 27 11 3 10 20 11 15 10 17 10 4 11 23 10-7 11 15 10 5 10 3 11 29 10-21 11-20 10 38 10-22 11 18 10-19 11 16 10-3 10 4 11-25 10 3 11 24 10-27 10-2 11-3 10-20 11 4 10-12 10-7 11-9 10-3 11-27 10 30 10-10 11-11 10-18 11-24 10 3 10-7 11-12 10-7 11 10 10-12 10-3 11-10 10-4 11-2 10-9 10 24 11-49 10 15 11 20 10 5 10-29 11 11 10 10 11 8 10 5 10 18 11 12 10 10 11 4 10 15 10-8 11 24 10 1 11 27 10 26 10-2 11 5 10 28 11 12 10-4 10 9 11 23 10 3 11 9 10 2 10 30 11-12 10 7 11 3 10 4 10 25 11-8 10 10 11-11 10 21 10 10 11-4 10 10 11-13 10 16 10-6 11-8 10 13 11 1 10 2 10-8 11 19 10-30 11 19 10 5 10-26 11 20 10-12 11 1 10 10 10 7 11-6 10 4 11-13 10 15 10-3 11-3 10 8 11-28 10 28 10-3 11-14 10-10 11 29 10-17 10 9 11-9 10-5 11 9 10-5 10 16 11-6 10-15 11 3 10-5 10 5 11 5 10-2 11 18 10-12 10 4 11-22 10 31 11-7 10-1 10 4 11 0 10-2 11-7 10-7 10 5 11 7 10 1 11-1 10-17 10-5 11 28 10-3 11 2 10-7 10 2 11-25 10-6 11 18 10 16 10-30 11 36 10-24 11 13 10-7 10 6 11-8 10-11 11 27 10-1 10-3 11 0 10-31 11 17 10 5 10-8 11 26 10-21 11 28 10-24 10 7 11-2 10 10 11-29 10 17 10-24 11 34 10-4 11-27 10 21 10-6 11 14 10-4 11-7 10 9 10-10 11-9 10 16 11-4 10-9 10 1 11 11 10-14 11 1 10 24 10-11 11-10 10 18 11-5 10-5 10 3 11-5 10-21 11 20 10 4 10 6 11-22 10 3 11 20 10-11 10 15 11-40 10 29 11-8 10 13 10-9 11 3 10-16 11 3 10 7 10-2 11-7 10 27 11-20 10 4 10 5 11-3 10 5 11-4 10-9 10 9 11 10 10-12 11-6 10 6 10 20 11-7 10-25 11 10 10 1 10 7 11-14 10-7 11 12 10-3 10-6 11 1 10 1 11-10 10 28 10-10 11-1 10 8 11-17 10-13 10 21 11-15 10-6 11 21 10-13 10 3 11-22 10 12 11-8 10-8 10-10 11 17 10-2 11 0 10 0 10-4 11 10 10-6 11-11 10-19 10 13 11 6 10-18 11-9 10 4 10 11 11-11 10-14 11-9 10 12 10-2 11-13 10-3 11 0 10-12 10 1 11 11 10-7 11-10 10 14 10-23 11 8 10-34 11 25 10 2 10-10 11-11 10 6 11 14 10-12 10 5 11-6 10-1 11 3 10-15 10 19 11-3 10-11 11-7 10 18 10-3 11-18 10 25 11-17 10 20 10-4 11 12 10 1 11-13 10 20 10-5 11-4 10 10 11 18 10-22 10 12 11-5 10 29 11 4 10-11 10 8 11-15 10-2 11 23 10-6 10 5 11 4 10-5 11 24 10-14 10 17 11 5 10-11 11 8 10 3 10-4 11-2 10 4 11 29 10-11 10 3 11-2 10-7 11 12 10-11 10 15 11-26 10 34 11-11 10 0 10 6 11-9 10 4 11 13 10-12 10 23 11-12 10-5 11-20 10 14 10 4 11-2 10 5 11 8 10-1 10 2 11-21 10 14 11 3 10-1 10 4 11 4 10-20 11 17 10-1 10-1 11 18 10-3 11-9 10 7 10 3 11-26 10 27 11-21 10 20 10-11 11 8 10-2 11-9 10 16 10-19 11-10 10 5 11-2 10 8 10-12 11 7 10-18 11 41 10-23 10 8 11-1 10 15 11-16 10-6 10-2 11 0 10 29 11-21 10-5 10-7 11 8 10-10 11 13 10-4 10 22 11-13 10 2 11-6 10-11 10 17 11-9 10 15 11-15 10 8 10 4 11-6 10 1 11 3 10 2 10-16 11 4 10-13 11 24 10-5 10-11 11 13 10 11 11-19 10-17 10 29 11 2 10-15 11 9 10 5 10-7 11-3 10-7 11-2 10 19 10-13 11-9 10-14 11 24 10 1 10-6 11 1 10 7 11 5 10 0 10-33 11 42 10-11 11-1 10 0 10 1 11-9 10 4 11 29 10-28 10-11 11 3 10 30 11-34 10 8 10 16 11-19 10 10 11-1 10-4 10 20 11-16 10 11 11-24 10 44 10-28 11 3 10-8 11-4 10-5 10 15 11-7 10 11 11-15 10-8 10 25 11 1 10-10 11-11 10 7 10 18 11-2 10-16 11-17 10 29 10-4 11 5 10-7 11-16 10 17 10 19 11-16 10 6 11-18 10-2 10 14 11-4 10-18 11 5 10 9 10 17 11-18 10-1 11 0 10 18 10 9 11-35 10-17 11 44 10-18 10-3 11 2 10-5 11 6 10-11 10 27 11-11 10-18 11 28 10-17 10 16 11-20 10 10 11 11 10-24 10 29 11-20 10-1 11 5 10 1 10 1 11-3 10 9 11-2 10-15 10 11 11-19 10 12 11 8 10-7 10 15 11-13 10 12 11-21 10-10 10 18 11 5 10-4 11 2 10-6 10-2 11-4 10 4 11-2 10 7 10 17 11-13 10-3 11 4 10 16 10-8 11-22 10 16 11-15 10 6 10-2 11-1 10-4 11 16 10-6 10-1 11-10 10 23 11-24 10 3 10-2 11 18 10-23 11 0 10 25 10-22 11 9 10 10 11-12 10 6 10-1 11 15 10 3 11-4 10-9 10-4 11 12 10-5 11-21 10 7 10 2 11 18 10-11 11 3 10-6" stroke="#7D4E4E" stroke-width="19.0" fill="none" stroke-linejoin="round" transform="scale(.1)"/>
<path d="M2757 26927l10 5 10-1 11-9 10 8 11-21 10-12 10 24 11-18 10 33 11-35 10 17 10 4 11 1 10-7 11-3 10-20 10-1 11 15 10-1 11 4 10-20 10-7 11-4 10 10 11 16 10-19 10-15 11 16 10-13 11-17 10 12 10-4 11-1 10 0 11 10 10-28 10 27 11-18 10 7 11-2 10 4 10-9 11 9 10 1 11 1 10-7 10 8 11-4 10 1 11-13 10-16 10 33 11-18 10-7 11-6 10 14 10-36 11-15 10 5 11-18 10-36 10 0 11 19 10 34 11 21 10 9 10 19 11 30 10-7 11 3 10 21 10-8 11 1 10 9 11-9 10 9 10-1 11-15 10 5 11-4 10-5 10-5 11 5 10-30 11-5 10 13 10 0 11-13 10-7 11 23 10-17 10 25 11-10 10 17 11 1 10 19 10-7 11 10 10-5 11-8 10-6 10 24 11-16 10-1 11-11 10-4 10 11 11 3 10-15 11-19 10 8 10-9 11 7 10-28 11 20 10-17 10-3 11 0 10-25 11-10 10-1 10-21 11-6 10-29 11-6 10-3 10-46 11-5 10-27 11-33 10-35 10-50 11-30 10-73 11-43 10-96 10-48 11-114 10-117 11-123 10-130 10-160 11-163 10-162 11-137 10-103 10-52 11 12 10 74 11 100 10 149 10 175 11 164 10 134 11 131 10 154 10 75 11 99 10 77 11 60 10 75 10 45 11 52 10 29 11 46 10 18 10 25 11 11 10 28 11 7 10 32 10-15 11 31 10 23 11 8 10-16 10 6 11 19 10 14 11 5 10-5 10-14 11 26 10-19 11 5 10 18 10-13 11-9 10 6 11-1 10 7 10-46 11 15 10-7 11 14 10-15 10 2 11 6 10-13 11 0 10-3 10-16 11-15 10-9 11-1 10-5 10 4 11-31 10 5 11-9 10-2 10-11 11 4 10-21 11 10 10-3 10-4 11-17 10-6 11 0 10-2 10-3 11-5 10 4 11-8 10 5 10 15 11-25 10 22 11-7 10 29 10-6 11-6 10-19 11 38 10 24 10-1 11 13 10 24 11-14 10 25 10 11 11 24 10 10 11 5 10 18 10 6 11 14 10-6 11 15 10 15 10-24 11 52 10-14 11 5 10 4 10 15 11-6 10-6 11 18 10-4 10 2 11 17 10-5 11-6 10-7 10 13 11-11 10 22 11 7 10-17 10 2 11 4 10-19 11 10 10 8 10 2 11-2 10-3 11-11 10 30 10-21 11 7 10-10 11 1 10 3 10 10 11 10 10-25 11 11 10-4 10-5 11 6 10 7 11-3 10 0 10 8 11-17 10 5 11 10 10-9 10-4 11 11 10-1 11-3 10-13 10 0 11 9 10-4 11 1 10-1 10 17 11-13 10-5 11 31 10-11 10-28 11 15 10-7 11 14 10-15 10 5 11 8 10-7 11 11 10 5 10 0 11 7 10-18 11 5 10-15 10 2 11 9 10-3 11 2 10 20 10-25 11 5 10-10 11-6 10-2 10 6 11 29 10-27 11 4 10 10 10-17 11 14 10-13 11-12 10 26 10-13 11-2 10 0 11 16 10 15 10-39 11 22 10-2 11 4 10 3 10-16 11-5 10 2 11 10 10-5 10 18 11-25 10 18 11 8 10-17 10 8 11-27 10 17 11-4 10-11 10 30 11-4 10-23 11 16 10-3 10-5 11 6 10 2 11 2 10-1 10-8 11-1 10 24 11-8 10 7 10-16 11 0 10-13 11 27 10-7 10 1 11-9 10-3 11-2 10 0 10-1 11 4 10 3 11-5 10 8 10-7 11 0 10-3 11 10 10 16 10-16 11-8 10 3 11 0 10 7 10-13 11 9 10 8 11-11 10 9 10-22 11-5 10 23 11-19 10 4 10 5 11-1 10 11 11 14 10-23 10-14 11 20 10-4 11-6 10 3 10-14 11 20 10-18 11 26 10-7 10-19 11 5 10-9 11 19 10-12 10-12 11 15 10-21 11 7 10-7 10 26 11-25 10 12 11-8 10-10 10 11 11 7 10-20 11-27 10 3 10 3 11 10 10 4 11-16 10 1 10 10 11-25 10 8 11-5 10-2 10-2 11-9 10 12 11-28 10 5 10 2 11 11 10-22 11 22 10-28 10 16 11-19 10 6 11-17 10 23 10 19 11-40 10 17 11-8 10-6 10-2 11-4 10 17 11 0 10-14 10-2 11-2 10 17 11-3 10 4 10-7 11-21 10 43 11-6 10-26 10 8 11 18 10-10 11-16 10 31 10-7 11-2 10 5 11 9 10 13 10-18 11 2 10 13 11 19 10-20 10 21 11 9 10-27 11 10 10 2 10 5 11 2 10-13 11 11 10 22 10 6 11-16 10 7 11 2 10 19 10 10 11-1 10-7 11 11 10 0 10 2 11-10 10-3 11 6 10 11 10-1 11-1 10-12 11-11 10 5 10 25 11-10 10-7 11 4 10-7 10 20 11-6 10-3 11-10 10 6 10 1 11 25 10-29 11 11 10 16 10-13 11-6 10 9 11-8 10 19 10-36 11 31 10-7 11 15 10 0 10-20 11 12 10 2 11-13 10 2 10 5 11-4 10 0 11 12 10-9 10 5 11-4 10 15 11-27 10 17 10-16 11-5 10 18 11-23 10 28 10-7 11 4 10 2 11-5 10 1 10 3 11-5 10-3 11-3 10 3 10 0 11 1 10-18 11 25 10 7 10-16 11-3 10 4 11-7 10 21 10-20 11-6 10 9 11-4 10-6 10 14 11 15 10-21 11-3 10 19 10-31 11 20 10-6 11 13 10 3 10-9 11 7 10-17 11-1 10 37 10-35 11 21 10-34 11 25 10-6 10 8 11-10 10 9 11-3 10 1 10-8 11 12 10 2 11-9 10 0 10 1 11 13 10-14 11 9 10-2 10-17 11 22 10 2 11-8 10-9 10 4 11 4 10-17 11-1 10 36 10-17 11 13 10-19 11 4 10-12 10 33 11-13 10-5 11-15 10 5 10-6 11 6 10-1 11 11 10 5 10-24 11 20 10-1 11-19 10 3 10 17 11-17 10-2 11 15 10-9 10-7 11 23 10-14 11 11 10-4 10 11 11-7 10-16 11 16 10-13 10-4 11 15 10-8 11 8 10 1 10 12 11-23 10-7 11 18 10 1 10-11 11 5 10 2 11-25 10 23 10 6 11 1 10-3 11-20 10 8 10-7 11 24 10-32 11 25 10-10 10 19 11-9 10 11 11-15 10-7 10 25 11-11 10 0 11-3 10-2 10-8 11 6 10 10 11-15 10 7 10 13 11-28 10 16 11 11 10-12 10 8 11 3 10-17 11 18 10-3 10 5 11-10 10-3 11-6 10-12 10 18 11 6 10-2 11-9 10 6 10-9 11-3 10 16 11-8 10-2 10 12 11 1 10-8 11 7 10-11 10-12 11 9 10 5 11 8 10-26 10 26 11-11 10 7 11-7 10-8 10 9 11-1 10-7 11 31 10-15 10 1 11 25 10-21 11-20 10-4 10 32 11-11 10-12 11 7 10-14 10 12 11-2 10 4 11 5 10-17 10-8 11 2 10 16 11-2 10 2 10-7 11 3 10-1 11 6 10 14 10-1 11-18 10 2 11 4 10 8 10-13 11-7 10 6 11-7 10 9" stroke="#8E8E00" stroke-width="19.0" fill="none" stroke-linejoin="round" transform="scale(.1)"/>
<path d="M2757 26932l10-9 10 1 11-11 10 2 11 9 10 3 10-8 11-12 10-10 11 0 10-7 10 16 11-15 10-2 11 4 10 4 10-14 11-6 10 9 11-1 10-24 10 1 11 23 10-25 11-5 10 9 10-2 11-9 10-13 11 4 10 0 10 10 11-24 10 5 11 13 10-2 10-3 11-10 10 2 11-11 10 21 10-28 11 31 10-10 11-20 10-3 10 26 11-5 10-14 11-21 10 32 10-1 11-23 10 8 11 0 10-21 10-10 11-18 10 13 11-24 10 3 10-16 11 12 10 23 11 11 10 38 10 2 11 39 10 10 11 7 10-16 10 14 11 12 10-2 11 14 10-2 10-14 11-4 10 6 11-25 10 11 10 3 11-22 10-8 11-22 10 19 10-23 11 12 10-5 11 12 10 2 10 24 11-14 10 13 11-1 10 12 10-4 11 21 10-24 11 0 10-2 10 1 11 10 10-43 11 17 10-22 10 11 11 4 10-14 11-10 10-7 10-3 11-17 10-16 11-3 10-14 10-21 11-12 10-2 11-42 10-6 10-28 11-10 10-30 11-35 10-44 10-38 11-55 10-33 11-56 10-62 10-84 11-78 10-120 11-122 10-116 10-177 11-206 10-198 11-253 10-305 10-294 11-330 10-336 11-255 10-171 10-73 11 72 10 175 11 293 10 304 10 321 11 322 10 287 11 245 10 218 10 188 11 160 10 131 11 109 10 132 10 76 11 87 10 61 11 46 10 37 10 75 11 16 10 54 11-2 10 44 10 38 11 12 10 19 11 12 10 13 10 37 11-15 10 10 11 4 10 12 10 24 11 3 10-6 11-2 10 17 10 9 11 9 10-1 11-24 10 13 10-6 11-4 10-5 11 4 10-7 10-4 11-2 10-16 11-12 10 22 10-19 11-9 10-1 11-24 10 13 10-4 11-6 10-14 11 0 10-36 10 15 11 1 10-9 11 3 10-20 10 23 11-13 10-13 11 4 10-15 10 21 11-9 10-14 11 10 10 2 10-9 11-7 10 32 11-8 10-9 10 8 11 19 10 10 11 1 10 8 10 11 11 8 10 20 11-5 10 38 10-14 11 20 10 2 11 29 10 14 10-10 11 9 10 34 11-19 10 10 10 27 11-20 10 20 11-8 10-5 10 19 11 16 10-14 11 17 10-5 10 13 11 4 10 3 11-6 10 5 10-12 11-14 10 41 11 10 10 0 10-16 11-25 10 31 11-8 10 6 10-13 11 9 10 3 11-2 10 15 10-11 11-5 10-12 11 16 10 9 10-19 11 4 10 4 11 18 10-8 10-22 11 16 10-15 11 15 10-14 10-6 11 17 10-1 11-8 10 13 10 2 11-19 10 20 11-4 10-23 10 14 11 11 10-13 11 12 10-8 10-2 11-1 10 15 11-6 10-12 10-13 11 27 10-9 11 16 10-17 10-3 11-3 10 13 11-1 10 21 10-13 11-17 10 12 11-5 10 5 10-5 11 14 10-13 11-1 10 0 10-20 11 27 10-6 11 0 10-14 10 9 11 17 10-19 11 6 10-15 10 31 11-27 10 20 11-9 10 1 10-4 11-3 10 0 11 7 10 3 10-2 11-1 10 4 11-11 10 22 10-23 11 16 10-13 11-7 10 3 10-4 11 16 10-11 11 2 10 10 10 6 11-2 10-21 11 15 10-12 10 8 11-5 10 15 11-1 10 4 10-7 11-14 10 15 11 0 10-5 10 0 11-3 10 10 11-7 10 20 10-28 11-4 10 18 11-11 10 6 10 7 11-9 10 5 11 1 10 3 10-2 11-23 10 10 11 4 10 4 10-1 11 9 10 5 11 2 10-5 10-6 11 3 10 2 11-19 10 14 10-16 11 20 10-22 11 5 10-3 10-8 11 15 10 6 11-13 10-16 10 24 11 0 10-18 11 13 10 13 10-9 11-11 10 10 11 2 10-17 10 0 11-7 10 28 11-9 10-8 10-17 11 9 10 8 11-2 10-11 10 16 11-17 10 0 11-11 10 10 10 5 11 8 10-17 11-29 10 13 10 12 11 2 10-8 11-4 10-4 10-15 11-10 10 18 11 7 10-17 10 5 11-8 10 14 11-30 10 5 10-22 11 10 10 16 11-6 10-3 10-9 11-16 10 15 11-5 10-26 10 24 11-21 10 6 11 1 10 8 10-16 11 18 10-3 11-26 10 8 10-2 11-20 10 13 11 9 10 7 10-17 11 2 10-9 11 17 10-3 10-1 11 7 10 8 11-10 10 1 10-3 11 3 10-1 11 13 10-3 10-3 11 21 10-8 11 3 10 18 10-7 11 0 10 7 11 15 10-8 10 13 11 2 10-6 11 1 10 9 10 10 11-13 10 4 11 10 10-14 10 10 11 13 10-16 11 8 10 12 10 11 11-2 10-10 11 10 10 3 10 8 11-7 10 7 11-8 10-7 10-1 11 10 10 0 11 11 10-2 10 15 11-11 10 11 11-10 10-2 10-2 11 1 10 7 11 8 10-2 10-7 11 12 10-13 11 2 10-5 10 4 11 12 10-2 11 8 10-10 10 9 11-10 10-9 11 9 10-2 10-20 11 34 10-24 11 8 10-18 10 22 11 28 10-32 11-2 10 8 10-6 11-19 10 16 11 15 10-3 10-5 11 4 10-4 11 3 10-7 10 10 11-21 10 16 11 4 10 3 10-6 11-20 10 14 11-7 10 16 10-9 11 17 10-27 11 14 10-18 10 20 11-6 10 4 11-16 10 11 10 1 11 1 10 1 11-1 10-5 10 27 11-27 10 13 11-7 10-2 10 12 11-7 10 10 11-29 10 25 10-13 11 0 10-4 11 7 10 10 10-13 11 12 10 7 11-8 10-6 10-8 11 22 10-5 11-9 10 2 10-16 11 13 10 14 11-24 10 13 10 4 11 11 10-7 11-4 10-7 10 0 11-15 10 6 11 8 10-4 10 6 11 7 10-10 11 12 10-15 10 10 11-2 10-9 11 9 10 10 10-1 11-24 10 12 11 1 10 2 10 10 11-10 10-8 11 10 10-5 10 6 11-4 10-16 11 12 10-16 10 31 11 13 10-28 11 11 10-2 10-5 11-4 10 8 11-4 10-15 10-5 11 21 10 20 11-1 10-13 10-8 11 12 10-11 11-10 10 8 10-15 11 19 10-3 11 11 10-13 10-4 11 11 10 0 11-8 10 6 10 10 11-30 10 22 11 0 10 2 10-3 11 10 10 1 11-1 10-24 10 8 11 1 10-4 11 9 10-13 10 8 11 14 10 18 11-28 10-1 10 1 11-10 10 16 11-9 10 3 10-7 11 3 10 10 11-2 10-13 10 10 11 13 10-19 11 13 10 3 10-12 11 1 10-11 11 22 10-5 10-17 11-13 10 22 11 1 10 0 10 5 11 1 10-15 11 3 10 18 10-24 11 13 10 10 11-10 10-21 10 20 11-5 10-8 11 12 10 12 10-17 11 0 10 7 11-3 10 13 10-6 11-7 10 23 11-58 10 32 10 10 11 4 10-3 11-1 10-11 10 1 11-4 10 5 11 7 10-2 10 16 11-31 10 11 11 12 10-15 10-14 11 20 10-9 11-3 10-11 10 13 11-4 10 11 11-10 10 13 10-5 11 18 10-18 11 8 10-2 10-1 11 4 10-14 11 17 10-28" stroke="#FB6501" stroke-width="19.0" fill="none" stroke-linejoin="round" transform="scale(.1)"/>
<path d="M2757 26933l10-14 10 5 11-9 10-26 11-6 10 17 10-20 11 11 10-29 11 26 10-5 10-23 11-10 10 15 11-25 10-9 10 1 11-2 10-13 11 8 10-21 10-15 11 4 10 10 11-10 10-4 10-6 11-39 10 16 11 3 10-2 10 1 11-4 10-20 11 15 10-19 10-2 11 15 10-10 11-18 10 14 10-3 11-14 10 5 11 2 10 10 10 15 11-12 10-8 11 15 10-32 10 19 11 1 10-2 11-35 10-4 10 2 11-35 10-12 11-24 10-9 10 3 11 30 10 24 11 39 10 54 10 7 11 35 10 11 11 22 10 22 10 9 11-7 10 8 11-4 10 3 10 0 11-8 10-3 11 31 10-69 10 30 11-17 10-14 11-5 10 8 10-22 11-6 10-4 11 14 10-6 10 4 11 11 10 9 11-34 10 36 10-19 11-15 10 21 11-3 10-17 10-16 11 8 10-21 11-4 10-8 10-20 11 2 10-44 11 10 10-41 10-9 11-22 10-30 11 1 10-43 10-28 11-41 10-31 11-61 10-24 10-47 11-62 10-47 11-79 10-90 10-98 11-89 10-100 11-122 10-164 10-185 11-171 10-224 11-278 10-278 10-357 11-382 10-434 11-498 10-534 10-518 11-533 10-510 11-360 10-176 10-11 11 207 10 351 11 474 10 545 10 530 11 547 10 471 11 429 10 410 10 323 11 303 10 269 11 211 10 194 10 182 11 147 10 131 11 116 10 88 10 103 11 60 10 62 11 76 10 66 10 38 11 27 10 32 11 60 10 31 10 29 11 23 10 37 11 14 10 28 10 7 11 16 10 16 11 21 10 10 10 10 11-22 10 31 11-8 10 19 10 14 11-9 10 7 11-10 10 4 10 5 11-12 10 17 11 2 10-3 10-38 11 34 10 1 11-23 10-2 10 9 11 6 10 3 11-22 10 5 10-12 11-24 10 23 11 6 10-8 10-28 11 9 10-12 11 1 10-12 10 19 11-1 10 21 11-29 10 7 10 14 11-7 10-2 11 5 10 8 10 5 11 14 10-16 11 9 10 41 10-11 11 14 10 20 11 7 10-10 10 11 11 21 10 6 11 12 10 9 10 28 11-20 10 27 11-25 10 43 10 1 11-5 10-1 11 24 10-8 10 10 11-18 10 18 11 5 10 3 10-3 11 13 10-17 11 16 10 19 10-6 11-17 10 22 11-7 10-26 10 26 11-24 10 14 11 1 10 4 10 9 11 1 10-11 11 13 10-13 10 3 11-19 10 15 11 5 10-13 10 5 11 8 10-5 11-14 10 16 10-2 11 16 10-28 11 7 10 21 10-21 11 15 10 3 11-3 10 6 10 0 11-3 10-16 11 13 10-9 10 1 11 4 10-7 11 11 10-8 10 4 11 16 10-21 11 15 10-9 10-3 11 15 10-13 11-15 10 17 10 1 11-17 10 14 11-2 10 0 10 7 11-5 10-10 11 22 10-32 10 18 11 5 10-12 11 18 10-9 10-3 11 2 10-9 11 23 10-11 10-11 11 17 10-6 11 2 10-4 10 5 11 4 10-10 11 0 10 5 10 1 11-2 10-12 11 14 10-12 10 1 11-5 10 8 11 1 10-3 10-5 11 16 10-5 11 12 10-15 10 4 11-11 10 17 11-27 10-1 10 36 11-24 10 16 11-13 10 21 10-13 11-13 10 2 11 12 10-5 10-9 11-9 10 6 11 20 10-2 10-4 11-4 10 20 11-10 10-6 10 6 11 12 10-16 11-19 10-10 10 13 11-27 10-4 11-8 10-10 10 26 11 18 10 7 11 9 10 16 10-21 11 15 10-18 11-2 10 14 10 0 11 0 10 0 11 7 10-3 10 16 11-28 10-6 11 15 10-4 10-4 11 4 10-4 11 13 10-15 10 2 11-3 10 14 11-4 10-18 10 17 11-2 10-16 11 4 10 9 10-12 11-2 10-14 11 4 10 14 10-7 11 9 10-10 11-11 10 9 10-4 11-13 10-20 11 15 10-3 10 7 11-13 10 16 11-7 10 5 10-30 11 9 10-4 11-4 10-2 10-1 11-8 10 10 11 2 10-12 10-8 11-19 10-7 11 9 10-23 10 10 11 3 10 6 11-20 10-8 10 6 11-3 10-2 11-26 10 15 10-5 11-1 10-2 11-4 10-21 10 3 11-3 10 17 11-10 10 16 10-23 11 2 10-14 11 13 10-10 10 17 11-3 10 17 11-10 10-2 10 10 11-13 10-10 11 23 10 4 10-16 11 9 10 14 11-7 10 14 10 16 11-10 10-8 11 7 10 4 10 15 11 7 10-14 11 9 10-13 10 38 11-22 10 7 11 11 10 25 10 7 11-25 10 2 11 6 10 18 10 1 11-2 10 19 11-11 10 2 10-2 11 21 10-19 11 14 10 1 10 13 11 0 10-8 11 14 10-8 10 2 11 7 10 10 11-22 10-3 10 1 11 24 10-2 11 5 10-3 10 1 11 0 10-4 11 7 10-6 10 41 11-42 10 29 11-41 10 38 10-13 11-2 10-17 11 31 10-5 10-14 11 21 10-35 11 11 10 26 10-23 11 5 10 13 11-19 10 12 10-12 11 9 10-17 11 7 10 8 10 5 11 6 10-12 11-5 10 3 10 9 11-2 10-9 11 1 10-15 10 37 11-12 10 2 11-11 10-12 10 30 11-11 10-12 11 13 10-11 10 19 11-29 10 9 11 13 10-24 10-4 11 18 10 0 11 5 10 9 10-20 11 11 10-6 11 9 10-3 10-5 11-5 10 4 11 9 10-19 10 9 11-2 10-2 11 2 10 14 10-5 11 10 10-22 11 24 10-16 10 6 11-1 10 2 11-13 10 7 10 5 11-1 10 1 11-22 10 22 10-9 11 5 10-7 11 6 10 9 10-11 11-11 10 1 11 24 10-23 10 3 11 9 10-9 11 16 10-14 10 19 11-18 10-3 11 17 10 2 10-10 11 16 10-21 11 3 10-23 10 26 11 13 10-18 11 5 10-12 10 17 11-6 10 2 11-1 10 4 10-14 11 5 10 10 11-13 10-1 10 13 11 2 10-5 11-8 10 5 10 2 11 15 10-11 11-4 10-7 10 7 11 6 10-1 11-10 10 6 10 29 11-19 10-3 11-13 10 4 10-2 11 3 10 9 11 1 10-12 10-2 11-15 10 23 11-4 10 0 10-23 11 18 10-4 11 10 10 1 10-11 11 30 10-16 11-11 10 5 10 18 11-15 10-3 11 6 10-16 10 15 11-7 10 15 11-14 10-8 10 1 11 24 10-15 11 6 10-2 10 3 11 0 10-9 11-14 10 16 10-19 11 25 10 9 11-10 10-7 10 9 11 5 10-28 11 2 10 4 10 6 11 2 10 8 11-3 10-5 10 12 11-9 10-3 11 5 10-1 10 0 11-14 10 22 11 2 10-6 10-13 11 5 10 18 11-6 10-22 10 32 11-23 10-17 11 37 10-21 10 17 11-9 10 3 11 16 10-17 10-8 11 4 10-19 11 32 10-7 10 11 11-3 10-25 11-3 10 2 10 10 11 0 10-17 11 3 10 18 10-14 11 11 10-18 11 11 10 6 10 11 11-8 10-4 11 1 10 3 10 7 11-8 10-1 11-13 10 11 10-5 11 14 10 0 11 3 10-4" stroke="#6699CC" stroke-width="19.0" fill="none" stroke-linejoin="round" transform="scale(.1)"/>
<path d="M2757 26932l10-12 10 8 11-8 10 14 11-20 10-5 10-9 11 16 10-6 11-1 10 8 10-27 11 8 10-23 11 20 10-9 10 19 11-9 10-3 11-29 10 18 10 10 11-16 10 11 11-32 10 19 10 2 11-6 10-21 11 16 10-18 10 11 11-2 10-12 11 15 10-13 10 10 11 9 10-15 11 3 10 2 10-7 11 1 10-13 11 9 10 13 10-9 11-3 10-9 11 0 10 13 10-25 11 4 10 2 11 1 10 11 10-50 11-6 10-11 11 7 10-7 10-7 11 9 10 30 11 11 10 5 10 50 11-11 10 10 11 18 10 3 10 6 11 1 10-9 11 22 10-40 10 12 11 7 10-8 11-2 10-21 10-9 11 17 10-24 11-13 10 13 10-13 11 4 10 6 11 6 10-6 10 27 11-11 10 4 11 12 10 14 10 8 11-2 10-8 11-9 10 28 10-40 11 19 10-18 11 11 10-6 10-17 11 11 10-35 11 21 10-3 10-26 11-10 10 13 11-25 10 11 10-40 11 6 10-5 11-34 10-9 10-21 11-6 10-44 11-14 10-12 10-41 11-24 10-37 11-70 10-53 10-59 11-33 10-89 11-95 10-79 10-119 11-169 10-140 11-175 10-187 10-251 11-202 10-221 11-236 10-142 10-77 11-38 10 75 11 159 10 185 10 211 11 227 10 227 11 221 10 165 10 166 11 163 10 106 11 114 10 79 10 92 11 45 10 80 11 49 10 48 10 19 11 55 10 43 11 17 10 7 10 23 11-2 10 42 11 13 10 19 10 5 11 10 10 6 11 30 10-26 10 20 11 8 10 5 11-6 10-4 10-2 11 7 10-15 11 36 10-22 10-10 11-2 10 1 11 8 10-10 10-15 11 6 10-19 11 10 10-14 10 7 11-16 10-20 11 0 10 0 10-39 11 19 10-17 11-16 10 16 10-15 11-6 10-16 11-3 10 4 10-1 11-3 10-22 11-8 10 8 10-1 11-15 10 18 11-3 10-27 10 15 11 8 10 27 11-23 10 20 10-9 11 10 10 16 11 4 10 3 10 14 11 26 10 6 11 20 10 10 10 24 11-12 10 26 11 6 10 28 10 22 11 0 10-3 11 8 10-3 10 23 11 11 10-4 11 14 10 2 10-2 11 35 10-22 11 36 10-14 10 5 11-4 10-13 11 20 10-1 10-2 11 16 10 6 11-19 10 1 10 2 11 5 10 9 11-18 10 15 10-19 11 20 10-4 11 2 10-23 10 18 11-12 10 16 11-23 10 14 10-6 11 4 10 16 11-24 10 10 10-15 11 35 10-5 11-20 10 3 10 28 11-15 10 2 11-12 10-7 10 3 11 11 10-4 11 1 10 11 10-17 11 6 10 24 11-24 10-6 10-10 11 14 10-5 11 9 10-7 10 0 11 3 10 6 11 0 10-24 10 8 11-3 10 12 11-4 10 25 10-15 11-9 10 9 11-6 10 17 10-6 11-20 10 36 11-28 10 0 10-1 11-11 10 1 11 16 10-2 10 7 11 2 10 7 11-7 10-20 10 0 11 4 10 4 11 9 10-4 10 13 11-17 10 2 11-1 10 8 10 0 11 0 10-17 11 4 10 10 10-14 11 1 10-4 11 24 10-18 10 5 11 5 10 10 11-9 10 3 10-16 11-12 10 38 11-13 10-7 10 18 11-8 10-13 11 24 10-29 10 5 11 9 10 0 11 2 10 5 10-9 11-6 10 0 11 4 10 17 10-7 11-19 10 8 11-2 10-12 10 30 11-22 10 0 11 20 10 9 10-7 11-11 10 18 11-2 10-14 10 6 11-12 10 12 11-6 10-5 10 10 11-8 10-3 11-2 10 8 10 6 11-3 10-10 11 12 10-9 10 1 11-5 10-4 11-3 10 17 10-7 11-5 10 6 11-5 10 21 10-39 11 18 10-15 11 15 10-10 10 0 11-7 10 20 11-15 10 18 10-6 11 2 10-14 11-18 10 29 10-28 11 9 10 5 11 1 10-19 10 4 11-7 10 9 11 14 10-2 10-26 11 11 10-14 11 5 10-3 10 14 11-36 10 30 11-18 10-15 10 26 11-28 10-11 11-13 10 20 10-12 11 11 10-24 11 9 10 10 10-12 11-12 10 4 11-20 10 16 10 0 11-18 10 10 11 6 10-26 10 17 11-14 10 6 11-40 10 40 10-4 11 0 10 6 11-24 10 18 10 2 11-10 10 28 11-18 10-3 10-11 11 13 10 13 11-9 10-2 10 12 11 15 10-11 11 1 10-6 10 19 11 9 10-9 11 7 10-16 10-8 11 34 10-20 11 28 10 13 10-13 11-7 10 4 11 3 10 6 10 5 11 1 10 16 11-16 10-7 10 14 11 4 10-6 11 8 10 1 10 17 11-1 10 9 11-4 10 10 10-12 11 7 10 1 11-15 10 10 10 3 11 6 10-4 11 5 10-24 10 23 11 12 10 5 11-21 10 8 10-11 11 15 10 3 11 11 10-9 10-6 11 17 10-16 11 9 10 7 10-17 11 17 10-9 11-7 10-7 10 0 11 17 10-13 11 14 10-5 10-13 11 11 10 14 11-4 10 8 10-5 11-31 10 18 11 5 10 2 10-17 11 7 10 4 11 11 10-7 10-12 11 12 10 6 11-14 10 2 10 11 11-2 10-13 11-4 10 23 10-16 11 18 10-22 11 3 10 7 10 4 11 5 10 4 11-16 10 6 10-6 11-9 10 16 11-4 10 14 10-29 11 10 10 3 11-3 10 21 10-10 11-4 10-6 11 11 10-9 10 1 11 12 10-15 11 7 10-1 10-2 11 10 10-14 11 0 10 13 10-3 11 3 10-32 11 21 10 10 10 6 11-11 10-7 11 14 10-11 10 9 11 5 10-16 11 26 10-34 10 27 11-14 10-5 11-1 10 4 10 10 11-23 10 33 11-27 10 6 10-13 11 10 10-7 11 29 10-32 10 4 11 21 10-4 11-21 10 16 10-3 11-1 10-11 11 25 10-19 10 16 11-1 10 4 11 4 10-27 10-3 11 12 10-21 11 37 10 0 10-20 11-5 10 28 11-10 10-6 10 9 11-9 10 24 11-11 10-21 10 3 11-7 10 3 11 26 10-17 10-4 11 16 10-11 11 7 10 11 10-27 11 7 10-9 11-7 10 13 10-3 11 0 10 21 11-32 10 25 10-1 11 11 10-26 11 10 10-17 10 20 11 0 10 11 11-26 10 11 10-7 11 22 10 0 11-19 10 11 10-2 11 6 10-10 11 4 10-6 10 13 11-34 10 25 11-16 10 3 10 18 11-15 10 25 11 4 10-12 10-9 11-15 10 18 11-14 10 4 10 17 11-18 10-5 11 1 10 17 10-5 11 0 10 12 11 7 10-13 10-13 11 21 10-22 11 19 10-19 10 17 11-13 10 12 11-10 10 1 10 6 11-1 10-6 11-4 10 8 10-7 11 4 10-12 11 32 10-13 10-2 11 3 10 2 11-2 10-7 10 1 11 1 10-5 11 6 10 6 10-17 11-10 10 8 11 16 10-2 10-25 11 37 10-28 11 8 10 11 10 4 11-24 10 6 11 3 10 6 10 4 11-7 10 6 11-4 10 6 10-2 11-17 10 14 11 16 10-2 10-15 11 2 10 16 11-26 10-20" stroke="#6FB802" stroke-width="19.0" fill="none" stroke-linejoin="round" transform="scale(.1)"/>
<path d="M2757 26924l10 1 10 8 11-2 10-10 11-1 10-11 10 9 11-11 10-11 11 6 10-5 10 5 11-16 10 2 11 22 10-28 10 18 11-25 10 20 11-8 10-2 10-3 11 0 10 15 11-24 10-22 10 8 11 12 10-17 11-14 10 29 10-1 11-20 10 9 11-8 10 11 10-18 11 19 10-6 11-4 10-2 10 5 11-4 10 3 11-11 10 12 10-10 11-14 10 7 11 1 10 11 10 8 11-15 10 0 11-9 10-17 10 10 11-13 10-20 11-22 10 1 10 19 11-7 10 7 11 34 10 1 10 30 11 14 10 20 11-22 10 37 10 0 11-1 10 13 11-15 10 1 10 5 11 0 10-18 11-16 10 2 10 4 11 4 10-22 11 12 10-40 10 23 11-10 10 16 11 8 10-22 10 20 11 26 10-2 11 1 10 22 10-16 11 5 10 18 11-17 10 13 10-3 11-2 10-7 11-12 10-4 10 15 11 2 10-6 11 1 10-29 10 8 11 32 10-21 11-5 10-19 10 10 11-18 10-8 11 1 10 2 10-4 11-23 10 10 11-10 10-23 10-3 11-22 10-11 11-8 10-27 10-16 11-54 10-4 11-50 10-27 10-71 11-52 10-47 11-93 10-99 10-67 11-65 10-102 11-30 10-37 10 7 11 31 10 66 11 67 10 74 10 61 11 103 10 72 11 63 10 53 10 81 11 21 10 20 11 69 10 4 10 18 11 11 10 39 11 22 10-8 10 17 11 16 10-9 11 35 10-13 10-3 11-6 10 25 11-1 10 5 10-8 11 32 10-11 11 11 10-3 10-8 11-5 10 1 11 21 10-1 10-16 11-6 10 12 11-14 10 1 10-4 11-10 10 10 11-17 10 6 10 2 11-6 10-14 11-4 10-2 10-16 11 3 10 14 11-17 10-17 10-7 11 9 10-23 11-13 10 6 10 10 11-11 10-4 11-8 10-15 10-1 11-14 10 15 11-7 10-3 10-7 11 7 10 5 11 2 10-28 10 33 11 5 10-30 11 13 10 4 10 0 11 23 10 10 11-8 10 14 10 2 11 5 10 15 11 0 10 31 10-10 11 3 10 14 11 11 10 2 10 15 11 4 10 9 11-17 10 40 10-4 11 6 10-4 11 24 10-6 10 16 11-14 10 18 11-8 10-18 10 31 11-14 10-15 11 9 10 25 10-22 11 5 10 1 11 21 10-30 10 17 11 13 10-11 11-4 10-12 10 11 11 7 10-6 11-6 10 8 10-2 11 9 10 4 11-10 10-9 10 6 11-5 10-7 11 12 10-7 10 5 11 10 10-22 11 3 10 24 10-11 11-4 10 16 11-6 10-9 10 3 11 12 10-9 11-5 10-2 10 0 11 4 10 1 11-18 10 20 10 1 11 2 10-2 11 1 10-12 10 6 11 17 10-14 11 4 10-7 10 3 11-3 10 10 11-13 10-11 10-9 11 23 10 1 11 5 10-8 10 17 11-2 10-32 11-11 10 29 10 2 11-1 10-18 11 31 10-6 10-4 11-20 10 3 11 15 10 1 10 2 11 1 10-5 11 14 10-7 10 4 11-16 10 13 11-9 10-9 10 14 11 13 10-9 11 16 10-46 10 16 11-2 10 26 11-9 10 1 10 8 11-28 10-8 11 17 10-11 10 5 11 21 10-11 11 9 10-6 10-15 11 15 10-12 11 10 10-17 10 6 11-1 10 5 11 5 10-9 10 20 11 16 10-34 11 9 10 3 10 3 11-16 10 8 11 11 10-31 10 8 11 34 10-10 11-14 10-2 10 12 11-30 10 9 11 10 10-2 10 5 11 4 10-18 11 26 10-22 10 3 11 1 10 0 11 13 10-4 10 5 11-8 10 8 11-5 10 2 10 12 11-7 10-4 11-12 10 8 10-7 11 7 10-4 11-3 10 10 10 4 11-10 10-1 11-10 10 2 10 19 11-9 10-14 11 10 10 0 10-11 11 7 10-6 11 14 10-14 10 16 11-15 10-4 11 0 10 1 10-1 11 7 10-17 11 0 10 19 10-23 11 15 10-17 11-15 10 30 10-45 11 13 10 7 11-18 10 16 10-17 11 17 10 3 11-4 10-9 10 4 11 1 10-16 11 3 10-20 10 13 11-15 10 2 11 9 10 5 10-11 11-4 10-9 11-17 10 21 10 6 11-3 10-20 11 15 10 7 10-5 11-6 10 1 11-3 10-7 10 24 11-21 10 5 11 9 10-17 10-5 11 12 10 21 11-21 10 5 10 3 11 9 10-6 11 6 10-20 10 3 11 39 10-26 11 14 10 0 10 7 11 0 10-14 11 25 10-10 10-19 11 44 10-9 11-3 10-7 10-4 11 7 10 12 11 0 10-5 10 9 11 0 10 16 11-8 10-23 10 11 11 9 10-8 11 17 10 17 10-17 11 2 10 22 11-20 10-1 10-21 11 24 10-12 11-2 10 7 10 15 11-11 10 4 11 20 10-13 10 18 11 1 10-13 11 2 10-1 10-3 11-4 10 17 11-8 10-14 10-1 11-4 10-5 11 33 10-8 10-1 11 6 10-6 11-2 10 20 10-17 11 8 10 6 11 2 10-36 10 25 11-6 10-6 11 13 10-9 10 4 11 4 10-3 11 0 10-9 10 5 11 1 10-15 11 0 10 12 10 10 11-21 10 9 11 3 10 12 10-11 11 7 10-15 11 15 10-13 10-10 11 26 10 11 11-27 10 12 10 3 11 7 10-4 11-1 10-8 10 14 11-2 10-17 11 1 10 9 10-20 11 7 10 10 11 4 10-5 10 3 11 8 10-30 11 5 10 2 10 5 11 3 10 6 11-5 10 4 10 0 11-9 10 6 11 5 10 5 10-11 11 20 10-22 11-7 10-16 10 31 11-6 10 3 11-3 10 14 10-14 11-4 10 2 11 11 10-15 10 9 11-2 10 0 11-18 10 15 10-1 11-6 10 13 11-7 10 11 10 0 11-9 10 3 11 7 10-9 10-1 11 18 10-22 11 1 10-9 10 28 11-18 10-4 11 21 10-8 10-1 11 7 10-24 11-1 10 7 10 25 11-11 10-18 11 6 10 30 10-41 11 10 10 11 11-3 10 5 10-8 11-4 10-5 11 4 10-7 10 19 11-30 10 16 11 7 10 1 10-10 11 19 10-15 11 20 10-30 10 2 11 21 10-21 11 14 10 7 10-22 11 22 10-19 11-3 10 21 10 6 11-9 10 12 11-12 10-5 10 2 11 1 10 6 11-6 10-10 10 2 11 2 10 19 11-22 10 23 10-23 11 6 10 7 11 5 10-19 10 18 11-6 10-8 11 9 10-12 10 10 11-9 10 1 11 4 10 0 10-16 11 23 10 6 11-23 10 16 10 7 11-14 10-8 11-1 10 5 10-1 11 14 10-12 11 1 10 3 10-6 11 25 10-8 11 8 10-34 10 9 11 6 10-5 11 11 10-3 10 10 11-10 10 4 11-13 10 13 10-6 11 3 10-4 11 6 10 10 10-24 11 5 10-7 11 4 10-5 10 2 11 8 10-14 11 15 10 15 10-3 11-14 10-5 11 13 10 5 10-8 11-10 10 11 11 5 10-14 10 0 11-6 10 21 11-21 10 0 10 1 11 11 10-3 11 15 10-21 10-6 11 17 10 12 11-29 10 12" stroke="#515151" stroke-width="19.0" fill="none" stroke-linejoin="round" transform="scale(.1)"/>
<path d="M2757 26932l10-4 10 2 11-4 10-18 11 16 10-21 10 7 11-2 10-10 11 10 10-1 10-1 11-14 10-4 11 8 10-7 10-15 11 17 10-12 11 6 10-6 10-4 11-9 10-4 11 4 10-18 10 9 11 1 10-8 11 13 10-8 10-13 11-15 10-9 11 15 10 6 10-6 11-2 10-3 11-12 10 34 10-13 11-5 10 11 11-16 10 14 10-15 11 13 10 16 11-30 10 7 10-2 11 2 10-17 11-1 10-6 10-13 11 20 10-44 11 19 10-31 10 0 11 6 10 18 11 33 10 32 10-4 11 17 10 14 11 27 10-16 10 15 11 1 10 8 11 2 10-9 10 2 11 6 10-11 11-9 10-8 10-2 11 0 10-20 11 4 10-9 10-6 11 3 10 6 11 10 10-10 10 21 11 0 10 21 11-4 10 14 10-6 11 14 10-7 11 5 10-20 10 1 11 13 10-7 11 14 10 17 10-20 11-1 10-9 11 2 10-5 10 3 11-22 10 3 11 1 10 7 10 7 11-13 10-5 11-10 10-5 10-18 11 6 10 0 11-2 10-9 10-9 11-10 10-18 11 2 10-39 10 10 11-49 10-5 11-29 10-37 10-48 11-7 10-50 11-63 10-68 10-58 11-51 10-85 11-53 10-27 10 0 11-9 10 20 11 41 10 58 10 87 11 59 10 64 11 39 10 53 10 41 11 39 10 34 11 44 10 12 10 27 11 10 10 13 11 21 10 25 10-10 11-4 10 29 11 11 10-6 10 5 11 0 10-10 11 22 10 1 10-4 11 10 10-10 11 21 10 9 10-11 11 5 10-15 11-20 10 5 10 10 11 4 10-28 11 28 10-7 10-13 11 7 10-10 11 3 10-17 10-13 11 14 10 1 11-10 10-15 10-18 11 15 10 3 11-12 10-22 10 0 11-4 10 15 11-24 10 9 10-38 11 1 10-4 11-7 10 8 10-1 11-9 10-2 11 10 10 4 10-17 11-8 10-11 11 5 10-11 10 15 11 15 10-16 11 14 10-12 10 16 11 10 10 22 11-30 10 15 10 30 11 7 10 7 11-12 10 48 10 0 11-1 10 21 11-7 10 7 10 11 11 4 10 8 11 10 10-6 10 26 11 12 10-23 11 4 10-6 10 30 11 7 10-10 11 4 10-8 10 8 11 13 10 26 11-23 10-17 10 19 11-1 10 6 11-10 10-3 10 14 11-8 10 22 11-25 10 4 10 3 11 38 10-51 11 22 10-11 10-8 11-10 10 18 11 13 10-15 10-6 11-6 10 12 11-4 10 14 10-15 11-10 10 20 11-9 10 10 10 11 11-8 10 9 11-15 10 1 10-12 11-3 10 13 11-2 10 15 10-27 11 26 10-4 11-3 10-5 10-8 11 15 10-18 11 12 10 4 10 4 11-15 10 4 11 3 10 4 10-5 11-18 10 15 11-3 10 3 10 6 11-1 10-6 11 10 10-1 10-3 11-3 10 19 11-17 10-13 10 9 11 7 10 14 11-8 10-5 10-3 11 3 10-7 11-23 10 13 10 8 11 10 10 2 11-4 10-11 10 8 11-21 10 30 11 6 10-11 10-6 11 10 10-11 11 1 10 16 10-17 11 11 10-15 11-9 10 11 10 23 11 1 10-25 11 6 10 6 10 8 11-29 10 27 11-9 10-5 10 13 11-20 10 6 11 0 10 1 10 7 11 10 10-21 11 1 10 4 10-15 11 10 10 10 11 11 10-10 10-2 11-15 10 2 11 3 10 7 10 11 11-18 10 0 11 16 10-7 10-6 11 8 10 1 11-6 10-3 10 10 11-5 10 13 11 2 10-32 10 19 11 2 10-5 11-4 10-13 10 10 11-4 10 9 11 3 10 0 10-4 11-2 10 1 11 8 10-9 10 8 11-15 10 13 11-6 10 6 10 5 11-20 10-7 11 6 10 10 10-10 11-4 10 24 11-26 10 21 10-4 11-3 10-8 11 4 10-8 10-17 11 27 10-16 11 11 10-29 10 20 11-16 10 10 11 2 10-24 10 20 11-1 10-14 11 1 10-6 10 16 11-27 10 11 11-9 10 14 10-8 11-15 10 18 11-13 10-12 10 15 11-9 10 0 11-11 10-18 10 25 11-22 10 7 11 4 10-5 10-9 11 2 10 5 11-3 10-26 10-5 11 9 10 9 11-9 10-9 10 5 11-10 10 17 11 1 10-2 10-5 11-14 10 12 11 18 10-25 10 13 11-3 10-3 11 3 10 35 10-28 11 10 10 0 11-5 10-2 10 26 11-14 10 9 11-12 10 36 10-19 11-3 10 21 11-9 10-2 10 25 11-40 10 29 11-8 10 17 10 1 11-5 10 29 11-11 10-7 10-6 11-8 10 50 11-25 10 6 10-4 11 7 10-17 11 24 10-15 10 7 11 6 10-5 11 22 10-29 10 21 11-9 10 4 11-3 10 7 10 6 11 13 10 4 11-20 10 4 10-13 11 34 10-21 11 11 10-5 10-11 11-5 10 16 11 3 10-9 10 15 11-11 10-4 11 9 10-6 10 8 11-10 10 6 11-5 10-7 10 20 11-12 10-4 11-1 10 1 10 13 11-22 10 16 11 3 10-10 10 20 11-18 10 5 11 18 10-15 10-11 11-10 10 10 11 12 10-12 10 10 11-12 10 13 11 1 10-3 10-14 11 28 10-5 11-12 10 11 10-6 11 16 10-28 11 10 10-3 10 16 11-20 10 2 11 7 10-9 10 15 11 16 10-20 11-24 10 29 10-5 11 2 10-7 11-2 10 6 10-4 11 3 10-3 11-8 10 13 10-11 11 13 10-21 11 22 10-4 10-8 11 0 10-11 11 31 10-16 10-3 11 1 10 11 11 15 10-1 10-44 11 0 10 38 11-18 10 6 10-10 11 1 10 7 11-10 10 22 10-7 11-14 10-9 11 37 10-21 10 4 11-5 10-12 11 16 10 10 10-13 11 15 10-26 11 22 10-5 10-2 11-8 10-1 11-2 10 7 10 6 11-5 10-10 11 11 10 0 10-4 11-4 10 13 11-7 10-9 10 33 11-33 10 2 11 15 10-2 10-7 11 6 10-18 11 7 10 26 10-35 11 18 10-8 11 24 10-26 10 11 11-3 10-3 11 4 10 13 10-6 11-28 10 36 11-5 10 3 10-15 11 4 10 0 11 14 10-40 10 15 11 11 10-7 11 5 10 5 10-21 11 8 10 13 11-8 10 3 10 0 11 10 10-14 11 11 10-23 10 0 11 6 10 11 11 5 10 5 10-18 11 7 10-1 11 8 10-19 10 30 11-21 10 11 11-10 10 20 10-31 11 34 10-19 11-4 10-7 10 3 11 2 10 3 11-17 10 35 10-32 11 14 10-9 11 15 10-31 10 40 11-25 10 20 11-17 10-2 10 9 11-1 10 5 11 3 10-2 10-5 11-2 10 9 11-19 10 13 10-4 11 1 10 2 11 5 10-8 10 1 11 6 10-14 11 10 10 4 10-8 11 12 10-3 11-4 10 1 10 7 11-26 10 26 11-6 10-15 10 1 11-4 10 7 11 20 10-4 10-19 11 6 10 6 11 16 10-20 10 4 11-2 10 1 11 0 10-6 10 6 11-1 10 9 11-14 10 18 10-21 11-3 10 9 11 8 10-13" stroke="#F14040" stroke-width="19.0" fill="none" stroke-linejoin="round" transform="scale(.1)"/>
<path d="M2757 26925l10 3 10-7 11 0 10-5 11 16 10-33 10 21 11-19 10 2 11-3 10 14 10-21 11-9 10 6 11-5 10-22 10 30 11-31 10 15 11-9 10-17 10 7 11 0 10-34 11 8 10 7 10-3 11 10 10-10 11-10 10 1 10 0 11-6 10 8 11-10 10-19 10 37 11-11 10-7 11-11 10 10 10-6 11 4 10-20 11 21 10 2 10-9 11 8 10-5 11 17 10-12 10-10 11 9 10-15 11 0 10-18 10-31 11 14 10-20 11-4 10-8 10 5 11 18 10 23 11 13 10 37 10 8 11 6 10 29 11 12 10-3 10 1 11 39 10-8 11-19 10 8 10-11 11-13 10-16 11 17 10-10 10-8 11-31 10-4 11 22 10-8 10 2 11-11 10 18 11-24 10 5 10 9 11 18 10 1 11-8 10 11 10 9 11-8 10 10 11-13 10-30 10 42 11-29 10-3 11-13 10-2 10 1 11-11 10-11 11 7 10-19 10 6 11-29 10-10 11-12 10-25 10-23 11-7 10-44 11 11 10-39 10-46 11-8 10-38 11-52 10-27 10-36 11-67 10-69 11-60 10-78 10-93 11-118 10-116 11-166 10-144 10-203 11-235 10-251 11-272 10-350 10-348 11-369 10-344 11-306 10-206 10-65 11 69 10 172 11 290 10 342 10 377 11 363 10 337 11 277 10 265 10 216 11 222 10 168 11 128 10 152 10 114 11 82 10 68 11 67 10 80 10 51 11 62 10 8 11 36 10 52 10 38 11 13 10 24 11 35 10 26 10 13 11-18 10 49 11 6 10 3 10 15 11 9 10-1 11 8 10-7 10 24 11-4 10-2 11 8 10 7 10-2 11 21 10-27 11 0 10 3 10-17 11 35 10-25 11 7 10-16 10 20 11-17 10-20 11 4 10-2 10-10 11-6 10-1 11 9 10-1 10-29 11-11 10-10 11 12 10 6 10-13 11 8 10-20 11 3 10 35 10-33 11 2 10 20 11-5 10-9 10-5 11 7 10-6 11 30 10-13 10 2 11 1 10 16 11 20 10-19 10 26 11-2 10 21 11 4 10 21 10 6 11 8 10-6 11-1 10 8 10 21 11 10 10 36 11-25 10 10 10 3 11 13 10-7 11-3 10 18 10-15 11 11 10 3 11 11 10 26 10-20 11 3 10-8 11 9 10 3 10 20 11-16 10-5 11 4 10-15 10 20 11-3 10 2 11-2 10 10 10-12 11 5 10-5 11-6 10 9 10-11 11 23 10-18 11 20 10-17 10 5 11 4 10 12 11-23 10-7 10 22 11-8 10 6 11-2 10-21 10 10 11 7 10 5 11-2 10-18 10 7 11-1 10 3 11-6 10 34 10-25 11 14 10-14 11-6 10 16 10 5 11 0 10-37 11 38 10-19 10-12 11 25 10-11 11 30 10-18 10-6 11 6 10-11 11-15 10 17 10 5 11-3 10-8 11 10 10-9 10 3 11 26 10-19 11 12 10-3 10 2 11-5 10-11 11 8 10-18 10 19 11 4 10 4 11-7 10-5 10-18 11 17 10-5 11 15 10-20 10-2 11 4 10-3 11 5 10-5 10 17 11 10 10-9 11-13 10-17 10 13 11-6 10 23 11-4 10 10 10-17 11-4 10 2 11 14 10-8 10-9 11 8 10-9 11 10 10-1 10-9 11 10 10-10 11 6 10-1 10-4 11 8 10 8 11 12 10-15 10 3 11-11 10-7 11 9 10-18 10 19 11-10 10 6 11 0 10 3 10 20 11-14 10-13 11 25 10-22 10 3 11-7 10 7 11 21 10-34 10 15 11-5 10 8 11-5 10-11 10-5 11 10 10-7 11 21 10-6 10 25 11-35 10 5 11 9 10 4 10-6 11-25 10 14 11-13 10 13 10 6 11 0 10-16 11 8 10 5 10-19 11 40 10-29 11 3 10-25 10 33 11-14 10 1 11-1 10 19 10-32 11 6 10-3 11-9 10 0 10 22 11-11 10-14 11 12 10-18 10 18 11-29 10 9 11 1 10 7 10-5 11-2 10-6 11-2 10-2 10 1 11-2 10-7 11-8 10 9 10-11 11 9 10-20 11-17 10 24 10-30 11 5 10 13 11-8 10-6 10-11 11 19 10-15 11-13 10 14 10-5 11 3 10 7 11-6 10-9 10-20 11-5 10 19 11-2 10-6 10 1 11 3 10-8 11 7 10-12 10 19 11-6 10-22 11 19 10 10 10-7 11-4 10 0 11 4 10-10 10 24 11-12 10 14 11 0 10-13 10 14 11 21 10-11 11-11 10 21 10 0 11 3 10-7 11 10 10 14 10-9 11 18 10-24 11 22 10-16 10-3 11 21 10 21 11-21 10-2 10 16 11 3 10-2 11 5 10 0 10 6 11 1 10 5 11-11 10 9 10 13 11 19 10-16 11-15 10 17 10-2 11 1 10-16 11 24 10 7 10-1 11 5 10-24 11 24 10-18 10 6 11 3 10-8 11 21 10-16 10 7 11-2 10 10 11-7 10 6 10-7 11-8 10 2 11 10 10 1 10-13 11-5 10 5 11 20 10-7 10-5 11-5 10-9 11 23 10-9 10-10 11 16 10-14 11 18 10-13 10 8 11 11 10-6 11-14 10 18 10 13 11-25 10-1 11 10 10-35 10 17 11 6 10 16 11-6 10 4 10-3 11-11 10 4 11-6 10 13 10-25 11 24 10 0 11-2 10-2 10-22 11 19 10 9 11-16 10 21 10-34 11 23 10 1 11 6 10-7 10-9 11-2 10 11 11 19 10-29 10 0 11 2 10 12 11-23 10 15 10 1 11-5 10-7 11-2 10 21 10 1 11 0 10-3 11-20 10 11 10-5 11 26 10-40 11 36 10-21 10-6 11 25 10 8 11-22 10 17 10-12 11 0 10-14 11 4 10 7 10-8 11 4 10-1 11-1 10 14 10 4 11-19 10 8 11 9 10-2 10-19 11 28 10-17 11 7 10 8 10-16 11 3 10 4 11 5 10-13 10 1 11-4 10 13 11-13 10-3 10 9 11 8 10 11 11-34 10 7 10-1 11 7 10 1 11-8 10 3 10-6 11 24 10-12 11 8 10-19 10 7 11 5 10-7 11 11 10-8 10 7 11 11 10-13 11-24 10 29 10 9 11-26 10 10 11 5 10-5 10 6 11-18 10 7 11 12 10-33 10 30 11 13 10-31 11 14 10-4 10 12 11-2 10-13 11-15 10 15 10-1 11 18 10-23 11 11 10 3 10-4 11 7 10 6 11 13 10-27 10-3 11 15 10-20 11 18 10 0 10 9 11-20 10-5 11 6 10 11 10 0 11 0 10-25 11-5 10 18 10 7 11-7 10-4 11-8 10 28 10-12 11 1 10 18 11-17 10 13 10-23 11 7 10-4 11 3 10 7 10 13 11 0 10-23 11-24 10 28 10-4 11-2 10-1 11 0 10 1 10 9 11 3 10-11 11-1 10 21 10-39 11 40 10-15 11 10 10-27 10 22 11-8 10 4 11-4 10 0 10-5 11 15 10-15 11 12 10-4 10 4 11-13 10 12 11 4 10-9 10-3 11-1 10 6 11 1 10 13 10-27 11 12 10 9 11-16 10 11 10-3 11-8 10 10 11 7 10-9 10 2 11 14 10-17 11-6 10 14" stroke="#1A6FDF" stroke-width="19.0" fill="none" stroke-linejoin="round" transform="scale(.1)"/>
<path d="M2757 26927l10 2 10 14 11-20 10-9 11-4 10 22 10-31 11-3 10 31 11-4 10-14 10-11 11 3 10-13 11 1 10-9 10-8 11 21 10-16 11 13 10-11 10 10 11-26 10 9 11 0 10-16 10 10 11 4 10 13 11-14 10-30 10 28 11-25 10 17 11-22 10 10 10 7 11-2 10-9 11 7 10-17 10 0 11 38 10-30 11-2 10-5 10 11 11-9 10 13 11-2 10-1 10-1 11-19 10-7 11-11 10 9 10-2 11-2 10-41 11-5 10-5 10-36 11 45 10 19 11 26 10 28 10-9 11 27 10 9 11 5 10 34 10-9 11 5 10-21 11 22 10 7 10-9 11-9 10 0 11-21 10-12 10 7 11 6 10-31 11 23 10-8 10-20 11-9 10 4 11 19 10-4 10 28 11 5 10-10 11 18 10 7 10-7 11-17 10 10 11-9 10 16 10-2 11-13 10 26 11-26 10 26 10-25 11-11 10-2 11-11 10-1 10 12 11-8 10-47 11 36 10-18 10-11 11-14 10-16 11 16 10-30 10-36 11-11 10-6 11-27 10-22 10-1 11-44 10-15 11-58 10-56 10-25 11-46 10-82 11-45 10-94 10-87 11-136 10-119 11-171 10-148 10-148 11-188 10-170 11-175 10-80 10-33 11 16 10 81 11 142 10 159 10 194 11 152 10 171 11 149 10 123 10 125 11 116 10 80 11 70 10 79 10 44 11 49 10 44 11 46 10 36 10 11 11 45 10 5 11 14 10 36 10 1 11 18 10 2 11 29 10 5 10 5 11-4 10 23 11 3 10 7 10-30 11 31 10 2 11-10 10 8 10-2 11-7 10 1 11-23 10 8 10 7 11-10 10 8 11-6 10-25 10 21 11-13 10-5 11-19 10 2 10 0 11-1 10-15 11-23 10-7 10 0 11-2 10-4 11-22 10 21 10-36 11-17 10 13 11-28 10 27 10-4 11-30 10 2 11-1 10-17 10 3 11-1 10-4 11 12 10-6 10 27 11-7 10-19 11 8 10 25 10-9 11 14 10 20 11 9 10 3 10 28 11-15 10 8 11 20 10 16 10 14 11 25 10 4 11 7 10-3 10 27 11-9 10 23 11 17 10-3 10 19 11-4 10 12 11-9 10 7 10 13 11-4 10 19 11 19 10-8 10-7 11 2 10 12 11-14 10 2 10 13 11 6 10 16 11-28 10 14 10 2 11 4 10-14 11 11 10-6 10-10 11-6 10 12 11 33 10-21 10-1 11-11 10 17 11-35 10 28 10 1 11-2 10 9 11 1 10-11 10-13 11 14 10-5 11 10 10-18 10 3 11 14 10-6 11-7 10 10 10-5 11-4 10 21 11-16 10-4 10 13 11-22 10 15 11 28 10-29 10-10 11 7 10 0 11-2 10 23 10-1 11-7 10-7 11-12 10 3 10 7 11-21 10 21 11-11 10 15 10 0 11-11 10 29 11-32 10-1 10 2 11 12 10-17 11 13 10-8 10-7 11 22 10-4 11 2 10 4 10-28 11 14 10 16 11-4 10 8 10-14 11 6 10-5 11-2 10-6 10-13 11 16 10 5 11-12 10 8 10 6 11-4 10-6 11 16 10 0 10-22 11 13 10 1 11 9 10-29 10 18 11 1 10 6 11-21 10 24 10-23 11 9 10 12 11-13 10 4 10 1 11 7 10-5 11 6 10 6 10-26 11 27 10-17 11-10 10 13 10 0 11 1 10 12 11-24 10 21 10-14 11 3 10-10 11 10 10-8 10 11 11 1 10-13 11 4 10 7 10 2 11-13 10 1 11-4 10-3 10-4 11 11 10 24 11-9 10 10 10-30 11-1 10-3 11 7 10 14 10-10 11 25 10-15 11-19 10 9 10 8 11 6 10-14 11-7 10-2 10 9 11 3 10 3 11 11 10-15 10 10 11-19 10 10 11 3 10-21 10 14 11-7 10 12 11-7 10-8 10 12 11-18 10-3 11-1 10 16 10-22 11 21 10-25 11 13 10-10 10 2 11 7 10 8 11-2 10-34 10 2 11 28 10-26 11 5 10-14 10 24 11-15 10 8 11 0 10-31 10 13 11-19 10 6 11 13 10-18 10-4 11-21 10 16 11-19 10-7 10 14 11-5 10 7 11-1 10-2 10-21 11 10 10 17 11 9 10-19 10-7 11-3 10 10 11-5 10 4 10-25 11 11 10-4 11 2 10 7 10-14 11 9 10 2 11-4 10 5 10-11 11 18 10-14 11-10 10 26 10 7 11-4 10 4 11-17 10 12 10-8 11 10 10 14 11-5 10-9 10 11 11 13 10 6 11-4 10 8 10-23 11 37 10-20 11 16 10-6 10 11 11-10 10 13 11 1 10-12 10 22 11-5 10-6 11 27 10-14 10 7 11-22 10 10 11 15 10-7 10 27 11-1 10-17 11 13 10-8 10 16 11-18 10 11 11-4 10-16 10 26 11 10 10-12 11-25 10 27 10 6 11-4 10 0 11 4 10-4 10-12 11 9 10 1 11 4 10-5 10 14 11-18 10-13 11 11 10 12 10-11 11 11 10 5 11-6 10-1 10-10 11 4 10-3 11 10 10 17 10-8 11-13 10 11 11-12 10 18 10-21 11 20 10-16 11-3 10 8 10-13 11 3 10 11 11-12 10 9 10 1 11-6 10 6 11 23 10-12 10-25 11-3 10 3 11 21 10 13 10-22 11-11 10 13 11 18 10-23 10 5 11 6 10-12 11 19 10-21 10 12 11 7 10-26 11 15 10 16 10-23 11 7 10-9 11 26 10 1 10-13 11-1 10-12 11 4 10-9 10 11 11 1 10-5 11-5 10 3 10 18 11-15 10 3 11 0 10 15 10-32 11 12 10 15 11-5 10-6 10 4 11 6 10-10 11 12 10 2 10-10 11-15 10 6 11 20 10-27 10 11 11 5 10 13 11 7 10-15 10 13 11-14 10-16 11 22 10-23 10 3 11 1 10 12 11-10 10-6 10 10 11 8 10-23 11 18 10-12 10 2 11 13 10-2 11 28 10-23 10-28 11 27 10-2 11 1 10 3 10-8 11 9 10-26 11 22 10-2 10-21 11 29 10-24 11 8 10 19 10-16 11 11 10-3 11 2 10-4 10-7 11 26 10-19 11-5 10 0 10 7 11 9 10-14 11-1 10-5 10-12 11 13 10-10 11 16 10-12 10 12 11-5 10 6 11 0 10-10 10 3 11 9 10-6 11-10 10-1 10 18 11-6 10-1 11 1 10-7 10 6 11-13 10 10 11 11 10-4 10-18 11 30 10-17 11-17 10 10 10 29 11-14 10-23 11 39 10-26 10-10 11 24 10 3 11-12 10-9 10 6 11 1 10-4 11-3 10 14 10-3 11 3 10-10 11-6 10-7 10 22 11-5 10 19 11-6 10-13 10-13 11 3 10 22 11-8 10-23 10 13 11 1 10-1 11 7 10-7 10 2 11 12 10 9 11-17 10-13 10 22 11-9 10-4 11-8 10 10 10 13 11-17 10 12 11-7 10-12 10 7 11 6 10-16 11 13 10 15 10-4 11-16 10 2 11 26 10 4 10-25 11 1 10 22 11-24 10 1 10 19 11-13 10-17 11 16 10 6 10-7 11-22 10 37 11-19 10-6 10-2 11-6 10 33 11-32 10 0" stroke="#37AD6B" stroke-width="19.0" fill="none" stroke-linejoin="round" transform="scale(.1)"/>
<path d="M2757 26934l10-2 10-2 11-2 10-14 11 14 10-15 10-16 11 14 10 2 11-35 10 8 10 26 11-23 10-2 11 3 10-3 10-17 11 10 10-3 11 6 10-26 10 8 11-1 10-5 11 5 10 1 10-3 11-35 10 18 11-5 10-2 10 10 11-5 10-8 11 2 10-2 10-16 11 6 10-4 11 8 10 15 10-4 11-33 10 44 11-32 10-8 10-1 11 1 10 26 11-16 10 17 10-19 11-8 10-9 11 17 10-7 10-18 11-4 10-37 11-10 10-4 10 3 11 25 10-3 11 13 10 48 10 22 11 6 10 21 11 7 10-1 10 12 11-6 10 14 11-10 10 18 10-34 11-3 10 15 11-12 10 10 10-20 11-32 10 16 11 8 10-22 10-11 11 12 10-2 11 0 10 8 10 16 11-13 10 5 11 12 10-1 10-20 11 20 10 7 11-15 10 21 10-27 11 14 10-8 11-5 10-19 10-11 11 1 10-18 11-10 10 1 10-27 11-11 10-2 11-21 10-12 10 8 11-36 10 2 11-46 10-24 10-19 11-44 10-9 11-63 10-35 10-36 11-61 10-47 11-84 10-73 10-112 11-74 10-144 11-129 10-145 10-194 11-213 10-222 11-295 10-313 10-329 11-332 10-270 11-258 10-146 10-46 11 68 10 202 11 273 10 305 10 331 11 306 10 276 11 285 10 235 10 199 11 189 10 142 11 142 10 101 10 100 11 103 10 56 11 72 10 56 10 60 11 40 10 34 11 43 10 32 10 17 11 39 10 15 11 15 10 33 10 4 11 7 10 10 11 33 10 6 10 13 11-2 10 15 11-14 10 16 10 4 11-16 10 36 11-21 10-4 10-3 11 6 10 11 11-23 10 18 10-20 11 8 10-11 11 15 10-4 10 15 11-34 10-15 11 15 10-22 10-2 11-1 10 3 11-1 10-16 10-4 11 7 10-15 11 3 10 2 10-9 11-6 10 2 11-17 10 8 10 10 11 8 10-11 11-12 10 16 10-2 11-15 10-6 11 13 10-23 10 57 11 0 10-29 11 41 10 1 10-5 11 25 10 13 11 6 10 4 10 8 11 20 10 2 11-10 10 27 10 18 11-6 10 29 11-5 10 3 10-5 11 10 10 17 11 0 10-5 10 4 11 14 10 8 11-5 10 26 10 2 11 3 10-21 11-3 10 14 10-10 11 10 10-21 11 30 10-7 10 1 11-9 10 13 11-5 10-3 10 5 11-10 10-21 11 32 10 19 10-41 11 20 10 3 11 1 10 0 10 11 11-36 10 2 11 36 10-17 10 7 11-4 10 1 11-6 10-1 10-1 11-10 10 20 11 12 10-26 10 6 11-5 10 15 11-3 10-16 10 19 11-9 10-10 11 15 10 4 10-30 11 25 10-6 11 5 10 4 10-13 11 7 10 8 11-18 10 22 10-5 11-5 10-21 11 9 10 2 10-1 11 4 10 8 11 2 10 13 10-5 11-11 10 0 11-10 10 13 10 11 11-33 10 20 11 17 10-39 10 29 11-19 10 27 11-13 10-1 10-3 11 20 10-31 11 8 10 7 10-1 11 8 10-2 11-8 10-6 10 7 11 2 10-17 11 33 10 5 10-26 11 1 10 10 11-14 10-2 10-4 11 12 10-13 11 5 10 7 10-2 11 17 10-32 11 9 10 16 10-23 11 32 10-32 11 10 10 7 10 8 11-19 10-3 11 15 10-9 10-14 11 33 10-24 11 20 10-19 10-3 11 13 10-11 11-16 10 42 10-37 11 19 10 6 11-2 10-10 10-13 11 15 10-1 11 11 10 6 10-22 11 13 10 23 11-28 10 7 10 4 11 0 10-21 11 21 10-15 10 11 11 7 10-27 11 7 10-9 10 15 11-7 10-15 11 27 10-15 10 7 11-5 10 17 11-7 10 15 10-23 11-2 10 11 11-24 10 10 10 2 11 13 10-12 11-12 10 18 10-1 11-8 10-2 11-8 10 2 10 13 11-21 10 4 11-6 10 16 10-10 11-5 10-7 11 1 10 13 10-31 11 16 10-5 11-18 10 16 10-6 11-10 10-1 11 16 10-17 10-18 11-28 10 45 11-26 10 3 10 1 11-11 10 19 11-10 10 2 10-16 11-9 10 12 11-9 10-9 10 12 11 1 10 20 11-20 10-15 10 8 11 1 10-27 11 11 10-7 10-3 11 8 10-8 11 22 10-23 10 15 11 9 10 12 11-37 10 30 10-25 11 21 10-11 11-8 10 13 10 14 11-7 10 2 11 12 10-6 10 10 11-6 10-6 11-3 10 24 10-5 11-8 10-1 11 10 10-7 10 10 11 25 10-3 11-26 10 28 10-3 11 15 10-2 11-4 10 11 10-30 11 33 10-19 11 29 10 3 10 10 11-12 10-1 11 16 10-1 10-33 11 21 10 4 11 5 10-8 10 20 11-1 10 2 11 6 10-6 10-19 11 15 10-9 11 20 10-22 10 9 11 2 10 12 11 13 10-23 10 10 11 2 10-6 11 7 10-28 10 20 11 4 10-7 11-5 10 19 10-7 11 0 10-12 11 11 10 8 10-14 11 4 10 0 11 2 10 15 10-12 11 2 10 2 11-6 10 8 10-5 11 0 10-13 11 3 10 6 10-7 11-2 10 3 11 3 10 4 10 12 11-12 10-16 11 9 10 6 10 8 11-4 10 5 11-13 10 5 10-23 11 32 10-1 11-22 10 11 10-8 11 10 10-1 11 7 10 22 10-28 11 27 10-37 11 5 10-4 10-9 11-6 10 22 11 2 10-1 10-10 11 33 10-17 11-3 10 2 10-16 11 8 10-1 11-4 10 9 10 3 11-12 10 20 11-10 10 16 10-10 11-11 10-7 11 24 10-17 10 14 11-8 10 2 11-18 10 24 10-7 11 7 10-16 11 5 10 19 10-17 11 13 10-25 11 6 10 11 10-1 11 10 10-8 11-17 10 24 10-9 11-10 10-10 11 7 10 7 10-11 11 16 10-23 11 9 10 3 10-1 11 5 10 2 11 17 10-13 10 7 11 8 10-19 11 9 10-3 10-19 11 7 10 8 11-1 10 4 10-5 11-4 10 14 11-12 10 10 10-2 11-9 10 10 11-9 10-2 10-15 11 18 10 8 11-4 10 1 10-13 11 0 10 21 11 4 10 1 10-36 11 15 10 9 11-10 10 6 10 11 11 11 10-14 11-17 10 2 10 8 11 9 10-33 11 21 10-3 10 6 11-15 10-6 11 26 10-22 10 14 11 4 10 4 11-16 10 9 10 5 11 10 10-24 11 14 10-2 10-9 11 7 10 1 11-9 10 9 10-3 11-8 10 3 11 3 10-1 10-10 11 6 10 15 11-15 10 11 10 8 11 1 10 10 11-17 10 12 10-27 11 13 10 3 11-1 10 1 10-5 11 7 10-8 11 2 10-2 10 19 11-11 10-16 11-6 10 11 10 13 11-3 10-29 11 41 10-21 10-10 11 28 10-7 11-11 10 18 10-7 11-10 10 11 11-17 10 13 10 0 11 13 10-18 11-8 10 6 10 15 11-14 10 9 11-8 10-4 10 9 11-11 10 9 11-3 10-3 10 5 11-10 10 17 11-19 10 19 10-1 11-6 10-15 11 5 10 19 10 3 11-1 10-14 11 10 10-21" stroke="#B177DE" stroke-width="19.0" fill="none" stroke-linejoin="round" transform="scale(.1)"/>
<path d="M2757 26928l10 2 10 0 11 4 10-8 11-6 10-33 10 31 11-2 10-29 11 25 10-26 10 5 11 26 10-15 11 21 10-31 10 4 11 3 10-2 11-35 10 4 10 5 11 3 10-1 11 1 10-7 10-9 11 0 10 6 11 5 10 7 10-28 11 5 10-1 11-7 10-18 10 34 11-11 10-1 11-19 10 21 10-7 11 15 10-18 11 12 10-7 10-5 11 6 10 1 11-13 10 19 10-12 11 9 10-32 11 19 10-1 10-20 11-15 10 0 11-24 10-9 10 22 11 13 10 11 11 18 10 27 10 5 11 21 10 7 11-18 10 20 10-3 11 27 10 5 11-15 10 1 10 6 11-17 10 4 11-11 10-31 10 17 11-14 10 14 11-33 10 14 10-9 11 7 10 8 11 4 10-16 10 2 11 7 10 32 11 8 10-15 10 17 11-14 10 6 11 0 10 9 10-4 11-16 10 18 11-10 10 3 10 1 11-31 10 21 11-13 10-10 10-5 11 1 10-16 11-1 10 2 10-19 11-11 10-6 11 0 10-15 10-19 11 3 10-18 11-3 10-38 10-13 11-14 10-53 11 9 10-46 10-36 11-63 10-36 11-60 10-79 10-89 11-92 10-95 11-121 10-119 10-147 11-139 10-132 11-85 10-82 10-7 11 21 10 60 11 136 10 110 10 138 11 148 10 119 11 119 10 116 10 63 11 97 10 52 11 58 10 56 10 50 11 41 10 30 11 29 10 15 10 26 11 39 10-1 11 10 10 17 10 21 11 8 10-14 11 19 10 7 10-8 11 37 10-12 11 5 10 1 10 26 11-6 10-5 11-7 10-4 10-4 11 10 10-14 11 17 10-7 10-2 11 16 10-11 11-14 10 10 10-10 11-10 10-1 11-12 10-7 10 4 11-5 10-23 11 3 10-5 10 8 11-19 10-2 11 18 10-19 10-24 11-4 10-13 11 8 10 15 10-13 11-10 10-3 11 5 10 0 10-3 11-19 10 14 11-27 10 23 10 0 11 21 10 1 11-10 10 17 10-8 11 4 10-2 11 4 10 24 10 21 11-3 10-12 11 27 10 17 10 9 11-10 10 9 11 19 10-19 10 23 11 19 10-4 11 22 10-2 10 21 11-18 10 12 11 8 10 20 10-16 11 9 10 6 11 5 10 13 10-17 11 22 10-13 11 1 10 10 10-31 11 45 10-28 11 11 10 11 10-11 11 15 10-25 11 2 10-3 10 12 11 11 10-23 11-6 10 10 10 3 11 16 10-10 11 14 10-10 10-2 11-12 10 4 11-16 10 17 10-3 11 0 10 3 11 3 10-11 10 13 11 3 10-1 11-25 10 13 10 5 11 4 10-17 11 45 10-26 10-4 11 9 10 1 11 5 10-23 10 5 11-7 10 19 11 0 10 5 10-23 11 18 10-19 11 3 10 9 10-9 11 5 10 1 11-7 10 2 10 7 11-7 10-4 11 25 10-16 10 7 11-10 10 11 11 5 10-6 10-16 11 12 10 7 11 14 10-21 10-2 11-6 10-10 11 10 10 8 10 1 11 16 10-12 11-13 10-12 10 12 11 15 10-10 11 14 10-8 10-3 11 5 10-11 11 19 10-11 10-8 11 19 10-41 11 32 10-3 10 2 11 9 10-18 11 15 10-20 10 11 11 11 10-23 11-11 10 22 10 6 11-17 10 1 11 20 10-7 10-22 11 20 10-20 11 17 10 12 10-25 11 12 10-16 11 25 10-7 10-7 11-1 10 2 11 8 10-3 10 13 11 1 10-7 11 2 10 20 10-31 11 7 10 12 11-24 10 9 10 4 11-16 10 7 11-16 10 18 10-2 11-9 10 22 11-9 10 12 10-30 11 7 10 32 11-21 10 0 10-12 11 18 10-23 11 22 10-18 10 18 11-5 10 9 11-12 10 18 10-10 11-20 10-2 11 5 10 5 10 24 11-44 10 25 11-15 10 4 10 4 11 11 10-28 11 20 10 1 10-8 11-6 10-1 11-11 10 17 10-3 11-20 10 18 11-1 10-6 10-6 11 4 10-30 11 11 10 18 10-9 11-14 10 11 11-1 10-39 10 15 11 19 10-1 11-8 10-9 10-4 11 7 10 7 11-13 10-13 10 3 11 19 10-11 11-25 10 2 10 2 11-15 10 9 11-4 10 1 10 1 11 7 10-8 11-1 10 8 10 1 11-4 10-2 11-17 10 10 10 0 11-4 10 2 11 8 10 5 10-14 11 0 10 21 11-17 10 10 10-10 11-5 10 13 11-6 10 16 10-2 11 5 10-11 11 19 10 1 10 18 11-22 10 18 11-4 10-17 10 3 11-3 10 39 11-19 10 19 10-1 11-16 10 14 11 19 10-11 10-35 11 43 10-2 11 1 10-10 10 16 11 12 10-14 11-2 10 24 10-3 11-16 10 7 11 7 10-23 10 4 11 8 10-22 11 30 10 4 10-20 11 27 10 14 11-15 10 3 10-13 11 6 10-2 11 1 10-9 10 22 11 1 10-5 11 5 10-17 10 18 11-24 10 28 11 4 10-14 10-21 11 21 10-6 11 10 10-11 10-6 11 13 10 6 11-26 10 27 10-2 11-9 10 10 11-11 10-16 10 12 11 13 10-15 11 33 10-31 10 11 11-11 10 21 11-9 10-21 10 14 11 7 10 10 11-17 10 5 10-16 11 27 10-21 11-9 10 7 10 28 11 1 10-12 11 9 10-10 10-11 11 10 10 0 11 4 10-30 10 23 11 0 10 0 11 5 10-21 10 19 11-10 10-7 11 20 10-8 10-3 11 2 10 8 11 11 10-25 10 14 11-2 10 5 11-17 10-12 10 15 11 13 10-11 11-4 10-12 10 14 11 8 10 0 11-6 10 6 10-8 11 5 10-1 11 6 10 5 10-13 11 15 10-17 11 10 10-22 10 8 11 13 10-17 11 13 10-12 10 10 11 3 10 13 11 9 10-27 10-9 11 11 10 26 11-33 10 4 10 11 11-8 10-2 11 9 10-21 10 27 11-32 10 14 11 8 10 5 10 2 11-12 10 5 11-5 10-18 10 17 11-4 10 3 11 6 10-13 10-5 11 25 10-23 11 2 10 25 10-19 11 17 10-19 11 27 10-24 10-3 11 12 10-6 11-8 10-7 10 24 11-7 10 8 11-7 10 0 10-5 11-2 10 19 11-3 10-10 10 3 11-9 10 12 11 1 10 3 10-5 11-13 10 2 11 7 10-3 10 10 11-2 10 10 11-21 10 15 10-10 11-12 10 33 11-14 10 5 10-12 11 22 10-23 11-13 10 29 10-15 11 1 10 2 11-3 10-15 10 3 11 32 10-19 11 11 10-1 10-9 11 7 10-24 11 16 10-8 10 12 11-9 10 9 11-1 10-5 10 3 11-16 10 14 11 15 10-10 10-2 11-7 10 4 11-15 10 9 10-1 11 5 10 13 11-8 10 9 10-4 11 9 10 2 11-22 10 18 10-10 11 1 10-24 11 20 10 16 10-10 11-5 10-3 11 10 10 0 10 2 11-21 10 23 11-20 10 2 10 3 11-11 10 33 11-29 10 3 10-17 11 15 10 1 11 9 10-19 10 8 11 24 10 0 11-10 10-17 10 30 11-9 10-9 11 0 10-17 10-1 11 13 10 8 11-8 10 7" stroke="#00CBCC" stroke-width="19.0" fill="none" stroke-linejoin="round" transform="scale(.1)"/>
<path d="M2757 26923l10 8 10-8 11 1 10-16 11 13 10-5 10-15 11-6 10-16 11 2 10 10 10 3 11 0 10-22 11 16 10-3 10-4 11-12 10-9 11 31 10-38 10 21 11-33 10 0 11 8 10 3 10-20 11 2 10 4 11 4 10-17 10-1 11 4 10-9 11-7 10-26 10 26 11 5 10-10 11 32 10-32 10-1 11-1 10 4 11-3 10 10 10-9 11 20 10-20 11 25 10-40 10 19 11-5 10-16 11 27 10-24 10-22 11-12 10-8 11-15 10-8 10-3 11 5 10 10 11 50 10 4 10 24 11 25 10 40 11-23 10 15 10 12 11-8 10-7 11 21 10-5 10-7 11 16 10-22 11-1 10-12 10-16 11-16 10 7 11-15 10-9 10 4 11-10 10-7 11 28 10-3 10 23 11 6 10-32 11 43 10-36 10 0 11 11 10-3 11-2 10 16 10-27 11-3 10-8 11 7 10-26 10 0 11-28 10 6 11-30 10-6 10-12 11-12 10-44 11 3 10 1 10-42 11-34 10-13 11-35 10-52 10-24 11-34 10-72 11-41 10-57 10-33 11-82 10-105 11-85 10-109 10-141 11-127 10-167 11-200 10-217 10-252 11-287 10-360 11-348 10-399 10-416 11-405 10-342 11-278 10-142 10-2 11 170 10 282 11 341 10 401 10 424 11 394 10 378 11 326 10 281 10 259 11 211 10 193 11 177 10 136 10 114 11 126 10 82 11 87 10 70 10 63 11 48 10 64 11 45 10 31 10 40 11 32 10 34 11 14 10 34 10 14 11 21 10 5 11 18 10 29 10 1 11-1 10 12 11 21 10 2 10 11 11 7 10 5 11-12 10 2 10 0 11 7 10 1 11 1 10 3 10 11 11-8 10-31 11-7 10 11 10 4 11-6 10 13 11-23 10 2 10-15 11-1 10-7 11-7 10 2 10-2 11 3 10-9 11-10 10-1 10-23 11 12 10-30 11 37 10-30 10 33 11-18 10-1 11-6 10 20 10-19 11 0 10 16 11 3 10-5 10 14 11-1 10 8 11 13 10 21 10-2 11 13 10 8 11 15 10 0 10 20 11-1 10 0 11 20 10 19 10 11 11 4 10 17 11 4 10-1 10 26 11 2 10-6 11 16 10-6 10 9 11-4 10 3 11 17 10-10 10 1 11 20 10-9 11 13 10 2 10-17 11-9 10 19 11 6 10 2 10-10 11-9 10-1 11 22 10-13 10 16 11-10 10 4 11-15 10 14 10 10 11 10 10-12 11-14 10-9 10 5 11 3 10 7 11-4 10 5 10 6 11-16 10 16 11-15 10 18 10-15 11-5 10-4 11 20 10-8 10-10 11 20 10-19 11 5 10-2 10 9 11 0 10-6 11 13 10-19 10 8 11-7 10 11 11-10 10 1 10 7 11-10 10 14 11-5 10-12 10 5 11 1 10 0 11-10 10 8 10-10 11-2 10 22 11 1 10 9 10-10 11-1 10-14 11 19 10-17 10-1 11 9 10-7 11 4 10 13 10-11 11-2 10 0 11 16 10-23 10 21 11-5 10 16 11-16 10-11 10 2 11 12 10-9 11-7 10 6 10 11 11-11 10 9 11-9 10-10 10 11 11 5 10-5 11-15 10 15 10 7 11 11 10-24 11 4 10-13 10 16 11-10 10-15 11 35 10 0 10-13 11-4 10 0 11-1 10 17 10-7 11-4 10 15 11-12 10 8 10-13 11 11 10 10 11-25 10-2 10 3 11 12 10-8 11-8 10 28 10-8 11 12 10-27 11 4 10-32 10 38 11-6 10 25 11-30 10 7 10-2 11-1 10-5 11 6 10-1 10 1 11 1 10-6 11 2 10 5 10 15 11-15 10-20 11 10 10-4 10 8 11 6 10-4 11-9 10 0 10 22 11-12 10 1 11 4 10 11 10-6 11 6 10-26 11 11 10-21 10 15 11-14 10 5 11 3 10 8 10-10 11 11 10-20 11 5 10 5 10-27 11 28 10-8 11-5 10 3 10 1 11-18 10 7 11-14 10 6 10-2 11-29 10 25 11-1 10-6 10 1 11-5 10-21 11 1 10 16 10-17 11 5 10 6 11-20 10 4 10 7 11-23 10 13 11 4 10-25 10-12 11 14 10 4 11 11 10-25 10-4 11-3 10 6 11-4 10-13 10 14 11-30 10 19 11-13 10-4 10 37 11-11 10-20 11 10 10 17 10-8 11-4 10-16 11 11 10-5 10 14 11 2 10-13 11 12 10-8 10 19 11-5 10-20 11 33 10-6 10-6 11 1 10 9 11 7 10 4 10 27 11-30 10 14 11-10 10 0 10 10 11-4 10 5 11 18 10-23 10 33 11-11 10-7 11 29 10-7 10-11 11-1 10-2 11 22 10-4 10 10 11-7 10 27 11-12 10-11 10 25 11-14 10 0 11-4 10 2 10 36 11-24 10 22 11-21 10-3 10 20 11-24 10 12 11 4 10 10 10-6 11 10 10-9 11-12 10 22 10 0 11 1 10-6 11-11 10 6 10-9 11-2 10-5 11 27 10-12 10-10 11 23 10-2 11 9 10-7 10 8 11-26 10 22 11-13 10-16 10 7 11 13 10-21 11 3 10 20 10-10 11 5 10 5 11 2 10-7 10 9 11-4 10-2 11-9 10-8 10 20 11-9 10-9 11 12 10-3 10-16 11 30 10-14 11-11 10 21 10-15 11-4 10 16 11-8 10 9 10-14 11 9 10-1 11 3 10-9 10 14 11-7 10-9 11 5 10 5 10 10 11-14 10 0 11 0 10-3 10 3 11-4 10 33 11-17 10-16 10-1 11 10 10 8 11-7 10 13 10-8 11-7 10 16 11-15 10-15 10-2 11-12 10 26 11-1 10-3 10 8 11 2 10 5 11-22 10 15 10 11 11-17 10 23 11-13 10-19 10 13 11 5 10-20 11 22 10-17 10-3 11 24 10-3 11-19 10-5 10 34 11-32 10 29 11-35 10 19 10 3 11-1 10-4 11 19 10-31 10 10 11-11 10 29 11-25 10 16 10-22 11 4 10 27 11-8 10-14 10 14 11 3 10 6 11-49 10 28 10 16 11-4 10-20 11 11 10-9 10 19 11-12 10 1 11 8 10-3 10-27 11 27 10 8 11-21 10 20 10-11 11-17 10 17 11 7 10-18 10 28 11 5 10-12 11-7 10 0 10 10 11 10 10-15 11-6 10 8 10 0 11 5 10-31 11 32 10-2 10-13 11-4 10 14 11-4 10-14 10 13 11-3 10 13 11-14 10 10 10 2 11-11 10 1 11-5 10 11 10-7 11-2 10 0 11-18 10 7 10 13 11-1 10-13 11 8 10 16 10-18 11 0 10-9 11 14 10 16 10-14 11-5 10 14 11 3 10 3 10-16 11 3 10 10 11 6 10-27 10 15 11-25 10 22 11 5 10 2 10-30 11 30 10-18 11 14 10 22 10-41 11 1 10 35 11-26 10 16 10 2 11-26 10 9 11 11 10 3 10-10 11 4 10 0 11-7 10 5 10-8 11-4 10 1 11 15 10-18 10-4 11 22 10-14 11 14 10 0 10-30 11 0 10 28 11 2 10-22 10 13 11 14 10-15 11 1 10 14 10-5 11 4 10-9 11-1 10-12 10 17 11-5 10 9 11-8 10 0" stroke="#FB6501" stroke-width="19.0" fill="none" stroke-linejoin="round" transform="scale(.1)"/>
<path d="M2757 26924l10-1 10 1 11-16 10-6 11 5 10-13 10 6 11-12 10 7 11-15 10-1 10 4 11-8 10-10 11 2 10 8 10-24 11 3 10-23 11 33 10-16 10-15 11 2 10-11 11-20 10 19 10-10 11-8 10-13 11 12 10-22 10-1 11 28 10-47 11 6 10-5 10 3 11 14 10-14 11 15 10-23 10 1 11-6 10 12 11 9 10-9 10 3 11-18 10 19 11 11 10-1 10-19 11 8 10 10 11-8 10-5 10-19 11-24 10 5 11-22 10 0 10 16 11-3 10 38 11 10 10 38 10 12 11 40 10-3 11-4 10 11 10 13 11 5 10 18 11-11 10 4 10-2 11-25 10 7 11-17 10 11 10-10 11-21 10-3 11-14 10-7 10-24 11 21 10-14 11 33 10 5 10-14 11 18 10-17 11 12 10 6 10-14 11-6 10 15 11 3 10-20 10-8 11-11 10-21 11 1 10-15 10-23 11 15 10-30 11-5 10-31 10 1 11-22 10-36 11-12 10-42 10-11 11-40 10-32 11-27 10-43 10-49 11-47 10-61 11-44 10-69 10-96 11-78 10-84 11-124 10-145 10-128 11-162 10-186 11-228 10-257 10-287 11-318 10-373 11-411 10-473 10-460 11-522 10-458 11-404 10-286 10-79 11 52 10 217 11 330 10 477 10 462 11 510 10 468 11 442 10 380 10 346 11 303 10 264 11 244 10 189 10 165 11 156 10 143 11 97 10 116 10 81 11 79 10 65 11 61 10 91 10 33 11 38 10 40 11 41 10 5 10 52 11 12 10 30 11 19 10 19 10 53 11-17 10 19 11 19 10-3 10 21 11 3 10 4 11 6 10 7 10-1 11 16 10-4 11 9 10-10 10-1 11 9 10 0 11 4 10-1 10-33 11 35 10-25 11-1 10 12 10-35 11 11 10-2 11-12 10 0 10 9 11-18 10-4 11-6 10-15 10 7 11 5 10-8 11-12 10 3 10 5 11 3 10 6 11-9 10 7 10-4 11 6 10 3 11-1 10 9 10-8 11 20 10-19 11 49 10 2 10 8 11 10 10-1 11 9 10 17 10 9 11 19 10 6 11 17 10 13 10-2 11 0 10 7 11 31 10-2 10-8 11 23 10-1 11 10 10-3 10 18 11-8 10-16 11 45 10-29 10 29 11-7 10-14 11 11 10-8 10-8 11 10 10 22 11-4 10 9 10-11 11 18 10-31 11 5 10 17 10-2 11-6 10-3 11 0 10 4 10-10 11 5 10 2 11 15 10-15 10 10 11-20 10 30 11-2 10-14 10-11 11 7 10 15 11-24 10 23 10-16 11 13 10 2 11-5 10-17 10 20 11-11 10 8 11-12 10 19 10-12 11 6 10-11 11 5 10 5 10 1 11-7 10-8 11 2 10 8 10-6 11 11 10-10 11-3 10 4 10 12 11-7 10-4 11 7 10 5 10-14 11-6 10 11 11-13 10 19 10-23 11 22 10-4 11-3 10-13 10 13 11-2 10-3 11 15 10-1 10 9 11-7 10-6 11 7 10-26 10 23 11-11 10 33 11-42 10 14 10-1 11-6 10-3 11-11 10 34 10-14 11 9 10-12 11 7 10 5 10 11 11-34 10 15 11 11 10-8 10 9 11 7 10-9 11 1 10-29 10 17 11 9 10 3 11-20 10 10 10 7 11-9 10 4 11-18 10-5 10 21 11-13 10 7 11 18 10-16 10 15 11-23 10 5 11 10 10 9 10-16 11 7 10 4 11-23 10 1 10 6 11 11 10 2 11-34 10 29 10-22 11 16 10 3 11 5 10 7 10-5 11-21 10 8 11 17 10-3 10-10 11-3 10 19 11-6 10 0 10-20 11 7 10 13 11-17 10 34 10-6 11-15 10 6 11-7 10 7 10 0 11-20 10 10 11-22 10 27 10-13 11-19 10 9 11 19 10-3 10-9 11 11 10-17 11 4 10-2 10 4 11-3 10 14 11-43 10 22 10 0 11-9 10-22 11 21 10-3 10 0 11-12 10 4 11 6 10 4 10-14 11-3 10-20 11 10 10-7 10 8 11 3 10-10 11-11 10 11 10-14 11-17 10 6 11 2 10-4 10-2 11-12 10-6 11 11 10 2 10-21 11-4 10 5 11 5 10-24 10 27 11-2 10-29 11-9 10 9 10-8 11 6 10-10 11 17 10-4 10 0 11 0 10-13 11 8 10 12 10-37 11 27 10 6 11-3 10-3 10-4 11-2 10 22 11-36 10 11 10 31 11-16 10 6 11 17 10-5 10-4 11-13 10 24 11-9 10 18 10-8 11-13 10 14 11 7 10 8 10 5 11 10 10 9 11-12 10 6 10 23 11-11 10 14 11-21 10 23 10-8 11-16 10-3 11 31 10 22 10-17 11-6 10 5 11 3 10 5 10 12 11-1 10-9 11 1 10 13 10 1 11-3 10-4 11 15 10 10 10-8 11-3 10-19 11 11 10 14 10-21 11 35 10-10 11-26 10 17 10 4 11 12 10-5 11-18 10 13 10 6 11-16 10-4 11 24 10-16 10 6 11 1 10 13 11-12 10 11 10-7 11-9 10 7 11-3 10-5 10-5 11 8 10-1 11 14 10 6 10-19 11 15 10-1 11-8 10 0 10-12 11 27 10-1 11 13 10-30 10 1 11 7 10 0 11 1 10 9 10 0 11-7 10-13 11-5 10 12 10-3 11 7 10-13 11 2 10-11 10 17 11 8 10-10 11 8 10-6 10-14 11 14 10-2 11 2 10-12 10-8 11 25 10-30 11 25 10 0 10-3 11 11 10-5 11 0 10-10 10 14 11-14 10 14 11-4 10-3 10 7 11-8 10 6 11-22 10 22 10-2 11-14 10 17 11-5 10-9 10 10 11 14 10-11 11-25 10 23 10-13 11 6 10 4 11 2 10-7 10 6 11-12 10 7 11 4 10-2 10-6 11 6 10 8 11 2 10 0 10-7 11-7 10-10 11 5 10-2 10 19 11 5 10-23 11 0 10 21 10-13 11-6 10-6 11 34 10-37 10 15 11 4 10-7 11 15 10 4 10-13 11-4 10 10 11 5 10-27 10 20 11 11 10-8 11 2 10-11 10-7 11-2 10 13 11-5 10 16 10-6 11-18 10 29 11-12 10-28 10 24 11-4 10 2 11-1 10 2 10-2 11-18 10 14 11-1 10 5 10 21 11-27 10 16 11-13 10 8 10-20 11 18 10 5 11-3 10-6 10 4 11 14 10-13 11-11 10-11 10 22 11-15 10 18 11 3 10-10 10 1 11-1 10 22 11-27 10 0 10 6 11-7 10-17 11 18 10 3 10 7 11-15 10 15 11-20 10 20 10 4 11-7 10-23 11 9 10 10 10 10 11-14 10 12 11-9 10 3 10-4 11-7 10 6 11 3 10 3 10 4 11-15 10 12 11-2 10-10 10-1 11-4 10 8 11-3 10 9 10 8 11-12 10-16 11 14 10-10 10 20 11 5 10-21 11 8 10 12 10 6 11-9 10 13 11-19 10-15 10 9 11 22 10-19 11-5 10 7 10-6 11 2 10 3 11-19 10 29 10-3 11 2 10-37 11 52 10-26 10 9 11-2 10-3 11-9 10 7 10 10 11-12 10 3 11 1 10 18 10-29 11 8 10 5 11-7 10 13" stroke="#F14040" stroke-width="19.0" fill="none" stroke-linejoin="round" transform="scale(.1)"/>
<path d="M255.6 820.5v14M405.25 820.5v14M554.9 820.5v14M704.55 820.5v14M854.2 820.5v14M1003.85 820.5v14M1153.5 820.5v14M330.43 820.5v7M480.07 820.5v7M629.73 820.5v7M779.38 820.5v7M929.02 820.5v7M1078.67 820.5v7M213.5 800.4h-14.5M213.5 595h-14.5M213.5 389.6h-14.5M213.5 184.2h-14.5M213.5 697.7h-6.5M213.5 492.3h-6.5M213.5 286.9h-6.5M213.5 81.5h-6.5" stroke="#000" stroke-width="3" fill="none"/>
<rect x="213.5" y="28.5" width="940" height="792" fill="none" stroke="#000" stroke-width="3"/>
<path d="M211.6 1791.5v14M305.79 1791.5v14M399.98 1791.5v14M494.17 1791.5v14M588.36 1791.5v14M682.55 1791.5v14M776.74 1791.5v14M870.93 1791.5v14M965.12 1791.5v14M1059.31 1791.5v14M1153.5 1791.5v14M258.69 1791.5v7M352.88 1791.5v7M447.07 1791.5v7M541.26 1791.5v7M635.45 1791.5v7M729.64 1791.5v7M823.84 1791.5v7M918.02 1791.5v7M1012.22 1791.5v7M1106.4 1791.5v7M211.6 1782h-14.5M211.6 1686.45h-14.5M211.6 1590.9h-14.5M211.6 1495.35h-14.5M211.6 1399.8h-14.5M211.6 1304.25h-14.5M211.6 1208.7h-14.5M211.6 1113.15h-14.5M211.6 1017.6h-14.5M211.6 1734.22h-6.5M211.6 1638.67h-6.5M211.6 1543.12h-6.5M211.6 1447.58h-6.5M211.6 1352.03h-6.5M211.6 1256.47h-6.5M211.6 1160.93h-6.5M211.6 1065.38h-6.5" stroke="#000" stroke-width="3" fill="none"/>
<rect x="211.6" y="1017.6" width="941.9" height="773.9" fill="none" stroke="#000" stroke-width="3"/>
<path d="M297.5 2727.3v14M401.5 2727.3v14M505.5 2727.3v14M609.5 2727.3v14M713.5 2727.3v14M817.5 2727.3v14M921.5 2727.3v14M1025.5 2727.3v14M1129.5 2727.3v14M245.5 2727.3v7M349.5 2727.3v7M453.5 2727.3v7M557.5 2727.3v7M661.5 2727.3v7M765.5 2727.3v7M869.5 2727.3v7M973.5 2727.3v7M1077.5 2727.3v7M221.5 2693.4h-14.5M221.5 2066h-14.5M221.5 2379.7h-6.5" stroke="#000" stroke-width="3" fill="none"/>
<rect x="221.5" y="1968.5" width="941.9" height="758.8" fill="none" stroke="#000" stroke-width="3"/>
<text transform="translate(170.6 810.4) scale(0.9170 1)" font-size="35" font-weight="normal" fill="#000">0</text>
<text transform="translate(99.21 605) scale(0.9170 1)" font-size="35" font-weight="normal" fill="#000">20000</text>
<text transform="translate(99.21 399.6) scale(0.9170 1)" font-size="35" font-weight="normal" fill="#000">40000</text>
<text transform="translate(99.21 194.2) scale(0.9170 1)" font-size="35" font-weight="normal" fill="#000">60000</text>
<text transform="translate(228.65 872.8) scale(0.9140 1)" font-size="35.5" font-weight="normal" fill="#000">200</text>
<text transform="translate(378.74 872.8) scale(0.9140 1)" font-size="35.5" font-weight="normal" fill="#000">400</text>
<text transform="translate(527.94 872.8) scale(0.9140 1)" font-size="35.5" font-weight="normal" fill="#000">600</text>
<text transform="translate(677.71 872.8) scale(0.9140 1)" font-size="35.5" font-weight="normal" fill="#000">800</text>
<text transform="translate(817.27 872.8) scale(0.9140 1)" font-size="35.5" font-weight="normal" fill="#000"> 000</text>
<path d="M829.7 872.8 L826.81 872.8 L826.81 852.5 L820.81 856.9 L820.81 854.96 L826.36 848.38 L829.7 848.38 Z" fill="#000"/>
<text transform="translate(966.92 872.8) scale(0.9140 1)" font-size="35.5" font-weight="normal" fill="#000"> 200</text>
<path d="M979.35 872.8 L976.46 872.8 L976.46 852.5 L970.46 856.9 L970.46 854.96 L976.01 848.38 L979.35 848.38 Z" fill="#000"/>
<text transform="translate(1116.57 872.8) scale(0.9140 1)" font-size="35.5" font-weight="normal" fill="#000"> 400</text>
<path d="M1129 872.8 L1126.11 872.8 L1126.11 852.5 L1120.11 856.9 L1120.11 854.96 L1125.66 848.38 L1129 848.38 Z" fill="#000"/>
<text transform="translate(168.05 1792.1) scale(0.9140 1)" font-size="34.8" font-weight="normal" fill="#000">0</text>
<text transform="translate(97.29 1696.55) scale(0.9140 1)" font-size="34.8" font-weight="normal" fill="#000">20000</text>
<text transform="translate(97.29 1601) scale(0.9140 1)" font-size="34.8" font-weight="normal" fill="#000">40000</text>
<text transform="translate(97.29 1505.45) scale(0.9140 1)" font-size="34.8" font-weight="normal" fill="#000">60000</text>
<text transform="translate(97.29 1409.9) scale(0.9140 1)" font-size="34.8" font-weight="normal" fill="#000">80000</text>
<text transform="translate(79.6 1314.35) scale(0.9140 1)" font-size="34.8" font-weight="normal" fill="#000"> 00000</text>
<path d="M91.79 1314.35 L88.96 1314.35 L88.96 1294.45 L83.07 1298.77 L83.07 1296.86 L88.51 1290.41 L91.79 1290.41 Z" fill="#000"/>
<text transform="translate(79.6 1218.8) scale(0.9140 1)" font-size="34.8" font-weight="normal" fill="#000"> 20000</text>
<path d="M91.79 1218.8 L88.96 1218.8 L88.96 1198.9 L83.07 1203.22 L83.07 1201.31 L88.51 1194.86 L91.79 1194.86 Z" fill="#000"/>
<text transform="translate(79.6 1123.25) scale(0.9140 1)" font-size="34.8" font-weight="normal" fill="#000"> 40000</text>
<path d="M91.79 1123.25 L88.96 1123.25 L88.96 1103.35 L83.07 1107.67 L83.07 1105.76 L88.51 1099.31 L91.79 1099.31 Z" fill="#000"/>
<text transform="translate(79.6 1027.7) scale(0.9140 1)" font-size="34.8" font-weight="normal" fill="#000"> 60000</text>
<path d="M91.79 1027.7 L88.96 1027.7 L88.96 1007.8 L83.07 1012.12 L83.07 1010.21 L88.51 1003.76 L91.79 1003.76 Z" fill="#000"/>
<text transform="translate(202.41 1843) scale(0.9350 1)" font-size="34.2" font-weight="normal" fill="#000">0</text>
<text transform="translate(278.63 1843) scale(0.9350 1)" font-size="34.2" font-weight="normal" fill="#000">200</text>
<text transform="translate(373.26 1843) scale(0.9350 1)" font-size="34.2" font-weight="normal" fill="#000">400</text>
<text transform="translate(467.01 1843) scale(0.9350 1)" font-size="34.2" font-weight="normal" fill="#000">600</text>
<text transform="translate(561.31 1843) scale(0.9350 1)" font-size="34.2" font-weight="normal" fill="#000">800</text>
<text transform="translate(645.56 1843) scale(0.9350 1)" font-size="34.2" font-weight="normal" fill="#000"> 000</text>
<path d="M657.81 1843 L654.96 1843 L654.96 1823.45 L649.05 1827.69 L649.05 1825.81 L654.52 1819.47 L657.81 1819.47 Z" fill="#000"/>
<text transform="translate(739.75 1843) scale(0.9350 1)" font-size="34.2" font-weight="normal" fill="#000"> 200</text>
<path d="M752 1843 L749.15 1843 L749.15 1823.45 L743.24 1827.69 L743.24 1825.81 L748.71 1819.47 L752 1819.47 Z" fill="#000"/>
<text transform="translate(833.94 1843) scale(0.9350 1)" font-size="34.2" font-weight="normal" fill="#000"> 400</text>
<path d="M846.19 1843 L843.34 1843 L843.34 1823.45 L837.43 1827.69 L837.43 1825.81 L842.9 1819.47 L846.19 1819.47 Z" fill="#000"/>
<text transform="translate(928.13 1843) scale(0.9350 1)" font-size="34.2" font-weight="normal" fill="#000"> 600</text>
<path d="M940.38 1843 L937.53 1843 L937.53 1823.45 L931.62 1827.69 L931.62 1825.81 L937.09 1819.47 L940.38 1819.47 Z" fill="#000"/>
<text transform="translate(1022.32 1843) scale(0.9350 1)" font-size="34.2" font-weight="normal" fill="#000"> 800</text>
<path d="M1034.57 1843 L1031.72 1843 L1031.72 1823.45 L1025.81 1827.69 L1025.81 1825.81 L1031.28 1819.47 L1034.57 1819.47 Z" fill="#000"/>
<text transform="translate(1117.45 1843) scale(0.9350 1)" font-size="34.2" font-weight="normal" fill="#000">2000</text>
<text transform="translate(178.36 2702.7) scale(0.9900 1)" font-size="32.5" font-weight="normal" fill="#000">0</text>
<text transform="translate(106.79 2075.3) scale(0.9900 1)" font-size="32.5" font-weight="normal" fill="#000">20000</text>
<text transform="translate(269.9 2777.6) scale(0.9750 1)" font-size="33.1" font-weight="normal" fill="#000">200</text>
<text transform="translate(374.34 2777.6) scale(0.9750 1)" font-size="33.1" font-weight="normal" fill="#000">400</text>
<text transform="translate(477.89 2777.6) scale(0.9750 1)" font-size="33.1" font-weight="normal" fill="#000">600</text>
<text transform="translate(582.01 2777.6) scale(0.9750 1)" font-size="33.1" font-weight="normal" fill="#000">800</text>
<text transform="translate(675.97 2777.6) scale(0.9750 1)" font-size="33.1" font-weight="normal" fill="#000"> 000</text>
<path d="M688.33 2777.6 L685.46 2777.6 L685.46 2758.68 L679.49 2762.78 L679.49 2760.97 L685.01 2754.83 L688.33 2754.83 Z" fill="#000"/>
<text transform="translate(779.97 2777.6) scale(0.9750 1)" font-size="33.1" font-weight="normal" fill="#000"> 200</text>
<path d="M792.33 2777.6 L789.46 2777.6 L789.46 2758.68 L783.49 2762.78 L783.49 2760.97 L789.01 2754.83 L792.33 2754.83 Z" fill="#000"/>
<text transform="translate(883.97 2777.6) scale(0.9750 1)" font-size="33.1" font-weight="normal" fill="#000"> 400</text>
<path d="M896.33 2777.6 L893.46 2777.6 L893.46 2758.68 L887.49 2762.78 L887.49 2760.97 L893.01 2754.83 L896.33 2754.83 Z" fill="#000"/>
<text transform="translate(987.97 2777.6) scale(0.9750 1)" font-size="33.1" font-weight="normal" fill="#000"> 600</text>
<path d="M1000.33 2777.6 L997.46 2777.6 L997.46 2758.68 L991.49 2762.78 L991.49 2760.97 L997.01 2754.83 L1000.33 2754.83 Z" fill="#000"/>
<text transform="translate(1091.97 2777.6) scale(0.9750 1)" font-size="33.1" font-weight="normal" fill="#000"> 800</text>
<path d="M1104.33 2777.6 L1101.46 2777.6 L1101.46 2758.68 L1095.49 2762.78 L1095.49 2760.97 L1101.01 2754.83 L1104.33 2754.83 Z" fill="#000"/>
<text transform="translate(81 727.3) rotate(-90) scale(0.9932 1)" font-size="52.6" font-weight="bold" fill="#000">Normalized counts (a.u.)</text>
<text transform="translate(60 1700.21) rotate(-90) scale(0.9683 1)" font-size="52.6" font-weight="bold" fill="#000">Normalized counts (a.u.)</text>
<text transform="translate(88 2637.35) rotate(-90) scale(0.9496 1)" font-size="52.6" font-weight="bold" fill="#000">Normalized counts (a.u.)</text>
<text transform="translate(459.85 956.9) scale(0.9504 1)" font-size="52.6" font-weight="bold" fill="#000">Raman shift (cm</text>
<text transform="translate(850.36 937.4) scale(1.0084 1)" font-size="34" font-weight="normal" fill="#000">−</text>
<path d="M874.4 917.3 L880.2 911 L885.4 911 L885.4 935.9 L880.8 935.9 L880.8 918.6 L874.4 922.2 Z" fill="#000"/>
<text transform="translate(892.9 956.9) scale(0.7938 1)" font-size="52.6" font-weight="bold" fill="#000">)</text>
<text transform="translate(457.94 1926.8) scale(0.9527 1)" font-size="52.6" font-weight="bold" fill="#000">Raman shift (cm</text>
<text transform="translate(849.49 1907.01) scale(0.9844 1)" font-size="34" font-weight="normal" fill="#000">−</text>
<path d="M873.45 1887.2 L879.25 1880.9 L884.45 1880.9 L884.45 1905.8 L879.85 1905.8 L879.85 1888.5 L873.45 1892.1 Z" fill="#000"/>
<text transform="translate(892 1926.8) scale(0.7938 1)" font-size="52.6" font-weight="bold" fill="#000">)</text>
<text transform="translate(467.85 2859.7) scale(0.9502 1)" font-size="52.6" font-weight="bold" fill="#000">Raman shift (cm</text>
<text transform="translate(858.77 2841.11) scale(1.0024 1)" font-size="34" font-weight="normal" fill="#000">−</text>
<path d="M883 2820.3 L888.8 2814 L894 2814 L894 2838.9 L889.4 2838.9 L889.4 2821.6 L883 2825.2 Z" fill="#000"/>
<text transform="translate(901 2859.7) scale(0.8205 1)" font-size="52.6" font-weight="bold" fill="#000">)</text>
<text transform="translate(451.31 90.95) scale(0.9081 1)" font-size="50.43" font-weight="bold" fill="#009600">45 </text>
<path d="M521.8 90.95 L513.83 90.95 L513.83 68.17 L506.37 71.57 L506.37 64.54 L511.4 61.87 L515.98 56.25 L521.8 56.25 Z" fill="#009600"/>
<text transform="translate(550.59 93.95) scale(0.9101 1)" font-size="50.43" font-weight="bold" fill="#009600">583</text>
<text transform="translate(682.01 86.9) scale(0.9212 1)" font-size="53.33" font-weight="bold" fill="#009600">Ni</text>
<text transform="translate(731.33 100.8) scale(0.8689 1)" font-size="36.23" font-weight="bold" fill="#009600">4</text>
<text transform="translate(750.32 86.86) scale(0.9178 1)" font-size="53.8" font-weight="bold" fill="#009600">Ce</text>
<text transform="translate(813.62 100.74) scale(0.9489 1)" font-size="35.63" font-weight="bold" fill="#009600">6</text>
<text transform="translate(336.83 1085.76) scale(0.9586 1)" font-size="48.57" font-weight="normal" fill="#FF8800">450</text>
<text transform="translate(474.53 1085.75) scale(0.9435 1)" font-size="49.57" font-weight="normal" fill="#FF8800">545</text>
<text transform="translate(625.24 1068) scale(0.9670 1)" font-size="51.88" font-weight="bold" fill="#FF8800">Ni</text>
<text transform="translate(674.82 1083) scale(0.9069 1)" font-size="37.29" font-weight="bold" fill="#FF8800">2</text>
<text transform="translate(694.32 1068.17) scale(0.9315 1)" font-size="53.24" font-weight="bold" fill="#FF8800">Cu</text>
<text transform="translate(759.99 1082.9) scale(0.9452 1)" font-size="36.43" font-weight="bold" fill="#FF8800">2</text>
<text transform="translate(780.24 1067.48) scale(0.9405 1)" font-size="51.97" font-weight="bold" fill="#FF8800">Ce</text>
<text transform="translate(843.51 1082.54) scale(0.9472 1)" font-size="35.92" font-weight="bold" fill="#FF8800">6</text>
<text transform="translate(342.98 2086.25) scale(0.9525 1)" font-size="49.14" font-weight="bold" fill="#0016BE">282</text>
<text transform="translate(430.49 2085.36) scale(0.9538 1)" font-size="49" font-weight="bold" fill="#0016BE">452</text>
<text transform="translate(526.39 2083.45) scale(0.9483 1)" font-size="49.14" font-weight="bold" fill="#0016BE">6 7</text>
<path d="M572.21 2083.45 L564.1 2083.45 L564.1 2061.26 L556.51 2064.57 L556.51 2057.72 L561.63 2055.12 L566.29 2049.64 L572.21 2049.64 Z" fill="#0016BE"/>
<text transform="translate(798.24 2079.66) scale(0.9797 1)" font-size="48.29" font-weight="bold" fill="#0016BE">  47</text>
<path d="M818.44 2079.66 L810.21 2079.66 L810.21 2057.85 L802.5 2061.1 L802.5 2054.37 L807.7 2051.82 L812.43 2046.44 L818.44 2046.44 Z" fill="#0016BE"/>
<path d="M844.75 2079.66 L836.52 2079.66 L836.52 2057.85 L828.81 2061.1 L828.81 2054.37 L834.01 2051.82 L838.74 2046.44 L844.75 2046.44 Z" fill="#0016BE"/>
<text transform="translate(577.24 2017.18) scale(0.9459 1)" font-size="51.83" font-weight="bold" fill="#0016BE">Cu</text>
<text transform="translate(643.21 2030.3) scale(0.9449 1)" font-size="34.49" font-weight="bold" fill="#0016BE">4</text>
<text transform="translate(661.8 2017.18) scale(0.9671 1)" font-size="51.83" font-weight="bold" fill="#0016BE">Ce</text>
<text transform="translate(726.35 2029.97) scale(0.9967 1)" font-size="33.1" font-weight="bold" fill="#0016BE">6</text>
</svg></body></html>
